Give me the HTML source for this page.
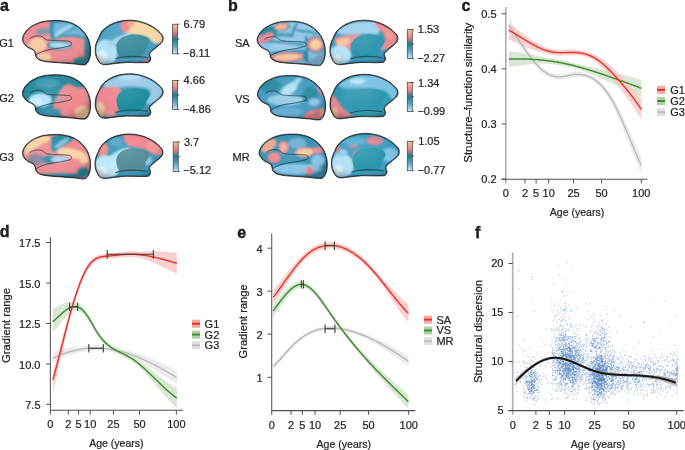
<!DOCTYPE html><html><head><meta charset="utf-8"><style>html,body{margin:0;padding:0;background:#fff;overflow:hidden}svg{display:block;will-change:transform}text{font-family:"Liberation Sans",sans-serif}</style></head><body>
<svg width="685" height="450" viewBox="0 0 685 450">
<defs><filter id="blM" x="-20%" y="-20%" width="140%" height="140%"><feGaussianBlur stdDeviation="1.3"/></filter><filter id="blS" x="-20%" y="-20%" width="140%" height="140%"><feGaussianBlur stdDeviation="0.9"/></filter><filter id="blT" x="-20%" y="-20%" width="140%" height="140%"><feGaussianBlur stdDeviation="0.7"/></filter><radialGradient id="shade" cx="0.45" cy="0.4" r="0.62"><stop offset="0" stop-color="#fff" stop-opacity="0.10"/><stop offset="0.6" stop-color="#fff" stop-opacity="0"/><stop offset="0.85" stop-color="#000" stop-opacity="0.05"/><stop offset="1" stop-color="#000" stop-opacity="0.22"/></radialGradient></defs>
<rect width="685" height="450" fill="#fff"/>
<text x="0" y="10.7" font-size="16" text-anchor="start" font-weight="bold" stroke="#000" stroke-width="0.35" fill="#231f20">a</text>
<text x="14.0" y="47" font-size="11" text-anchor="end" stroke="#231f20" stroke-width="0.22" fill="#231f20">G1</text>
<text x="14.0" y="102.4" font-size="11" text-anchor="end" stroke="#231f20" stroke-width="0.22" fill="#231f20">G2</text>
<text x="14.0" y="160.8" font-size="11" text-anchor="end" stroke="#231f20" stroke-width="0.22" fill="#231f20">G3</text>
<g transform="translate(22.3,20) scale(1.0,1.0)">
<clipPath id="cp1"><path d="M0.1,18.6 C0.5,15.5 2.5,12.5 4.4,10.2 C6.5,8 9,6.2 12.1,4.7 C15.5,3 18.5,2 22.1,1.3 C26,0.6 30,0.4 34.4,0.4 C39,0.4 43.5,1.2 47.7,2.4 C51.5,3.6 55,5.7 57.7,8 C60.5,10.4 62.8,13 64.4,15.8 C66.8,20 68.2,25 68.3,30.2 C68.4,33.5 68,36.5 67.1,39.1 C66.2,41.8 65,43.5 63.3,44.7 C60,45.3 56.5,44.5 53.3,44.1 C45.5,43.2 38,42.8 31,42.4 C26,42 21,41.5 17.7,40.2 C15,39 13.7,37.5 13.3,35.8 C13,34 13,32.5 12.1,31.3 C10.5,29.5 8.5,28.8 6.6,28 C4.5,27 3,25.5 2.1,24.1 C0.8,22.5 0,20.5 0.1,18.6 Z"/></clipPath>
<g clip-path="url(#cp1)">
<path d="M0.1,18.6 C0.5,15.5 2.5,12.5 4.4,10.2 C6.5,8 9,6.2 12.1,4.7 C15.5,3 18.5,2 22.1,1.3 C26,0.6 30,0.4 34.4,0.4 C39,0.4 43.5,1.2 47.7,2.4 C51.5,3.6 55,5.7 57.7,8 C60.5,10.4 62.8,13 64.4,15.8 C66.8,20 68.2,25 68.3,30.2 C68.4,33.5 68,36.5 67.1,39.1 C66.2,41.8 65,43.5 63.3,44.7 C60,45.3 56.5,44.5 53.3,44.1 C45.5,43.2 38,42.8 31,42.4 C26,42 21,41.5 17.7,40.2 C15,39 13.7,37.5 13.3,35.8 C13,34 13,32.5 12.1,31.3 C10.5,29.5 8.5,28.8 6.6,28 C4.5,27 3,25.5 2.1,24.1 C0.8,22.5 0,20.5 0.1,18.6 Z" fill="#ee8c92"/>
<g filter="url(#blM)">
<ellipse cx="15" cy="25" rx="9" ry="7" transform="rotate(0 15 25)" fill="#f6cba6" opacity="1"/>
<ellipse cx="21" cy="37" rx="8" ry="4.5" transform="rotate(0 21 37)" fill="#f6cba6" opacity="1"/>
<ellipse cx="21" cy="11.5" rx="8" ry="3.2" transform="rotate(-5 21 11.5)" fill="#7598aa" opacity="1"/>
<path d="M28,1 C36,-1 50,0 60,6 C65,10 67,15 66,20 C60,18 52,16 45,16.5 C38,17 33,19 30,21 C27,16 27,8 28,1 Z" fill="#2b8fa6" opacity="1"/>
<path d="M31.5,3 C38,1.5 50,2.5 58,7.5 C62,11 63.5,14 63,17 C58,15.5 52,14 45,14.5 C39,15 35,16.5 33,18 C31,14 31,8 31.5,3 Z" fill="#6fb6dc" opacity="1"/>
<ellipse cx="41.5" cy="10.5" rx="11" ry="2.6" transform="rotate(-33 41.5 10.5)" fill="#a6d8f2" opacity="1"/>
<path d="M34,18.5 C39,14 45,10.5 53,7.5" fill="none" stroke="#2a8ca4" stroke-width="1.4" stroke-linecap="round" opacity="0.9"/>
<ellipse cx="51" cy="27" rx="10" ry="7.5" transform="rotate(0 51 27)" fill="#e98e95" opacity="1"/>
<ellipse cx="37" cy="25.4" rx="12.5" ry="4.4" transform="rotate(2 37 25.4)" fill="#2a8ca4" opacity="1"/>
<ellipse cx="37.5" cy="25.3" rx="10.5" ry="3.1" transform="rotate(2 37.5 25.3)" fill="#a6dbf6" opacity="1"/>
<ellipse cx="66.5" cy="28" rx="4.5" ry="16" transform="rotate(0 66.5 28)" fill="#2a8ca0" opacity="1"/>
<ellipse cx="60" cy="42" rx="9" ry="4.5" transform="rotate(0 60 42)" fill="#2f8ea0" opacity="1"/>
<ellipse cx="38" cy="44.5" rx="20" ry="1.8" transform="rotate(0 38 44.5)" fill="#2f8a9a" opacity="0.7"/>
</g>

<path d="M7.4,18.7 C10,16.5 14,15.5 18,16 C21,16.5 22.5,19.5 25,20 C32,21 40,20.5 47.3,21.3 C49.5,22 49.8,24.8 48.2,25.6 C42,27.5 34,28.5 28.7,29.3 C23,30.5 19,31.5 12.7,35.3" fill="none" stroke="#0e2a35" stroke-width="0.9" opacity="0.75" filter="url(#blT)"/>
<path d="M0.1,18.6 C0.5,15.5 2.5,12.5 4.4,10.2 C6.5,8 9,6.2 12.1,4.7 C15.5,3 18.5,2 22.1,1.3 C26,0.6 30,0.4 34.4,0.4 C39,0.4 43.5,1.2 47.7,2.4 C51.5,3.6 55,5.7 57.7,8 C60.5,10.4 62.8,13 64.4,15.8 C66.8,20 68.2,25 68.3,30.2 C68.4,33.5 68,36.5 67.1,39.1 C66.2,41.8 65,43.5 63.3,44.7 C60,45.3 56.5,44.5 53.3,44.1 C45.5,43.2 38,42.8 31,42.4 C26,42 21,41.5 17.7,40.2 C15,39 13.7,37.5 13.3,35.8 C13,34 13,32.5 12.1,31.3 C10.5,29.5 8.5,28.8 6.6,28 C4.5,27 3,25.5 2.1,24.1 C0.8,22.5 0,20.5 0.1,18.6 Z" fill="url(#shade)"/>
<path d="M0.1,18.6 C0.5,15.5 2.5,12.5 4.4,10.2 C6.5,8 9,6.2 12.1,4.7 C15.5,3 18.5,2 22.1,1.3 C26,0.6 30,0.4 34.4,0.4 C39,0.4 43.5,1.2 47.7,2.4 C51.5,3.6 55,5.7 57.7,8 C60.5,10.4 62.8,13 64.4,15.8 C66.8,20 68.2,25 68.3,30.2 C68.4,33.5 68,36.5 67.1,39.1 C66.2,41.8 65,43.5 63.3,44.7 C60,45.3 56.5,44.5 53.3,44.1 C45.5,43.2 38,42.8 31,42.4 C26,42 21,41.5 17.7,40.2 C15,39 13.7,37.5 13.3,35.8 C13,34 13,32.5 12.1,31.3 C10.5,29.5 8.5,28.8 6.6,28 C4.5,27 3,25.5 2.1,24.1 C0.8,22.5 0,20.5 0.1,18.6 Z" fill="none" stroke="#0d2731" stroke-width="2.0" opacity="0.5" filter="url(#blT)"/>
</g>
<path d="M0.1,18.6 C0.5,15.5 2.5,12.5 4.4,10.2 C6.5,8 9,6.2 12.1,4.7 C15.5,3 18.5,2 22.1,1.3 C26,0.6 30,0.4 34.4,0.4 C39,0.4 43.5,1.2 47.7,2.4 C51.5,3.6 55,5.7 57.7,8 C60.5,10.4 62.8,13 64.4,15.8 C66.8,20 68.2,25 68.3,30.2 C68.4,33.5 68,36.5 67.1,39.1 C66.2,41.8 65,43.5 63.3,44.7 C60,45.3 56.5,44.5 53.3,44.1 C45.5,43.2 38,42.8 31,42.4 C26,42 21,41.5 17.7,40.2 C15,39 13.7,37.5 13.3,35.8 C13,34 13,32.5 12.1,31.3 C10.5,29.5 8.5,28.8 6.6,28 C4.5,27 3,25.5 2.1,24.1 C0.8,22.5 0,20.5 0.1,18.6 Z" fill="none" stroke="#1e1a18" stroke-width="1.0" opacity="0.82"/>
</g>
<g transform="translate(95.5,20.5) scale(1.0,1.0)">
<clipPath id="cp2"><path d="M-0.3,30.8 C-0.5,25 1,21 3,17.5 C4.5,13.5 6,11 8.6,8.6 C12,5.5 15.5,3.5 19.7,2 C24,0.5 29,-0.3 34.2,-0.3 C40,-0.3 46,1 50.8,3 C55.5,5 59,7 62,9.7 C64.3,11.7 65.6,13 66.4,14.2 C67.5,16 67.9,17.5 67.7,18.6 C67.5,21 66,22.8 64.2,24.2 C62,26 59.5,28 57.5,29.7 C55,31.7 54,33 54.2,34.2 C54.5,36 55.5,37 55.3,38.6 C55,40.5 54,41.5 53,42 C45,42.5 38,42 30.8,42 C23,42.5 16,43.5 10.8,44.2 C7,44.5 4,43 3,40.8 C1,37.5 -0.3,34 -0.3,30.8 Z"/></clipPath>
<g clip-path="url(#cp2)">
<path d="M-0.3,30.8 C-0.5,25 1,21 3,17.5 C4.5,13.5 6,11 8.6,8.6 C12,5.5 15.5,3.5 19.7,2 C24,0.5 29,-0.3 34.2,-0.3 C40,-0.3 46,1 50.8,3 C55.5,5 59,7 62,9.7 C64.3,11.7 65.6,13 66.4,14.2 C67.5,16 67.9,17.5 67.7,18.6 C67.5,21 66,22.8 64.2,24.2 C62,26 59.5,28 57.5,29.7 C55,31.7 54,33 54.2,34.2 C54.5,36 55.5,37 55.3,38.6 C55,40.5 54,41.5 53,42 C45,42.5 38,42 30.8,42 C23,42.5 16,43.5 10.8,44.2 C7,44.5 4,43 3,40.8 C1,37.5 -0.3,34 -0.3,30.8 Z" fill="#4a9cc0"/>
<g filter="url(#blM)">
<path d="M27,0 C40,-2 55,1 63,7 C67,11 69,16 67.5,22 C64,23.5 60,23.5 57.5,22 C55,18.5 52,16.5 48,15.5 C42,14.5 36,14 31,13 C28.5,12 27.5,6 27,0 Z" fill="#f8d8a6" opacity="1"/>
<ellipse cx="30" cy="5" rx="5" ry="7" transform="rotate(0 30 5)" fill="#ef8a90" opacity="1"/>
<ellipse cx="35" cy="3" rx="4" ry="3" transform="rotate(0 35 3)" fill="#f3a496" opacity="1"/>
<ellipse cx="18" cy="8" rx="6.5" ry="4.5" transform="rotate(0 18 8)" fill="#5aa8cc" opacity="1"/>
<ellipse cx="10" cy="32" rx="12" ry="13" transform="rotate(0 10 32)" fill="#b4e3f8" opacity="1"/>
<ellipse cx="6" cy="36" rx="6" ry="6" transform="rotate(0 6 36)" fill="#e2f6fd" opacity="1"/>
<ellipse cx="14" cy="12" rx="9" ry="6" transform="rotate(0 14 12)" fill="#4ea2c6" opacity="1"/>
<ellipse cx="23" cy="19.5" rx="13" ry="3" transform="rotate(-28 23 19.5)" fill="#9fd4f0" opacity="1"/>
<ellipse cx="50" cy="40.5" rx="3.5" ry="2" transform="rotate(0 50 40.5)" fill="#e8808a" opacity="1"/>
</g>
<path d="M21,25 C22,19 28,15 35,14.3 C42,13.6 49,14.5 53,18 C55,20.5 53.5,24 50,27.5 C51,30.5 49,34 45,36.5 C40,38.5 32,39 26,37.5 C22.5,36 21,31 21,25 Z" fill="#3b8c9c" opacity="1" filter="url(#blT)"/>

<path d="M20,38.5 C28,35 40,35.5 52,37" fill="none" stroke="#0e2a35" stroke-width="1.2" opacity="0.6" filter="url(#blT)"/>
<path d="M-0.3,30.8 C-0.5,25 1,21 3,17.5 C4.5,13.5 6,11 8.6,8.6 C12,5.5 15.5,3.5 19.7,2 C24,0.5 29,-0.3 34.2,-0.3 C40,-0.3 46,1 50.8,3 C55.5,5 59,7 62,9.7 C64.3,11.7 65.6,13 66.4,14.2 C67.5,16 67.9,17.5 67.7,18.6 C67.5,21 66,22.8 64.2,24.2 C62,26 59.5,28 57.5,29.7 C55,31.7 54,33 54.2,34.2 C54.5,36 55.5,37 55.3,38.6 C55,40.5 54,41.5 53,42 C45,42.5 38,42 30.8,42 C23,42.5 16,43.5 10.8,44.2 C7,44.5 4,43 3,40.8 C1,37.5 -0.3,34 -0.3,30.8 Z" fill="url(#shade)"/>
<path d="M-0.3,30.8 C-0.5,25 1,21 3,17.5 C4.5,13.5 6,11 8.6,8.6 C12,5.5 15.5,3.5 19.7,2 C24,0.5 29,-0.3 34.2,-0.3 C40,-0.3 46,1 50.8,3 C55.5,5 59,7 62,9.7 C64.3,11.7 65.6,13 66.4,14.2 C67.5,16 67.9,17.5 67.7,18.6 C67.5,21 66,22.8 64.2,24.2 C62,26 59.5,28 57.5,29.7 C55,31.7 54,33 54.2,34.2 C54.5,36 55.5,37 55.3,38.6 C55,40.5 54,41.5 53,42 C45,42.5 38,42 30.8,42 C23,42.5 16,43.5 10.8,44.2 C7,44.5 4,43 3,40.8 C1,37.5 -0.3,34 -0.3,30.8 Z" fill="none" stroke="#0d2731" stroke-width="2.0" opacity="0.5" filter="url(#blT)"/>
</g>
<path d="M-0.3,30.8 C-0.5,25 1,21 3,17.5 C4.5,13.5 6,11 8.6,8.6 C12,5.5 15.5,3.5 19.7,2 C24,0.5 29,-0.3 34.2,-0.3 C40,-0.3 46,1 50.8,3 C55.5,5 59,7 62,9.7 C64.3,11.7 65.6,13 66.4,14.2 C67.5,16 67.9,17.5 67.7,18.6 C67.5,21 66,22.8 64.2,24.2 C62,26 59.5,28 57.5,29.7 C55,31.7 54,33 54.2,34.2 C54.5,36 55.5,37 55.3,38.6 C55,40.5 54,41.5 53,42 C45,42.5 38,42 30.8,42 C23,42.5 16,43.5 10.8,44.2 C7,44.5 4,43 3,40.8 C1,37.5 -0.3,34 -0.3,30.8 Z" fill="none" stroke="#1e1a18" stroke-width="1.0" opacity="0.82"/>
</g>
<g transform="translate(22.3,74.3) scale(1.0,1.0)">
<clipPath id="cp3"><path d="M0.1,18.6 C0.5,15.5 2.5,12.5 4.4,10.2 C6.5,8 9,6.2 12.1,4.7 C15.5,3 18.5,2 22.1,1.3 C26,0.6 30,0.4 34.4,0.4 C39,0.4 43.5,1.2 47.7,2.4 C51.5,3.6 55,5.7 57.7,8 C60.5,10.4 62.8,13 64.4,15.8 C66.8,20 68.2,25 68.3,30.2 C68.4,33.5 68,36.5 67.1,39.1 C66.2,41.8 65,43.5 63.3,44.7 C60,45.3 56.5,44.5 53.3,44.1 C45.5,43.2 38,42.8 31,42.4 C26,42 21,41.5 17.7,40.2 C15,39 13.7,37.5 13.3,35.8 C13,34 13,32.5 12.1,31.3 C10.5,29.5 8.5,28.8 6.6,28 C4.5,27 3,25.5 2.1,24.1 C0.8,22.5 0,20.5 0.1,18.6 Z"/></clipPath>
<g clip-path="url(#cp3)">
<path d="M0.1,18.6 C0.5,15.5 2.5,12.5 4.4,10.2 C6.5,8 9,6.2 12.1,4.7 C15.5,3 18.5,2 22.1,1.3 C26,0.6 30,0.4 34.4,0.4 C39,0.4 43.5,1.2 47.7,2.4 C51.5,3.6 55,5.7 57.7,8 C60.5,10.4 62.8,13 64.4,15.8 C66.8,20 68.2,25 68.3,30.2 C68.4,33.5 68,36.5 67.1,39.1 C66.2,41.8 65,43.5 63.3,44.7 C60,45.3 56.5,44.5 53.3,44.1 C45.5,43.2 38,42.8 31,42.4 C26,42 21,41.5 17.7,40.2 C15,39 13.7,37.5 13.3,35.8 C13,34 13,32.5 12.1,31.3 C10.5,29.5 8.5,28.8 6.6,28 C4.5,27 3,25.5 2.1,24.1 C0.8,22.5 0,20.5 0.1,18.6 Z" fill="#2a8a9e"/>
<g filter="url(#blM)">
<ellipse cx="25" cy="9" rx="12" ry="5" transform="rotate(0 25 9)" fill="#3d9cb8" opacity="1"/>
<ellipse cx="18" cy="26" rx="11.5" ry="7" transform="rotate(0 18 26)" fill="#b5e4f9" opacity="1"/>
<ellipse cx="14" cy="27" rx="6" ry="4" transform="rotate(0 14 27)" fill="#d0f0fc" opacity="1"/>
<path d="M42,11 C50,9 58,10 64,15 C68,22 69,32 67,40 C64,45 55,46 46,44 C40,42 35,38 31,33 C30,29 33,24 36,20 C38,16 40,13 42,11 Z" fill="#ee8a90" opacity="1"/>
<ellipse cx="38" cy="25" rx="4" ry="3" transform="rotate(0 38 25)" fill="#c99aa8" opacity="1"/>
<ellipse cx="60" cy="38" rx="7.5" ry="6.5" transform="rotate(0 60 38)" fill="#f4c89e" opacity="1"/>
<ellipse cx="27" cy="38" rx="12" ry="4" transform="rotate(-5 27 38)" fill="#3a92ac" opacity="1"/>
<ellipse cx="56" cy="8" rx="11" ry="5.5" transform="rotate(10 56 8)" fill="#2a8a9e" opacity="1"/>
</g>

<path d="M7.4,18.7 C10,16.5 14,15.5 18,16 C21,16.5 22.5,19.5 25,20 C32,21 40,20.5 47.3,21.3 C49.5,22 49.8,24.8 48.2,25.6 C42,27.5 34,28.5 28.7,29.3 C23,30.5 19,31.5 12.7,35.3" fill="none" stroke="#0e2a35" stroke-width="0.9" opacity="0.75" filter="url(#blT)"/>
<path d="M0.1,18.6 C0.5,15.5 2.5,12.5 4.4,10.2 C6.5,8 9,6.2 12.1,4.7 C15.5,3 18.5,2 22.1,1.3 C26,0.6 30,0.4 34.4,0.4 C39,0.4 43.5,1.2 47.7,2.4 C51.5,3.6 55,5.7 57.7,8 C60.5,10.4 62.8,13 64.4,15.8 C66.8,20 68.2,25 68.3,30.2 C68.4,33.5 68,36.5 67.1,39.1 C66.2,41.8 65,43.5 63.3,44.7 C60,45.3 56.5,44.5 53.3,44.1 C45.5,43.2 38,42.8 31,42.4 C26,42 21,41.5 17.7,40.2 C15,39 13.7,37.5 13.3,35.8 C13,34 13,32.5 12.1,31.3 C10.5,29.5 8.5,28.8 6.6,28 C4.5,27 3,25.5 2.1,24.1 C0.8,22.5 0,20.5 0.1,18.6 Z" fill="url(#shade)"/>
<path d="M0.1,18.6 C0.5,15.5 2.5,12.5 4.4,10.2 C6.5,8 9,6.2 12.1,4.7 C15.5,3 18.5,2 22.1,1.3 C26,0.6 30,0.4 34.4,0.4 C39,0.4 43.5,1.2 47.7,2.4 C51.5,3.6 55,5.7 57.7,8 C60.5,10.4 62.8,13 64.4,15.8 C66.8,20 68.2,25 68.3,30.2 C68.4,33.5 68,36.5 67.1,39.1 C66.2,41.8 65,43.5 63.3,44.7 C60,45.3 56.5,44.5 53.3,44.1 C45.5,43.2 38,42.8 31,42.4 C26,42 21,41.5 17.7,40.2 C15,39 13.7,37.5 13.3,35.8 C13,34 13,32.5 12.1,31.3 C10.5,29.5 8.5,28.8 6.6,28 C4.5,27 3,25.5 2.1,24.1 C0.8,22.5 0,20.5 0.1,18.6 Z" fill="none" stroke="#0d2731" stroke-width="2.0" opacity="0.5" filter="url(#blT)"/>
</g>
<path d="M0.1,18.6 C0.5,15.5 2.5,12.5 4.4,10.2 C6.5,8 9,6.2 12.1,4.7 C15.5,3 18.5,2 22.1,1.3 C26,0.6 30,0.4 34.4,0.4 C39,0.4 43.5,1.2 47.7,2.4 C51.5,3.6 55,5.7 57.7,8 C60.5,10.4 62.8,13 64.4,15.8 C66.8,20 68.2,25 68.3,30.2 C68.4,33.5 68,36.5 67.1,39.1 C66.2,41.8 65,43.5 63.3,44.7 C60,45.3 56.5,44.5 53.3,44.1 C45.5,43.2 38,42.8 31,42.4 C26,42 21,41.5 17.7,40.2 C15,39 13.7,37.5 13.3,35.8 C13,34 13,32.5 12.1,31.3 C10.5,29.5 8.5,28.8 6.6,28 C4.5,27 3,25.5 2.1,24.1 C0.8,22.5 0,20.5 0.1,18.6 Z" fill="none" stroke="#1e1a18" stroke-width="1.0" opacity="0.82"/>
</g>
<g transform="translate(95.5,74.1) scale(1.0,1.0)">
<clipPath id="cp4"><path d="M-0.3,30.8 C-0.5,25 1,21 3,17.5 C4.5,13.5 6,11 8.6,8.6 C12,5.5 15.5,3.5 19.7,2 C24,0.5 29,-0.3 34.2,-0.3 C40,-0.3 46,1 50.8,3 C55.5,5 59,7 62,9.7 C64.3,11.7 65.6,13 66.4,14.2 C67.5,16 67.9,17.5 67.7,18.6 C67.5,21 66,22.8 64.2,24.2 C62,26 59.5,28 57.5,29.7 C55,31.7 54,33 54.2,34.2 C54.5,36 55.5,37 55.3,38.6 C55,40.5 54,41.5 53,42 C45,42.5 38,42 30.8,42 C23,42.5 16,43.5 10.8,44.2 C7,44.5 4,43 3,40.8 C1,37.5 -0.3,34 -0.3,30.8 Z"/></clipPath>
<g clip-path="url(#cp4)">
<path d="M-0.3,30.8 C-0.5,25 1,21 3,17.5 C4.5,13.5 6,11 8.6,8.6 C12,5.5 15.5,3.5 19.7,2 C24,0.5 29,-0.3 34.2,-0.3 C40,-0.3 46,1 50.8,3 C55.5,5 59,7 62,9.7 C64.3,11.7 65.6,13 66.4,14.2 C67.5,16 67.9,17.5 67.7,18.6 C67.5,21 66,22.8 64.2,24.2 C62,26 59.5,28 57.5,29.7 C55,31.7 54,33 54.2,34.2 C54.5,36 55.5,37 55.3,38.6 C55,40.5 54,41.5 53,42 C45,42.5 38,42 30.8,42 C23,42.5 16,43.5 10.8,44.2 C7,44.5 4,43 3,40.8 C1,37.5 -0.3,34 -0.3,30.8 Z" fill="#3b95b5"/>
<g filter="url(#blM)">
<path d="M8,9 C18,2 30,-1 42,0 C54,1 63,6 67,13 C69,18 67,24 60,28 L52,31 C50,29 52,25 55,21 C56,18 54,15 50,14 C40,12 28,12 20,14 C15,15 11,14 8,12 Z" fill="#9ccbea" opacity="1"/>
<ellipse cx="34" cy="3" rx="12" ry="3" transform="rotate(0 34 3)" fill="#b8dff5" opacity="1"/>
<path d="M2,16 C8,12 18,12 25,14 C26,20 25,28 24,34 C22,39 18,42 12,43 C6,43 2,40 1,34 C0,28 0,20 2,16 Z" fill="#ee8690" opacity="1"/>
<ellipse cx="4" cy="36" rx="5" ry="8" transform="rotate(0 4 36)" fill="#f0c8a0" opacity="1"/>
<ellipse cx="14" cy="40.5" rx="6" ry="3" transform="rotate(0 14 40.5)" fill="#e8a0a0" opacity="1"/>
</g>
<path d="M21,25 C22,19 28,15 35,14.3 C42,13.6 49,14.5 53,18 C55,20.5 53.5,24 50,27.5 C51,30.5 49,34 45,36.5 C40,38.5 32,39 26,37.5 C22.5,36 21,31 21,25 Z" fill="#1e8c9c" opacity="1" filter="url(#blT)"/>

<path d="M20,38.5 C28,35 40,35.5 52,37" fill="none" stroke="#0e2a35" stroke-width="1.2" opacity="0.6" filter="url(#blT)"/>
<path d="M-0.3,30.8 C-0.5,25 1,21 3,17.5 C4.5,13.5 6,11 8.6,8.6 C12,5.5 15.5,3.5 19.7,2 C24,0.5 29,-0.3 34.2,-0.3 C40,-0.3 46,1 50.8,3 C55.5,5 59,7 62,9.7 C64.3,11.7 65.6,13 66.4,14.2 C67.5,16 67.9,17.5 67.7,18.6 C67.5,21 66,22.8 64.2,24.2 C62,26 59.5,28 57.5,29.7 C55,31.7 54,33 54.2,34.2 C54.5,36 55.5,37 55.3,38.6 C55,40.5 54,41.5 53,42 C45,42.5 38,42 30.8,42 C23,42.5 16,43.5 10.8,44.2 C7,44.5 4,43 3,40.8 C1,37.5 -0.3,34 -0.3,30.8 Z" fill="url(#shade)"/>
<path d="M-0.3,30.8 C-0.5,25 1,21 3,17.5 C4.5,13.5 6,11 8.6,8.6 C12,5.5 15.5,3.5 19.7,2 C24,0.5 29,-0.3 34.2,-0.3 C40,-0.3 46,1 50.8,3 C55.5,5 59,7 62,9.7 C64.3,11.7 65.6,13 66.4,14.2 C67.5,16 67.9,17.5 67.7,18.6 C67.5,21 66,22.8 64.2,24.2 C62,26 59.5,28 57.5,29.7 C55,31.7 54,33 54.2,34.2 C54.5,36 55.5,37 55.3,38.6 C55,40.5 54,41.5 53,42 C45,42.5 38,42 30.8,42 C23,42.5 16,43.5 10.8,44.2 C7,44.5 4,43 3,40.8 C1,37.5 -0.3,34 -0.3,30.8 Z" fill="none" stroke="#0d2731" stroke-width="2.0" opacity="0.5" filter="url(#blT)"/>
</g>
<path d="M-0.3,30.8 C-0.5,25 1,21 3,17.5 C4.5,13.5 6,11 8.6,8.6 C12,5.5 15.5,3.5 19.7,2 C24,0.5 29,-0.3 34.2,-0.3 C40,-0.3 46,1 50.8,3 C55.5,5 59,7 62,9.7 C64.3,11.7 65.6,13 66.4,14.2 C67.5,16 67.9,17.5 67.7,18.6 C67.5,21 66,22.8 64.2,24.2 C62,26 59.5,28 57.5,29.7 C55,31.7 54,33 54.2,34.2 C54.5,36 55.5,37 55.3,38.6 C55,40.5 54,41.5 53,42 C45,42.5 38,42 30.8,42 C23,42.5 16,43.5 10.8,44.2 C7,44.5 4,43 3,40.8 C1,37.5 -0.3,34 -0.3,30.8 Z" fill="none" stroke="#1e1a18" stroke-width="1.0" opacity="0.82"/>
</g>
<g transform="translate(22.3,134) scale(1.0,1.0)">
<clipPath id="cp5"><path d="M0.1,18.6 C0.5,15.5 2.5,12.5 4.4,10.2 C6.5,8 9,6.2 12.1,4.7 C15.5,3 18.5,2 22.1,1.3 C26,0.6 30,0.4 34.4,0.4 C39,0.4 43.5,1.2 47.7,2.4 C51.5,3.6 55,5.7 57.7,8 C60.5,10.4 62.8,13 64.4,15.8 C66.8,20 68.2,25 68.3,30.2 C68.4,33.5 68,36.5 67.1,39.1 C66.2,41.8 65,43.5 63.3,44.7 C60,45.3 56.5,44.5 53.3,44.1 C45.5,43.2 38,42.8 31,42.4 C26,42 21,41.5 17.7,40.2 C15,39 13.7,37.5 13.3,35.8 C13,34 13,32.5 12.1,31.3 C10.5,29.5 8.5,28.8 6.6,28 C4.5,27 3,25.5 2.1,24.1 C0.8,22.5 0,20.5 0.1,18.6 Z"/></clipPath>
<g clip-path="url(#cp5)">
<path d="M0.1,18.6 C0.5,15.5 2.5,12.5 4.4,10.2 C6.5,8 9,6.2 12.1,4.7 C15.5,3 18.5,2 22.1,1.3 C26,0.6 30,0.4 34.4,0.4 C39,0.4 43.5,1.2 47.7,2.4 C51.5,3.6 55,5.7 57.7,8 C60.5,10.4 62.8,13 64.4,15.8 C66.8,20 68.2,25 68.3,30.2 C68.4,33.5 68,36.5 67.1,39.1 C66.2,41.8 65,43.5 63.3,44.7 C60,45.3 56.5,44.5 53.3,44.1 C45.5,43.2 38,42.8 31,42.4 C26,42 21,41.5 17.7,40.2 C15,39 13.7,37.5 13.3,35.8 C13,34 13,32.5 12.1,31.3 C10.5,29.5 8.5,28.8 6.6,28 C4.5,27 3,25.5 2.1,24.1 C0.8,22.5 0,20.5 0.1,18.6 Z" fill="#ee8c92"/>
<g filter="url(#blM)">
<path d="M2,14 C5,7 12,3 22,1.5 C26,1 28,3 28,6 C24,8 18,11 12,15 C8,18 5,20 3,21 Z" fill="#f7d4a6" opacity="1"/>
<ellipse cx="50" cy="19.5" rx="16" ry="4.5" transform="rotate(12 50 19.5)" fill="#f7d6a8" opacity="1"/>
<ellipse cx="62" cy="26" rx="4.5" ry="3.5" transform="rotate(0 62 26)" fill="#f7d6a8" opacity="1"/>
<path d="M29,3 C33,1 40,0 48,1 C52,2 52,5 49,7 C44,10 38,14 34,17 C31,19 29,18 29,14 Z" fill="#2a8fa5" opacity="1"/>
<ellipse cx="39.5" cy="9" rx="8.5" ry="2.2" transform="rotate(-33 39.5 9)" fill="#8cc8e8" opacity="1"/>
<ellipse cx="14" cy="25.5" rx="9" ry="5.5" transform="rotate(0 14 25.5)" fill="#8a8aa5" opacity="1"/>
<ellipse cx="27" cy="25.5" rx="7" ry="4" transform="rotate(0 27 25.5)" fill="#2a8fa5" opacity="1"/>
<ellipse cx="37.5" cy="25.5" rx="9" ry="3" transform="rotate(0 37.5 25.5)" fill="#a8dcf8" opacity="1"/>
<ellipse cx="38" cy="42" rx="26" ry="2.5" transform="rotate(0 38 42)" fill="#2a8ca0" opacity="1"/>
<ellipse cx="61" cy="38" rx="6" ry="4.5" transform="rotate(0 61 38)" fill="#2a8ca0" opacity="1"/>
</g>

<path d="M7.4,18.7 C10,16.5 14,15.5 18,16 C21,16.5 22.5,19.5 25,20 C32,21 40,20.5 47.3,21.3 C49.5,22 49.8,24.8 48.2,25.6 C42,27.5 34,28.5 28.7,29.3 C23,30.5 19,31.5 12.7,35.3" fill="none" stroke="#0e2a35" stroke-width="0.9" opacity="0.75" filter="url(#blT)"/>
<path d="M0.1,18.6 C0.5,15.5 2.5,12.5 4.4,10.2 C6.5,8 9,6.2 12.1,4.7 C15.5,3 18.5,2 22.1,1.3 C26,0.6 30,0.4 34.4,0.4 C39,0.4 43.5,1.2 47.7,2.4 C51.5,3.6 55,5.7 57.7,8 C60.5,10.4 62.8,13 64.4,15.8 C66.8,20 68.2,25 68.3,30.2 C68.4,33.5 68,36.5 67.1,39.1 C66.2,41.8 65,43.5 63.3,44.7 C60,45.3 56.5,44.5 53.3,44.1 C45.5,43.2 38,42.8 31,42.4 C26,42 21,41.5 17.7,40.2 C15,39 13.7,37.5 13.3,35.8 C13,34 13,32.5 12.1,31.3 C10.5,29.5 8.5,28.8 6.6,28 C4.5,27 3,25.5 2.1,24.1 C0.8,22.5 0,20.5 0.1,18.6 Z" fill="url(#shade)"/>
<path d="M0.1,18.6 C0.5,15.5 2.5,12.5 4.4,10.2 C6.5,8 9,6.2 12.1,4.7 C15.5,3 18.5,2 22.1,1.3 C26,0.6 30,0.4 34.4,0.4 C39,0.4 43.5,1.2 47.7,2.4 C51.5,3.6 55,5.7 57.7,8 C60.5,10.4 62.8,13 64.4,15.8 C66.8,20 68.2,25 68.3,30.2 C68.4,33.5 68,36.5 67.1,39.1 C66.2,41.8 65,43.5 63.3,44.7 C60,45.3 56.5,44.5 53.3,44.1 C45.5,43.2 38,42.8 31,42.4 C26,42 21,41.5 17.7,40.2 C15,39 13.7,37.5 13.3,35.8 C13,34 13,32.5 12.1,31.3 C10.5,29.5 8.5,28.8 6.6,28 C4.5,27 3,25.5 2.1,24.1 C0.8,22.5 0,20.5 0.1,18.6 Z" fill="none" stroke="#0d2731" stroke-width="2.0" opacity="0.5" filter="url(#blT)"/>
</g>
<path d="M0.1,18.6 C0.5,15.5 2.5,12.5 4.4,10.2 C6.5,8 9,6.2 12.1,4.7 C15.5,3 18.5,2 22.1,1.3 C26,0.6 30,0.4 34.4,0.4 C39,0.4 43.5,1.2 47.7,2.4 C51.5,3.6 55,5.7 57.7,8 C60.5,10.4 62.8,13 64.4,15.8 C66.8,20 68.2,25 68.3,30.2 C68.4,33.5 68,36.5 67.1,39.1 C66.2,41.8 65,43.5 63.3,44.7 C60,45.3 56.5,44.5 53.3,44.1 C45.5,43.2 38,42.8 31,42.4 C26,42 21,41.5 17.7,40.2 C15,39 13.7,37.5 13.3,35.8 C13,34 13,32.5 12.1,31.3 C10.5,29.5 8.5,28.8 6.6,28 C4.5,27 3,25.5 2.1,24.1 C0.8,22.5 0,20.5 0.1,18.6 Z" fill="none" stroke="#1e1a18" stroke-width="1.0" opacity="0.82"/>
</g>
<g transform="translate(95.3,134.3) scale(1.0,1.0)">
<clipPath id="cp6"><path d="M-0.3,30.8 C-0.5,25 1,21 3,17.5 C4.5,13.5 6,11 8.6,8.6 C12,5.5 15.5,3.5 19.7,2 C24,0.5 29,-0.3 34.2,-0.3 C40,-0.3 46,1 50.8,3 C55.5,5 59,7 62,9.7 C64.3,11.7 65.6,13 66.4,14.2 C67.5,16 67.9,17.5 67.7,18.6 C67.5,21 66,22.8 64.2,24.2 C62,26 59.5,28 57.5,29.7 C55,31.7 54,33 54.2,34.2 C54.5,36 55.5,37 55.3,38.6 C55,40.5 54,41.5 53,42 C45,42.5 38,42 30.8,42 C23,42.5 16,43.5 10.8,44.2 C7,44.5 4,43 3,40.8 C1,37.5 -0.3,34 -0.3,30.8 Z"/></clipPath>
<g clip-path="url(#cp6)">
<path d="M-0.3,30.8 C-0.5,25 1,21 3,17.5 C4.5,13.5 6,11 8.6,8.6 C12,5.5 15.5,3.5 19.7,2 C24,0.5 29,-0.3 34.2,-0.3 C40,-0.3 46,1 50.8,3 C55.5,5 59,7 62,9.7 C64.3,11.7 65.6,13 66.4,14.2 C67.5,16 67.9,17.5 67.7,18.6 C67.5,21 66,22.8 64.2,24.2 C62,26 59.5,28 57.5,29.7 C55,31.7 54,33 54.2,34.2 C54.5,36 55.5,37 55.3,38.6 C55,40.5 54,41.5 53,42 C45,42.5 38,42 30.8,42 C23,42.5 16,43.5 10.8,44.2 C7,44.5 4,43 3,40.8 C1,37.5 -0.3,34 -0.3,30.8 Z" fill="#3f97b8"/>
<g filter="url(#blM)">
<path d="M27,0 C40,-2 55,1 63,7 C67,11 69,16 67.5,21 C64,21 61,20 58.8,21 C56,19 54,17 50,15.5 C44,13.5 38,12.5 33,12 C30,9 28,5 27,0 Z" fill="#f08890" opacity="1"/>
<ellipse cx="58" cy="12" rx="7" ry="6" transform="rotate(0 58 12)" fill="#f4a098" opacity="0.7"/>
<ellipse cx="7" cy="15" rx="6" ry="7" transform="rotate(0 7 15)" fill="#f09090" opacity="1"/>
<ellipse cx="5" cy="12" rx="3" ry="3" transform="rotate(0 5 12)" fill="#f2a88f" opacity="1"/>
<ellipse cx="21" cy="7.5" rx="6.5" ry="4.5" transform="rotate(0 21 7.5)" fill="#5aaad0" opacity="1"/>
<ellipse cx="11" cy="33" rx="13" ry="12" transform="rotate(0 11 33)" fill="#c2e9fa" opacity="1"/>
<ellipse cx="6" cy="37" rx="6" ry="5" transform="rotate(0 6 37)" fill="#e2f6fd" opacity="1"/>
<ellipse cx="22" cy="21" rx="14" ry="3.5" transform="rotate(-30 22 21)" fill="#b8e6fa" opacity="1"/>
<ellipse cx="52" cy="26.5" rx="5" ry="4.5" transform="rotate(0 52 26.5)" fill="#8cc4e4" opacity="1"/>
</g>
<path d="M21,25 C22,19 28,15 35,14.3 C42,13.6 49,14.5 53,18 C55,20.5 53.5,24 50,27.5 C51,30.5 49,34 45,36.5 C40,38.5 32,39 26,37.5 C22.5,36 21,31 21,25 Z" fill="#528c9a" opacity="1" filter="url(#blT)"/>

<path d="M20,38.5 C28,35 40,35.5 52,37" fill="none" stroke="#0e2a35" stroke-width="1.2" opacity="0.6" filter="url(#blT)"/>
<path d="M-0.3,30.8 C-0.5,25 1,21 3,17.5 C4.5,13.5 6,11 8.6,8.6 C12,5.5 15.5,3.5 19.7,2 C24,0.5 29,-0.3 34.2,-0.3 C40,-0.3 46,1 50.8,3 C55.5,5 59,7 62,9.7 C64.3,11.7 65.6,13 66.4,14.2 C67.5,16 67.9,17.5 67.7,18.6 C67.5,21 66,22.8 64.2,24.2 C62,26 59.5,28 57.5,29.7 C55,31.7 54,33 54.2,34.2 C54.5,36 55.5,37 55.3,38.6 C55,40.5 54,41.5 53,42 C45,42.5 38,42 30.8,42 C23,42.5 16,43.5 10.8,44.2 C7,44.5 4,43 3,40.8 C1,37.5 -0.3,34 -0.3,30.8 Z" fill="url(#shade)"/>
<path d="M-0.3,30.8 C-0.5,25 1,21 3,17.5 C4.5,13.5 6,11 8.6,8.6 C12,5.5 15.5,3.5 19.7,2 C24,0.5 29,-0.3 34.2,-0.3 C40,-0.3 46,1 50.8,3 C55.5,5 59,7 62,9.7 C64.3,11.7 65.6,13 66.4,14.2 C67.5,16 67.9,17.5 67.7,18.6 C67.5,21 66,22.8 64.2,24.2 C62,26 59.5,28 57.5,29.7 C55,31.7 54,33 54.2,34.2 C54.5,36 55.5,37 55.3,38.6 C55,40.5 54,41.5 53,42 C45,42.5 38,42 30.8,42 C23,42.5 16,43.5 10.8,44.2 C7,44.5 4,43 3,40.8 C1,37.5 -0.3,34 -0.3,30.8 Z" fill="none" stroke="#0d2731" stroke-width="2.0" opacity="0.5" filter="url(#blT)"/>
</g>
<path d="M-0.3,30.8 C-0.5,25 1,21 3,17.5 C4.5,13.5 6,11 8.6,8.6 C12,5.5 15.5,3.5 19.7,2 C24,0.5 29,-0.3 34.2,-0.3 C40,-0.3 46,1 50.8,3 C55.5,5 59,7 62,9.7 C64.3,11.7 65.6,13 66.4,14.2 C67.5,16 67.9,17.5 67.7,18.6 C67.5,21 66,22.8 64.2,24.2 C62,26 59.5,28 57.5,29.7 C55,31.7 54,33 54.2,34.2 C54.5,36 55.5,37 55.3,38.6 C55,40.5 54,41.5 53,42 C45,42.5 38,42 30.8,42 C23,42.5 16,43.5 10.8,44.2 C7,44.5 4,43 3,40.8 C1,37.5 -0.3,34 -0.3,30.8 Z" fill="none" stroke="#1e1a18" stroke-width="1.0" opacity="0.82"/>
</g>
<linearGradient id="cb7" x1="0" y1="0" x2="0" y2="1"><stop offset="0" stop-color="#f7c48c"/><stop offset="0.28" stop-color="#e97c84"/><stop offset="0.5" stop-color="#16808f"/><stop offset="0.75" stop-color="#5fa6d2"/><stop offset="1" stop-color="#c4e9fa"/></linearGradient>
<rect x="172.6" y="24.2" width="5" height="29.599999999999998" fill="url(#cb7)" stroke="#4a4a4a" stroke-width="0.8"/>
<line x1="177.6" y1="24.2" x2="179.2" y2="24.2" stroke="#333" stroke-width="0.9"/>
<line x1="177.6" y1="39.0" x2="179.2" y2="39.0" stroke="#333" stroke-width="0.9"/>
<line x1="177.6" y1="53.8" x2="179.2" y2="53.8" stroke="#333" stroke-width="0.9"/>
<text x="183.6" y="28.1" font-size="11" text-anchor="start" stroke="#231f20" stroke-width="0.22" fill="#231f20">6.79</text>
<text x="183.0" y="57.2" font-size="11" text-anchor="start" stroke="#231f20" stroke-width="0.22" fill="#231f20">−8.11</text>
<linearGradient id="cb8" x1="0" y1="0" x2="0" y2="1"><stop offset="0" stop-color="#f7c48c"/><stop offset="0.28" stop-color="#e97c84"/><stop offset="0.5" stop-color="#16808f"/><stop offset="0.75" stop-color="#5fa6d2"/><stop offset="1" stop-color="#c4e9fa"/></linearGradient>
<rect x="172.6" y="80.4" width="5" height="29.0" fill="url(#cb8)" stroke="#4a4a4a" stroke-width="0.8"/>
<line x1="177.6" y1="80.4" x2="179.2" y2="80.4" stroke="#333" stroke-width="0.9"/>
<line x1="177.6" y1="94.9" x2="179.2" y2="94.9" stroke="#333" stroke-width="0.9"/>
<line x1="177.6" y1="109.4" x2="179.2" y2="109.4" stroke="#333" stroke-width="0.9"/>
<text x="183.6" y="84.3" font-size="11" text-anchor="start" stroke="#231f20" stroke-width="0.22" fill="#231f20">4.66</text>
<text x="183.0" y="113.0" font-size="11" text-anchor="start" stroke="#231f20" stroke-width="0.22" fill="#231f20">−4.86</text>
<linearGradient id="cb9" x1="0" y1="0" x2="0" y2="1"><stop offset="0" stop-color="#f7c48c"/><stop offset="0.28" stop-color="#e97c84"/><stop offset="0.5" stop-color="#16808f"/><stop offset="0.75" stop-color="#5fa6d2"/><stop offset="1" stop-color="#c4e9fa"/></linearGradient>
<rect x="173.2" y="141.9" width="5" height="29.5" fill="url(#cb9)" stroke="#4a4a4a" stroke-width="0.8"/>
<line x1="178.2" y1="141.9" x2="179.79999999999998" y2="141.9" stroke="#333" stroke-width="0.9"/>
<line x1="178.2" y1="156.65" x2="179.79999999999998" y2="156.65" stroke="#333" stroke-width="0.9"/>
<line x1="178.2" y1="171.4" x2="179.79999999999998" y2="171.4" stroke="#333" stroke-width="0.9"/>
<text x="183.9" y="146.0" font-size="11" text-anchor="start" stroke="#231f20" stroke-width="0.22" fill="#231f20">3.7</text>
<text x="183.3" y="174.1" font-size="11" text-anchor="start" stroke="#231f20" stroke-width="0.22" fill="#231f20">−5.12</text>
<text x="228.0" y="10.7" font-size="16" text-anchor="start" font-weight="bold" stroke="#000" stroke-width="0.35" fill="#231f20">b</text>
<text x="249.6" y="46.9" font-size="11" text-anchor="end" stroke="#231f20" stroke-width="0.22" fill="#231f20">SA</text>
<text x="249.6" y="103.2" font-size="11" text-anchor="end" stroke="#231f20" stroke-width="0.22" fill="#231f20">VS</text>
<text x="249.6" y="160.8" font-size="11" text-anchor="end" stroke="#231f20" stroke-width="0.22" fill="#231f20">MR</text>
<g transform="translate(257,20.8) scale(1.0,1.0)">
<clipPath id="cp10"><path d="M0.1,18.6 C0.5,15.5 2.5,12.5 4.4,10.2 C6.5,8 9,6.2 12.1,4.7 C15.5,3 18.5,2 22.1,1.3 C26,0.6 30,0.4 34.4,0.4 C39,0.4 43.5,1.2 47.7,2.4 C51.5,3.6 55,5.7 57.7,8 C60.5,10.4 62.8,13 64.4,15.8 C66.8,20 68.2,25 68.3,30.2 C68.4,33.5 68,36.5 67.1,39.1 C66.2,41.8 65,43.5 63.3,44.7 C60,45.3 56.5,44.5 53.3,44.1 C45.5,43.2 38,42.8 31,42.4 C26,42 21,41.5 17.7,40.2 C15,39 13.7,37.5 13.3,35.8 C13,34 13,32.5 12.1,31.3 C10.5,29.5 8.5,28.8 6.6,28 C4.5,27 3,25.5 2.1,24.1 C0.8,22.5 0,20.5 0.1,18.6 Z"/></clipPath>
<g clip-path="url(#cp10)">
<path d="M0.1,18.6 C0.5,15.5 2.5,12.5 4.4,10.2 C6.5,8 9,6.2 12.1,4.7 C15.5,3 18.5,2 22.1,1.3 C26,0.6 30,0.4 34.4,0.4 C39,0.4 43.5,1.2 47.7,2.4 C51.5,3.6 55,5.7 57.7,8 C60.5,10.4 62.8,13 64.4,15.8 C66.8,20 68.2,25 68.3,30.2 C68.4,33.5 68,36.5 67.1,39.1 C66.2,41.8 65,43.5 63.3,44.7 C60,45.3 56.5,44.5 53.3,44.1 C45.5,43.2 38,42.8 31,42.4 C26,42 21,41.5 17.7,40.2 C15,39 13.7,37.5 13.3,35.8 C13,34 13,32.5 12.1,31.3 C10.5,29.5 8.5,28.8 6.6,28 C4.5,27 3,25.5 2.1,24.1 C0.8,22.5 0,20.5 0.1,18.6 Z" fill="#8ec6ea"/>
<g filter="url(#blS)">
<ellipse cx="28" cy="24.5" rx="14" ry="4" transform="rotate(0 28 24.5)" fill="#9ccbeb" opacity="1"/>
<ellipse cx="50" cy="8" rx="11" ry="4.5" transform="rotate(15 50 8)" fill="#9ccbeb" opacity="1"/>
<ellipse cx="12" cy="12" rx="9" ry="6" transform="rotate(-20 12 12)" fill="#2a8ca2" opacity="1"/>
<path d="M14,14.5 C20,14 28,13 35,15" fill="none" stroke="#2a8b9f" stroke-width="3" stroke-linecap="round" opacity="0.9"/>
<path d="M3.6,11.5 C8,9 14,7.5 20,7 M34.7,14.9 C36,10 38,6 40,3.8 M40,9.3 C47,10 54,11 60,12.6 M8,20.4 C20,21 34,22.5 45.8,23.8 M14.7,32.6 C25,31 36,30.5 46.9,30.4 M49,16 C50,24 50.5,32 50.2,40.4" fill="none" stroke="#22849c" stroke-width="2.2" stroke-linecap="round" opacity="0.9"/>
<ellipse cx="24.4" cy="6" rx="9" ry="4.2" transform="rotate(-5 24.4 6)" fill="#2a8ca2" opacity="1"/>
<ellipse cx="24.4" cy="6" rx="7.5" ry="3.2" transform="rotate(-5 24.4 6)" fill="#ee9a94" opacity="1"/>
<ellipse cx="24.4" cy="6" rx="5" ry="2" transform="rotate(-5 24.4 6)" fill="#f5bf9c" opacity="1"/>
<ellipse cx="10" cy="16.5" rx="8" ry="5" transform="rotate(-25 10 16.5)" fill="#2a8ca2" opacity="1"/>
<ellipse cx="10" cy="16.5" rx="7" ry="4" transform="rotate(-25 10 16.5)" fill="#ec8a92" opacity="1"/>
<ellipse cx="2" cy="20" rx="2.5" ry="3.5" transform="rotate(0 2 20)" fill="#ec8a92" opacity="1"/>
<ellipse cx="30.5" cy="36.5" rx="18" ry="6" transform="rotate(-3 30.5 36.5)" fill="#2a8ca2" opacity="1"/>
<ellipse cx="30.5" cy="36.5" rx="16.5" ry="4.8" transform="rotate(-3 30.5 36.5)" fill="#ee8a92" opacity="1"/>
<ellipse cx="30.5" cy="36.3" rx="13.5" ry="3.2" transform="rotate(-3 30.5 36.3)" fill="#f6c8a0" opacity="1"/>
<ellipse cx="58.5" cy="23.7" rx="9.5" ry="8.5" transform="rotate(0 58.5 23.7)" fill="#2a8ca2" opacity="1"/>
<ellipse cx="58.5" cy="23.7" rx="8" ry="7.2" transform="rotate(0 58.5 23.7)" fill="#ee8a92" opacity="1"/>
<ellipse cx="59" cy="23.7" rx="5.8" ry="5.2" transform="rotate(0 59 23.7)" fill="#f6d2a0" opacity="1"/>
<ellipse cx="48.5" cy="35" rx="2.5" ry="5" transform="rotate(0 48.5 35)" fill="#2a8ca2" opacity="1"/>
</g>

<path d="M7.4,18.7 C10,16.5 14,15.5 18,16 C21,16.5 22.5,19.5 25,20 C32,21 40,20.5 47.3,21.3 C49.5,22 49.8,24.8 48.2,25.6 C42,27.5 34,28.5 28.7,29.3 C23,30.5 19,31.5 12.7,35.3" fill="none" stroke="#0e2a35" stroke-width="0.9" opacity="0.75" filter="url(#blT)"/>
<path d="M0.1,18.6 C0.5,15.5 2.5,12.5 4.4,10.2 C6.5,8 9,6.2 12.1,4.7 C15.5,3 18.5,2 22.1,1.3 C26,0.6 30,0.4 34.4,0.4 C39,0.4 43.5,1.2 47.7,2.4 C51.5,3.6 55,5.7 57.7,8 C60.5,10.4 62.8,13 64.4,15.8 C66.8,20 68.2,25 68.3,30.2 C68.4,33.5 68,36.5 67.1,39.1 C66.2,41.8 65,43.5 63.3,44.7 C60,45.3 56.5,44.5 53.3,44.1 C45.5,43.2 38,42.8 31,42.4 C26,42 21,41.5 17.7,40.2 C15,39 13.7,37.5 13.3,35.8 C13,34 13,32.5 12.1,31.3 C10.5,29.5 8.5,28.8 6.6,28 C4.5,27 3,25.5 2.1,24.1 C0.8,22.5 0,20.5 0.1,18.6 Z" fill="url(#shade)"/>
<path d="M0.1,18.6 C0.5,15.5 2.5,12.5 4.4,10.2 C6.5,8 9,6.2 12.1,4.7 C15.5,3 18.5,2 22.1,1.3 C26,0.6 30,0.4 34.4,0.4 C39,0.4 43.5,1.2 47.7,2.4 C51.5,3.6 55,5.7 57.7,8 C60.5,10.4 62.8,13 64.4,15.8 C66.8,20 68.2,25 68.3,30.2 C68.4,33.5 68,36.5 67.1,39.1 C66.2,41.8 65,43.5 63.3,44.7 C60,45.3 56.5,44.5 53.3,44.1 C45.5,43.2 38,42.8 31,42.4 C26,42 21,41.5 17.7,40.2 C15,39 13.7,37.5 13.3,35.8 C13,34 13,32.5 12.1,31.3 C10.5,29.5 8.5,28.8 6.6,28 C4.5,27 3,25.5 2.1,24.1 C0.8,22.5 0,20.5 0.1,18.6 Z" fill="none" stroke="#0d2731" stroke-width="2.0" opacity="0.5" filter="url(#blT)"/>
</g>
<path d="M0.1,18.6 C0.5,15.5 2.5,12.5 4.4,10.2 C6.5,8 9,6.2 12.1,4.7 C15.5,3 18.5,2 22.1,1.3 C26,0.6 30,0.4 34.4,0.4 C39,0.4 43.5,1.2 47.7,2.4 C51.5,3.6 55,5.7 57.7,8 C60.5,10.4 62.8,13 64.4,15.8 C66.8,20 68.2,25 68.3,30.2 C68.4,33.5 68,36.5 67.1,39.1 C66.2,41.8 65,43.5 63.3,44.7 C60,45.3 56.5,44.5 53.3,44.1 C45.5,43.2 38,42.8 31,42.4 C26,42 21,41.5 17.7,40.2 C15,39 13.7,37.5 13.3,35.8 C13,34 13,32.5 12.1,31.3 C10.5,29.5 8.5,28.8 6.6,28 C4.5,27 3,25.5 2.1,24.1 C0.8,22.5 0,20.5 0.1,18.6 Z" fill="none" stroke="#1e1a18" stroke-width="1.0" opacity="0.82"/>
</g>
<g transform="translate(330.2,20.5) scale(1.0,1.0)">
<clipPath id="cp11"><path d="M-0.3,30.8 C-0.5,25 1,21 3,17.5 C4.5,13.5 6,11 8.6,8.6 C12,5.5 15.5,3.5 19.7,2 C24,0.5 29,-0.3 34.2,-0.3 C40,-0.3 46,1 50.8,3 C55.5,5 59,7 62,9.7 C64.3,11.7 65.6,13 66.4,14.2 C67.5,16 67.9,17.5 67.7,18.6 C67.5,21 66,22.8 64.2,24.2 C62,26 59.5,28 57.5,29.7 C55,31.7 54,33 54.2,34.2 C54.5,36 55.5,37 55.3,38.6 C55,40.5 54,41.5 53,42 C45,42.5 38,42 30.8,42 C23,42.5 16,43.5 10.8,44.2 C7,44.5 4,43 3,40.8 C1,37.5 -0.3,34 -0.3,30.8 Z"/></clipPath>
<g clip-path="url(#cp11)">
<path d="M-0.3,30.8 C-0.5,25 1,21 3,17.5 C4.5,13.5 6,11 8.6,8.6 C12,5.5 15.5,3.5 19.7,2 C24,0.5 29,-0.3 34.2,-0.3 C40,-0.3 46,1 50.8,3 C55.5,5 59,7 62,9.7 C64.3,11.7 65.6,13 66.4,14.2 C67.5,16 67.9,17.5 67.7,18.6 C67.5,21 66,22.8 64.2,24.2 C62,26 59.5,28 57.5,29.7 C55,31.7 54,33 54.2,34.2 C54.5,36 55.5,37 55.3,38.6 C55,40.5 54,41.5 53,42 C45,42.5 38,42 30.8,42 C23,42.5 16,43.5 10.8,44.2 C7,44.5 4,43 3,40.8 C1,37.5 -0.3,34 -0.3,30.8 Z" fill="#3a98b8"/>
<g filter="url(#blM)">
<path d="M6,10 C14,3 28,0 40,0.5 C46,1 49,3 50,6 C50,10 49,13 47,14 C38,13 28,13 18,14 C12,14.5 8,13.5 6,12 Z" fill="#a0d2f0" opacity="1"/>
<path d="M44,0 C56,1 64,7 67.5,14 C69,20 66,24 60,27 C56,29 52,30 48.9,29.7 C50,27 53,25 54.5,22 C56,18 54,14 51,11 C48,8 45,5 44,0 Z" fill="#ee8e94" opacity="1"/>
<ellipse cx="60" cy="13" rx="4" ry="6" transform="rotate(0 60 13)" fill="#f09a98" opacity="1"/>
<path d="M4.5,17.5 C10,15.5 18,14.5 31,13.5 C30,16 26,18.5 22.5,21.5 C20.5,24 20,28 20,33.5 C15,32 10,29.5 7,26.5 C4.5,23.5 4,20 4.5,17.5 Z" fill="#ee8e92" opacity="1"/>
<ellipse cx="13" cy="21.5" rx="7" ry="4" transform="rotate(-10 13 21.5)" fill="#f6c5a0" opacity="1"/>
<ellipse cx="9" cy="35" rx="12" ry="10" transform="rotate(0 9 35)" fill="#b8e4f9" opacity="1"/>
<ellipse cx="6" cy="38" rx="5" ry="4" transform="rotate(0 6 38)" fill="#e2f6fd" opacity="1"/>
</g>
<path d="M21,25 C22,19 28,15 35,14.3 C42,13.6 49,14.5 53,18 C55,20.5 53.5,24 50,27.5 C51,30.5 49,34 45,36.5 C40,38.5 32,39 26,37.5 C22.5,36 21,31 21,25 Z" fill="#2f96ad" opacity="1" filter="url(#blT)"/>

<path d="M20,38.5 C28,35 40,35.5 52,37" fill="none" stroke="#0e2a35" stroke-width="1.2" opacity="0.6" filter="url(#blT)"/>
<path d="M-0.3,30.8 C-0.5,25 1,21 3,17.5 C4.5,13.5 6,11 8.6,8.6 C12,5.5 15.5,3.5 19.7,2 C24,0.5 29,-0.3 34.2,-0.3 C40,-0.3 46,1 50.8,3 C55.5,5 59,7 62,9.7 C64.3,11.7 65.6,13 66.4,14.2 C67.5,16 67.9,17.5 67.7,18.6 C67.5,21 66,22.8 64.2,24.2 C62,26 59.5,28 57.5,29.7 C55,31.7 54,33 54.2,34.2 C54.5,36 55.5,37 55.3,38.6 C55,40.5 54,41.5 53,42 C45,42.5 38,42 30.8,42 C23,42.5 16,43.5 10.8,44.2 C7,44.5 4,43 3,40.8 C1,37.5 -0.3,34 -0.3,30.8 Z" fill="url(#shade)"/>
<path d="M-0.3,30.8 C-0.5,25 1,21 3,17.5 C4.5,13.5 6,11 8.6,8.6 C12,5.5 15.5,3.5 19.7,2 C24,0.5 29,-0.3 34.2,-0.3 C40,-0.3 46,1 50.8,3 C55.5,5 59,7 62,9.7 C64.3,11.7 65.6,13 66.4,14.2 C67.5,16 67.9,17.5 67.7,18.6 C67.5,21 66,22.8 64.2,24.2 C62,26 59.5,28 57.5,29.7 C55,31.7 54,33 54.2,34.2 C54.5,36 55.5,37 55.3,38.6 C55,40.5 54,41.5 53,42 C45,42.5 38,42 30.8,42 C23,42.5 16,43.5 10.8,44.2 C7,44.5 4,43 3,40.8 C1,37.5 -0.3,34 -0.3,30.8 Z" fill="none" stroke="#0d2731" stroke-width="2.0" opacity="0.5" filter="url(#blT)"/>
</g>
<path d="M-0.3,30.8 C-0.5,25 1,21 3,17.5 C4.5,13.5 6,11 8.6,8.6 C12,5.5 15.5,3.5 19.7,2 C24,0.5 29,-0.3 34.2,-0.3 C40,-0.3 46,1 50.8,3 C55.5,5 59,7 62,9.7 C64.3,11.7 65.6,13 66.4,14.2 C67.5,16 67.9,17.5 67.7,18.6 C67.5,21 66,22.8 64.2,24.2 C62,26 59.5,28 57.5,29.7 C55,31.7 54,33 54.2,34.2 C54.5,36 55.5,37 55.3,38.6 C55,40.5 54,41.5 53,42 C45,42.5 38,42 30.8,42 C23,42.5 16,43.5 10.8,44.2 C7,44.5 4,43 3,40.8 C1,37.5 -0.3,34 -0.3,30.8 Z" fill="none" stroke="#1e1a18" stroke-width="1.0" opacity="0.82"/>
</g>
<g transform="translate(257.3,75) scale(1.0,1.0)">
<clipPath id="cp12"><path d="M0.1,18.6 C0.5,15.5 2.5,12.5 4.4,10.2 C6.5,8 9,6.2 12.1,4.7 C15.5,3 18.5,2 22.1,1.3 C26,0.6 30,0.4 34.4,0.4 C39,0.4 43.5,1.2 47.7,2.4 C51.5,3.6 55,5.7 57.7,8 C60.5,10.4 62.8,13 64.4,15.8 C66.8,20 68.2,25 68.3,30.2 C68.4,33.5 68,36.5 67.1,39.1 C66.2,41.8 65,43.5 63.3,44.7 C60,45.3 56.5,44.5 53.3,44.1 C45.5,43.2 38,42.8 31,42.4 C26,42 21,41.5 17.7,40.2 C15,39 13.7,37.5 13.3,35.8 C13,34 13,32.5 12.1,31.3 C10.5,29.5 8.5,28.8 6.6,28 C4.5,27 3,25.5 2.1,24.1 C0.8,22.5 0,20.5 0.1,18.6 Z"/></clipPath>
<g clip-path="url(#cp12)">
<path d="M0.1,18.6 C0.5,15.5 2.5,12.5 4.4,10.2 C6.5,8 9,6.2 12.1,4.7 C15.5,3 18.5,2 22.1,1.3 C26,0.6 30,0.4 34.4,0.4 C39,0.4 43.5,1.2 47.7,2.4 C51.5,3.6 55,5.7 57.7,8 C60.5,10.4 62.8,13 64.4,15.8 C66.8,20 68.2,25 68.3,30.2 C68.4,33.5 68,36.5 67.1,39.1 C66.2,41.8 65,43.5 63.3,44.7 C60,45.3 56.5,44.5 53.3,44.1 C45.5,43.2 38,42.8 31,42.4 C26,42 21,41.5 17.7,40.2 C15,39 13.7,37.5 13.3,35.8 C13,34 13,32.5 12.1,31.3 C10.5,29.5 8.5,28.8 6.6,28 C4.5,27 3,25.5 2.1,24.1 C0.8,22.5 0,20.5 0.1,18.6 Z" fill="#4a9cc0"/>
<g filter="url(#blM)">
<ellipse cx="14" cy="11" rx="11" ry="6" transform="rotate(0 14 11)" fill="#2a8ca2" opacity="1"/>
<ellipse cx="32" cy="14" rx="10" ry="5" transform="rotate(-35 32 14)" fill="#b0e2f8" opacity="1"/>
<ellipse cx="40" cy="6" rx="5" ry="2.5" transform="rotate(-30 40 6)" fill="#a0d8f4" opacity="1"/>
<ellipse cx="28" cy="25" rx="18" ry="5.5" transform="rotate(0 28 25)" fill="#98cdea" opacity="1"/>
<ellipse cx="53" cy="20" rx="8" ry="8" transform="rotate(0 53 20)" fill="#2a8ca2" opacity="1"/>
<ellipse cx="57" cy="27" rx="6" ry="4" transform="rotate(0 57 27)" fill="#8cc6e6" opacity="1"/>
<ellipse cx="30" cy="37" rx="16" ry="4.5" transform="rotate(0 30 37)" fill="#6aaed4" opacity="1"/>
<ellipse cx="64" cy="13" rx="3.5" ry="8" transform="rotate(-20 64 13)" fill="#ee8a92" opacity="1"/>
<ellipse cx="57" cy="40" rx="11" ry="5.5" transform="rotate(-15 57 40)" fill="#ee8a92" opacity="1"/>
<ellipse cx="65" cy="37" rx="2.5" ry="4.5" transform="rotate(0 65 37)" fill="#f0c098" opacity="1"/>
</g>

<path d="M7.4,18.7 C10,16.5 14,15.5 18,16 C21,16.5 22.5,19.5 25,20 C32,21 40,20.5 47.3,21.3 C49.5,22 49.8,24.8 48.2,25.6 C42,27.5 34,28.5 28.7,29.3 C23,30.5 19,31.5 12.7,35.3" fill="none" stroke="#0e2a35" stroke-width="0.9" opacity="0.75" filter="url(#blT)"/>
<path d="M0.1,18.6 C0.5,15.5 2.5,12.5 4.4,10.2 C6.5,8 9,6.2 12.1,4.7 C15.5,3 18.5,2 22.1,1.3 C26,0.6 30,0.4 34.4,0.4 C39,0.4 43.5,1.2 47.7,2.4 C51.5,3.6 55,5.7 57.7,8 C60.5,10.4 62.8,13 64.4,15.8 C66.8,20 68.2,25 68.3,30.2 C68.4,33.5 68,36.5 67.1,39.1 C66.2,41.8 65,43.5 63.3,44.7 C60,45.3 56.5,44.5 53.3,44.1 C45.5,43.2 38,42.8 31,42.4 C26,42 21,41.5 17.7,40.2 C15,39 13.7,37.5 13.3,35.8 C13,34 13,32.5 12.1,31.3 C10.5,29.5 8.5,28.8 6.6,28 C4.5,27 3,25.5 2.1,24.1 C0.8,22.5 0,20.5 0.1,18.6 Z" fill="url(#shade)"/>
<path d="M0.1,18.6 C0.5,15.5 2.5,12.5 4.4,10.2 C6.5,8 9,6.2 12.1,4.7 C15.5,3 18.5,2 22.1,1.3 C26,0.6 30,0.4 34.4,0.4 C39,0.4 43.5,1.2 47.7,2.4 C51.5,3.6 55,5.7 57.7,8 C60.5,10.4 62.8,13 64.4,15.8 C66.8,20 68.2,25 68.3,30.2 C68.4,33.5 68,36.5 67.1,39.1 C66.2,41.8 65,43.5 63.3,44.7 C60,45.3 56.5,44.5 53.3,44.1 C45.5,43.2 38,42.8 31,42.4 C26,42 21,41.5 17.7,40.2 C15,39 13.7,37.5 13.3,35.8 C13,34 13,32.5 12.1,31.3 C10.5,29.5 8.5,28.8 6.6,28 C4.5,27 3,25.5 2.1,24.1 C0.8,22.5 0,20.5 0.1,18.6 Z" fill="none" stroke="#0d2731" stroke-width="2.0" opacity="0.5" filter="url(#blT)"/>
</g>
<path d="M0.1,18.6 C0.5,15.5 2.5,12.5 4.4,10.2 C6.5,8 9,6.2 12.1,4.7 C15.5,3 18.5,2 22.1,1.3 C26,0.6 30,0.4 34.4,0.4 C39,0.4 43.5,1.2 47.7,2.4 C51.5,3.6 55,5.7 57.7,8 C60.5,10.4 62.8,13 64.4,15.8 C66.8,20 68.2,25 68.3,30.2 C68.4,33.5 68,36.5 67.1,39.1 C66.2,41.8 65,43.5 63.3,44.7 C60,45.3 56.5,44.5 53.3,44.1 C45.5,43.2 38,42.8 31,42.4 C26,42 21,41.5 17.7,40.2 C15,39 13.7,37.5 13.3,35.8 C13,34 13,32.5 12.1,31.3 C10.5,29.5 8.5,28.8 6.6,28 C4.5,27 3,25.5 2.1,24.1 C0.8,22.5 0,20.5 0.1,18.6 Z" fill="none" stroke="#1e1a18" stroke-width="1.0" opacity="0.82"/>
</g>
<g transform="translate(330.3,74.6) scale(1.0,1.0)">
<clipPath id="cp13"><path d="M-0.3,30.8 C-0.5,25 1,21 3,17.5 C4.5,13.5 6,11 8.6,8.6 C12,5.5 15.5,3.5 19.7,2 C24,0.5 29,-0.3 34.2,-0.3 C40,-0.3 46,1 50.8,3 C55.5,5 59,7 62,9.7 C64.3,11.7 65.6,13 66.4,14.2 C67.5,16 67.9,17.5 67.7,18.6 C67.5,21 66,22.8 64.2,24.2 C62,26 59.5,28 57.5,29.7 C55,31.7 54,33 54.2,34.2 C54.5,36 55.5,37 55.3,38.6 C55,40.5 54,41.5 53,42 C45,42.5 38,42 30.8,42 C23,42.5 16,43.5 10.8,44.2 C7,44.5 4,43 3,40.8 C1,37.5 -0.3,34 -0.3,30.8 Z"/></clipPath>
<g clip-path="url(#cp13)">
<path d="M-0.3,30.8 C-0.5,25 1,21 3,17.5 C4.5,13.5 6,11 8.6,8.6 C12,5.5 15.5,3.5 19.7,2 C24,0.5 29,-0.3 34.2,-0.3 C40,-0.3 46,1 50.8,3 C55.5,5 59,7 62,9.7 C64.3,11.7 65.6,13 66.4,14.2 C67.5,16 67.9,17.5 67.7,18.6 C67.5,21 66,22.8 64.2,24.2 C62,26 59.5,28 57.5,29.7 C55,31.7 54,33 54.2,34.2 C54.5,36 55.5,37 55.3,38.6 C55,40.5 54,41.5 53,42 C45,42.5 38,42 30.8,42 C23,42.5 16,43.5 10.8,44.2 C7,44.5 4,43 3,40.8 C1,37.5 -0.3,34 -0.3,30.8 Z" fill="#3499b2"/>
<g filter="url(#blM)">
<path d="M8,10 C18,3 30,0 42,0.5 C54,1 63,6 67,13 C69,18 67,23 62,26 C60,22 58,18 54,16 C44,13 30,13 18,14 C13,14 10,12 8,10 Z" fill="#7cc4e6" opacity="1"/>
<ellipse cx="27" cy="6.5" rx="8" ry="3" transform="rotate(0 27 6.5)" fill="#b8e6f8" opacity="1"/>
<path d="M-0.5,20 C3,20.5 6,24 8.5,28 C11.5,33 16,37.5 23,41.5 C17,44 9,44.5 5,43.5 C1.5,41.5 -0.5,36 -0.5,30 Z" fill="#ec8790" opacity="1"/>
<ellipse cx="4" cy="38" rx="4" ry="5" transform="rotate(0 4 38)" fill="#f4c49c" opacity="1"/>
<ellipse cx="8" cy="18" rx="6" ry="4" transform="rotate(0 8 18)" fill="#2d97ad" opacity="1"/>
</g>
<path d="M21,25 C22,19 28,15 35,14.3 C42,13.6 49,14.5 53,18 C55,20.5 53.5,24 50,27.5 C51,30.5 49,34 45,36.5 C40,38.5 32,39 26,37.5 C22.5,36 21,31 21,25 Z" fill="#2d97ad" opacity="1" filter="url(#blT)"/>

<path d="M20,38.5 C28,35 40,35.5 52,37" fill="none" stroke="#0e2a35" stroke-width="1.2" opacity="0.6" filter="url(#blT)"/>
<path d="M-0.3,30.8 C-0.5,25 1,21 3,17.5 C4.5,13.5 6,11 8.6,8.6 C12,5.5 15.5,3.5 19.7,2 C24,0.5 29,-0.3 34.2,-0.3 C40,-0.3 46,1 50.8,3 C55.5,5 59,7 62,9.7 C64.3,11.7 65.6,13 66.4,14.2 C67.5,16 67.9,17.5 67.7,18.6 C67.5,21 66,22.8 64.2,24.2 C62,26 59.5,28 57.5,29.7 C55,31.7 54,33 54.2,34.2 C54.5,36 55.5,37 55.3,38.6 C55,40.5 54,41.5 53,42 C45,42.5 38,42 30.8,42 C23,42.5 16,43.5 10.8,44.2 C7,44.5 4,43 3,40.8 C1,37.5 -0.3,34 -0.3,30.8 Z" fill="url(#shade)"/>
<path d="M-0.3,30.8 C-0.5,25 1,21 3,17.5 C4.5,13.5 6,11 8.6,8.6 C12,5.5 15.5,3.5 19.7,2 C24,0.5 29,-0.3 34.2,-0.3 C40,-0.3 46,1 50.8,3 C55.5,5 59,7 62,9.7 C64.3,11.7 65.6,13 66.4,14.2 C67.5,16 67.9,17.5 67.7,18.6 C67.5,21 66,22.8 64.2,24.2 C62,26 59.5,28 57.5,29.7 C55,31.7 54,33 54.2,34.2 C54.5,36 55.5,37 55.3,38.6 C55,40.5 54,41.5 53,42 C45,42.5 38,42 30.8,42 C23,42.5 16,43.5 10.8,44.2 C7,44.5 4,43 3,40.8 C1,37.5 -0.3,34 -0.3,30.8 Z" fill="none" stroke="#0d2731" stroke-width="2.0" opacity="0.5" filter="url(#blT)"/>
</g>
<path d="M-0.3,30.8 C-0.5,25 1,21 3,17.5 C4.5,13.5 6,11 8.6,8.6 C12,5.5 15.5,3.5 19.7,2 C24,0.5 29,-0.3 34.2,-0.3 C40,-0.3 46,1 50.8,3 C55.5,5 59,7 62,9.7 C64.3,11.7 65.6,13 66.4,14.2 C67.5,16 67.9,17.5 67.7,18.6 C67.5,21 66,22.8 64.2,24.2 C62,26 59.5,28 57.5,29.7 C55,31.7 54,33 54.2,34.2 C54.5,36 55.5,37 55.3,38.6 C55,40.5 54,41.5 53,42 C45,42.5 38,42 30.8,42 C23,42.5 16,43.5 10.8,44.2 C7,44.5 4,43 3,40.8 C1,37.5 -0.3,34 -0.3,30.8 Z" fill="none" stroke="#1e1a18" stroke-width="1.0" opacity="0.82"/>
</g>
<g transform="translate(259,133.7) scale(1.0,1.0)">
<clipPath id="cp14"><path d="M0.1,18.6 C0.5,15.5 2.5,12.5 4.4,10.2 C6.5,8 9,6.2 12.1,4.7 C15.5,3 18.5,2 22.1,1.3 C26,0.6 30,0.4 34.4,0.4 C39,0.4 43.5,1.2 47.7,2.4 C51.5,3.6 55,5.7 57.7,8 C60.5,10.4 62.8,13 64.4,15.8 C66.8,20 68.2,25 68.3,30.2 C68.4,33.5 68,36.5 67.1,39.1 C66.2,41.8 65,43.5 63.3,44.7 C60,45.3 56.5,44.5 53.3,44.1 C45.5,43.2 38,42.8 31,42.4 C26,42 21,41.5 17.7,40.2 C15,39 13.7,37.5 13.3,35.8 C13,34 13,32.5 12.1,31.3 C10.5,29.5 8.5,28.8 6.6,28 C4.5,27 3,25.5 2.1,24.1 C0.8,22.5 0,20.5 0.1,18.6 Z"/></clipPath>
<g clip-path="url(#cp14)">
<path d="M0.1,18.6 C0.5,15.5 2.5,12.5 4.4,10.2 C6.5,8 9,6.2 12.1,4.7 C15.5,3 18.5,2 22.1,1.3 C26,0.6 30,0.4 34.4,0.4 C39,0.4 43.5,1.2 47.7,2.4 C51.5,3.6 55,5.7 57.7,8 C60.5,10.4 62.8,13 64.4,15.8 C66.8,20 68.2,25 68.3,30.2 C68.4,33.5 68,36.5 67.1,39.1 C66.2,41.8 65,43.5 63.3,44.7 C60,45.3 56.5,44.5 53.3,44.1 C45.5,43.2 38,42.8 31,42.4 C26,42 21,41.5 17.7,40.2 C15,39 13.7,37.5 13.3,35.8 C13,34 13,32.5 12.1,31.3 C10.5,29.5 8.5,28.8 6.6,28 C4.5,27 3,25.5 2.1,24.1 C0.8,22.5 0,20.5 0.1,18.6 Z" fill="#3b93b3"/>
<g filter="url(#blS)">
<ellipse cx="38" cy="35.5" rx="25" ry="5.5" transform="rotate(0 38 35.5)" fill="#8cc6ea" opacity="1"/>
<ellipse cx="38.5" cy="9.5" rx="9" ry="5.5" transform="rotate(0 38.5 9.5)" fill="#6eb2d8" opacity="1"/>
<ellipse cx="59" cy="27" rx="7" ry="6" transform="rotate(0 59 27)" fill="#8cc6ea" opacity="1"/>
<ellipse cx="10" cy="12" rx="9" ry="5" transform="rotate(-40 10 12)" fill="#f3a898" opacity="1"/>
<ellipse cx="24.5" cy="13.5" rx="5" ry="6.5" transform="rotate(0 24.5 13.5)" fill="#ef8e90" opacity="1"/>
<ellipse cx="24.5" cy="13" rx="2.5" ry="3.5" transform="rotate(0 24.5 13)" fill="#f3b8a0" opacity="1"/>
<ellipse cx="15" cy="24" rx="6.5" ry="5.5" transform="rotate(0 15 24)" fill="#ee8a92" opacity="1"/>
<ellipse cx="46" cy="18.5" rx="10.5" ry="5" transform="rotate(-5 46 18.5)" fill="#ee8c92" opacity="1"/>
<ellipse cx="46" cy="18.5" rx="8.5" ry="3.5" transform="rotate(-5 46 18.5)" fill="#f6cc9e" opacity="1"/>
<ellipse cx="59" cy="16.5" rx="5.5" ry="3.5" transform="rotate(0 59 16.5)" fill="#ee8c92" opacity="1"/>
<ellipse cx="50.5" cy="37" rx="3.5" ry="4.5" transform="rotate(0 50.5 37)" fill="#ee8a92" opacity="1"/>
</g>

<path d="M7.4,18.7 C10,16.5 14,15.5 18,16 C21,16.5 22.5,19.5 25,20 C32,21 40,20.5 47.3,21.3 C49.5,22 49.8,24.8 48.2,25.6 C42,27.5 34,28.5 28.7,29.3 C23,30.5 19,31.5 12.7,35.3" fill="none" stroke="#0e2a35" stroke-width="0.9" opacity="0.75" filter="url(#blT)"/>
<path d="M0.1,18.6 C0.5,15.5 2.5,12.5 4.4,10.2 C6.5,8 9,6.2 12.1,4.7 C15.5,3 18.5,2 22.1,1.3 C26,0.6 30,0.4 34.4,0.4 C39,0.4 43.5,1.2 47.7,2.4 C51.5,3.6 55,5.7 57.7,8 C60.5,10.4 62.8,13 64.4,15.8 C66.8,20 68.2,25 68.3,30.2 C68.4,33.5 68,36.5 67.1,39.1 C66.2,41.8 65,43.5 63.3,44.7 C60,45.3 56.5,44.5 53.3,44.1 C45.5,43.2 38,42.8 31,42.4 C26,42 21,41.5 17.7,40.2 C15,39 13.7,37.5 13.3,35.8 C13,34 13,32.5 12.1,31.3 C10.5,29.5 8.5,28.8 6.6,28 C4.5,27 3,25.5 2.1,24.1 C0.8,22.5 0,20.5 0.1,18.6 Z" fill="url(#shade)"/>
<path d="M0.1,18.6 C0.5,15.5 2.5,12.5 4.4,10.2 C6.5,8 9,6.2 12.1,4.7 C15.5,3 18.5,2 22.1,1.3 C26,0.6 30,0.4 34.4,0.4 C39,0.4 43.5,1.2 47.7,2.4 C51.5,3.6 55,5.7 57.7,8 C60.5,10.4 62.8,13 64.4,15.8 C66.8,20 68.2,25 68.3,30.2 C68.4,33.5 68,36.5 67.1,39.1 C66.2,41.8 65,43.5 63.3,44.7 C60,45.3 56.5,44.5 53.3,44.1 C45.5,43.2 38,42.8 31,42.4 C26,42 21,41.5 17.7,40.2 C15,39 13.7,37.5 13.3,35.8 C13,34 13,32.5 12.1,31.3 C10.5,29.5 8.5,28.8 6.6,28 C4.5,27 3,25.5 2.1,24.1 C0.8,22.5 0,20.5 0.1,18.6 Z" fill="none" stroke="#0d2731" stroke-width="2.0" opacity="0.5" filter="url(#blT)"/>
</g>
<path d="M0.1,18.6 C0.5,15.5 2.5,12.5 4.4,10.2 C6.5,8 9,6.2 12.1,4.7 C15.5,3 18.5,2 22.1,1.3 C26,0.6 30,0.4 34.4,0.4 C39,0.4 43.5,1.2 47.7,2.4 C51.5,3.6 55,5.7 57.7,8 C60.5,10.4 62.8,13 64.4,15.8 C66.8,20 68.2,25 68.3,30.2 C68.4,33.5 68,36.5 67.1,39.1 C66.2,41.8 65,43.5 63.3,44.7 C60,45.3 56.5,44.5 53.3,44.1 C45.5,43.2 38,42.8 31,42.4 C26,42 21,41.5 17.7,40.2 C15,39 13.7,37.5 13.3,35.8 C13,34 13,32.5 12.1,31.3 C10.5,29.5 8.5,28.8 6.6,28 C4.5,27 3,25.5 2.1,24.1 C0.8,22.5 0,20.5 0.1,18.6 Z" fill="none" stroke="#1e1a18" stroke-width="1.0" opacity="0.82"/>
</g>
<g transform="translate(331.7,133.7) scale(1.0,1.0)">
<clipPath id="cp15"><path d="M-0.3,30.8 C-0.5,25 1,21 3,17.5 C4.5,13.5 6,11 8.6,8.6 C12,5.5 15.5,3.5 19.7,2 C24,0.5 29,-0.3 34.2,-0.3 C40,-0.3 46,1 50.8,3 C55.5,5 59,7 62,9.7 C64.3,11.7 65.6,13 66.4,14.2 C67.5,16 67.9,17.5 67.7,18.6 C67.5,21 66,22.8 64.2,24.2 C62,26 59.5,28 57.5,29.7 C55,31.7 54,33 54.2,34.2 C54.5,36 55.5,37 55.3,38.6 C55,40.5 54,41.5 53,42 C45,42.5 38,42 30.8,42 C23,42.5 16,43.5 10.8,44.2 C7,44.5 4,43 3,40.8 C1,37.5 -0.3,34 -0.3,30.8 Z"/></clipPath>
<g clip-path="url(#cp15)">
<path d="M-0.3,30.8 C-0.5,25 1,21 3,17.5 C4.5,13.5 6,11 8.6,8.6 C12,5.5 15.5,3.5 19.7,2 C24,0.5 29,-0.3 34.2,-0.3 C40,-0.3 46,1 50.8,3 C55.5,5 59,7 62,9.7 C64.3,11.7 65.6,13 66.4,14.2 C67.5,16 67.9,17.5 67.7,18.6 C67.5,21 66,22.8 64.2,24.2 C62,26 59.5,28 57.5,29.7 C55,31.7 54,33 54.2,34.2 C54.5,36 55.5,37 55.3,38.6 C55,40.5 54,41.5 53,42 C45,42.5 38,42 30.8,42 C23,42.5 16,43.5 10.8,44.2 C7,44.5 4,43 3,40.8 C1,37.5 -0.3,34 -0.3,30.8 Z" fill="#3f9cc0"/>
<g filter="url(#blM)">
<ellipse cx="10" cy="32" rx="12" ry="12" transform="rotate(0 10 32)" fill="#b4e2f7" opacity="1"/>
<ellipse cx="6" cy="36" rx="5" ry="5" transform="rotate(0 6 36)" fill="#e2f6fd" opacity="1"/>
<ellipse cx="9" cy="19" rx="7" ry="4" transform="rotate(0 9 19)" fill="#8cd0f0" opacity="1"/>
<ellipse cx="22" cy="7.5" rx="12" ry="4" transform="rotate(0 22 7.5)" fill="#5fb2d4" opacity="1"/>
<ellipse cx="43" cy="7" rx="8.5" ry="4.5" transform="rotate(0 43 7)" fill="#d88a98" opacity="1"/>
<ellipse cx="42" cy="5" rx="4" ry="2" transform="rotate(0 42 5)" fill="#e88090" opacity="1"/>
<ellipse cx="21" cy="12.8" rx="5" ry="1.3" transform="rotate(-5 21 12.8)" fill="#c98898" opacity="1"/>
<ellipse cx="25" cy="19.5" rx="4.5" ry="2.5" transform="rotate(-30 25 19.5)" fill="#c98898" opacity="1"/>
<ellipse cx="5.5" cy="15" rx="3" ry="5" transform="rotate(0 5.5 15)" fill="#b88a9a" opacity="1"/>
<ellipse cx="58" cy="21" rx="9" ry="7" transform="rotate(0 58 21)" fill="#80c4e2" opacity="1"/>
</g>
<path d="M21,25 C22,19 28,15 35,14.3 C42,13.6 49,14.5 53,18 C55,20.5 53.5,24 50,27.5 C51,30.5 49,34 45,36.5 C40,38.5 32,39 26,37.5 C22.5,36 21,31 21,25 Z" fill="#2a97ad" opacity="1" filter="url(#blT)"/>

<path d="M20,38.5 C28,35 40,35.5 52,37" fill="none" stroke="#0e2a35" stroke-width="1.2" opacity="0.6" filter="url(#blT)"/>
<path d="M-0.3,30.8 C-0.5,25 1,21 3,17.5 C4.5,13.5 6,11 8.6,8.6 C12,5.5 15.5,3.5 19.7,2 C24,0.5 29,-0.3 34.2,-0.3 C40,-0.3 46,1 50.8,3 C55.5,5 59,7 62,9.7 C64.3,11.7 65.6,13 66.4,14.2 C67.5,16 67.9,17.5 67.7,18.6 C67.5,21 66,22.8 64.2,24.2 C62,26 59.5,28 57.5,29.7 C55,31.7 54,33 54.2,34.2 C54.5,36 55.5,37 55.3,38.6 C55,40.5 54,41.5 53,42 C45,42.5 38,42 30.8,42 C23,42.5 16,43.5 10.8,44.2 C7,44.5 4,43 3,40.8 C1,37.5 -0.3,34 -0.3,30.8 Z" fill="url(#shade)"/>
<path d="M-0.3,30.8 C-0.5,25 1,21 3,17.5 C4.5,13.5 6,11 8.6,8.6 C12,5.5 15.5,3.5 19.7,2 C24,0.5 29,-0.3 34.2,-0.3 C40,-0.3 46,1 50.8,3 C55.5,5 59,7 62,9.7 C64.3,11.7 65.6,13 66.4,14.2 C67.5,16 67.9,17.5 67.7,18.6 C67.5,21 66,22.8 64.2,24.2 C62,26 59.5,28 57.5,29.7 C55,31.7 54,33 54.2,34.2 C54.5,36 55.5,37 55.3,38.6 C55,40.5 54,41.5 53,42 C45,42.5 38,42 30.8,42 C23,42.5 16,43.5 10.8,44.2 C7,44.5 4,43 3,40.8 C1,37.5 -0.3,34 -0.3,30.8 Z" fill="none" stroke="#0d2731" stroke-width="2.0" opacity="0.5" filter="url(#blT)"/>
</g>
<path d="M-0.3,30.8 C-0.5,25 1,21 3,17.5 C4.5,13.5 6,11 8.6,8.6 C12,5.5 15.5,3.5 19.7,2 C24,0.5 29,-0.3 34.2,-0.3 C40,-0.3 46,1 50.8,3 C55.5,5 59,7 62,9.7 C64.3,11.7 65.6,13 66.4,14.2 C67.5,16 67.9,17.5 67.7,18.6 C67.5,21 66,22.8 64.2,24.2 C62,26 59.5,28 57.5,29.7 C55,31.7 54,33 54.2,34.2 C54.5,36 55.5,37 55.3,38.6 C55,40.5 54,41.5 53,42 C45,42.5 38,42 30.8,42 C23,42.5 16,43.5 10.8,44.2 C7,44.5 4,43 3,40.8 C1,37.5 -0.3,34 -0.3,30.8 Z" fill="none" stroke="#1e1a18" stroke-width="1.0" opacity="0.82"/>
</g>
<linearGradient id="cb16" x1="0" y1="0" x2="0" y2="1"><stop offset="0" stop-color="#f7c48c"/><stop offset="0.28" stop-color="#e97c84"/><stop offset="0.5" stop-color="#16808f"/><stop offset="0.75" stop-color="#5fa6d2"/><stop offset="1" stop-color="#c4e9fa"/></linearGradient>
<rect x="407.3" y="29.6" width="5" height="28.799999999999997" fill="url(#cb16)" stroke="#4a4a4a" stroke-width="0.8"/>
<line x1="412.3" y1="29.6" x2="413.90000000000003" y2="29.6" stroke="#333" stroke-width="0.9"/>
<line x1="412.3" y1="44.0" x2="413.90000000000003" y2="44.0" stroke="#333" stroke-width="0.9"/>
<line x1="412.3" y1="58.4" x2="413.90000000000003" y2="58.4" stroke="#333" stroke-width="0.9"/>
<text x="417.8" y="32.8" font-size="11" text-anchor="start" stroke="#231f20" stroke-width="0.22" fill="#231f20">1.53</text>
<text x="417.2" y="61.9" font-size="11" text-anchor="start" stroke="#231f20" stroke-width="0.22" fill="#231f20">−2.27</text>
<linearGradient id="cb17" x1="0" y1="0" x2="0" y2="1"><stop offset="0" stop-color="#f7c48c"/><stop offset="0.28" stop-color="#e97c84"/><stop offset="0.5" stop-color="#16808f"/><stop offset="0.75" stop-color="#5fa6d2"/><stop offset="1" stop-color="#c4e9fa"/></linearGradient>
<rect x="407.3" y="82.5" width="5" height="28.900000000000006" fill="url(#cb17)" stroke="#4a4a4a" stroke-width="0.8"/>
<line x1="412.3" y1="82.5" x2="413.90000000000003" y2="82.5" stroke="#333" stroke-width="0.9"/>
<line x1="412.3" y1="96.95" x2="413.90000000000003" y2="96.95" stroke="#333" stroke-width="0.9"/>
<line x1="412.3" y1="111.4" x2="413.90000000000003" y2="111.4" stroke="#333" stroke-width="0.9"/>
<text x="418.0" y="86.6" font-size="11" text-anchor="start" stroke="#231f20" stroke-width="0.22" fill="#231f20">1.34</text>
<text x="417.4" y="114.7" font-size="11" text-anchor="start" stroke="#231f20" stroke-width="0.22" fill="#231f20">−0.99</text>
<linearGradient id="cb18" x1="0" y1="0" x2="0" y2="1"><stop offset="0" stop-color="#f7c48c"/><stop offset="0.28" stop-color="#e97c84"/><stop offset="0.5" stop-color="#16808f"/><stop offset="0.75" stop-color="#5fa6d2"/><stop offset="1" stop-color="#c4e9fa"/></linearGradient>
<rect x="407.3" y="141.4" width="5" height="29.299999999999983" fill="url(#cb18)" stroke="#4a4a4a" stroke-width="0.8"/>
<line x1="412.3" y1="141.4" x2="413.90000000000003" y2="141.4" stroke="#333" stroke-width="0.9"/>
<line x1="412.3" y1="156.05" x2="413.90000000000003" y2="156.05" stroke="#333" stroke-width="0.9"/>
<line x1="412.3" y1="170.7" x2="413.90000000000003" y2="170.7" stroke="#333" stroke-width="0.9"/>
<text x="418.2" y="145.0" font-size="11" text-anchor="start" stroke="#231f20" stroke-width="0.22" fill="#231f20">1.05</text>
<text x="417.59999999999997" y="174.2" font-size="11" text-anchor="start" stroke="#231f20" stroke-width="0.22" fill="#231f20">−0.77</text>
<path d="M508.90,17.27 L510.01,19.17 L511.13,21.09 L512.24,23.03 L513.35,24.97 L514.47,26.93 L515.58,28.89 L516.69,30.85 L517.81,32.81 L518.92,34.77 L520.03,36.73 L521.15,38.67 L522.26,40.61 L523.37,42.52 L524.49,44.42 L525.60,46.30 L526.72,48.16 L527.83,49.98 L528.94,51.78 L530.06,53.53 L531.17,55.00 L532.28,56.43 L533.40,57.83 L534.51,59.17 L535.62,60.47 L536.74,61.72 L537.85,62.91 L538.96,64.04 L540.08,65.12 L541.19,66.13 L542.30,67.09 L543.42,67.98 L544.53,68.81 L545.64,69.59 L546.76,70.30 L547.87,70.95 L548.98,71.53 L550.10,72.06 L551.21,72.53 L552.32,72.94 L553.44,73.28 L554.55,73.57 L555.66,73.79 L556.78,73.96 L557.89,74.06 L559.01,74.10 L560.12,74.09 L561.23,74.01 L562.35,73.90 L563.46,73.74 L564.57,73.55 L565.69,73.35 L566.80,73.12 L567.91,72.90 L569.03,72.68 L570.14,72.47 L571.25,72.27 L572.37,72.11 L573.48,71.98 L574.59,71.87 L575.71,71.80 L576.82,71.77 L577.93,71.77 L579.05,71.81 L580.16,71.89 L581.27,72.01 L582.39,72.17 L583.50,72.38 L584.61,72.63 L585.73,72.93 L586.84,73.28 L587.95,73.68 L589.07,74.13 L590.18,74.64 L591.29,75.20 L592.41,75.82 L593.52,76.49 L594.64,77.23 L595.75,78.03 L596.86,78.89 L597.98,79.82 L599.09,80.82 L600.20,81.85 L601.32,82.80 L602.43,83.82 L603.54,84.91 L604.66,86.08 L605.77,87.32 L606.88,88.65 L608.00,90.05 L609.11,91.53 L610.22,93.10 L611.34,94.75 L612.45,96.48 L613.56,98.31 L614.68,100.21 L615.79,102.20 L616.90,104.26 L618.02,106.39 L619.13,108.58 L620.24,110.82 L621.36,113.12 L622.47,115.46 L623.58,117.83 L624.70,120.25 L625.81,122.68 L626.93,125.15 L628.04,127.62 L629.15,130.11 L630.27,132.60 L631.38,135.09 L632.49,137.58 L633.61,140.05 L634.72,142.50 L635.83,144.93 L636.95,147.33 L638.06,149.69 L639.17,152.01 L640.29,154.29 L641.40,156.51 L641.40,174.51 L640.29,171.94 L639.17,169.31 L638.06,166.64 L636.95,163.93 L635.83,161.18 L634.72,158.40 L633.61,155.60 L632.49,152.78 L631.38,149.94 L630.27,147.10 L629.15,144.26 L628.04,141.43 L626.93,138.60 L625.81,135.79 L624.70,133.00 L623.58,130.24 L622.47,127.51 L621.36,124.82 L620.24,122.18 L619.13,119.58 L618.02,117.05 L616.90,114.57 L615.79,112.16 L614.68,109.82 L613.56,107.57 L612.45,105.39 L611.34,103.31 L610.22,101.31 L609.11,99.39 L608.00,97.56 L606.88,95.81 L605.77,94.14 L604.66,92.54 L603.54,91.02 L602.43,89.58 L601.32,88.21 L600.20,86.91 L599.09,85.83 L597.98,84.85 L596.86,83.94 L595.75,83.09 L594.64,82.31 L593.52,81.59 L592.41,80.93 L591.29,80.32 L590.18,79.78 L589.07,79.29 L587.95,78.85 L586.84,78.47 L585.73,78.13 L584.61,77.85 L583.50,77.61 L582.39,77.42 L581.27,77.27 L580.16,77.17 L579.05,77.11 L577.93,77.08 L576.82,77.10 L575.71,77.15 L574.59,77.24 L573.48,77.35 L572.37,77.50 L571.25,77.68 L570.14,77.89 L569.03,78.12 L567.91,78.36 L566.80,78.60 L565.69,78.84 L564.57,79.06 L563.46,79.26 L562.35,79.43 L561.23,79.57 L560.12,79.66 L559.01,79.69 L557.89,79.66 L556.78,79.57 L555.66,79.43 L554.55,79.22 L553.44,78.95 L552.32,78.62 L551.21,78.23 L550.10,77.78 L548.98,77.26 L547.87,76.69 L546.76,76.06 L545.64,75.36 L544.53,74.61 L543.42,73.79 L542.30,72.91 L541.19,71.97 L540.08,70.98 L538.96,69.92 L537.85,68.80 L536.74,67.62 L535.62,66.39 L534.51,65.11 L533.40,63.78 L532.28,62.40 L531.17,60.99 L530.06,59.53 L528.94,58.18 L527.83,56.81 L526.72,55.40 L525.60,53.97 L524.49,52.51 L523.37,51.04 L522.26,49.54 L521.15,48.03 L520.03,46.51 L518.92,44.98 L517.81,43.44 L516.69,41.90 L515.58,40.35 L514.47,38.82 L513.35,37.28 L512.24,35.76 L511.13,34.25 L510.01,32.75 L508.90,31.27 Z" fill="#ececec" opacity="1.0"/>
<path d="M508.90,51.05 L510.01,51.17 L511.13,51.30 L512.24,51.43 L513.35,51.57 L514.47,51.71 L515.58,51.85 L516.69,52.00 L517.81,52.16 L518.92,52.32 L520.03,52.48 L521.15,52.65 L522.26,52.82 L523.37,53.00 L524.49,53.18 L525.60,53.36 L526.72,53.56 L527.83,53.75 L528.94,53.95 L530.06,54.16 L531.17,54.37 L532.28,54.59 L533.40,54.81 L534.51,55.03 L535.62,55.27 L536.74,55.50 L537.85,55.74 L538.96,55.99 L540.08,56.24 L541.19,56.50 L542.30,56.76 L543.42,57.03 L544.53,57.31 L545.64,57.51 L546.76,57.65 L547.87,57.81 L548.98,57.96 L550.10,58.13 L551.21,58.30 L552.32,58.47 L553.44,58.65 L554.55,58.84 L555.66,59.03 L556.78,59.23 L557.89,59.43 L559.01,59.64 L560.12,59.86 L561.23,60.08 L562.35,60.31 L563.46,60.54 L564.57,60.78 L565.69,61.03 L566.80,61.28 L567.91,61.54 L569.03,61.81 L570.14,62.08 L571.25,62.36 L572.37,62.64 L573.48,62.93 L574.59,63.23 L575.71,63.53 L576.82,63.84 L577.93,64.15 L579.05,64.47 L580.16,64.78 L581.27,64.98 L582.39,65.19 L583.50,65.41 L584.61,65.63 L585.73,65.85 L586.84,66.08 L587.95,66.31 L589.07,66.54 L590.18,66.78 L591.29,67.02 L592.41,67.27 L593.52,67.52 L594.64,67.77 L595.75,68.02 L596.86,68.28 L597.98,68.54 L599.09,68.80 L600.20,69.06 L601.32,69.33 L602.43,69.59 L603.54,69.86 L604.66,70.13 L605.77,70.40 L606.88,70.67 L608.00,70.95 L609.11,71.22 L610.22,71.50 L611.34,71.77 L612.45,72.05 L613.56,72.33 L614.68,72.61 L615.79,72.89 L616.90,73.17 L618.02,73.46 L619.13,73.74 L620.24,74.03 L621.36,74.32 L622.47,74.61 L623.58,74.90 L624.70,75.20 L625.81,75.49 L626.93,75.79 L628.04,76.09 L629.15,76.39 L630.27,76.69 L631.38,77.00 L632.49,77.30 L633.61,77.61 L634.72,77.92 L635.83,78.24 L636.95,78.55 L638.06,78.87 L639.17,79.19 L640.29,79.51 L641.40,79.84 L641.40,96.84 L640.29,96.29 L639.17,95.75 L638.06,95.22 L636.95,94.68 L635.83,94.15 L634.72,93.62 L633.61,93.09 L632.49,92.56 L631.38,92.04 L630.27,91.52 L629.15,91.00 L628.04,90.48 L626.93,89.96 L625.81,89.45 L624.70,88.93 L623.58,88.42 L622.47,87.91 L621.36,87.40 L620.24,86.90 L619.13,86.39 L618.02,85.89 L616.90,85.39 L615.79,84.89 L614.68,84.39 L613.56,83.89 L612.45,83.39 L611.34,82.90 L610.22,82.40 L609.11,81.91 L608.00,81.42 L606.88,80.93 L605.77,80.44 L604.66,79.95 L603.54,79.46 L602.43,78.98 L601.32,78.49 L600.20,78.01 L599.09,77.53 L597.98,77.05 L596.86,76.58 L595.75,76.10 L594.64,75.63 L593.52,75.16 L592.41,74.69 L591.29,74.23 L590.18,73.77 L589.07,73.32 L587.95,72.86 L586.84,72.41 L585.73,71.97 L584.61,71.53 L583.50,71.09 L582.39,70.66 L581.27,70.23 L580.16,69.81 L579.05,69.50 L577.93,69.21 L576.82,68.93 L575.71,68.65 L574.59,68.38 L573.48,68.12 L572.37,67.86 L571.25,67.61 L570.14,67.36 L569.03,67.12 L567.91,66.89 L566.80,66.66 L565.69,66.44 L564.57,66.22 L563.46,66.01 L562.35,65.81 L561.23,65.62 L560.12,65.43 L559.01,65.24 L557.89,65.06 L556.78,64.89 L555.66,64.72 L554.55,64.56 L553.44,64.41 L552.32,64.26 L551.21,64.12 L550.10,63.98 L548.98,63.85 L547.87,63.72 L546.76,63.60 L545.64,63.49 L544.53,63.44 L543.42,63.47 L542.30,63.51 L541.19,63.56 L540.08,63.61 L538.96,63.66 L537.85,63.73 L536.74,63.79 L535.62,63.86 L534.51,63.94 L533.40,64.02 L532.28,64.11 L531.17,64.20 L530.06,64.30 L528.94,64.40 L527.83,64.51 L526.72,64.62 L525.60,64.74 L524.49,64.86 L523.37,64.99 L522.26,65.12 L521.15,65.25 L520.03,65.39 L518.92,65.54 L517.81,65.69 L516.69,65.84 L515.58,66.00 L514.47,66.17 L513.35,66.33 L512.24,66.51 L511.13,66.68 L510.01,66.86 L508.90,67.05 Z" fill="#d5e6d0" opacity="0.9"/>
<path d="M508.90,23.73 L510.01,24.46 L511.13,25.20 L512.24,25.95 L513.35,26.71 L514.47,27.48 L515.58,28.26 L516.69,29.04 L517.81,29.83 L518.92,30.62 L520.03,31.41 L521.15,32.21 L522.26,33.00 L523.37,33.80 L524.49,34.59 L525.60,35.37 L526.72,36.15 L527.83,36.93 L528.94,37.69 L530.06,38.45 L531.17,39.20 L532.28,39.93 L533.40,40.65 L534.51,41.36 L535.62,42.05 L536.74,42.73 L537.85,43.39 L538.96,44.03 L540.08,44.64 L541.19,45.24 L542.30,45.81 L543.42,46.36 L544.53,46.88 L545.64,47.32 L546.76,47.70 L547.87,48.04 L548.98,48.35 L550.10,48.63 L551.21,48.88 L552.32,49.09 L553.44,49.27 L554.55,49.42 L555.66,49.54 L556.78,49.64 L557.89,49.72 L559.01,49.77 L560.12,49.81 L561.23,49.84 L562.35,49.85 L563.46,49.85 L564.57,49.84 L565.69,49.83 L566.80,49.82 L567.91,49.80 L569.03,49.79 L570.14,49.79 L571.25,49.79 L572.37,49.80 L573.48,49.82 L574.59,49.86 L575.71,49.92 L576.82,49.99 L577.93,50.09 L579.05,50.21 L580.16,50.36 L581.27,50.54 L582.39,50.75 L583.50,51.00 L584.61,51.28 L585.73,51.60 L586.84,51.96 L587.95,52.35 L589.07,52.79 L590.18,53.23 L591.29,53.56 L592.41,53.94 L593.52,54.35 L594.64,54.81 L595.75,55.31 L596.86,55.85 L597.98,56.43 L599.09,57.05 L600.20,57.72 L601.32,58.43 L602.43,59.19 L603.54,59.98 L604.66,60.80 L605.77,61.67 L606.88,62.56 L608.00,63.48 L609.11,64.43 L610.22,65.40 L611.34,66.40 L612.45,67.41 L613.56,68.44 L614.68,69.49 L615.79,70.55 L616.90,71.63 L618.02,72.72 L619.13,73.82 L620.24,74.93 L621.36,76.06 L622.47,77.21 L623.58,78.37 L624.70,79.54 L625.81,80.73 L626.93,81.93 L628.04,83.15 L629.15,84.39 L630.27,85.65 L631.38,86.92 L632.49,88.22 L633.61,89.54 L634.72,90.88 L635.83,92.25 L636.95,93.65 L638.06,95.08 L639.17,96.55 L640.29,98.05 L641.40,99.58 L641.40,119.58 L640.29,117.72 L639.17,115.90 L638.06,114.11 L636.95,112.35 L635.83,110.63 L634.72,108.93 L633.61,107.26 L632.49,105.62 L631.38,104.00 L630.27,102.40 L629.15,100.82 L628.04,99.26 L626.93,97.71 L625.81,96.18 L624.70,94.67 L623.58,93.17 L622.47,91.68 L621.36,90.22 L620.24,88.76 L619.13,87.32 L618.02,85.89 L616.90,84.48 L615.79,83.08 L614.68,81.69 L613.56,80.32 L612.45,78.96 L611.34,77.62 L610.22,76.30 L609.11,75.01 L608.00,73.73 L606.88,72.49 L605.77,71.27 L604.66,70.08 L603.54,68.93 L602.43,67.81 L601.32,66.74 L600.20,65.70 L599.09,64.71 L597.98,63.76 L596.86,62.85 L595.75,61.98 L594.64,61.16 L593.52,60.38 L592.41,59.64 L591.29,58.94 L590.18,58.28 L589.07,57.81 L587.95,57.40 L586.84,57.03 L585.73,56.70 L584.61,56.40 L583.50,56.15 L582.39,55.92 L581.27,55.74 L580.16,55.58 L579.05,55.46 L577.93,55.36 L576.82,55.28 L575.71,55.23 L574.59,55.20 L573.48,55.19 L572.37,55.19 L571.25,55.20 L570.14,55.23 L569.03,55.26 L567.91,55.30 L566.80,55.33 L565.69,55.37 L564.57,55.41 L563.46,55.44 L562.35,55.46 L561.23,55.48 L560.12,55.48 L559.01,55.46 L557.89,55.43 L556.78,55.38 L555.66,55.31 L554.55,55.21 L553.44,55.08 L552.32,54.93 L551.21,54.74 L550.10,54.52 L548.98,54.26 L547.87,53.97 L546.76,53.66 L545.64,53.31 L544.53,53.01 L543.42,52.80 L542.30,52.56 L541.19,52.29 L540.08,52.01 L538.96,51.70 L537.85,51.37 L536.74,51.02 L535.62,50.65 L534.51,50.27 L533.40,49.87 L532.28,49.45 L531.17,49.03 L530.06,48.59 L528.94,48.14 L527.83,47.68 L526.72,47.22 L525.60,46.75 L524.49,46.27 L523.37,45.79 L522.26,45.30 L521.15,44.82 L520.03,44.33 L518.92,43.84 L517.81,43.36 L516.69,42.88 L515.58,42.41 L514.47,41.94 L513.35,41.48 L512.24,41.02 L511.13,40.58 L510.01,40.15 L508.90,39.73 Z" fill="#f9c9c6" opacity="0.85"/>
<path d="M508.90,25.27 L510.01,26.91 L511.13,28.56 L512.24,30.23 L513.35,31.92 L514.47,33.61 L515.58,35.30 L516.69,37.00 L517.81,38.70 L518.92,40.40 L520.03,42.09 L521.15,43.77 L522.26,45.44 L523.37,47.09 L524.49,48.73 L525.60,50.34 L526.72,51.93 L527.83,53.50 L528.94,55.03 L530.06,56.53 L531.17,57.99 L532.28,59.42 L533.40,60.80 L534.51,62.14 L535.62,63.43 L536.74,64.67 L537.85,65.85 L538.96,66.98 L540.08,68.05 L541.19,69.05 L542.30,70.00 L543.42,70.89 L544.53,71.71 L545.64,72.47 L546.76,73.18 L547.87,73.82 L548.98,74.40 L550.10,74.92 L551.21,75.38 L552.32,75.78 L553.44,76.12 L554.55,76.39 L555.66,76.61 L556.78,76.77 L557.89,76.86 L559.01,76.90 L560.12,76.87 L561.23,76.79 L562.35,76.66 L563.46,76.50 L564.57,76.31 L565.69,76.09 L566.80,75.86 L567.91,75.63 L569.03,75.40 L570.14,75.18 L571.25,74.98 L572.37,74.81 L573.48,74.66 L574.59,74.55 L575.71,74.48 L576.82,74.43 L577.93,74.43 L579.05,74.46 L580.16,74.53 L581.27,74.64 L582.39,74.80 L583.50,74.99 L584.61,75.24 L585.73,75.53 L586.84,75.87 L587.95,76.26 L589.07,76.71 L590.18,77.21 L591.29,77.76 L592.41,78.37 L593.52,79.04 L594.64,79.77 L595.75,80.56 L596.86,81.42 L597.98,82.34 L599.09,83.32 L600.20,84.38 L601.32,85.50 L602.43,86.70 L603.54,87.97 L604.66,89.31 L605.77,90.73 L606.88,92.23 L608.00,93.81 L609.11,95.46 L610.22,97.20 L611.34,99.03 L612.45,100.94 L613.56,102.94 L614.68,105.02 L615.79,107.18 L616.90,109.41 L618.02,111.72 L619.13,114.08 L620.24,116.50 L621.36,118.97 L622.47,121.48 L623.58,124.04 L624.70,126.62 L625.81,129.24 L626.93,131.87 L628.04,134.52 L629.15,137.19 L630.27,139.85 L631.38,142.52 L632.49,145.18 L633.61,147.82 L634.72,150.45 L635.83,153.05 L636.95,155.63 L638.06,158.17 L639.17,160.66 L640.29,163.11 L641.40,165.51" fill="none" stroke="#b9b9b9" stroke-width="1.4" stroke-linejoin="round" stroke-linecap="butt"/>
<path d="M508.90,59.05 L510.01,59.02 L511.13,58.99 L512.24,58.97 L513.35,58.95 L514.47,58.94 L515.58,58.93 L516.69,58.92 L517.81,58.92 L518.92,58.93 L520.03,58.94 L521.15,58.95 L522.26,58.97 L523.37,58.99 L524.49,59.02 L525.60,59.05 L526.72,59.09 L527.83,59.13 L528.94,59.18 L530.06,59.23 L531.17,59.29 L532.28,59.35 L533.40,59.42 L534.51,59.49 L535.62,59.56 L536.74,59.65 L537.85,59.73 L538.96,59.83 L540.08,59.93 L541.19,60.03 L542.30,60.14 L543.42,60.25 L544.53,60.37 L545.64,60.50 L546.76,60.63 L547.87,60.76 L548.98,60.91 L550.10,61.05 L551.21,61.21 L552.32,61.37 L553.44,61.53 L554.55,61.70 L555.66,61.88 L556.78,62.06 L557.89,62.25 L559.01,62.44 L560.12,62.64 L561.23,62.85 L562.35,63.06 L563.46,63.28 L564.57,63.50 L565.69,63.73 L566.80,63.97 L567.91,64.21 L569.03,64.46 L570.14,64.72 L571.25,64.98 L572.37,65.25 L573.48,65.52 L574.59,65.80 L575.71,66.09 L576.82,66.38 L577.93,66.68 L579.05,66.99 L580.16,67.29 L581.27,67.61 L582.39,67.93 L583.50,68.25 L584.61,68.58 L585.73,68.91 L586.84,69.25 L587.95,69.59 L589.07,69.93 L590.18,70.28 L591.29,70.63 L592.41,70.98 L593.52,71.34 L594.64,71.70 L595.75,72.06 L596.86,72.43 L597.98,72.80 L599.09,73.17 L600.20,73.54 L601.32,73.91 L602.43,74.29 L603.54,74.66 L604.66,75.04 L605.77,75.42 L606.88,75.80 L608.00,76.18 L609.11,76.57 L610.22,76.95 L611.34,77.33 L612.45,77.72 L613.56,78.11 L614.68,78.50 L615.79,78.89 L616.90,79.28 L618.02,79.67 L619.13,80.07 L620.24,80.46 L621.36,80.86 L622.47,81.26 L623.58,81.66 L624.70,82.06 L625.81,82.47 L626.93,82.88 L628.04,83.28 L629.15,83.69 L630.27,84.10 L631.38,84.52 L632.49,84.93 L633.61,85.35 L634.72,85.77 L635.83,86.19 L636.95,86.62 L638.06,87.04 L639.17,87.47 L640.29,87.90 L641.40,88.34" fill="none" stroke="#3d8b32" stroke-width="1.45" stroke-linejoin="round" stroke-linecap="butt"/>
<path d="M508.90,30.23 L510.01,30.85 L511.13,31.48 L512.24,32.13 L513.35,32.78 L514.47,33.44 L515.58,34.11 L516.69,34.78 L517.81,35.46 L518.92,36.15 L520.03,36.83 L521.15,37.52 L522.26,38.21 L523.37,38.89 L524.49,39.57 L525.60,40.25 L526.72,40.93 L527.83,41.59 L528.94,42.25 L530.06,42.90 L531.17,43.54 L532.28,44.17 L533.40,44.78 L534.51,45.38 L535.62,45.96 L536.74,46.53 L537.85,47.08 L538.96,47.61 L540.08,48.12 L541.19,48.61 L542.30,49.07 L543.42,49.51 L544.53,49.93 L545.64,50.32 L546.76,50.68 L547.87,51.01 L548.98,51.31 L550.10,51.57 L551.21,51.81 L552.32,52.01 L553.44,52.18 L554.55,52.31 L555.66,52.43 L556.78,52.51 L557.89,52.58 L559.01,52.62 L560.12,52.65 L561.23,52.66 L562.35,52.66 L563.46,52.64 L564.57,52.63 L565.69,52.60 L566.80,52.58 L567.91,52.55 L569.03,52.53 L570.14,52.51 L571.25,52.50 L572.37,52.49 L573.48,52.51 L574.59,52.53 L575.71,52.58 L576.82,52.64 L577.93,52.72 L579.05,52.83 L580.16,52.97 L581.27,53.14 L582.39,53.34 L583.50,53.57 L584.61,53.84 L585.73,54.15 L586.84,54.50 L587.95,54.88 L589.07,55.30 L590.18,55.75 L591.29,56.25 L592.41,56.79 L593.52,57.37 L594.64,57.98 L595.75,58.64 L596.86,59.35 L597.98,60.09 L599.09,60.88 L600.20,61.71 L601.32,62.59 L602.43,63.50 L603.54,64.45 L604.66,65.44 L605.77,66.47 L606.88,67.52 L608.00,68.61 L609.11,69.72 L610.22,70.85 L611.34,72.01 L612.45,73.19 L613.56,74.38 L614.68,75.59 L615.79,76.82 L616.90,78.05 L618.02,79.31 L619.13,80.57 L620.24,81.85 L621.36,83.14 L622.47,84.45 L623.58,85.77 L624.70,87.10 L625.81,88.46 L626.93,89.82 L628.04,91.20 L629.15,92.60 L630.27,94.02 L631.38,95.46 L632.49,96.92 L633.61,98.40 L634.72,99.91 L635.83,101.44 L636.95,103.00 L638.06,104.60 L639.17,106.22 L640.29,107.88 L641.40,109.58" fill="none" stroke="#e8312a" stroke-width="1.45" stroke-linejoin="round" stroke-linecap="butt"/>
<line x1="505.8" y1="7" x2="505.8" y2="183.5" stroke="#b0b0b0" stroke-width="1.7"/>
<line x1="501.6" y1="13.8" x2="505.8" y2="13.8" stroke="#505050" stroke-width="1"/>
<text x="496.6" y="17.7" font-size="11" text-anchor="end" stroke="#231f20" stroke-width="0.22" fill="#231f20">0.5</text>
<line x1="501.6" y1="68.9" x2="505.8" y2="68.9" stroke="#505050" stroke-width="1"/>
<text x="496.6" y="72.8" font-size="11" text-anchor="end" stroke="#231f20" stroke-width="0.22" fill="#231f20">0.4</text>
<line x1="501.6" y1="124" x2="505.8" y2="124" stroke="#505050" stroke-width="1"/>
<text x="496.6" y="127.9" font-size="11" text-anchor="end" stroke="#231f20" stroke-width="0.22" fill="#231f20">0.3</text>
<line x1="501.6" y1="179.1" x2="505.8" y2="179.1" stroke="#505050" stroke-width="1"/>
<text x="496.6" y="183.0" font-size="11" text-anchor="end" stroke="#231f20" stroke-width="0.22" fill="#231f20">0.2</text>
<line x1="501.5" y1="179.3" x2="647.5" y2="179.3" stroke="#505050" stroke-width="1.1"/>
<text x="505.8" y="197.3" font-size="11" text-anchor="middle" stroke="#231f20" stroke-width="0.22" fill="#231f20">0</text>
<line x1="524.9625937701554" y1="179.3" x2="524.9625937701554" y2="183.5" stroke="#505050" stroke-width="1"/>
<text x="524.96" y="197.3" font-size="11" text-anchor="middle" stroke="#231f20" stroke-width="0.22" fill="#231f20">2</text>
<line x1="536.0987210951222" y1="179.3" x2="536.0987210951222" y2="183.5" stroke="#505050" stroke-width="1"/>
<text x="536.1" y="197.3" font-size="11" text-anchor="middle" stroke="#231f20" stroke-width="0.22" fill="#231f20">5</text>
<line x1="548.6488622952816" y1="179.3" x2="548.6488622952816" y2="183.5" stroke="#505050" stroke-width="1"/>
<text x="548.65" y="197.3" font-size="11" text-anchor="middle" stroke="#231f20" stroke-width="0.22" fill="#231f20">10</text>
<line x1="573.55" y1="179.3" x2="573.55" y2="183.5" stroke="#505050" stroke-width="1"/>
<text x="573.55" y="197.3" font-size="11" text-anchor="middle" stroke="#231f20" stroke-width="0.22" fill="#231f20">25</text>
<line x1="601.6129688507772" y1="179.3" x2="601.6129688507772" y2="183.5" stroke="#505050" stroke-width="1"/>
<text x="601.61" y="197.3" font-size="11" text-anchor="middle" stroke="#231f20" stroke-width="0.22" fill="#231f20">50</text>
<line x1="641.3" y1="179.3" x2="641.3" y2="183.5" stroke="#505050" stroke-width="1"/>
<text x="641.3" y="197.3" font-size="11" text-anchor="middle" stroke="#231f20" stroke-width="0.22" fill="#231f20">100</text>
<text x="577" y="216.3" font-size="11" text-anchor="middle" stroke="#231f20" stroke-width="0.22" fill="#231f20" textLength="54.5" lengthAdjust="spacingAndGlyphs">Age (years)</text>
<text x="471.9" y="92.7" font-size="11" text-anchor="middle" stroke="#231f20" stroke-width="0.22" fill="#231f20" transform="rotate(-90 471.9 92.7)" textLength="140" lengthAdjust="spacingAndGlyphs">Structure–function similarity</text>
<rect x="657" y="85.9" width="8" height="8" fill="#f5a8a4"/>
<line x1="657" y1="89.9" x2="665" y2="89.9" stroke="#e8312a" stroke-width="1.9"/>
<text x="670.2" y="93.8" font-size="11" text-anchor="start" stroke="#231f20" stroke-width="0.22" fill="#231f20">G1</text>
<rect x="657" y="97" width="8" height="8" fill="#acd3a3"/>
<line x1="657" y1="101" x2="665" y2="101" stroke="#3d8b32" stroke-width="1.9"/>
<text x="670.2" y="104.9" font-size="11" text-anchor="start" stroke="#231f20" stroke-width="0.22" fill="#231f20">G2</text>
<rect x="657" y="108.2" width="8" height="8" fill="#e0e0e0"/>
<line x1="657" y1="112.2" x2="665" y2="112.2" stroke="#bdbdbd" stroke-width="1.9"/>
<text x="670.2" y="116.1" font-size="11" text-anchor="start" stroke="#231f20" stroke-width="0.22" fill="#231f20">G3</text>
<text x="461.5" y="10.7" font-size="16" text-anchor="start" font-weight="bold" stroke="#000" stroke-width="0.35" fill="#231f20">c</text>
<path d="M52.70,352.33 L53.74,351.94 L54.79,351.57 L55.83,351.21 L56.87,350.86 L57.92,350.53 L58.96,350.20 L60.01,349.89 L61.05,349.60 L62.09,349.31 L63.14,349.04 L64.18,348.78 L65.22,348.53 L66.27,348.30 L67.31,348.07 L68.36,347.86 L69.40,347.67 L70.44,347.48 L71.49,347.31 L72.53,347.15 L73.57,347.00 L74.62,346.87 L75.66,346.74 L76.71,346.63 L77.75,346.54 L78.79,346.45 L79.84,346.38 L80.88,346.23 L81.92,346.08 L82.97,345.94 L84.01,345.81 L85.05,345.70 L86.10,345.60 L87.14,345.51 L88.19,345.43 L89.23,345.36 L90.27,345.31 L91.32,345.27 L92.36,345.24 L93.40,345.22 L94.45,345.21 L95.49,345.22 L96.54,345.24 L97.58,345.27 L98.62,345.31 L99.67,345.37 L100.71,345.43 L101.75,345.51 L102.80,345.60 L103.84,345.70 L104.88,345.81 L105.93,345.94 L106.97,346.08 L108.02,346.22 L109.06,346.38 L110.10,346.56 L111.15,346.74 L112.19,346.93 L113.23,347.14 L114.28,347.36 L115.32,347.58 L116.37,347.82 L117.41,348.07 L118.45,348.33 L119.50,348.60 L120.54,348.83 L121.58,349.04 L122.63,349.25 L123.67,349.47 L124.72,349.71 L125.76,349.95 L126.80,350.20 L127.85,350.46 L128.89,350.73 L129.93,351.01 L130.98,351.30 L132.02,351.60 L133.06,351.91 L134.11,352.22 L135.15,352.55 L136.20,352.88 L137.24,353.22 L138.28,353.57 L139.33,353.93 L140.37,354.29 L141.41,354.67 L142.46,355.05 L143.50,355.44 L144.55,355.83 L145.59,356.23 L146.63,356.64 L147.68,357.06 L148.72,357.49 L149.76,357.92 L150.81,358.35 L151.85,358.80 L152.89,359.25 L153.94,359.71 L154.98,360.17 L156.03,360.64 L157.07,361.12 L158.11,361.60 L159.16,362.08 L160.20,362.58 L161.24,363.08 L162.29,363.58 L163.33,364.09 L164.38,364.60 L165.42,365.12 L166.46,365.64 L167.51,366.17 L168.55,366.71 L169.59,367.24 L170.64,367.79 L171.68,368.33 L172.73,368.88 L173.77,369.44 L174.81,370.00 L175.86,370.56 L176.90,371.12 L176.90,384.12 L175.86,383.41 L174.81,382.70 L173.77,382.00 L172.73,381.30 L171.68,380.60 L170.64,379.91 L169.59,379.22 L168.55,378.53 L167.51,377.85 L166.46,377.18 L165.42,376.51 L164.38,375.84 L163.33,375.18 L162.29,374.52 L161.24,373.87 L160.20,373.23 L159.16,372.59 L158.11,371.96 L157.07,371.33 L156.03,370.71 L154.98,370.09 L153.94,369.48 L152.89,368.88 L151.85,368.28 L150.81,367.69 L149.76,367.10 L148.72,366.52 L147.68,365.95 L146.63,365.39 L145.59,364.83 L144.55,364.28 L143.50,363.74 L142.46,363.21 L141.41,362.68 L140.37,362.16 L139.33,361.65 L138.28,361.14 L137.24,360.65 L136.20,360.16 L135.15,359.68 L134.11,359.21 L133.06,358.75 L132.02,358.29 L130.98,357.85 L129.93,357.41 L128.89,356.98 L127.85,356.57 L126.80,356.16 L125.76,355.76 L124.72,355.37 L123.67,354.99 L122.63,354.62 L121.58,354.26 L120.54,353.91 L119.50,353.61 L118.45,353.37 L117.41,353.13 L116.37,352.91 L115.32,352.70 L114.28,352.50 L113.23,352.31 L112.19,352.13 L111.15,351.96 L110.10,351.80 L109.06,351.66 L108.02,351.52 L106.97,351.40 L105.93,351.29 L104.88,351.19 L103.84,351.10 L102.80,351.03 L101.75,350.97 L100.71,350.91 L99.67,350.87 L98.62,350.85 L97.58,350.83 L96.54,350.83 L95.49,350.83 L94.45,350.85 L93.40,350.89 L92.36,350.93 L91.32,350.98 L90.27,351.05 L89.23,351.13 L88.19,351.22 L87.14,351.33 L86.10,351.44 L85.05,351.57 L84.01,351.71 L82.97,351.87 L81.92,352.03 L80.88,352.21 L79.84,352.40 L78.79,352.63 L77.75,352.87 L76.71,353.12 L75.66,353.38 L74.62,353.66 L73.57,353.94 L72.53,354.24 L71.49,354.56 L70.44,354.88 L69.40,355.22 L68.36,355.57 L67.31,355.93 L66.27,356.31 L65.22,356.70 L64.18,357.10 L63.14,357.51 L62.09,357.93 L61.05,358.37 L60.01,358.82 L58.96,359.29 L57.92,359.76 L56.87,360.25 L55.83,360.75 L54.79,361.26 L53.74,361.79 L52.70,362.33 Z" fill="#ececec" opacity="1.0"/>
<path d="M52.70,308.75 L53.74,308.28 L54.79,307.78 L55.83,307.26 L56.87,306.72 L57.92,306.18 L58.96,305.64 L60.01,305.10 L61.05,304.58 L62.09,304.07 L63.14,303.60 L64.18,303.17 L65.22,302.77 L66.27,302.43 L67.31,302.14 L68.36,301.92 L69.40,301.78 L70.44,301.71 L71.49,301.73 L72.53,301.84 L73.57,302.06 L74.62,302.38 L75.66,302.60 L76.71,302.80 L77.75,303.14 L78.79,303.62 L79.84,304.24 L80.88,305.00 L81.92,305.91 L82.97,306.95 L84.01,308.12 L85.05,309.42 L86.10,310.83 L87.14,312.35 L88.19,313.98 L89.23,315.70 L90.27,317.51 L91.32,319.37 L92.36,321.25 L93.40,323.15 L94.45,325.04 L95.49,326.88 L96.54,328.67 L97.58,330.38 L98.62,331.99 L99.67,333.51 L100.71,334.90 L101.75,336.18 L102.80,337.39 L103.84,338.52 L104.88,339.58 L105.93,340.58 L106.97,341.51 L108.02,342.39 L109.06,343.22 L110.10,343.99 L111.15,344.72 L112.19,345.41 L113.23,346.06 L114.28,346.68 L115.32,347.26 L116.37,347.82 L117.41,348.36 L118.45,348.89 L119.50,349.40 L120.54,349.89 L121.58,350.39 L122.63,350.88 L123.67,351.37 L124.72,351.87 L125.76,352.38 L126.80,352.90 L127.85,353.44 L128.89,354.01 L129.93,354.59 L130.98,355.21 L132.02,355.86 L133.06,356.55 L134.11,357.26 L135.15,358.00 L136.20,358.76 L137.24,359.56 L138.28,360.37 L139.33,361.21 L140.37,362.01 L141.41,362.70 L142.46,363.41 L143.50,364.14 L144.55,364.89 L145.59,365.65 L146.63,366.42 L147.68,367.21 L148.72,368.00 L149.76,368.80 L150.81,369.61 L151.85,370.43 L152.89,371.25 L153.94,372.07 L154.98,372.89 L156.03,373.72 L157.07,374.54 L158.11,375.36 L159.16,376.18 L160.20,376.99 L161.24,377.80 L162.29,378.59 L163.33,379.38 L164.38,380.15 L165.42,380.92 L166.46,381.67 L167.51,382.40 L168.55,383.12 L169.59,383.82 L170.64,384.50 L171.68,385.15 L172.73,385.79 L173.77,386.40 L174.81,386.99 L175.86,387.55 L176.90,388.09 L176.90,408.09 L175.86,407.16 L174.81,406.20 L173.77,405.22 L172.73,404.21 L171.68,403.17 L170.64,402.12 L169.59,401.04 L168.55,399.95 L167.51,398.84 L166.46,397.71 L165.42,396.56 L164.38,395.40 L163.33,394.23 L162.29,393.05 L161.24,391.86 L160.20,390.66 L159.16,389.45 L158.11,388.24 L157.07,387.02 L156.03,385.80 L154.98,384.58 L153.94,383.36 L152.89,382.14 L151.85,380.92 L150.81,379.71 L149.76,378.51 L148.72,377.31 L147.68,376.12 L146.63,374.94 L145.59,373.77 L144.55,372.61 L143.50,371.47 L142.46,370.35 L141.41,369.24 L140.37,368.15 L139.33,367.19 L138.28,366.33 L137.24,365.49 L136.20,364.67 L135.15,363.88 L134.11,363.11 L133.06,362.37 L132.02,361.67 L130.98,360.99 L129.93,360.34 L128.89,359.73 L127.85,359.14 L126.80,358.57 L125.76,358.02 L124.72,357.49 L123.67,356.96 L122.63,356.44 L121.58,355.93 L120.54,355.41 L119.50,354.88 L118.45,354.35 L117.41,353.80 L116.37,353.23 L115.32,352.65 L114.28,352.03 L113.23,351.39 L112.19,350.71 L111.15,350.00 L110.10,349.24 L109.06,348.44 L108.02,347.59 L106.97,346.69 L105.93,345.73 L104.88,344.70 L103.84,343.62 L102.80,342.46 L101.75,341.23 L100.71,339.92 L99.67,338.55 L98.62,337.16 L97.58,335.67 L96.54,334.09 L95.49,332.43 L94.45,330.70 L93.40,328.94 L92.36,327.17 L91.32,325.41 L90.27,323.67 L89.23,322.00 L88.19,320.40 L87.14,318.89 L86.10,317.50 L85.05,316.21 L84.01,315.04 L82.97,314.00 L81.92,313.08 L80.88,312.30 L79.84,311.66 L78.79,311.16 L77.75,310.81 L76.71,310.60 L75.66,310.52 L74.62,310.66 L73.57,311.08 L72.53,311.62 L71.49,312.25 L70.44,312.98 L69.40,313.80 L68.36,314.69 L67.31,315.66 L66.27,316.69 L65.22,317.79 L64.18,318.93 L63.14,320.11 L62.09,321.34 L61.05,322.59 L60.01,323.86 L58.96,325.14 L57.92,326.44 L56.87,327.73 L55.83,329.01 L54.79,330.28 L53.74,331.53 L52.70,332.75 Z" fill="#d5e6d0" opacity="0.9"/>
<path d="M52.90,371.69 L53.94,368.22 L54.98,364.67 L56.03,361.04 L57.07,357.35 L58.11,353.61 L59.15,349.83 L60.19,346.02 L61.24,342.19 L62.28,338.35 L63.32,334.51 L64.36,330.69 L65.40,326.89 L66.45,323.12 L67.49,319.39 L68.53,315.72 L69.57,312.12 L70.61,308.48 L71.66,304.84 L72.70,301.30 L73.74,297.87 L74.78,294.55 L75.82,291.35 L76.87,288.27 L77.91,285.31 L78.95,282.48 L79.99,279.77 L81.03,277.20 L82.08,274.76 L83.12,272.46 L84.16,270.30 L85.20,268.28 L86.24,266.41 L87.29,264.69 L88.33,263.12 L89.37,261.71 L90.41,260.45 L91.45,259.34 L92.50,258.37 L93.54,257.53 L94.58,256.80 L95.62,256.18 L96.66,255.67 L97.71,255.24 L98.75,254.89 L99.79,254.62 L100.83,254.36 L101.87,254.14 L102.92,253.97 L103.96,253.83 L105.00,253.71 L106.04,253.61 L107.08,253.52 L108.13,253.43 L109.17,253.33 L110.21,253.22 L111.25,253.11 L112.29,253.00 L113.34,252.88 L114.38,252.75 L115.42,252.63 L116.46,252.50 L117.51,252.38 L118.55,252.26 L119.59,252.14 L120.63,252.03 L121.67,251.92 L122.72,251.81 L123.76,251.72 L124.80,251.63 L125.84,251.55 L126.88,251.48 L127.93,251.42 L128.97,251.38 L130.01,251.35 L131.05,251.33 L132.09,251.33 L133.14,251.34 L134.18,251.37 L135.22,251.41 L136.26,251.46 L137.30,251.52 L138.35,251.60 L139.39,251.69 L140.43,251.71 L141.47,251.62 L142.51,251.54 L143.56,251.48 L144.60,251.42 L145.64,251.38 L146.68,251.34 L147.72,251.31 L148.77,251.30 L149.81,251.29 L150.85,251.28 L151.89,251.29 L152.93,251.30 L153.98,251.32 L155.02,251.35 L156.06,251.39 L157.10,251.43 L158.14,251.47 L159.19,251.52 L160.23,251.58 L161.27,251.64 L162.31,251.70 L163.35,251.77 L164.40,251.84 L165.44,251.92 L166.48,252.00 L167.52,252.08 L168.56,252.16 L169.61,252.25 L170.65,252.33 L171.69,252.42 L172.73,252.51 L173.77,252.60 L174.82,252.69 L175.86,252.78 L176.90,252.86 L176.90,273.86 L175.86,273.35 L174.82,272.84 L173.77,272.33 L172.73,271.81 L171.69,271.30 L170.65,270.79 L169.61,270.28 L168.56,269.77 L167.52,269.27 L166.48,268.76 L165.44,268.26 L164.40,267.76 L163.35,267.26 L162.31,266.77 L161.27,266.28 L160.23,265.80 L159.19,265.32 L158.14,264.85 L157.10,264.38 L156.06,263.91 L155.02,263.46 L153.98,263.01 L152.93,262.56 L151.89,262.12 L150.85,261.69 L149.81,261.27 L148.77,260.86 L147.72,260.45 L146.68,260.06 L145.64,259.67 L144.60,259.29 L143.56,258.92 L142.51,258.56 L141.47,258.22 L140.43,257.88 L139.39,257.67 L138.35,257.56 L137.30,257.45 L136.26,257.36 L135.22,257.29 L134.18,257.22 L133.14,257.17 L132.09,257.13 L131.05,257.11 L130.01,257.10 L128.97,257.10 L127.93,257.12 L126.88,257.15 L125.84,257.19 L124.80,257.25 L123.76,257.31 L122.72,257.38 L121.67,257.46 L120.63,257.54 L119.59,257.63 L118.55,257.72 L117.51,257.82 L116.46,257.92 L115.42,258.01 L114.38,258.11 L113.34,258.21 L112.29,258.30 L111.25,258.39 L110.21,258.48 L109.17,258.56 L108.13,258.63 L107.08,258.70 L106.04,258.76 L105.00,258.84 L103.96,258.92 L102.92,259.04 L101.87,259.19 L100.83,259.38 L99.79,259.64 L98.75,260.02 L97.71,260.47 L96.66,261.00 L95.62,261.62 L94.58,262.34 L93.54,263.17 L92.50,264.12 L91.45,265.20 L90.41,266.41 L89.37,267.77 L88.33,269.29 L87.29,270.96 L86.24,272.79 L85.20,274.76 L84.16,276.88 L83.12,279.15 L82.08,281.55 L81.03,284.10 L79.99,286.77 L78.95,289.58 L77.91,292.52 L76.87,295.58 L75.82,298.77 L74.78,302.08 L73.74,305.50 L72.70,309.03 L71.66,312.68 L70.61,316.41 L69.57,320.44 L68.53,324.84 L67.49,329.30 L66.45,333.82 L65.40,338.38 L64.36,342.98 L63.32,347.59 L62.28,352.22 L61.24,356.85 L60.19,361.48 L59.15,366.08 L58.11,370.65 L57.07,375.18 L56.03,379.66 L54.98,384.08 L53.94,388.43 L52.90,392.69 Z" fill="#f9c9c6" opacity="0.85"/>
<path d="M52.70,358.33 L53.74,357.83 L54.79,357.34 L55.83,356.87 L56.87,356.40 L57.92,355.95 L58.96,355.51 L60.01,355.09 L61.05,354.68 L62.09,354.28 L63.14,353.89 L64.18,353.52 L65.22,353.15 L66.27,352.81 L67.31,352.47 L68.36,352.14 L69.40,351.83 L70.44,351.53 L71.49,351.25 L72.53,350.97 L73.57,350.71 L74.62,350.46 L75.66,350.22 L76.71,350.00 L77.75,349.78 L78.79,349.58 L79.84,349.39 L80.88,349.22 L81.92,349.05 L82.97,348.90 L84.01,348.76 L85.05,348.64 L86.10,348.52 L87.14,348.42 L88.19,348.33 L89.23,348.25 L90.27,348.18 L91.32,348.13 L92.36,348.08 L93.40,348.05 L94.45,348.03 L95.49,348.03 L96.54,348.03 L97.58,348.05 L98.62,348.08 L99.67,348.12 L100.71,348.17 L101.75,348.24 L102.80,348.31 L103.84,348.40 L104.88,348.50 L105.93,348.62 L106.97,348.74 L108.02,348.87 L109.06,349.02 L110.10,349.18 L111.15,349.35 L112.19,349.53 L113.23,349.72 L114.28,349.93 L115.32,350.14 L116.37,350.37 L117.41,350.60 L118.45,350.85 L119.50,351.10 L120.54,351.37 L121.58,351.65 L122.63,351.93 L123.67,352.23 L124.72,352.54 L125.76,352.85 L126.80,353.18 L127.85,353.51 L128.89,353.86 L129.93,354.21 L130.98,354.58 L132.02,354.95 L133.06,355.33 L134.11,355.72 L135.15,356.11 L136.20,356.52 L137.24,356.93 L138.28,357.36 L139.33,357.79 L140.37,358.23 L141.41,358.67 L142.46,359.13 L143.50,359.59 L144.55,360.06 L145.59,360.53 L146.63,361.02 L147.68,361.51 L148.72,362.01 L149.76,362.51 L150.81,363.02 L151.85,363.54 L152.89,364.06 L153.94,364.59 L154.98,365.13 L156.03,365.67 L157.07,366.22 L158.11,366.78 L159.16,367.34 L160.20,367.90 L161.24,368.47 L162.29,369.05 L163.33,369.63 L164.38,370.22 L165.42,370.81 L166.46,371.41 L167.51,372.01 L168.55,372.62 L169.59,373.23 L170.64,373.85 L171.68,374.47 L172.73,375.09 L173.77,375.72 L174.81,376.35 L175.86,376.98 L176.90,377.62" fill="none" stroke="#b9b9b9" stroke-width="1.4" stroke-linejoin="round" stroke-linecap="butt"/>
<path d="M52.70,321.75 L53.74,320.86 L54.79,319.94 L55.83,319.00 L56.87,318.04 L57.92,317.07 L58.96,316.11 L60.01,315.15 L61.05,314.21 L62.09,313.28 L63.14,312.39 L64.18,311.53 L65.22,310.72 L66.27,309.95 L67.31,309.25 L68.36,308.61 L69.40,308.04 L70.44,307.55 L71.49,307.15 L72.53,306.84 L73.57,306.63 L74.62,306.54 L75.66,306.56 L76.71,306.70 L77.75,306.98 L78.79,307.39 L79.84,307.95 L80.88,308.65 L81.92,309.50 L82.97,310.47 L84.01,311.58 L85.05,312.81 L86.10,314.16 L87.14,315.62 L88.19,317.19 L89.23,318.85 L90.27,320.59 L91.32,322.39 L92.36,324.21 L93.40,326.05 L94.45,327.87 L95.49,329.65 L96.54,331.38 L97.58,333.02 L98.62,334.57 L99.67,336.03 L100.71,337.41 L101.75,338.71 L102.80,339.92 L103.84,341.07 L104.88,342.14 L105.93,343.15 L106.97,344.10 L108.02,344.99 L109.06,345.83 L110.10,346.62 L111.15,347.36 L112.19,348.06 L113.23,348.72 L114.28,349.35 L115.32,349.95 L116.37,350.53 L117.41,351.08 L118.45,351.62 L119.50,352.14 L120.54,352.65 L121.58,353.16 L122.63,353.66 L123.67,354.17 L124.72,354.68 L125.76,355.20 L126.80,355.74 L127.85,356.29 L128.89,356.87 L129.93,357.47 L130.98,358.10 L132.02,358.76 L133.06,359.46 L134.11,360.18 L135.15,360.94 L136.20,361.72 L137.24,362.52 L138.28,363.35 L139.33,364.20 L140.37,365.08 L141.41,365.97 L142.46,366.88 L143.50,367.81 L144.55,368.75 L145.59,369.71 L146.63,370.68 L147.68,371.66 L148.72,372.65 L149.76,373.65 L150.81,374.66 L151.85,375.68 L152.89,376.69 L153.94,377.71 L154.98,378.74 L156.03,379.76 L157.07,380.78 L158.11,381.80 L159.16,382.81 L160.20,383.82 L161.24,384.83 L162.29,385.82 L163.33,386.80 L164.38,387.78 L165.42,388.74 L166.46,389.69 L167.51,390.62 L168.55,391.53 L169.59,392.43 L170.64,393.31 L171.68,394.16 L172.73,395.00 L173.77,395.81 L174.81,396.60 L175.86,397.35 L176.90,398.09" fill="none" stroke="#3d8b32" stroke-width="1.45" stroke-linejoin="round" stroke-linecap="butt"/>
<path d="M52.90,379.69 L53.94,375.98 L54.98,372.18 L56.03,368.31 L57.07,364.38 L58.11,360.39 L59.15,356.37 L60.19,352.31 L61.24,348.24 L62.28,344.16 L63.32,340.08 L64.36,336.01 L65.40,331.96 L66.45,327.95 L67.49,323.98 L68.53,320.07 L69.57,316.22 L70.61,312.45 L71.66,308.76 L72.70,305.17 L73.74,301.69 L74.78,298.32 L75.82,295.06 L76.87,291.93 L77.91,288.92 L78.95,286.03 L79.99,283.27 L81.03,280.65 L82.08,278.16 L83.12,275.80 L84.16,273.59 L85.20,271.52 L86.24,269.60 L87.29,267.83 L88.33,266.21 L89.37,264.74 L90.41,263.43 L91.45,262.27 L92.50,261.25 L93.54,260.35 L94.58,259.57 L95.62,258.90 L96.66,258.33 L97.71,257.85 L98.75,257.46 L99.79,257.13 L100.83,256.87 L101.87,256.66 L102.92,256.50 L103.96,256.37 L105.00,256.27 L106.04,256.19 L107.08,256.11 L108.13,256.03 L109.17,255.95 L110.21,255.85 L111.25,255.75 L112.29,255.65 L113.34,255.54 L114.38,255.43 L115.42,255.32 L116.46,255.21 L117.51,255.10 L118.55,254.99 L119.59,254.89 L120.63,254.78 L121.67,254.69 L122.72,254.60 L123.76,254.51 L124.80,254.44 L125.84,254.37 L126.88,254.32 L127.93,254.27 L128.97,254.24 L130.01,254.22 L131.05,254.22 L132.09,254.23 L133.14,254.26 L134.18,254.29 L135.22,254.35 L136.26,254.41 L137.30,254.49 L138.35,254.58 L139.39,254.68 L140.43,254.79 L141.47,254.92 L142.51,255.05 L143.56,255.20 L144.60,255.36 L145.64,255.52 L146.68,255.70 L147.72,255.88 L148.77,256.08 L149.81,256.28 L150.85,256.49 L151.89,256.71 L152.93,256.93 L153.98,257.16 L155.02,257.40 L156.06,257.65 L157.10,257.90 L158.14,258.16 L159.19,258.42 L160.23,258.69 L161.27,258.96 L162.31,259.24 L163.35,259.52 L164.40,259.80 L165.44,260.09 L166.48,260.38 L167.52,260.67 L168.56,260.97 L169.61,261.26 L170.65,261.56 L171.69,261.86 L172.73,262.16 L173.77,262.46 L174.82,262.76 L175.86,263.06 L176.90,263.36" fill="none" stroke="#e8312a" stroke-width="1.45" stroke-linejoin="round" stroke-linecap="butt"/>
<line x1="107.2" y1="254.2" x2="153.4" y2="254.2" stroke="#3a3a3a" stroke-width="1.1"/>
<line x1="107.2" y1="250.0" x2="107.2" y2="258.4" stroke="#3a3a3a" stroke-width="1.1"/>
<line x1="153.4" y1="250.0" x2="153.4" y2="258.4" stroke="#3a3a3a" stroke-width="1.1"/>
<line x1="69.6" y1="306.9" x2="77.6" y2="306.9" stroke="#3a3a3a" stroke-width="1.1"/>
<line x1="69.6" y1="302.7" x2="69.6" y2="311.09999999999997" stroke="#3a3a3a" stroke-width="1.1"/>
<line x1="77.6" y1="302.7" x2="77.6" y2="311.09999999999997" stroke="#3a3a3a" stroke-width="1.1"/>
<line x1="88.8" y1="348.3" x2="103.3" y2="348.3" stroke="#3a3a3a" stroke-width="1.1"/>
<line x1="88.8" y1="344.1" x2="88.8" y2="352.5" stroke="#3a3a3a" stroke-width="1.1"/>
<line x1="103.3" y1="344.1" x2="103.3" y2="352.5" stroke="#3a3a3a" stroke-width="1.1"/>
<line x1="50.4" y1="237" x2="50.4" y2="414.5" stroke="#5e5e5e" stroke-width="1.1"/>
<line x1="46.199999999999996" y1="242.5" x2="50.4" y2="242.5" stroke="#505050" stroke-width="1"/>
<text x="40.5" y="247.3" font-size="11" text-anchor="end" stroke="#231f20" stroke-width="0.22" fill="#231f20">17.5</text>
<line x1="46.199999999999996" y1="283" x2="50.4" y2="283" stroke="#505050" stroke-width="1"/>
<text x="40.5" y="287.8" font-size="11" text-anchor="end" stroke="#231f20" stroke-width="0.22" fill="#231f20">15.0</text>
<line x1="46.199999999999996" y1="323.5" x2="50.4" y2="323.5" stroke="#505050" stroke-width="1"/>
<text x="40.5" y="328.3" font-size="11" text-anchor="end" stroke="#231f20" stroke-width="0.22" fill="#231f20">12.5</text>
<line x1="46.199999999999996" y1="364" x2="50.4" y2="364" stroke="#505050" stroke-width="1"/>
<text x="40.5" y="368.8" font-size="11" text-anchor="end" stroke="#231f20" stroke-width="0.22" fill="#231f20">10.0</text>
<line x1="46.199999999999996" y1="404.3" x2="50.4" y2="404.3" stroke="#505050" stroke-width="1"/>
<text x="40.5" y="409.1" font-size="11" text-anchor="end" stroke="#231f20" stroke-width="0.22" fill="#231f20">7.5</text>
<line x1="50.4" y1="410.3" x2="183.2" y2="410.3" stroke="#505050" stroke-width="1.1"/>
<text x="50.4" y="428.3" font-size="11" text-anchor="middle" stroke="#231f20" stroke-width="0.22" fill="#231f20">0</text>
<line x1="68.219090885901" y1="410.3" x2="68.219090885901" y2="414.5" stroke="#505050" stroke-width="1"/>
<text x="68.22" y="428.3" font-size="11" text-anchor="middle" stroke="#231f20" stroke-width="0.22" fill="#231f20">2</text>
<line x1="78.57445651649735" y1="410.3" x2="78.57445651649735" y2="414.5" stroke="#505050" stroke-width="1"/>
<text x="78.57" y="428.3" font-size="11" text-anchor="middle" stroke="#231f20" stroke-width="0.22" fill="#231f20">5</text>
<line x1="90.24469851812158" y1="410.3" x2="90.24469851812158" y2="414.5" stroke="#505050" stroke-width="1"/>
<text x="90.24" y="428.3" font-size="11" text-anchor="middle" stroke="#231f20" stroke-width="0.22" fill="#231f20">10</text>
<line x1="113.4" y1="410.3" x2="113.4" y2="414.5" stroke="#505050" stroke-width="1"/>
<text x="113.4" y="428.3" font-size="11" text-anchor="middle" stroke="#231f20" stroke-width="0.22" fill="#231f20">25</text>
<line x1="139.49545442950497" y1="410.3" x2="139.49545442950497" y2="414.5" stroke="#505050" stroke-width="1"/>
<text x="139.5" y="428.3" font-size="11" text-anchor="middle" stroke="#231f20" stroke-width="0.22" fill="#231f20">50</text>
<line x1="176.4" y1="410.3" x2="176.4" y2="414.5" stroke="#505050" stroke-width="1"/>
<text x="176.4" y="428.3" font-size="11" text-anchor="middle" stroke="#231f20" stroke-width="0.22" fill="#231f20">100</text>
<text x="116.4" y="447.3" font-size="11" text-anchor="middle" stroke="#231f20" stroke-width="0.22" fill="#231f20" textLength="54.5" lengthAdjust="spacingAndGlyphs">Age (years)</text>
<text x="9.8" y="325.6" font-size="11" text-anchor="middle" stroke="#231f20" stroke-width="0.22" fill="#231f20" transform="rotate(-90 9.8 325.6)" textLength="75" lengthAdjust="spacingAndGlyphs">Gradient range</text>
<rect x="192" y="319.7" width="8" height="8" fill="#f5a8a4"/>
<line x1="192" y1="323.7" x2="200" y2="323.7" stroke="#e8312a" stroke-width="1.9"/>
<text x="204.6" y="327.6" font-size="11" text-anchor="start" stroke="#231f20" stroke-width="0.22" fill="#231f20">G1</text>
<rect x="192" y="330.6" width="8" height="8" fill="#acd3a3"/>
<line x1="192" y1="334.6" x2="200" y2="334.6" stroke="#3d8b32" stroke-width="1.9"/>
<text x="204.6" y="338.5" font-size="11" text-anchor="start" stroke="#231f20" stroke-width="0.22" fill="#231f20">G2</text>
<rect x="192" y="341.3" width="8" height="8" fill="#e0e0e0"/>
<line x1="192" y1="345.3" x2="200" y2="345.3" stroke="#bdbdbd" stroke-width="1.9"/>
<text x="204.6" y="349.2" font-size="11" text-anchor="start" stroke="#231f20" stroke-width="0.22" fill="#231f20">G3</text>
<text x="-0.3" y="237.2" font-size="16" text-anchor="start" font-weight="bold" stroke="#000" stroke-width="0.35" fill="#231f20">d</text>
<path d="M273.20,363.16 L274.34,362.21 L275.47,361.20 L276.61,360.13 L277.74,359.02 L278.88,357.86 L280.02,356.68 L281.15,355.46 L282.29,354.22 L283.43,352.98 L284.56,351.72 L285.70,350.46 L286.83,349.21 L287.97,347.98 L289.11,346.77 L290.24,345.58 L291.38,344.43 L292.51,343.32 L293.65,342.25 L294.79,341.22 L295.92,340.23 L297.06,339.28 L298.19,338.36 L299.33,337.49 L300.47,336.64 L301.60,335.80 L302.74,335.00 L303.88,334.24 L305.01,333.51 L306.15,332.82 L307.28,332.17 L308.42,331.55 L309.56,330.97 L310.69,330.42 L311.83,329.91 L312.96,329.44 L314.10,328.99 L315.24,328.58 L316.37,328.21 L317.51,327.86 L318.65,327.55 L319.78,327.27 L320.92,327.02 L322.05,326.80 L323.19,326.61 L324.33,326.44 L325.46,326.30 L326.60,326.19 L327.73,326.11 L328.87,326.05 L330.01,326.02 L331.14,326.01 L332.28,326.02 L333.42,326.06 L334.55,326.12 L335.69,326.20 L336.82,326.30 L337.96,326.43 L339.10,326.57 L340.23,326.73 L341.37,326.91 L342.50,327.11 L343.64,327.32 L344.78,327.55 L345.91,327.80 L347.05,328.06 L348.18,328.34 L349.32,328.63 L350.46,328.94 L351.59,329.26 L352.73,329.59 L353.87,329.94 L355.00,330.31 L356.14,330.68 L357.27,331.07 L358.41,331.48 L359.55,331.90 L360.68,332.28 L361.82,332.66 L362.95,333.04 L364.09,333.44 L365.23,333.85 L366.36,334.27 L367.50,334.70 L368.64,335.15 L369.77,335.60 L370.91,336.07 L372.04,336.55 L373.18,337.03 L374.32,337.53 L375.45,338.04 L376.59,338.56 L377.72,339.08 L378.86,339.62 L380.00,340.17 L381.13,340.72 L382.27,341.29 L383.41,341.86 L384.54,342.44 L385.68,343.03 L386.81,343.62 L387.95,344.23 L389.09,344.84 L390.22,345.46 L391.36,346.09 L392.49,346.72 L393.63,347.36 L394.77,348.01 L395.90,348.66 L397.04,349.32 L398.17,349.98 L399.31,350.65 L400.45,351.33 L401.58,352.01 L402.72,352.69 L403.86,353.38 L404.99,354.08 L406.13,354.78 L407.26,355.48 L408.40,356.18 L408.40,366.18 L407.26,365.34 L406.13,364.49 L404.99,363.65 L403.86,362.82 L402.72,361.99 L401.58,361.16 L400.45,360.34 L399.31,359.53 L398.17,358.71 L397.04,357.91 L395.90,357.11 L394.77,356.32 L393.63,355.53 L392.49,354.75 L391.36,353.97 L390.22,353.21 L389.09,352.45 L387.95,351.69 L386.81,350.95 L385.68,350.21 L384.54,349.48 L383.41,348.76 L382.27,348.05 L381.13,347.34 L380.00,346.65 L378.86,345.96 L377.72,345.28 L376.59,344.61 L375.45,343.95 L374.32,343.31 L373.18,342.67 L372.04,342.04 L370.91,341.42 L369.77,340.81 L368.64,340.22 L367.50,339.63 L366.36,339.06 L365.23,338.50 L364.09,337.95 L362.95,337.41 L361.82,336.88 L360.68,336.37 L359.55,335.90 L358.41,335.48 L357.27,335.07 L356.14,334.68 L355.00,334.31 L353.87,333.94 L352.73,333.59 L351.59,333.26 L350.46,332.94 L349.32,332.63 L348.18,332.34 L347.05,332.06 L345.91,331.80 L344.78,331.55 L343.64,331.32 L342.50,331.11 L341.37,330.91 L340.23,330.73 L339.10,330.57 L337.96,330.43 L336.82,330.30 L335.69,330.20 L334.55,330.12 L333.42,330.06 L332.28,330.02 L331.14,330.01 L330.01,330.02 L328.87,330.05 L327.73,330.11 L326.60,330.19 L325.46,330.30 L324.33,330.44 L323.19,330.61 L322.05,330.80 L320.92,331.02 L319.78,331.27 L318.65,331.55 L317.51,331.86 L316.37,332.21 L315.24,332.58 L314.10,332.99 L312.96,333.44 L311.83,333.91 L310.69,334.42 L309.56,334.97 L308.42,335.55 L307.28,336.17 L306.15,336.82 L305.01,337.51 L303.88,338.24 L302.74,339.00 L301.60,339.80 L300.47,340.64 L299.33,341.54 L298.19,342.50 L297.06,343.49 L295.92,344.53 L294.79,345.61 L293.65,346.72 L292.51,347.88 L291.38,349.07 L290.24,350.31 L289.11,351.58 L287.97,352.88 L286.83,354.20 L285.70,355.53 L284.56,356.87 L283.43,358.21 L282.29,359.55 L281.15,360.87 L280.02,362.17 L278.88,363.44 L277.74,364.68 L276.61,365.88 L275.47,367.03 L274.34,368.12 L273.20,369.16 Z" fill="#ececec" opacity="1.0"/>
<path d="M273.20,304.96 L274.34,303.54 L275.47,302.10 L276.61,300.68 L277.74,299.25 L278.88,297.85 L280.02,296.46 L281.15,295.10 L282.29,293.77 L283.43,292.47 L284.56,291.22 L285.70,290.02 L286.83,288.88 L287.97,287.79 L289.11,286.77 L290.24,285.82 L291.38,284.95 L292.51,284.16 L293.65,283.46 L294.79,282.85 L295.92,282.35 L297.06,281.95 L298.19,281.67 L299.33,281.50 L300.47,281.41 L301.60,281.38 L302.74,281.48 L303.88,281.71 L305.01,282.08 L306.15,282.56 L307.28,283.16 L308.42,283.87 L309.56,284.69 L310.69,285.60 L311.83,286.60 L312.96,287.69 L314.10,288.86 L315.24,290.11 L316.37,291.42 L317.51,292.79 L318.65,294.23 L319.78,295.71 L320.92,297.23 L322.05,298.80 L323.19,300.39 L324.33,302.01 L325.46,303.66 L326.60,305.32 L327.73,306.98 L328.87,308.65 L330.01,310.32 L331.14,311.98 L332.28,313.62 L333.42,315.25 L334.55,316.86 L335.69,318.46 L336.82,320.04 L337.96,321.61 L339.10,323.16 L340.23,324.70 L341.37,326.23 L342.50,327.74 L343.64,329.24 L344.78,330.72 L345.91,332.19 L347.05,333.65 L348.18,335.10 L349.32,336.53 L350.46,337.95 L351.59,339.36 L352.73,340.76 L353.87,342.15 L355.00,343.52 L356.14,344.88 L357.27,346.24 L358.41,347.58 L359.55,348.91 L360.68,350.16 L361.82,351.36 L362.95,352.55 L364.09,353.73 L365.23,354.90 L366.36,356.06 L367.50,357.21 L368.64,358.35 L369.77,359.48 L370.91,360.61 L372.04,361.73 L373.18,362.84 L374.32,363.94 L375.45,365.04 L376.59,366.12 L377.72,367.21 L378.86,368.28 L380.00,369.35 L381.13,370.41 L382.27,371.47 L383.41,372.52 L384.54,373.57 L385.68,374.61 L386.81,375.65 L387.95,376.68 L389.09,377.71 L390.22,378.73 L391.36,379.75 L392.49,380.77 L393.63,381.78 L394.77,382.79 L395.90,383.79 L397.04,384.79 L398.17,385.79 L399.31,386.79 L400.45,387.79 L401.58,388.78 L402.72,389.77 L403.86,390.76 L404.99,391.75 L406.13,392.74 L407.26,393.73 L408.40,394.71 L408.40,408.71 L407.26,407.51 L406.13,406.32 L404.99,405.12 L403.86,403.92 L402.72,402.72 L401.58,401.51 L400.45,400.31 L399.31,399.10 L398.17,397.89 L397.04,396.68 L395.90,395.47 L394.77,394.25 L393.63,393.03 L392.49,391.81 L391.36,390.58 L390.22,389.35 L389.09,388.12 L387.95,386.88 L386.81,385.63 L385.68,384.39 L384.54,383.13 L383.41,381.88 L382.27,380.61 L381.13,379.34 L380.00,378.07 L378.86,376.79 L377.72,375.50 L376.59,374.21 L375.45,372.91 L374.32,371.60 L373.18,370.29 L372.04,368.97 L370.91,367.64 L369.77,366.30 L368.64,364.95 L367.50,363.60 L366.36,362.24 L365.23,360.87 L364.09,359.49 L362.95,358.10 L361.82,356.70 L360.68,355.29 L359.55,353.92 L358.41,352.61 L357.27,351.28 L356.14,349.95 L355.00,348.60 L353.87,347.25 L352.73,345.88 L351.59,344.50 L350.46,343.11 L349.32,341.71 L348.18,340.29 L347.05,338.87 L345.91,337.43 L344.78,335.97 L343.64,334.51 L342.50,333.03 L341.37,331.54 L340.23,330.03 L339.10,328.51 L337.96,326.98 L336.82,325.43 L335.69,323.86 L334.55,322.29 L333.42,320.69 L332.28,319.08 L331.14,317.46 L330.01,315.82 L328.87,314.17 L327.73,312.52 L326.60,310.87 L325.46,309.23 L324.33,307.61 L323.19,306.01 L322.05,304.43 L320.92,302.88 L319.78,301.38 L318.65,299.91 L317.51,298.50 L316.37,297.15 L315.24,295.85 L314.10,294.63 L312.96,293.48 L311.83,292.41 L310.69,291.42 L309.56,290.53 L308.42,289.73 L307.28,289.04 L306.15,288.46 L305.01,287.99 L303.88,287.65 L302.74,287.43 L301.60,287.35 L300.47,287.40 L299.33,287.65 L298.19,288.07 L297.06,288.61 L295.92,289.26 L294.79,290.02 L293.65,290.88 L292.51,291.83 L291.38,292.88 L290.24,294.00 L289.11,295.21 L287.97,296.48 L286.83,297.82 L285.70,299.22 L284.56,300.68 L283.43,302.19 L282.29,303.73 L281.15,305.32 L280.02,306.93 L278.88,308.58 L277.74,310.24 L276.61,311.91 L275.47,313.60 L274.34,315.28 L273.20,316.96 Z" fill="#d5e6d0" opacity="0.9"/>
<path d="M273.20,290.31 L274.34,288.98 L275.47,287.63 L276.61,286.25 L277.74,284.86 L278.88,283.44 L280.02,282.02 L281.15,280.58 L282.29,279.14 L283.43,277.69 L284.56,276.24 L285.70,274.80 L286.83,273.36 L287.97,271.93 L289.11,270.51 L290.24,269.10 L291.38,267.71 L292.51,266.34 L293.65,264.99 L294.79,263.67 L295.92,262.38 L297.06,261.12 L298.19,259.90 L299.33,258.72 L300.47,257.52 L301.60,256.28 L302.74,255.10 L303.88,253.96 L305.01,252.88 L306.15,251.86 L307.28,250.89 L308.42,249.98 L309.56,249.12 L310.69,248.32 L311.83,247.57 L312.96,246.88 L314.10,246.24 L315.24,245.65 L316.37,245.11 L317.51,244.62 L318.65,244.18 L319.78,243.79 L320.92,243.44 L322.05,243.14 L323.19,242.88 L324.33,242.67 L325.46,242.50 L326.60,242.38 L327.73,242.29 L328.87,242.25 L330.01,242.24 L331.14,242.28 L332.28,242.35 L333.42,242.46 L334.55,242.61 L335.69,242.79 L336.82,243.02 L337.96,243.28 L339.10,243.57 L340.23,243.90 L341.37,244.26 L342.50,244.65 L343.64,245.07 L344.78,245.53 L345.91,246.03 L347.05,246.56 L348.18,247.13 L349.32,247.73 L350.46,248.37 L351.59,249.04 L352.73,249.74 L353.87,250.48 L355.00,251.25 L356.14,252.05 L357.27,252.89 L358.41,253.76 L359.55,254.66 L360.68,255.59 L361.82,256.56 L362.95,257.55 L364.09,258.58 L365.23,259.64 L366.36,260.73 L367.50,261.85 L368.64,263.00 L369.77,264.18 L370.91,265.39 L372.04,266.63 L373.18,267.90 L374.32,269.20 L375.45,270.52 L376.59,271.86 L377.72,273.23 L378.86,274.61 L380.00,276.01 L381.13,277.19 L382.27,278.38 L383.41,279.58 L384.54,280.78 L385.68,282.00 L386.81,283.21 L387.95,284.43 L389.09,285.65 L390.22,286.86 L391.36,288.08 L392.49,289.28 L393.63,290.48 L394.77,291.66 L395.90,292.84 L397.04,294.00 L398.17,295.14 L399.31,296.26 L400.45,297.36 L401.58,298.44 L402.72,299.49 L403.86,300.52 L404.99,301.51 L406.13,302.48 L407.26,303.41 L408.40,304.30 L408.40,322.30 L407.26,320.93 L406.13,319.52 L404.99,318.07 L403.86,316.60 L402.72,315.09 L401.58,313.56 L400.45,312.00 L399.31,310.42 L398.17,308.82 L397.04,307.20 L395.90,305.56 L394.77,303.90 L393.63,302.24 L392.49,300.56 L391.36,298.88 L390.22,297.18 L389.09,295.49 L387.95,293.79 L386.81,292.09 L385.68,290.39 L384.54,288.70 L383.41,287.01 L382.27,285.34 L381.13,283.67 L380.00,282.01 L378.86,280.61 L377.72,279.23 L376.59,277.86 L375.45,276.52 L374.32,275.20 L373.18,273.90 L372.04,272.63 L370.91,271.39 L369.77,270.18 L368.64,269.00 L367.50,267.85 L366.36,266.73 L365.23,265.64 L364.09,264.58 L362.95,263.55 L361.82,262.56 L360.68,261.59 L359.55,260.66 L358.41,259.76 L357.27,258.89 L356.14,258.05 L355.00,257.25 L353.87,256.48 L352.73,255.74 L351.59,255.04 L350.46,254.37 L349.32,253.73 L348.18,253.13 L347.05,252.56 L345.91,252.03 L344.78,251.53 L343.64,251.07 L342.50,250.65 L341.37,250.26 L340.23,249.90 L339.10,249.59 L337.96,249.33 L336.82,249.09 L335.69,248.90 L334.55,248.74 L333.42,248.62 L332.28,248.54 L331.14,248.50 L330.01,248.49 L328.87,248.53 L327.73,248.60 L326.60,248.71 L325.46,248.87 L324.33,249.06 L323.19,249.30 L322.05,249.59 L320.92,249.92 L319.78,250.29 L318.65,250.71 L317.51,251.18 L316.37,251.70 L315.24,252.27 L314.10,252.89 L312.96,253.56 L311.83,254.28 L310.69,255.05 L309.56,255.88 L308.42,256.77 L307.28,257.71 L306.15,258.70 L305.01,259.76 L303.88,260.87 L302.74,262.03 L301.60,263.24 L300.47,264.50 L299.33,265.89 L298.19,267.37 L297.06,268.89 L295.92,270.45 L294.79,272.03 L293.65,273.65 L292.51,275.29 L291.38,276.96 L290.24,278.65 L289.11,280.35 L287.97,282.07 L286.83,283.80 L285.70,285.53 L284.56,287.28 L283.43,289.02 L282.29,290.76 L281.15,292.50 L280.02,294.24 L278.88,295.96 L277.74,297.67 L276.61,299.36 L275.47,301.04 L274.34,302.69 L273.20,304.31 Z" fill="#f9c9c6" opacity="0.85"/>
<path d="M273.20,366.16 L274.34,365.16 L275.47,364.11 L276.61,363.00 L277.74,361.85 L278.88,360.65 L280.02,359.42 L281.15,358.16 L282.29,356.89 L283.43,355.59 L284.56,354.30 L285.70,353.00 L286.83,351.71 L287.97,350.43 L289.11,349.17 L290.24,347.94 L291.38,346.75 L292.51,345.60 L293.65,344.48 L294.79,343.41 L295.92,342.38 L297.06,341.38 L298.19,340.43 L299.33,339.52 L300.47,338.64 L301.60,337.80 L302.74,337.00 L303.88,336.24 L305.01,335.51 L306.15,334.82 L307.28,334.17 L308.42,333.55 L309.56,332.97 L310.69,332.42 L311.83,331.91 L312.96,331.44 L314.10,330.99 L315.24,330.58 L316.37,330.21 L317.51,329.86 L318.65,329.55 L319.78,329.27 L320.92,329.02 L322.05,328.80 L323.19,328.61 L324.33,328.44 L325.46,328.30 L326.60,328.19 L327.73,328.11 L328.87,328.05 L330.01,328.02 L331.14,328.01 L332.28,328.02 L333.42,328.06 L334.55,328.12 L335.69,328.20 L336.82,328.30 L337.96,328.43 L339.10,328.57 L340.23,328.73 L341.37,328.91 L342.50,329.11 L343.64,329.32 L344.78,329.55 L345.91,329.80 L347.05,330.06 L348.18,330.34 L349.32,330.63 L350.46,330.94 L351.59,331.26 L352.73,331.59 L353.87,331.94 L355.00,332.31 L356.14,332.68 L357.27,333.07 L358.41,333.48 L359.55,333.90 L360.68,334.33 L361.82,334.77 L362.95,335.23 L364.09,335.69 L365.23,336.17 L366.36,336.66 L367.50,337.17 L368.64,337.68 L369.77,338.21 L370.91,338.75 L372.04,339.29 L373.18,339.85 L374.32,340.42 L375.45,341.00 L376.59,341.59 L377.72,342.18 L378.86,342.79 L380.00,343.41 L381.13,344.03 L382.27,344.67 L383.41,345.31 L384.54,345.96 L385.68,346.62 L386.81,347.29 L387.95,347.96 L389.09,348.64 L390.22,349.33 L391.36,350.03 L392.49,350.73 L393.63,351.45 L394.77,352.16 L395.90,352.88 L397.04,353.61 L398.17,354.35 L399.31,355.09 L400.45,355.83 L401.58,356.58 L402.72,357.34 L403.86,358.10 L404.99,358.87 L406.13,359.63 L407.26,360.41 L408.40,361.18" fill="none" stroke="#b9b9b9" stroke-width="1.4" stroke-linejoin="round" stroke-linecap="butt"/>
<path d="M273.20,310.96 L274.34,309.41 L275.47,307.85 L276.61,306.29 L277.74,304.75 L278.88,303.21 L280.02,301.70 L281.15,300.21 L282.29,298.75 L283.43,297.33 L284.56,295.95 L285.70,294.62 L286.83,293.35 L287.97,292.14 L289.11,290.99 L290.24,289.91 L291.38,288.91 L292.51,288.00 L293.65,287.17 L294.79,286.44 L295.92,285.81 L297.06,285.28 L298.19,284.87 L299.33,284.57 L300.47,284.40 L301.60,284.36 L302.74,284.46 L303.88,284.68 L305.01,285.04 L306.15,285.51 L307.28,286.10 L308.42,286.80 L309.56,287.61 L310.69,288.51 L311.83,289.51 L312.96,290.59 L314.10,291.75 L315.24,292.98 L316.37,294.28 L317.51,295.65 L318.65,297.07 L319.78,298.54 L320.92,300.06 L322.05,301.61 L323.19,303.20 L324.33,304.81 L325.46,306.45 L326.60,308.09 L327.73,309.75 L328.87,311.41 L330.01,313.07 L331.14,314.72 L332.28,316.35 L333.42,317.97 L334.55,319.57 L335.69,321.16 L336.82,322.73 L337.96,324.29 L339.10,325.84 L340.23,327.37 L341.37,328.88 L342.50,330.38 L343.64,331.87 L344.78,333.35 L345.91,334.81 L347.05,336.26 L348.18,337.70 L349.32,339.12 L350.46,340.53 L351.59,341.93 L352.73,343.32 L353.87,344.70 L355.00,346.06 L356.14,347.42 L357.27,348.76 L358.41,350.09 L359.55,351.42 L360.68,352.73 L361.82,354.03 L362.95,355.32 L364.09,356.61 L365.23,357.88 L366.36,359.15 L367.50,360.40 L368.64,361.65 L369.77,362.89 L370.91,364.12 L372.04,365.35 L373.18,366.56 L374.32,367.77 L375.45,368.97 L376.59,370.17 L377.72,371.35 L378.86,372.54 L380.00,373.71 L381.13,374.88 L382.27,376.04 L383.41,377.20 L384.54,378.35 L385.68,379.50 L386.81,380.64 L387.95,381.78 L389.09,382.91 L390.22,384.04 L391.36,385.17 L392.49,386.29 L393.63,387.40 L394.77,388.52 L395.90,389.63 L397.04,390.74 L398.17,391.84 L399.31,392.95 L400.45,394.05 L401.58,395.15 L402.72,396.24 L403.86,397.34 L404.99,398.43 L406.13,399.53 L407.26,400.62 L408.40,401.71" fill="none" stroke="#3d8b32" stroke-width="1.45" stroke-linejoin="round" stroke-linecap="butt"/>
<path d="M273.20,297.31 L274.34,295.84 L275.47,294.33 L276.61,292.81 L277.74,291.26 L278.88,289.70 L280.02,288.13 L281.15,286.54 L282.29,284.95 L283.43,283.36 L284.56,281.76 L285.70,280.17 L286.83,278.58 L287.97,277.00 L289.11,275.43 L290.24,273.87 L291.38,272.33 L292.51,270.82 L293.65,269.32 L294.79,267.85 L295.92,266.41 L297.06,265.01 L298.19,263.64 L299.33,262.30 L300.47,261.01 L301.60,259.76 L302.74,258.56 L303.88,257.41 L305.01,256.32 L306.15,255.28 L307.28,254.30 L308.42,253.37 L309.56,252.50 L310.69,251.69 L311.83,250.93 L312.96,250.22 L314.10,249.56 L315.24,248.96 L316.37,248.41 L317.51,247.90 L318.65,247.45 L319.78,247.04 L320.92,246.68 L322.05,246.36 L323.19,246.09 L324.33,245.87 L325.46,245.69 L326.60,245.55 L327.73,245.45 L328.87,245.39 L330.01,245.37 L331.14,245.39 L332.28,245.45 L333.42,245.54 L334.55,245.68 L335.69,245.85 L336.82,246.06 L337.96,246.30 L339.10,246.58 L340.23,246.90 L341.37,247.26 L342.50,247.65 L343.64,248.07 L344.78,248.53 L345.91,249.03 L347.05,249.56 L348.18,250.13 L349.32,250.73 L350.46,251.37 L351.59,252.04 L352.73,252.74 L353.87,253.48 L355.00,254.25 L356.14,255.05 L357.27,255.89 L358.41,256.76 L359.55,257.66 L360.68,258.59 L361.82,259.56 L362.95,260.55 L364.09,261.58 L365.23,262.64 L366.36,263.73 L367.50,264.85 L368.64,266.00 L369.77,267.18 L370.91,268.39 L372.04,269.63 L373.18,270.90 L374.32,272.20 L375.45,273.52 L376.59,274.86 L377.72,276.23 L378.86,277.61 L380.00,279.01 L381.13,280.43 L382.27,281.86 L383.41,283.30 L384.54,284.74 L385.68,286.19 L386.81,287.65 L387.95,289.11 L389.09,290.57 L390.22,292.02 L391.36,293.48 L392.49,294.92 L393.63,296.36 L394.77,297.78 L395.90,299.20 L397.04,300.60 L398.17,301.98 L399.31,303.34 L400.45,304.68 L401.58,306.00 L402.72,307.29 L403.86,308.56 L404.99,309.79 L406.13,311.00 L407.26,312.17 L408.40,313.30" fill="none" stroke="#e8312a" stroke-width="1.45" stroke-linejoin="round" stroke-linecap="butt"/>
<line x1="325.1" y1="245.7" x2="334.4" y2="245.7" stroke="#3a3a3a" stroke-width="1.1"/>
<line x1="325.1" y1="241.5" x2="325.1" y2="249.89999999999998" stroke="#3a3a3a" stroke-width="1.1"/>
<line x1="334.4" y1="241.5" x2="334.4" y2="249.89999999999998" stroke="#3a3a3a" stroke-width="1.1"/>
<line x1="301.3" y1="284.4" x2="303.4" y2="284.4" stroke="#3a3a3a" stroke-width="1.1"/>
<line x1="301.3" y1="280.2" x2="301.3" y2="288.59999999999997" stroke="#3a3a3a" stroke-width="1.1"/>
<line x1="303.4" y1="280.2" x2="303.4" y2="288.59999999999997" stroke="#3a3a3a" stroke-width="1.1"/>
<line x1="325.1" y1="328.8" x2="334.9" y2="328.8" stroke="#3a3a3a" stroke-width="1.1"/>
<line x1="325.1" y1="324.6" x2="325.1" y2="333.0" stroke="#3a3a3a" stroke-width="1.1"/>
<line x1="334.9" y1="324.6" x2="334.9" y2="333.0" stroke="#3a3a3a" stroke-width="1.1"/>
<line x1="271.7" y1="233.5" x2="271.7" y2="414.8" stroke="#5e5e5e" stroke-width="1.1"/>
<line x1="267.5" y1="248.2" x2="271.7" y2="248.2" stroke="#505050" stroke-width="1"/>
<text x="262.5" y="252.9" font-size="11" text-anchor="end" stroke="#231f20" stroke-width="0.22" fill="#231f20">4</text>
<line x1="267.5" y1="291.2" x2="271.7" y2="291.2" stroke="#505050" stroke-width="1"/>
<text x="262.5" y="295.9" font-size="11" text-anchor="end" stroke="#231f20" stroke-width="0.22" fill="#231f20">3</text>
<line x1="267.5" y1="334.2" x2="271.7" y2="334.2" stroke="#505050" stroke-width="1"/>
<text x="262.5" y="338.9" font-size="11" text-anchor="end" stroke="#231f20" stroke-width="0.22" fill="#231f20">2</text>
<line x1="267.5" y1="377.3" x2="271.7" y2="377.3" stroke="#505050" stroke-width="1"/>
<text x="262.5" y="382.0" font-size="11" text-anchor="end" stroke="#231f20" stroke-width="0.22" fill="#231f20">1</text>
<line x1="271.7" y1="410.6" x2="415.3" y2="410.6" stroke="#505050" stroke-width="1.1"/>
<text x="271.7" y="428.6" font-size="11" text-anchor="middle" stroke="#231f20" stroke-width="0.22" fill="#231f20">0</text>
<line x1="291.0747258045114" y1="410.6" x2="291.0747258045114" y2="414.8" stroke="#505050" stroke-width="1"/>
<text x="291.07" y="428.6" font-size="11" text-anchor="middle" stroke="#231f20" stroke-width="0.22" fill="#231f20">2</text>
<line x1="302.3341312917471" y1="410.6" x2="302.3341312917471" y2="414.8" stroke="#505050" stroke-width="1"/>
<text x="302.33" y="428.6" font-size="11" text-anchor="middle" stroke="#231f20" stroke-width="0.22" fill="#231f20">5</text>
<line x1="315.0232039443068" y1="410.6" x2="315.0232039443068" y2="414.8" stroke="#505050" stroke-width="1"/>
<text x="315.02" y="428.6" font-size="11" text-anchor="middle" stroke="#231f20" stroke-width="0.22" fill="#231f20">10</text>
<line x1="340.2" y1="410.6" x2="340.2" y2="414.8" stroke="#505050" stroke-width="1"/>
<text x="340.2" y="428.6" font-size="11" text-anchor="middle" stroke="#231f20" stroke-width="0.22" fill="#231f20">25</text>
<line x1="368.573629022557" y1="410.6" x2="368.573629022557" y2="414.8" stroke="#505050" stroke-width="1"/>
<text x="368.57" y="428.6" font-size="11" text-anchor="middle" stroke="#231f20" stroke-width="0.22" fill="#231f20">50</text>
<line x1="408.7" y1="410.6" x2="408.7" y2="414.8" stroke="#505050" stroke-width="1"/>
<text x="408.7" y="428.6" font-size="11" text-anchor="middle" stroke="#231f20" stroke-width="0.22" fill="#231f20">100</text>
<text x="343.8" y="447.6" font-size="11" text-anchor="middle" stroke="#231f20" stroke-width="0.22" fill="#231f20" textLength="54.5" lengthAdjust="spacingAndGlyphs">Age (years)</text>
<text x="246.6" y="321.4" font-size="11" text-anchor="middle" stroke="#231f20" stroke-width="0.22" fill="#231f20" transform="rotate(-90 246.6 321.4)" textLength="74" lengthAdjust="spacingAndGlyphs">Gradient range</text>
<rect x="424" y="315.6" width="8" height="8" fill="#f5a8a4"/>
<line x1="424" y1="319.6" x2="432" y2="319.6" stroke="#e8312a" stroke-width="1.9"/>
<text x="436.4" y="323.5" font-size="11" text-anchor="start" stroke="#231f20" stroke-width="0.22" fill="#231f20">SA</text>
<rect x="424" y="326.5" width="8" height="8" fill="#acd3a3"/>
<line x1="424" y1="330.5" x2="432" y2="330.5" stroke="#3d8b32" stroke-width="1.9"/>
<text x="436.4" y="334.4" font-size="11" text-anchor="start" stroke="#231f20" stroke-width="0.22" fill="#231f20">VS</text>
<rect x="424" y="337.2" width="8" height="8" fill="#e0e0e0"/>
<line x1="424" y1="341.2" x2="432" y2="341.2" stroke="#bdbdbd" stroke-width="1.9"/>
<text x="436.4" y="345.1" font-size="11" text-anchor="start" stroke="#231f20" stroke-width="0.22" fill="#231f20">MR</text>
<text x="237.3" y="238" font-size="16" text-anchor="start" font-weight="bold" stroke="#000" stroke-width="0.35" fill="#231f20">e</text>
<g fill="#5383bf" fill-opacity="0.37"><path d="M526.3 381.5h1.2v1.2h-1.2z"/><path d="M516.8 386.9h1.2v1.2h-1.2z"/><path d="M534.4 364.3h1.2v1.2h-1.2z"/><path d="M533.3 372.1h1.2v1.2h-1.2z"/><path d="M515.4 362.4h1.2v1.2h-1.2z"/><path d="M517.4 370.5h1.2v1.2h-1.2z"/><path d="M530.1 371.8h1.2v1.2h-1.2z"/><path d="M522.5 360.7h1.2v1.2h-1.2z"/><path d="M537.8 387.9h1.2v1.2h-1.2z"/><path d="M529.1 361.2h1.2v1.2h-1.2z"/><path d="M551.1 398.3h1.2v1.2h-1.2z"/><path d="M525.0 377.1h1.2v1.2h-1.2z"/><path d="M519.5 378.1h1.2v1.2h-1.2z"/><path d="M545.0 377.3h1.2v1.2h-1.2z"/><path d="M520.9 348.1h1.2v1.2h-1.2z"/><path d="M528.2 356.8h1.2v1.2h-1.2z"/><path d="M534.8 373.2h1.2v1.2h-1.2z"/><path d="M521.8 370.2h1.2v1.2h-1.2z"/><path d="M539.9 355.5h1.2v1.2h-1.2z"/><path d="M536.3 374.1h1.2v1.2h-1.2z"/><path d="M531.2 359.2h1.2v1.2h-1.2z"/><path d="M540.6 395.1h1.2v1.2h-1.2z"/><path d="M523.3 350.6h1.2v1.2h-1.2z"/><path d="M547.3 359.2h1.2v1.2h-1.2z"/><path d="M541.7 357.4h1.2v1.2h-1.2z"/><path d="M518.5 344.6h1.2v1.2h-1.2z"/><path d="M519.8 381.2h1.2v1.2h-1.2z"/><path d="M532.6 391.0h1.2v1.2h-1.2z"/><path d="M543.1 373.8h1.2v1.2h-1.2z"/><path d="M535.8 377.8h1.2v1.2h-1.2z"/><path d="M540.4 358.2h1.2v1.2h-1.2z"/><path d="M536.6 352.5h1.2v1.2h-1.2z"/><path d="M545.9 359.5h1.2v1.2h-1.2z"/><path d="M549.9 344.7h1.2v1.2h-1.2z"/><path d="M516.3 371.8h1.2v1.2h-1.2z"/><path d="M540.7 337.6h1.2v1.2h-1.2z"/><path d="M545.2 327.7h1.2v1.2h-1.2z"/><path d="M524.8 350.1h1.2v1.2h-1.2z"/><path d="M514.9 383.6h1.2v1.2h-1.2z"/><path d="M531.5 371.9h1.2v1.2h-1.2z"/><path d="M516.2 374.9h1.2v1.2h-1.2z"/><path d="M543.2 376.3h1.2v1.2h-1.2z"/><path d="M528.9 376.8h1.2v1.2h-1.2z"/><path d="M547.1 383.3h1.2v1.2h-1.2z"/><path d="M534.9 376.5h1.2v1.2h-1.2z"/><path d="M547.6 381.5h1.2v1.2h-1.2z"/><path d="M524.6 339.0h1.2v1.2h-1.2z"/><path d="M529.8 347.0h1.2v1.2h-1.2z"/><path d="M550.4 393.8h1.2v1.2h-1.2z"/><path d="M519.7 373.2h1.2v1.2h-1.2z"/><path d="M522.9 378.4h1.2v1.2h-1.2z"/><path d="M532.4 357.4h1.2v1.2h-1.2z"/><path d="M514.2 361.4h1.2v1.2h-1.2z"/><path d="M529.9 353.9h1.2v1.2h-1.2z"/><path d="M550.2 383.1h1.2v1.2h-1.2z"/><path d="M540.2 345.9h1.2v1.2h-1.2z"/><path d="M539.7 365.8h1.2v1.2h-1.2z"/><path d="M516.1 390.5h1.2v1.2h-1.2z"/><path d="M547.2 351.6h1.2v1.2h-1.2z"/><path d="M544.3 355.4h1.2v1.2h-1.2z"/><path d="M517.9 378.1h1.2v1.2h-1.2z"/><path d="M538.1 373.5h1.2v1.2h-1.2z"/><path d="M521.9 370.3h1.2v1.2h-1.2z"/><path d="M520.2 365.2h1.2v1.2h-1.2z"/><path d="M514.0 372.4h1.2v1.2h-1.2z"/><path d="M519.7 380.2h1.2v1.2h-1.2z"/><path d="M515.0 377.1h1.2v1.2h-1.2z"/><path d="M547.2 361.2h1.2v1.2h-1.2z"/><path d="M523.6 362.0h1.2v1.2h-1.2z"/><path d="M527.2 362.6h1.2v1.2h-1.2z"/><path d="M546.3 374.2h1.2v1.2h-1.2z"/><path d="M551.7 350.0h1.2v1.2h-1.2z"/><path d="M517.3 371.9h1.2v1.2h-1.2z"/><path d="M517.9 361.1h1.2v1.2h-1.2z"/><path d="M545.5 378.5h1.2v1.2h-1.2z"/><path d="M520.1 373.7h1.2v1.2h-1.2z"/><path d="M534.1 380.1h1.2v1.2h-1.2z"/><path d="M515.0 383.9h1.2v1.2h-1.2z"/><path d="M534.1 399.6h1.2v1.2h-1.2z"/><path d="M540.5 363.7h1.2v1.2h-1.2z"/><path d="M523.9 361.5h1.2v1.2h-1.2z"/><path d="M543.3 375.2h1.2v1.2h-1.2z"/><path d="M534.2 370.6h1.2v1.2h-1.2z"/><path d="M522.5 353.9h1.2v1.2h-1.2z"/><path d="M544.8 399.2h1.2v1.2h-1.2z"/><path d="M544.6 365.0h1.2v1.2h-1.2z"/><path d="M545.1 367.3h1.2v1.2h-1.2z"/><path d="M533.7 356.5h1.2v1.2h-1.2z"/><path d="M527.5 371.7h1.2v1.2h-1.2z"/><path d="M524.6 368.7h1.2v1.2h-1.2z"/><path d="M518.7 288.3h1.2v1.2h-1.2z"/><path d="M531.2 279.0h1.2v1.2h-1.2z"/><path d="M530.9 299.5h1.2v1.2h-1.2z"/><path d="M531.2 275.9h1.2v1.2h-1.2z"/><path d="M518.0 270.6h1.2v1.2h-1.2z"/><path d="M517.5 269.8h1.2v1.2h-1.2z"/><path d="M525.2 366.9h1.2v1.2h-1.2z"/><path d="M533.3 372.4h1.2v1.2h-1.2z"/><path d="M527.1 367.3h1.2v1.2h-1.2z"/><path d="M535.8 389.5h1.2v1.2h-1.2z"/><path d="M536.6 372.6h1.2v1.2h-1.2z"/><path d="M531.0 370.6h1.2v1.2h-1.2z"/><path d="M533.9 397.9h1.2v1.2h-1.2z"/><path d="M527.6 397.6h1.2v1.2h-1.2z"/><path d="M534.8 380.2h1.2v1.2h-1.2z"/><path d="M523.5 396.1h1.2v1.2h-1.2z"/><path d="M530.6 376.0h1.2v1.2h-1.2z"/><path d="M532.5 386.1h1.2v1.2h-1.2z"/><path d="M536.7 371.8h1.2v1.2h-1.2z"/><path d="M535.3 396.9h1.2v1.2h-1.2z"/><path d="M536.5 380.2h1.2v1.2h-1.2z"/><path d="M528.2 392.2h1.2v1.2h-1.2z"/><path d="M531.4 383.2h1.2v1.2h-1.2z"/><path d="M536.4 379.4h1.2v1.2h-1.2z"/><path d="M522.3 378.1h1.2v1.2h-1.2z"/><path d="M524.0 390.2h1.2v1.2h-1.2z"/><path d="M532.2 375.9h1.2v1.2h-1.2z"/><path d="M531.0 390.3h1.2v1.2h-1.2z"/><path d="M531.3 395.3h1.2v1.2h-1.2z"/><path d="M530.8 392.4h1.2v1.2h-1.2z"/><path d="M536.7 398.1h1.2v1.2h-1.2z"/><path d="M528.4 390.8h1.2v1.2h-1.2z"/><path d="M523.9 371.2h1.2v1.2h-1.2z"/><path d="M523.5 392.7h1.2v1.2h-1.2z"/><path d="M526.3 381.9h1.2v1.2h-1.2z"/><path d="M530.3 381.7h1.2v1.2h-1.2z"/><path d="M528.8 384.3h1.2v1.2h-1.2z"/><path d="M537.8 382.4h1.2v1.2h-1.2z"/><path d="M533.0 392.0h1.2v1.2h-1.2z"/><path d="M530.2 369.4h1.2v1.2h-1.2z"/><path d="M528.9 392.7h1.2v1.2h-1.2z"/><path d="M524.7 376.0h1.2v1.2h-1.2z"/><path d="M534.8 389.9h1.2v1.2h-1.2z"/><path d="M531.0 390.1h1.2v1.2h-1.2z"/><path d="M531.6 370.2h1.2v1.2h-1.2z"/><path d="M525.1 375.6h1.2v1.2h-1.2z"/><path d="M534.5 376.3h1.2v1.2h-1.2z"/><path d="M527.6 374.3h1.2v1.2h-1.2z"/><path d="M525.2 380.8h1.2v1.2h-1.2z"/><path d="M526.5 385.6h1.2v1.2h-1.2z"/><path d="M522.0 385.3h1.2v1.2h-1.2z"/><path d="M528.6 362.6h1.2v1.2h-1.2z"/><path d="M533.8 379.2h1.2v1.2h-1.2z"/><path d="M522.5 373.2h1.2v1.2h-1.2z"/><path d="M532.1 377.4h1.2v1.2h-1.2z"/><path d="M534.0 389.5h1.2v1.2h-1.2z"/><path d="M533.5 385.3h1.2v1.2h-1.2z"/><path d="M536.1 388.6h1.2v1.2h-1.2z"/><path d="M532.7 361.2h1.2v1.2h-1.2z"/><path d="M534.4 395.1h1.2v1.2h-1.2z"/><path d="M529.9 377.3h1.2v1.2h-1.2z"/><path d="M538.4 364.4h1.2v1.2h-1.2z"/><path d="M532.8 372.7h1.2v1.2h-1.2z"/><path d="M533.6 400.9h1.2v1.2h-1.2z"/><path d="M530.5 387.6h1.2v1.2h-1.2z"/><path d="M534.4 372.9h1.2v1.2h-1.2z"/><path d="M530.7 384.9h1.2v1.2h-1.2z"/><path d="M534.1 381.7h1.2v1.2h-1.2z"/><path d="M530.3 371.8h1.2v1.2h-1.2z"/><path d="M529.6 390.9h1.2v1.2h-1.2z"/><path d="M531.4 373.5h1.2v1.2h-1.2z"/><path d="M527.8 393.4h1.2v1.2h-1.2z"/><path d="M533.4 356.1h1.2v1.2h-1.2z"/><path d="M533.4 386.8h1.2v1.2h-1.2z"/><path d="M537.4 386.3h1.2v1.2h-1.2z"/><path d="M530.7 387.2h1.2v1.2h-1.2z"/><path d="M523.6 392.3h1.2v1.2h-1.2z"/><path d="M532.2 375.0h1.2v1.2h-1.2z"/><path d="M536.0 400.1h1.2v1.2h-1.2z"/><path d="M525.7 375.3h1.2v1.2h-1.2z"/><path d="M532.1 383.8h1.2v1.2h-1.2z"/><path d="M529.5 372.3h1.2v1.2h-1.2z"/><path d="M539.1 392.4h1.2v1.2h-1.2z"/><path d="M526.5 368.5h1.2v1.2h-1.2z"/><path d="M537.5 391.9h1.2v1.2h-1.2z"/><path d="M537.9 390.1h1.2v1.2h-1.2z"/><path d="M527.7 384.6h1.2v1.2h-1.2z"/><path d="M522.8 374.5h1.2v1.2h-1.2z"/><path d="M530.8 387.2h1.2v1.2h-1.2z"/><path d="M528.2 380.8h1.2v1.2h-1.2z"/><path d="M532.7 385.8h1.2v1.2h-1.2z"/><path d="M533.4 384.1h1.2v1.2h-1.2z"/><path d="M529.8 389.9h1.2v1.2h-1.2z"/><path d="M531.2 373.7h1.2v1.2h-1.2z"/><path d="M528.6 382.0h1.2v1.2h-1.2z"/><path d="M530.6 383.6h1.2v1.2h-1.2z"/><path d="M531.0 383.8h1.2v1.2h-1.2z"/><path d="M530.5 369.4h1.2v1.2h-1.2z"/><path d="M532.6 392.5h1.2v1.2h-1.2z"/><path d="M532.7 380.1h1.2v1.2h-1.2z"/><path d="M532.7 372.3h1.2v1.2h-1.2z"/><path d="M523.8 382.6h1.2v1.2h-1.2z"/><path d="M527.5 389.4h1.2v1.2h-1.2z"/><path d="M526.9 355.7h1.2v1.2h-1.2z"/><path d="M527.0 397.8h1.2v1.2h-1.2z"/><path d="M529.5 368.3h1.2v1.2h-1.2z"/><path d="M528.1 387.2h1.2v1.2h-1.2z"/><path d="M532.9 383.8h1.2v1.2h-1.2z"/><path d="M536.6 389.1h1.2v1.2h-1.2z"/><path d="M530.9 388.0h1.2v1.2h-1.2z"/><path d="M537.3 391.7h1.2v1.2h-1.2z"/><path d="M534.9 371.2h1.2v1.2h-1.2z"/><path d="M530.4 389.3h1.2v1.2h-1.2z"/><path d="M529.9 392.7h1.2v1.2h-1.2z"/><path d="M533.3 391.1h1.2v1.2h-1.2z"/><path d="M530.2 394.4h1.2v1.2h-1.2z"/><path d="M530.2 382.9h1.2v1.2h-1.2z"/><path d="M540.9 378.6h1.2v1.2h-1.2z"/><path d="M534.3 391.8h1.2v1.2h-1.2z"/><path d="M531.0 370.3h1.2v1.2h-1.2z"/><path d="M531.7 385.6h1.2v1.2h-1.2z"/><path d="M535.3 389.8h1.2v1.2h-1.2z"/><path d="M531.1 390.5h1.2v1.2h-1.2z"/><path d="M533.1 384.1h1.2v1.2h-1.2z"/><path d="M531.2 379.6h1.2v1.2h-1.2z"/><path d="M533.6 371.5h1.2v1.2h-1.2z"/><path d="M528.6 382.0h1.2v1.2h-1.2z"/><path d="M525.4 377.6h1.2v1.2h-1.2z"/><path d="M523.4 375.2h1.2v1.2h-1.2z"/><path d="M533.2 387.7h1.2v1.2h-1.2z"/><path d="M530.8 379.7h1.2v1.2h-1.2z"/><path d="M525.6 400.3h1.2v1.2h-1.2z"/><path d="M533.0 392.9h1.2v1.2h-1.2z"/><path d="M527.6 380.1h1.2v1.2h-1.2z"/><path d="M524.1 389.8h1.2v1.2h-1.2z"/><path d="M534.6 363.0h1.2v1.2h-1.2z"/><path d="M530.8 388.3h1.2v1.2h-1.2z"/><path d="M524.3 363.7h1.2v1.2h-1.2z"/><path d="M527.0 375.7h1.2v1.2h-1.2z"/><path d="M525.7 382.3h1.2v1.2h-1.2z"/><path d="M531.9 388.3h1.2v1.2h-1.2z"/><path d="M533.7 397.0h1.2v1.2h-1.2z"/><path d="M535.4 368.9h1.2v1.2h-1.2z"/><path d="M529.1 371.4h1.2v1.2h-1.2z"/><path d="M526.9 381.2h1.2v1.2h-1.2z"/><path d="M531.0 386.9h1.2v1.2h-1.2z"/><path d="M525.0 369.6h1.2v1.2h-1.2z"/><path d="M530.9 380.0h1.2v1.2h-1.2z"/><path d="M529.8 381.4h1.2v1.2h-1.2z"/><path d="M528.1 389.0h1.2v1.2h-1.2z"/><path d="M532.3 381.1h1.2v1.2h-1.2z"/><path d="M528.4 380.3h1.2v1.2h-1.2z"/><path d="M527.3 382.4h1.2v1.2h-1.2z"/><path d="M525.3 384.0h1.2v1.2h-1.2z"/><path d="M531.6 368.2h1.2v1.2h-1.2z"/><path d="M530.0 378.9h1.2v1.2h-1.2z"/><path d="M532.7 388.1h1.2v1.2h-1.2z"/><path d="M530.9 373.5h1.2v1.2h-1.2z"/><path d="M530.5 381.3h1.2v1.2h-1.2z"/><path d="M533.8 384.9h1.2v1.2h-1.2z"/><path d="M528.3 368.5h1.2v1.2h-1.2z"/><path d="M529.6 374.6h1.2v1.2h-1.2z"/><path d="M526.8 380.8h1.2v1.2h-1.2z"/><path d="M529.1 383.1h1.2v1.2h-1.2z"/><path d="M533.0 377.9h1.2v1.2h-1.2z"/><path d="M539.8 378.8h1.2v1.2h-1.2z"/><path d="M535.2 383.2h1.2v1.2h-1.2z"/><path d="M535.2 358.2h1.2v1.2h-1.2z"/><path d="M528.1 384.5h1.2v1.2h-1.2z"/><path d="M533.3 385.2h1.2v1.2h-1.2z"/><path d="M535.9 389.7h1.2v1.2h-1.2z"/><path d="M534.6 387.1h1.2v1.2h-1.2z"/><path d="M530.4 387.1h1.2v1.2h-1.2z"/><path d="M526.9 393.8h1.2v1.2h-1.2z"/><path d="M527.1 384.5h1.2v1.2h-1.2z"/><path d="M539.1 379.8h1.2v1.2h-1.2z"/><path d="M531.1 393.6h1.2v1.2h-1.2z"/><path d="M531.1 373.9h1.2v1.2h-1.2z"/><path d="M532.0 387.8h1.2v1.2h-1.2z"/><path d="M533.7 374.3h1.2v1.2h-1.2z"/><path d="M537.7 398.7h1.2v1.2h-1.2z"/><path d="M531.1 384.7h1.2v1.2h-1.2z"/><path d="M529.4 396.1h1.2v1.2h-1.2z"/><path d="M528.3 388.7h1.2v1.2h-1.2z"/><path d="M529.2 375.1h1.2v1.2h-1.2z"/><path d="M533.7 395.3h1.2v1.2h-1.2z"/><path d="M531.0 375.2h1.2v1.2h-1.2z"/><path d="M534.1 381.5h1.2v1.2h-1.2z"/><path d="M532.2 397.2h1.2v1.2h-1.2z"/><path d="M535.3 376.8h1.2v1.2h-1.2z"/><path d="M539.7 382.0h1.2v1.2h-1.2z"/><path d="M534.0 375.5h1.2v1.2h-1.2z"/><path d="M530.8 364.5h1.2v1.2h-1.2z"/><path d="M537.8 395.7h1.2v1.2h-1.2z"/><path d="M526.4 366.9h1.2v1.2h-1.2z"/><path d="M524.8 393.8h1.2v1.2h-1.2z"/><path d="M529.3 381.4h1.2v1.2h-1.2z"/><path d="M529.8 380.8h1.2v1.2h-1.2z"/><path d="M526.9 382.2h1.2v1.2h-1.2z"/><path d="M525.5 381.3h1.2v1.2h-1.2z"/><path d="M532.2 386.7h1.2v1.2h-1.2z"/><path d="M530.1 373.0h1.2v1.2h-1.2z"/><path d="M531.6 377.2h1.2v1.2h-1.2z"/><path d="M537.0 389.7h1.2v1.2h-1.2z"/><path d="M530.6 377.3h1.2v1.2h-1.2z"/><path d="M528.3 372.6h1.2v1.2h-1.2z"/><path d="M529.7 384.9h1.2v1.2h-1.2z"/><path d="M533.0 387.7h1.2v1.2h-1.2z"/><path d="M539.0 375.0h1.2v1.2h-1.2z"/><path d="M531.0 363.3h1.2v1.2h-1.2z"/><path d="M529.0 383.7h1.2v1.2h-1.2z"/><path d="M531.6 386.1h1.2v1.2h-1.2z"/><path d="M530.1 385.7h1.2v1.2h-1.2z"/><path d="M531.2 389.7h1.2v1.2h-1.2z"/><path d="M523.8 373.1h1.2v1.2h-1.2z"/><path d="M531.0 371.7h1.2v1.2h-1.2z"/><path d="M527.0 388.3h1.2v1.2h-1.2z"/><path d="M528.5 388.3h1.2v1.2h-1.2z"/><path d="M533.8 385.1h1.2v1.2h-1.2z"/><path d="M532.9 381.0h1.2v1.2h-1.2z"/><path d="M525.6 381.7h1.2v1.2h-1.2z"/><path d="M532.7 376.7h1.2v1.2h-1.2z"/><path d="M530.6 389.5h1.2v1.2h-1.2z"/><path d="M527.7 388.4h1.2v1.2h-1.2z"/><path d="M538.1 376.5h1.2v1.2h-1.2z"/><path d="M531.6 380.5h1.2v1.2h-1.2z"/><path d="M536.9 385.2h1.2v1.2h-1.2z"/><path d="M534.4 375.1h1.2v1.2h-1.2z"/><path d="M530.9 381.9h1.2v1.2h-1.2z"/><path d="M524.3 396.4h1.2v1.2h-1.2z"/><path d="M534.4 364.5h1.2v1.2h-1.2z"/><path d="M533.8 380.7h1.2v1.2h-1.2z"/><path d="M532.7 385.7h1.2v1.2h-1.2z"/><path d="M525.3 379.9h1.2v1.2h-1.2z"/><path d="M536.7 376.3h1.2v1.2h-1.2z"/><path d="M527.1 368.4h1.2v1.2h-1.2z"/><path d="M526.4 385.4h1.2v1.2h-1.2z"/><path d="M537.4 386.3h1.2v1.2h-1.2z"/><path d="M531.9 404.3h1.2v1.2h-1.2z"/><path d="M529.0 375.3h1.2v1.2h-1.2z"/><path d="M533.0 387.5h1.2v1.2h-1.2z"/><path d="M527.1 370.3h1.2v1.2h-1.2z"/><path d="M532.1 384.5h1.2v1.2h-1.2z"/><path d="M526.0 380.0h1.2v1.2h-1.2z"/><path d="M528.9 386.6h1.2v1.2h-1.2z"/><path d="M530.6 381.1h1.2v1.2h-1.2z"/><path d="M529.7 392.5h1.2v1.2h-1.2z"/><path d="M536.3 378.3h1.2v1.2h-1.2z"/><path d="M534.2 374.4h1.2v1.2h-1.2z"/><path d="M531.3 389.5h1.2v1.2h-1.2z"/><path d="M536.8 378.2h1.2v1.2h-1.2z"/><path d="M530.7 384.0h1.2v1.2h-1.2z"/><path d="M525.3 382.2h1.2v1.2h-1.2z"/><path d="M528.4 385.7h1.2v1.2h-1.2z"/><path d="M526.7 362.2h1.2v1.2h-1.2z"/><path d="M531.1 384.6h1.2v1.2h-1.2z"/><path d="M528.9 390.9h1.2v1.2h-1.2z"/><path d="M530.0 375.9h1.2v1.2h-1.2z"/><path d="M532.8 366.3h1.2v1.2h-1.2z"/><path d="M528.4 381.8h1.2v1.2h-1.2z"/><path d="M534.2 380.4h1.2v1.2h-1.2z"/><path d="M532.2 375.4h1.2v1.2h-1.2z"/><path d="M532.1 398.6h1.2v1.2h-1.2z"/><path d="M528.4 375.6h1.2v1.2h-1.2z"/><path d="M531.1 383.7h1.2v1.2h-1.2z"/><path d="M534.9 369.6h1.2v1.2h-1.2z"/><path d="M523.0 388.1h1.2v1.2h-1.2z"/><path d="M534.0 388.2h1.2v1.2h-1.2z"/><path d="M541.0 384.0h1.2v1.2h-1.2z"/><path d="M532.0 391.3h1.2v1.2h-1.2z"/><path d="M532.4 398.6h1.2v1.2h-1.2z"/><path d="M526.3 378.2h1.2v1.2h-1.2z"/><path d="M534.1 378.3h1.2v1.2h-1.2z"/><path d="M534.5 403.5h1.2v1.2h-1.2z"/><path d="M531.0 379.5h1.2v1.2h-1.2z"/><path d="M529.1 373.6h1.2v1.2h-1.2z"/><path d="M528.6 388.4h1.2v1.2h-1.2z"/><path d="M531.1 382.7h1.2v1.2h-1.2z"/><path d="M530.3 391.1h1.2v1.2h-1.2z"/><path d="M532.9 380.6h1.2v1.2h-1.2z"/><path d="M533.5 380.5h1.2v1.2h-1.2z"/><path d="M526.6 396.6h1.2v1.2h-1.2z"/><path d="M532.8 372.4h1.2v1.2h-1.2z"/><path d="M535.1 385.4h1.2v1.2h-1.2z"/><path d="M525.1 398.1h1.2v1.2h-1.2z"/><path d="M532.3 390.9h1.2v1.2h-1.2z"/><path d="M531.8 380.5h1.2v1.2h-1.2z"/><path d="M525.1 391.7h1.2v1.2h-1.2z"/><path d="M531.1 379.1h1.2v1.2h-1.2z"/><path d="M532.3 382.8h1.2v1.2h-1.2z"/><path d="M533.6 378.3h1.2v1.2h-1.2z"/><path d="M530.9 360.6h1.2v1.2h-1.2z"/><path d="M529.4 388.8h1.2v1.2h-1.2z"/><path d="M536.1 378.4h1.2v1.2h-1.2z"/><path d="M530.5 397.8h1.2v1.2h-1.2z"/><path d="M529.8 389.3h1.2v1.2h-1.2z"/><path d="M537.4 382.4h1.2v1.2h-1.2z"/><path d="M535.7 374.9h1.2v1.2h-1.2z"/><path d="M531.8 381.2h1.2v1.2h-1.2z"/><path d="M531.4 393.3h1.2v1.2h-1.2z"/><path d="M540.1 375.3h1.2v1.2h-1.2z"/><path d="M528.8 387.0h1.2v1.2h-1.2z"/><path d="M527.0 387.0h1.2v1.2h-1.2z"/><path d="M533.2 379.2h1.2v1.2h-1.2z"/><path d="M533.0 366.5h1.2v1.2h-1.2z"/><path d="M533.9 366.6h1.2v1.2h-1.2z"/><path d="M562.1 355.2h1.2v1.2h-1.2z"/><path d="M564.6 375.0h1.2v1.2h-1.2z"/><path d="M568.7 357.4h1.2v1.2h-1.2z"/><path d="M572.6 385.1h1.2v1.2h-1.2z"/><path d="M568.1 368.1h1.2v1.2h-1.2z"/><path d="M578.5 366.7h1.2v1.2h-1.2z"/><path d="M557.1 397.9h1.2v1.2h-1.2z"/><path d="M586.8 335.2h1.2v1.2h-1.2z"/><path d="M567.7 368.8h1.2v1.2h-1.2z"/><path d="M576.2 372.4h1.2v1.2h-1.2z"/><path d="M565.7 348.2h1.2v1.2h-1.2z"/><path d="M568.9 377.5h1.2v1.2h-1.2z"/><path d="M558.7 348.6h1.2v1.2h-1.2z"/><path d="M567.8 335.9h1.2v1.2h-1.2z"/><path d="M565.8 356.9h1.2v1.2h-1.2z"/><path d="M571.8 353.2h1.2v1.2h-1.2z"/><path d="M560.5 357.5h1.2v1.2h-1.2z"/><path d="M567.6 353.7h1.2v1.2h-1.2z"/><path d="M568.1 373.5h1.2v1.2h-1.2z"/><path d="M578.1 386.9h1.2v1.2h-1.2z"/><path d="M561.3 357.1h1.2v1.2h-1.2z"/><path d="M584.1 352.9h1.2v1.2h-1.2z"/><path d="M567.7 370.3h1.2v1.2h-1.2z"/><path d="M556.5 369.5h1.2v1.2h-1.2z"/><path d="M567.8 337.4h1.2v1.2h-1.2z"/><path d="M570.5 379.7h1.2v1.2h-1.2z"/><path d="M552.1 374.3h1.2v1.2h-1.2z"/><path d="M569.8 369.6h1.2v1.2h-1.2z"/><path d="M571.8 381.3h1.2v1.2h-1.2z"/><path d="M566.1 375.2h1.2v1.2h-1.2z"/><path d="M564.5 373.2h1.2v1.2h-1.2z"/><path d="M561.1 361.5h1.2v1.2h-1.2z"/><path d="M582.7 369.2h1.2v1.2h-1.2z"/><path d="M566.7 347.0h1.2v1.2h-1.2z"/><path d="M561.3 365.7h1.2v1.2h-1.2z"/><path d="M576.0 369.0h1.2v1.2h-1.2z"/><path d="M572.5 362.4h1.2v1.2h-1.2z"/><path d="M579.5 357.5h1.2v1.2h-1.2z"/><path d="M563.3 375.4h1.2v1.2h-1.2z"/><path d="M568.5 359.1h1.2v1.2h-1.2z"/><path d="M563.1 359.4h1.2v1.2h-1.2z"/><path d="M573.3 368.0h1.2v1.2h-1.2z"/><path d="M557.7 369.0h1.2v1.2h-1.2z"/><path d="M569.5 349.0h1.2v1.2h-1.2z"/><path d="M574.6 359.1h1.2v1.2h-1.2z"/><path d="M565.1 374.1h1.2v1.2h-1.2z"/><path d="M579.2 353.4h1.2v1.2h-1.2z"/><path d="M571.7 350.7h1.2v1.2h-1.2z"/><path d="M587.7 356.1h1.2v1.2h-1.2z"/><path d="M578.2 353.9h1.2v1.2h-1.2z"/><path d="M574.9 394.1h1.2v1.2h-1.2z"/><path d="M564.3 370.0h1.2v1.2h-1.2z"/><path d="M567.2 353.6h1.2v1.2h-1.2z"/><path d="M586.3 364.1h1.2v1.2h-1.2z"/><path d="M554.0 375.0h1.2v1.2h-1.2z"/><path d="M553.4 379.1h1.2v1.2h-1.2z"/><path d="M563.1 365.0h1.2v1.2h-1.2z"/><path d="M578.7 364.7h1.2v1.2h-1.2z"/><path d="M556.2 339.3h1.2v1.2h-1.2z"/><path d="M578.1 373.4h1.2v1.2h-1.2z"/><path d="M561.1 375.0h1.2v1.2h-1.2z"/><path d="M572.2 372.1h1.2v1.2h-1.2z"/><path d="M565.4 375.6h1.2v1.2h-1.2z"/><path d="M574.2 375.3h1.2v1.2h-1.2z"/><path d="M569.4 369.9h1.2v1.2h-1.2z"/><path d="M589.7 349.6h1.2v1.2h-1.2z"/><path d="M565.2 363.5h1.2v1.2h-1.2z"/><path d="M575.5 356.8h1.2v1.2h-1.2z"/><path d="M577.8 352.0h1.2v1.2h-1.2z"/><path d="M570.3 355.6h1.2v1.2h-1.2z"/><path d="M569.3 353.3h1.2v1.2h-1.2z"/><path d="M554.4 378.3h1.2v1.2h-1.2z"/><path d="M570.6 355.2h1.2v1.2h-1.2z"/><path d="M569.7 376.9h1.2v1.2h-1.2z"/><path d="M559.7 361.5h1.2v1.2h-1.2z"/><path d="M572.6 370.4h1.2v1.2h-1.2z"/><path d="M565.1 333.5h1.2v1.2h-1.2z"/><path d="M578.6 367.6h1.2v1.2h-1.2z"/><path d="M568.1 359.1h1.2v1.2h-1.2z"/><path d="M570.2 357.0h1.2v1.2h-1.2z"/><path d="M559.3 352.6h1.2v1.2h-1.2z"/><path d="M562.9 354.4h1.2v1.2h-1.2z"/><path d="M558.2 371.9h1.2v1.2h-1.2z"/><path d="M556.9 372.2h1.2v1.2h-1.2z"/><path d="M559.4 367.9h1.2v1.2h-1.2z"/><path d="M579.7 365.8h1.2v1.2h-1.2z"/><path d="M561.8 363.7h1.2v1.2h-1.2z"/><path d="M569.3 338.7h1.2v1.2h-1.2z"/><path d="M562.8 365.3h1.2v1.2h-1.2z"/><path d="M564.0 364.1h1.2v1.2h-1.2z"/><path d="M574.2 373.7h1.2v1.2h-1.2z"/><path d="M575.7 371.2h1.2v1.2h-1.2z"/><path d="M565.6 362.7h1.2v1.2h-1.2z"/><path d="M565.7 358.6h1.2v1.2h-1.2z"/><path d="M566.5 338.9h1.2v1.2h-1.2z"/><path d="M565.2 362.7h1.2v1.2h-1.2z"/><path d="M559.7 362.7h1.2v1.2h-1.2z"/><path d="M572.4 360.7h1.2v1.2h-1.2z"/><path d="M585.7 326.5h1.2v1.2h-1.2z"/><path d="M566.2 337.4h1.2v1.2h-1.2z"/><path d="M576.3 328.0h1.2v1.2h-1.2z"/><path d="M569.1 370.3h1.2v1.2h-1.2z"/><path d="M565.4 370.7h1.2v1.2h-1.2z"/><path d="M575.2 368.2h1.2v1.2h-1.2z"/><path d="M568.2 354.8h1.2v1.2h-1.2z"/><path d="M573.4 356.2h1.2v1.2h-1.2z"/><path d="M569.9 355.9h1.2v1.2h-1.2z"/><path d="M567.7 365.8h1.2v1.2h-1.2z"/><path d="M574.4 350.7h1.2v1.2h-1.2z"/><path d="M567.7 371.6h1.2v1.2h-1.2z"/><path d="M569.2 380.4h1.2v1.2h-1.2z"/><path d="M584.9 350.3h1.2v1.2h-1.2z"/><path d="M551.7 375.0h1.2v1.2h-1.2z"/><path d="M581.0 375.9h1.2v1.2h-1.2z"/><path d="M574.9 354.3h1.2v1.2h-1.2z"/><path d="M561.9 375.4h1.2v1.2h-1.2z"/><path d="M560.3 337.6h1.2v1.2h-1.2z"/><path d="M559.5 397.9h1.2v1.2h-1.2z"/><path d="M584.3 353.4h1.2v1.2h-1.2z"/><path d="M561.8 366.2h1.2v1.2h-1.2z"/><path d="M561.6 381.3h1.2v1.2h-1.2z"/><path d="M567.3 347.8h1.2v1.2h-1.2z"/><path d="M579.1 354.8h1.2v1.2h-1.2z"/><path d="M569.9 362.8h1.2v1.2h-1.2z"/><path d="M565.3 367.5h1.2v1.2h-1.2z"/><path d="M562.1 337.2h1.2v1.2h-1.2z"/><path d="M557.2 352.4h1.2v1.2h-1.2z"/><path d="M567.8 363.8h1.2v1.2h-1.2z"/><path d="M572.7 364.7h1.2v1.2h-1.2z"/><path d="M561.3 353.1h1.2v1.2h-1.2z"/><path d="M566.6 369.8h1.2v1.2h-1.2z"/><path d="M572.5 361.3h1.2v1.2h-1.2z"/><path d="M566.5 376.1h1.2v1.2h-1.2z"/><path d="M568.1 373.3h1.2v1.2h-1.2z"/><path d="M573.0 366.0h1.2v1.2h-1.2z"/><path d="M579.1 355.0h1.2v1.2h-1.2z"/><path d="M564.9 351.7h1.2v1.2h-1.2z"/><path d="M561.2 384.8h1.2v1.2h-1.2z"/><path d="M583.0 363.3h1.2v1.2h-1.2z"/><path d="M572.8 379.5h1.2v1.2h-1.2z"/><path d="M574.9 379.9h1.2v1.2h-1.2z"/><path d="M557.3 354.0h1.2v1.2h-1.2z"/><path d="M571.8 383.1h1.2v1.2h-1.2z"/><path d="M568.9 351.0h1.2v1.2h-1.2z"/><path d="M565.0 353.8h1.2v1.2h-1.2z"/><path d="M560.7 384.0h1.2v1.2h-1.2z"/><path d="M562.7 363.3h1.2v1.2h-1.2z"/><path d="M586.4 379.6h1.2v1.2h-1.2z"/><path d="M570.9 354.4h1.2v1.2h-1.2z"/><path d="M571.5 385.7h1.2v1.2h-1.2z"/><path d="M573.3 380.7h1.2v1.2h-1.2z"/><path d="M568.8 370.2h1.2v1.2h-1.2z"/><path d="M566.3 369.0h1.2v1.2h-1.2z"/><path d="M579.1 343.0h1.2v1.2h-1.2z"/><path d="M567.5 366.4h1.2v1.2h-1.2z"/><path d="M563.1 358.7h1.2v1.2h-1.2z"/><path d="M574.7 391.0h1.2v1.2h-1.2z"/><path d="M573.4 367.6h1.2v1.2h-1.2z"/><path d="M554.8 390.0h1.2v1.2h-1.2z"/><path d="M568.7 362.5h1.2v1.2h-1.2z"/><path d="M558.5 362.2h1.2v1.2h-1.2z"/><path d="M558.7 364.0h1.2v1.2h-1.2z"/><path d="M572.0 363.4h1.2v1.2h-1.2z"/><path d="M570.4 351.1h1.2v1.2h-1.2z"/><path d="M580.2 353.9h1.2v1.2h-1.2z"/><path d="M552.5 360.4h1.2v1.2h-1.2z"/><path d="M561.5 348.9h1.2v1.2h-1.2z"/><path d="M565.0 367.1h1.2v1.2h-1.2z"/><path d="M558.0 361.1h1.2v1.2h-1.2z"/><path d="M580.1 372.6h1.2v1.2h-1.2z"/><path d="M566.7 364.8h1.2v1.2h-1.2z"/><path d="M567.0 362.3h1.2v1.2h-1.2z"/><path d="M574.2 361.7h1.2v1.2h-1.2z"/><path d="M567.8 350.5h1.2v1.2h-1.2z"/><path d="M573.5 354.5h1.2v1.2h-1.2z"/><path d="M569.3 393.5h1.2v1.2h-1.2z"/><path d="M559.1 347.3h1.2v1.2h-1.2z"/><path d="M556.0 329.5h1.2v1.2h-1.2z"/><path d="M552.0 368.1h1.2v1.2h-1.2z"/><path d="M562.6 336.8h1.2v1.2h-1.2z"/><path d="M555.4 371.6h1.2v1.2h-1.2z"/><path d="M561.4 357.9h1.2v1.2h-1.2z"/><path d="M570.8 382.0h1.2v1.2h-1.2z"/><path d="M584.5 377.5h1.2v1.2h-1.2z"/><path d="M569.2 365.6h1.2v1.2h-1.2z"/><path d="M583.3 383.0h1.2v1.2h-1.2z"/><path d="M565.4 369.4h1.2v1.2h-1.2z"/><path d="M570.4 363.7h1.2v1.2h-1.2z"/><path d="M563.7 344.4h1.2v1.2h-1.2z"/><path d="M563.5 341.4h1.2v1.2h-1.2z"/><path d="M578.4 370.5h1.2v1.2h-1.2z"/><path d="M557.7 382.5h1.2v1.2h-1.2z"/><path d="M575.6 336.3h1.2v1.2h-1.2z"/><path d="M583.7 374.3h1.2v1.2h-1.2z"/><path d="M585.5 345.8h1.2v1.2h-1.2z"/><path d="M572.5 368.9h1.2v1.2h-1.2z"/><path d="M569.7 365.4h1.2v1.2h-1.2z"/><path d="M577.0 342.1h1.2v1.2h-1.2z"/><path d="M557.4 343.5h1.2v1.2h-1.2z"/><path d="M563.3 354.5h1.2v1.2h-1.2z"/><path d="M571.1 366.7h1.2v1.2h-1.2z"/><path d="M568.3 353.5h1.2v1.2h-1.2z"/><path d="M564.2 376.3h1.2v1.2h-1.2z"/><path d="M574.5 364.4h1.2v1.2h-1.2z"/><path d="M565.3 384.7h1.2v1.2h-1.2z"/><path d="M562.9 372.1h1.2v1.2h-1.2z"/><path d="M577.8 359.3h1.2v1.2h-1.2z"/><path d="M575.0 347.4h1.2v1.2h-1.2z"/><path d="M576.6 365.8h1.2v1.2h-1.2z"/><path d="M554.5 372.4h1.2v1.2h-1.2z"/><path d="M560.4 380.9h1.2v1.2h-1.2z"/><path d="M562.2 360.7h1.2v1.2h-1.2z"/><path d="M570.4 358.3h1.2v1.2h-1.2z"/><path d="M570.2 355.3h1.2v1.2h-1.2z"/><path d="M573.7 363.1h1.2v1.2h-1.2z"/><path d="M569.8 324.5h1.2v1.2h-1.2z"/><path d="M577.9 363.4h1.2v1.2h-1.2z"/><path d="M552.8 364.3h1.2v1.2h-1.2z"/><path d="M572.0 378.0h1.2v1.2h-1.2z"/><path d="M558.8 384.7h1.2v1.2h-1.2z"/><path d="M566.6 396.5h1.2v1.2h-1.2z"/><path d="M566.8 372.5h1.2v1.2h-1.2z"/><path d="M564.9 347.4h1.2v1.2h-1.2z"/><path d="M577.3 375.7h1.2v1.2h-1.2z"/><path d="M581.1 375.0h1.2v1.2h-1.2z"/><path d="M563.1 339.7h1.2v1.2h-1.2z"/><path d="M562.5 353.5h1.2v1.2h-1.2z"/><path d="M561.1 371.2h1.2v1.2h-1.2z"/><path d="M570.8 359.2h1.2v1.2h-1.2z"/><path d="M569.5 361.0h1.2v1.2h-1.2z"/><path d="M569.8 373.5h1.2v1.2h-1.2z"/><path d="M576.2 353.4h1.2v1.2h-1.2z"/><path d="M555.2 383.0h1.2v1.2h-1.2z"/><path d="M569.0 378.5h1.2v1.2h-1.2z"/><path d="M554.0 358.4h1.2v1.2h-1.2z"/><path d="M568.2 342.8h1.2v1.2h-1.2z"/><path d="M563.6 373.1h1.2v1.2h-1.2z"/><path d="M577.2 385.3h1.2v1.2h-1.2z"/><path d="M560.7 343.4h1.2v1.2h-1.2z"/><path d="M572.4 376.2h1.2v1.2h-1.2z"/><path d="M569.6 344.8h1.2v1.2h-1.2z"/><path d="M574.6 374.1h1.2v1.2h-1.2z"/><path d="M572.7 356.2h1.2v1.2h-1.2z"/><path d="M570.6 374.1h1.2v1.2h-1.2z"/><path d="M563.3 337.2h1.2v1.2h-1.2z"/><path d="M570.8 369.7h1.2v1.2h-1.2z"/><path d="M568.1 375.4h1.2v1.2h-1.2z"/><path d="M563.0 361.8h1.2v1.2h-1.2z"/><path d="M565.4 371.0h1.2v1.2h-1.2z"/><path d="M581.6 359.5h1.2v1.2h-1.2z"/><path d="M585.5 384.4h1.2v1.2h-1.2z"/><path d="M574.7 371.2h1.2v1.2h-1.2z"/><path d="M583.1 360.5h1.2v1.2h-1.2z"/><path d="M567.0 348.1h1.2v1.2h-1.2z"/><path d="M572.0 381.8h1.2v1.2h-1.2z"/><path d="M572.5 368.9h1.2v1.2h-1.2z"/><path d="M566.3 365.4h1.2v1.2h-1.2z"/><path d="M555.9 377.7h1.2v1.2h-1.2z"/><path d="M564.5 347.5h1.2v1.2h-1.2z"/><path d="M561.6 351.5h1.2v1.2h-1.2z"/><path d="M575.3 377.8h1.2v1.2h-1.2z"/><path d="M556.5 376.0h1.2v1.2h-1.2z"/><path d="M575.5 354.9h1.2v1.2h-1.2z"/><path d="M555.4 352.6h1.2v1.2h-1.2z"/><path d="M562.6 367.8h1.2v1.2h-1.2z"/><path d="M565.0 334.6h1.2v1.2h-1.2z"/><path d="M570.0 341.5h1.2v1.2h-1.2z"/><path d="M575.7 346.1h1.2v1.2h-1.2z"/><path d="M562.1 351.0h1.2v1.2h-1.2z"/><path d="M563.4 381.2h1.2v1.2h-1.2z"/><path d="M575.2 371.4h1.2v1.2h-1.2z"/><path d="M570.7 341.3h1.2v1.2h-1.2z"/><path d="M563.6 355.3h1.2v1.2h-1.2z"/><path d="M559.7 370.1h1.2v1.2h-1.2z"/><path d="M561.7 353.1h1.2v1.2h-1.2z"/><path d="M559.1 334.2h1.2v1.2h-1.2z"/><path d="M573.1 381.6h1.2v1.2h-1.2z"/><path d="M569.5 349.3h1.2v1.2h-1.2z"/><path d="M569.5 380.0h1.2v1.2h-1.2z"/><path d="M570.5 376.0h1.2v1.2h-1.2z"/><path d="M580.6 378.8h1.2v1.2h-1.2z"/><path d="M564.2 377.7h1.2v1.2h-1.2z"/><path d="M574.6 341.5h1.2v1.2h-1.2z"/><path d="M564.6 343.1h1.2v1.2h-1.2z"/><path d="M567.1 371.1h1.2v1.2h-1.2z"/><path d="M558.9 334.2h1.2v1.2h-1.2z"/><path d="M579.0 368.3h1.2v1.2h-1.2z"/><path d="M580.5 344.5h1.2v1.2h-1.2z"/><path d="M577.0 392.0h1.2v1.2h-1.2z"/><path d="M585.1 360.1h1.2v1.2h-1.2z"/><path d="M570.3 360.8h1.2v1.2h-1.2z"/><path d="M576.5 377.5h1.2v1.2h-1.2z"/><path d="M568.7 344.0h1.2v1.2h-1.2z"/><path d="M574.3 356.4h1.2v1.2h-1.2z"/><path d="M573.3 366.7h1.2v1.2h-1.2z"/><path d="M581.8 378.9h1.2v1.2h-1.2z"/><path d="M564.2 367.9h1.2v1.2h-1.2z"/><path d="M583.0 355.5h1.2v1.2h-1.2z"/><path d="M571.7 379.7h1.2v1.2h-1.2z"/><path d="M578.7 370.3h1.2v1.2h-1.2z"/><path d="M556.8 345.3h1.2v1.2h-1.2z"/><path d="M570.1 368.4h1.2v1.2h-1.2z"/><path d="M589.7 350.9h1.2v1.2h-1.2z"/><path d="M577.7 373.8h1.2v1.2h-1.2z"/><path d="M553.8 351.5h1.2v1.2h-1.2z"/><path d="M569.4 356.1h1.2v1.2h-1.2z"/><path d="M566.7 369.6h1.2v1.2h-1.2z"/><path d="M561.1 369.5h1.2v1.2h-1.2z"/><path d="M562.6 355.4h1.2v1.2h-1.2z"/><path d="M572.6 355.0h1.2v1.2h-1.2z"/><path d="M570.4 385.4h1.2v1.2h-1.2z"/><path d="M568.2 361.0h1.2v1.2h-1.2z"/><path d="M574.2 357.9h1.2v1.2h-1.2z"/><path d="M577.2 345.0h1.2v1.2h-1.2z"/><path d="M573.3 355.8h1.2v1.2h-1.2z"/><path d="M561.2 387.8h1.2v1.2h-1.2z"/><path d="M560.8 387.6h1.2v1.2h-1.2z"/><path d="M573.6 383.3h1.2v1.2h-1.2z"/><path d="M559.7 379.8h1.2v1.2h-1.2z"/><path d="M580.4 361.4h1.2v1.2h-1.2z"/><path d="M566.9 397.4h1.2v1.2h-1.2z"/><path d="M569.5 357.1h1.2v1.2h-1.2z"/><path d="M562.6 369.2h1.2v1.2h-1.2z"/><path d="M570.8 365.5h1.2v1.2h-1.2z"/><path d="M582.6 358.4h1.2v1.2h-1.2z"/><path d="M572.0 383.4h1.2v1.2h-1.2z"/><path d="M559.5 377.5h1.2v1.2h-1.2z"/><path d="M583.6 344.0h1.2v1.2h-1.2z"/><path d="M558.7 348.5h1.2v1.2h-1.2z"/><path d="M552.3 369.3h1.2v1.2h-1.2z"/><path d="M552.2 370.0h1.2v1.2h-1.2z"/><path d="M580.4 340.4h1.2v1.2h-1.2z"/><path d="M565.3 336.1h1.2v1.2h-1.2z"/><path d="M574.6 352.7h1.2v1.2h-1.2z"/><path d="M565.7 363.8h1.2v1.2h-1.2z"/><path d="M572.6 358.1h1.2v1.2h-1.2z"/><path d="M568.1 355.3h1.2v1.2h-1.2z"/><path d="M569.0 346.6h1.2v1.2h-1.2z"/><path d="M568.5 335.9h1.2v1.2h-1.2z"/><path d="M563.8 389.8h1.2v1.2h-1.2z"/><path d="M568.7 345.4h1.2v1.2h-1.2z"/><path d="M570.2 349.4h1.2v1.2h-1.2z"/><path d="M554.0 352.7h1.2v1.2h-1.2z"/><path d="M574.3 368.4h1.2v1.2h-1.2z"/><path d="M567.2 350.0h1.2v1.2h-1.2z"/><path d="M558.8 381.9h1.2v1.2h-1.2z"/><path d="M570.1 349.7h1.2v1.2h-1.2z"/><path d="M556.4 397.7h1.2v1.2h-1.2z"/><path d="M558.2 361.9h1.2v1.2h-1.2z"/><path d="M569.8 360.8h1.2v1.2h-1.2z"/><path d="M565.6 343.8h1.2v1.2h-1.2z"/><path d="M559.1 386.6h1.2v1.2h-1.2z"/><path d="M561.6 374.8h1.2v1.2h-1.2z"/><path d="M553.6 359.2h1.2v1.2h-1.2z"/><path d="M570.2 377.5h1.2v1.2h-1.2z"/><path d="M558.5 371.3h1.2v1.2h-1.2z"/><path d="M571.3 352.7h1.2v1.2h-1.2z"/><path d="M572.1 350.4h1.2v1.2h-1.2z"/><path d="M561.2 362.7h1.2v1.2h-1.2z"/><path d="M567.1 349.0h1.2v1.2h-1.2z"/><path d="M555.6 357.0h1.2v1.2h-1.2z"/><path d="M574.5 357.3h1.2v1.2h-1.2z"/><path d="M578.8 346.8h1.2v1.2h-1.2z"/><path d="M556.8 384.7h1.2v1.2h-1.2z"/><path d="M571.4 376.2h1.2v1.2h-1.2z"/><path d="M561.0 374.3h1.2v1.2h-1.2z"/><path d="M570.2 372.1h1.2v1.2h-1.2z"/><path d="M568.2 379.9h1.2v1.2h-1.2z"/><path d="M562.5 349.5h1.2v1.2h-1.2z"/><path d="M555.4 379.2h1.2v1.2h-1.2z"/><path d="M561.7 348.4h1.2v1.2h-1.2z"/><path d="M560.0 356.8h1.2v1.2h-1.2z"/><path d="M557.2 358.9h1.2v1.2h-1.2z"/><path d="M562.7 355.3h1.2v1.2h-1.2z"/><path d="M559.8 363.5h1.2v1.2h-1.2z"/><path d="M564.1 364.6h1.2v1.2h-1.2z"/><path d="M570.1 367.8h1.2v1.2h-1.2z"/><path d="M563.4 351.9h1.2v1.2h-1.2z"/><path d="M574.6 340.9h1.2v1.2h-1.2z"/><path d="M561.9 358.9h1.2v1.2h-1.2z"/><path d="M565.1 376.9h1.2v1.2h-1.2z"/><path d="M564.2 376.5h1.2v1.2h-1.2z"/><path d="M555.5 337.6h1.2v1.2h-1.2z"/><path d="M578.4 369.1h1.2v1.2h-1.2z"/><path d="M572.1 364.7h1.2v1.2h-1.2z"/><path d="M572.1 346.0h1.2v1.2h-1.2z"/><path d="M576.1 355.5h1.2v1.2h-1.2z"/><path d="M576.4 364.2h1.2v1.2h-1.2z"/><path d="M551.2 345.0h1.2v1.2h-1.2z"/><path d="M577.6 361.1h1.2v1.2h-1.2z"/><path d="M564.6 366.4h1.2v1.2h-1.2z"/><path d="M564.4 355.4h1.2v1.2h-1.2z"/><path d="M568.9 365.0h1.2v1.2h-1.2z"/><path d="M580.9 363.6h1.2v1.2h-1.2z"/><path d="M584.0 388.2h1.2v1.2h-1.2z"/><path d="M582.6 377.9h1.2v1.2h-1.2z"/><path d="M569.1 364.9h1.2v1.2h-1.2z"/><path d="M566.8 352.8h1.2v1.2h-1.2z"/><path d="M567.4 354.0h1.2v1.2h-1.2z"/><path d="M581.9 370.5h1.2v1.2h-1.2z"/><path d="M564.2 336.2h1.2v1.2h-1.2z"/><path d="M567.5 357.2h1.2v1.2h-1.2z"/><path d="M558.8 347.1h1.2v1.2h-1.2z"/><path d="M572.8 362.1h1.2v1.2h-1.2z"/><path d="M589.9 362.6h1.2v1.2h-1.2z"/><path d="M566.7 383.2h1.2v1.2h-1.2z"/><path d="M569.1 365.3h1.2v1.2h-1.2z"/><path d="M564.8 354.5h1.2v1.2h-1.2z"/><path d="M580.7 377.0h1.2v1.2h-1.2z"/><path d="M582.6 358.1h1.2v1.2h-1.2z"/><path d="M568.3 350.7h1.2v1.2h-1.2z"/><path d="M576.2 343.5h1.2v1.2h-1.2z"/><path d="M572.8 378.3h1.2v1.2h-1.2z"/><path d="M580.0 349.8h1.2v1.2h-1.2z"/><path d="M577.3 353.0h1.2v1.2h-1.2z"/><path d="M561.6 344.5h1.2v1.2h-1.2z"/><path d="M577.8 386.1h1.2v1.2h-1.2z"/><path d="M562.9 352.4h1.2v1.2h-1.2z"/><path d="M565.1 398.1h1.2v1.2h-1.2z"/><path d="M576.5 355.4h1.2v1.2h-1.2z"/><path d="M552.7 353.6h1.2v1.2h-1.2z"/><path d="M578.1 389.1h1.2v1.2h-1.2z"/><path d="M565.7 353.3h1.2v1.2h-1.2z"/><path d="M563.7 336.6h1.2v1.2h-1.2z"/><path d="M575.7 347.8h1.2v1.2h-1.2z"/><path d="M577.0 339.1h1.2v1.2h-1.2z"/><path d="M557.2 367.0h1.2v1.2h-1.2z"/><path d="M561.5 373.9h1.2v1.2h-1.2z"/><path d="M568.1 346.6h1.2v1.2h-1.2z"/><path d="M573.3 374.8h1.2v1.2h-1.2z"/><path d="M551.7 388.6h1.2v1.2h-1.2z"/><path d="M572.2 373.6h1.2v1.2h-1.2z"/><path d="M552.2 352.9h1.2v1.2h-1.2z"/><path d="M565.0 378.1h1.2v1.2h-1.2z"/><path d="M555.6 350.6h1.2v1.2h-1.2z"/><path d="M566.0 367.8h1.2v1.2h-1.2z"/><path d="M553.7 354.7h1.2v1.2h-1.2z"/><path d="M572.3 385.2h1.2v1.2h-1.2z"/><path d="M573.6 358.7h1.2v1.2h-1.2z"/><path d="M558.0 349.9h1.2v1.2h-1.2z"/><path d="M562.4 365.1h1.2v1.2h-1.2z"/><path d="M567.6 386.3h1.2v1.2h-1.2z"/><path d="M570.4 348.0h1.2v1.2h-1.2z"/><path d="M581.1 376.3h1.2v1.2h-1.2z"/><path d="M568.9 352.9h1.2v1.2h-1.2z"/><path d="M552.1 348.7h1.2v1.2h-1.2z"/><path d="M575.7 351.8h1.2v1.2h-1.2z"/><path d="M556.8 365.7h1.2v1.2h-1.2z"/><path d="M570.1 371.5h1.2v1.2h-1.2z"/><path d="M573.6 382.7h1.2v1.2h-1.2z"/><path d="M560.9 376.7h1.2v1.2h-1.2z"/><path d="M559.6 372.7h1.2v1.2h-1.2z"/><path d="M569.5 366.4h1.2v1.2h-1.2z"/><path d="M576.2 362.8h1.2v1.2h-1.2z"/><path d="M577.5 375.3h1.2v1.2h-1.2z"/><path d="M569.2 355.1h1.2v1.2h-1.2z"/><path d="M561.6 355.6h1.2v1.2h-1.2z"/><path d="M566.3 362.7h1.2v1.2h-1.2z"/><path d="M593.3 371.9h1.2v1.2h-1.2z"/><path d="M574.5 351.0h1.2v1.2h-1.2z"/><path d="M562.0 358.5h1.2v1.2h-1.2z"/><path d="M569.6 348.5h1.2v1.2h-1.2z"/><path d="M581.7 355.1h1.2v1.2h-1.2z"/><path d="M577.2 330.3h1.2v1.2h-1.2z"/><path d="M567.9 366.9h1.2v1.2h-1.2z"/><path d="M569.6 371.4h1.2v1.2h-1.2z"/><path d="M570.4 365.3h1.2v1.2h-1.2z"/><path d="M551.9 353.0h1.2v1.2h-1.2z"/><path d="M573.3 367.3h1.2v1.2h-1.2z"/><path d="M566.3 351.5h1.2v1.2h-1.2z"/><path d="M563.1 388.8h1.2v1.2h-1.2z"/><path d="M582.7 362.2h1.2v1.2h-1.2z"/><path d="M578.9 340.8h1.2v1.2h-1.2z"/><path d="M551.6 356.2h1.2v1.2h-1.2z"/><path d="M560.6 355.2h1.2v1.2h-1.2z"/><path d="M569.6 353.7h1.2v1.2h-1.2z"/><path d="M568.4 366.9h1.2v1.2h-1.2z"/><path d="M567.7 376.0h1.2v1.2h-1.2z"/><path d="M583.1 345.6h1.2v1.2h-1.2z"/><path d="M569.4 359.3h1.2v1.2h-1.2z"/><path d="M571.0 341.6h1.2v1.2h-1.2z"/><path d="M553.1 330.6h1.2v1.2h-1.2z"/><path d="M572.5 365.7h1.2v1.2h-1.2z"/><path d="M568.6 329.9h1.2v1.2h-1.2z"/><path d="M564.8 352.4h1.2v1.2h-1.2z"/><path d="M556.0 350.2h1.2v1.2h-1.2z"/><path d="M573.9 370.6h1.2v1.2h-1.2z"/><path d="M567.8 370.2h1.2v1.2h-1.2z"/><path d="M562.9 364.0h1.2v1.2h-1.2z"/><path d="M568.3 370.8h1.2v1.2h-1.2z"/><path d="M567.4 361.0h1.2v1.2h-1.2z"/><path d="M566.9 354.0h1.2v1.2h-1.2z"/><path d="M587.0 370.2h1.2v1.2h-1.2z"/><path d="M571.6 395.1h1.2v1.2h-1.2z"/><path d="M579.9 341.2h1.2v1.2h-1.2z"/><path d="M573.9 374.7h1.2v1.2h-1.2z"/><path d="M584.0 381.4h1.2v1.2h-1.2z"/><path d="M574.6 346.5h1.2v1.2h-1.2z"/><path d="M560.6 366.8h1.2v1.2h-1.2z"/><path d="M572.3 348.7h1.2v1.2h-1.2z"/><path d="M564.7 357.4h1.2v1.2h-1.2z"/><path d="M568.5 367.7h1.2v1.2h-1.2z"/><path d="M565.6 345.7h1.2v1.2h-1.2z"/><path d="M578.6 385.3h1.2v1.2h-1.2z"/><path d="M567.1 377.3h1.2v1.2h-1.2z"/><path d="M571.8 372.2h1.2v1.2h-1.2z"/><path d="M572.1 352.3h1.2v1.2h-1.2z"/><path d="M572.9 377.1h1.2v1.2h-1.2z"/><path d="M560.4 390.5h1.2v1.2h-1.2z"/><path d="M585.8 388.5h1.2v1.2h-1.2z"/><path d="M584.9 373.4h1.2v1.2h-1.2z"/><path d="M565.1 354.6h1.2v1.2h-1.2z"/><path d="M561.1 364.6h1.2v1.2h-1.2z"/><path d="M567.7 372.4h1.2v1.2h-1.2z"/><path d="M587.7 394.9h1.2v1.2h-1.2z"/><path d="M567.8 372.5h1.2v1.2h-1.2z"/><path d="M572.0 366.8h1.2v1.2h-1.2z"/><path d="M566.2 361.3h1.2v1.2h-1.2z"/><path d="M561.0 365.5h1.2v1.2h-1.2z"/><path d="M567.8 367.5h1.2v1.2h-1.2z"/><path d="M560.7 363.6h1.2v1.2h-1.2z"/><path d="M568.4 371.5h1.2v1.2h-1.2z"/><path d="M559.0 368.9h1.2v1.2h-1.2z"/><path d="M576.4 371.4h1.2v1.2h-1.2z"/><path d="M564.9 356.1h1.2v1.2h-1.2z"/><path d="M566.0 373.2h1.2v1.2h-1.2z"/><path d="M581.2 360.8h1.2v1.2h-1.2z"/><path d="M562.5 368.3h1.2v1.2h-1.2z"/><path d="M569.7 350.3h1.2v1.2h-1.2z"/><path d="M561.7 361.6h1.2v1.2h-1.2z"/><path d="M573.7 346.3h1.2v1.2h-1.2z"/><path d="M559.3 370.0h1.2v1.2h-1.2z"/><path d="M557.6 364.5h1.2v1.2h-1.2z"/><path d="M571.0 361.4h1.2v1.2h-1.2z"/><path d="M559.3 362.2h1.2v1.2h-1.2z"/><path d="M565.2 367.7h1.2v1.2h-1.2z"/><path d="M560.9 378.3h1.2v1.2h-1.2z"/><path d="M553.8 360.5h1.2v1.2h-1.2z"/><path d="M568.1 376.5h1.2v1.2h-1.2z"/><path d="M562.8 370.6h1.2v1.2h-1.2z"/><path d="M563.2 373.3h1.2v1.2h-1.2z"/><path d="M582.8 357.4h1.2v1.2h-1.2z"/><path d="M571.8 350.0h1.2v1.2h-1.2z"/><path d="M576.3 380.0h1.2v1.2h-1.2z"/><path d="M568.3 347.1h1.2v1.2h-1.2z"/><path d="M571.4 379.1h1.2v1.2h-1.2z"/><path d="M577.3 374.4h1.2v1.2h-1.2z"/><path d="M552.4 353.5h1.2v1.2h-1.2z"/><path d="M580.1 345.8h1.2v1.2h-1.2z"/><path d="M577.6 389.4h1.2v1.2h-1.2z"/><path d="M574.5 378.7h1.2v1.2h-1.2z"/><path d="M565.2 345.8h1.2v1.2h-1.2z"/><path d="M567.1 360.2h1.2v1.2h-1.2z"/><path d="M567.6 372.8h1.2v1.2h-1.2z"/><path d="M566.8 365.7h1.2v1.2h-1.2z"/><path d="M571.6 362.9h1.2v1.2h-1.2z"/><path d="M583.7 369.2h1.2v1.2h-1.2z"/><path d="M568.7 360.1h1.2v1.2h-1.2z"/><path d="M562.7 381.8h1.2v1.2h-1.2z"/><path d="M569.3 347.9h1.2v1.2h-1.2z"/><path d="M563.2 361.1h1.2v1.2h-1.2z"/><path d="M564.2 378.2h1.2v1.2h-1.2z"/><path d="M558.1 369.9h1.2v1.2h-1.2z"/><path d="M569.2 346.5h1.2v1.2h-1.2z"/><path d="M568.4 361.7h1.2v1.2h-1.2z"/><path d="M572.3 356.7h1.2v1.2h-1.2z"/><path d="M570.6 339.7h1.2v1.2h-1.2z"/><path d="M558.8 374.0h1.2v1.2h-1.2z"/><path d="M576.9 362.8h1.2v1.2h-1.2z"/><path d="M562.9 378.2h1.2v1.2h-1.2z"/><path d="M561.2 372.4h1.2v1.2h-1.2z"/><path d="M573.5 348.5h1.2v1.2h-1.2z"/><path d="M552.0 383.3h1.2v1.2h-1.2z"/><path d="M569.3 350.5h1.2v1.2h-1.2z"/><path d="M568.5 375.6h1.2v1.2h-1.2z"/><path d="M577.4 373.4h1.2v1.2h-1.2z"/><path d="M574.6 338.1h1.2v1.2h-1.2z"/><path d="M577.7 368.6h1.2v1.2h-1.2z"/><path d="M587.1 354.5h1.2v1.2h-1.2z"/><path d="M568.0 377.7h1.2v1.2h-1.2z"/><path d="M562.6 353.1h1.2v1.2h-1.2z"/><path d="M564.8 362.0h1.2v1.2h-1.2z"/><path d="M558.8 369.8h1.2v1.2h-1.2z"/><path d="M572.6 364.0h1.2v1.2h-1.2z"/><path d="M582.5 358.4h1.2v1.2h-1.2z"/><path d="M579.1 355.3h1.2v1.2h-1.2z"/><path d="M574.4 335.9h1.2v1.2h-1.2z"/><path d="M569.7 360.5h1.2v1.2h-1.2z"/><path d="M563.8 354.5h1.2v1.2h-1.2z"/><path d="M565.0 352.9h1.2v1.2h-1.2z"/><path d="M562.9 355.3h1.2v1.2h-1.2z"/><path d="M563.5 348.2h1.2v1.2h-1.2z"/><path d="M566.8 374.0h1.2v1.2h-1.2z"/><path d="M565.9 356.1h1.2v1.2h-1.2z"/><path d="M579.5 376.7h1.2v1.2h-1.2z"/><path d="M575.8 379.2h1.2v1.2h-1.2z"/><path d="M565.2 361.2h1.2v1.2h-1.2z"/><path d="M577.5 355.2h1.2v1.2h-1.2z"/><path d="M567.0 368.3h1.2v1.2h-1.2z"/><path d="M571.2 359.1h1.2v1.2h-1.2z"/><path d="M576.4 360.5h1.2v1.2h-1.2z"/><path d="M574.2 378.0h1.2v1.2h-1.2z"/><path d="M573.6 373.3h1.2v1.2h-1.2z"/><path d="M558.1 344.6h1.2v1.2h-1.2z"/><path d="M562.7 369.7h1.2v1.2h-1.2z"/><path d="M580.8 345.9h1.2v1.2h-1.2z"/><path d="M570.6 351.0h1.2v1.2h-1.2z"/><path d="M561.8 359.1h1.2v1.2h-1.2z"/><path d="M573.9 366.0h1.2v1.2h-1.2z"/><path d="M578.0 349.2h1.2v1.2h-1.2z"/><path d="M575.6 376.0h1.2v1.2h-1.2z"/><path d="M568.6 369.7h1.2v1.2h-1.2z"/><path d="M563.2 347.7h1.2v1.2h-1.2z"/><path d="M564.6 354.0h1.2v1.2h-1.2z"/><path d="M592.6 356.2h1.2v1.2h-1.2z"/><path d="M582.0 365.8h1.2v1.2h-1.2z"/><path d="M570.7 373.4h1.2v1.2h-1.2z"/><path d="M561.4 375.8h1.2v1.2h-1.2z"/><path d="M571.2 341.8h1.2v1.2h-1.2z"/><path d="M573.1 370.7h1.2v1.2h-1.2z"/><path d="M571.8 385.2h1.2v1.2h-1.2z"/><path d="M564.5 370.2h1.2v1.2h-1.2z"/><path d="M574.4 350.4h1.2v1.2h-1.2z"/><path d="M578.2 342.7h1.2v1.2h-1.2z"/><path d="M556.9 370.3h1.2v1.2h-1.2z"/><path d="M558.7 361.4h1.2v1.2h-1.2z"/><path d="M554.0 364.0h1.2v1.2h-1.2z"/><path d="M558.4 367.8h1.2v1.2h-1.2z"/><path d="M555.0 369.3h1.2v1.2h-1.2z"/><path d="M565.7 363.9h1.2v1.2h-1.2z"/><path d="M567.4 364.8h1.2v1.2h-1.2z"/><path d="M556.8 327.1h1.2v1.2h-1.2z"/><path d="M568.3 349.9h1.2v1.2h-1.2z"/><path d="M564.1 369.0h1.2v1.2h-1.2z"/><path d="M551.1 352.3h1.2v1.2h-1.2z"/><path d="M562.8 348.2h1.2v1.2h-1.2z"/><path d="M570.8 361.0h1.2v1.2h-1.2z"/><path d="M561.0 349.2h1.2v1.2h-1.2z"/><path d="M574.9 353.8h1.2v1.2h-1.2z"/><path d="M573.0 369.3h1.2v1.2h-1.2z"/><path d="M551.9 347.8h1.2v1.2h-1.2z"/><path d="M568.0 367.8h1.2v1.2h-1.2z"/><path d="M574.6 374.2h1.2v1.2h-1.2z"/><path d="M576.8 357.8h1.2v1.2h-1.2z"/><path d="M566.2 373.9h1.2v1.2h-1.2z"/><path d="M564.4 377.8h1.2v1.2h-1.2z"/><path d="M554.5 372.1h1.2v1.2h-1.2z"/><path d="M566.5 335.5h1.2v1.2h-1.2z"/><path d="M576.3 367.4h1.2v1.2h-1.2z"/><path d="M568.2 347.9h1.2v1.2h-1.2z"/><path d="M564.0 384.2h1.2v1.2h-1.2z"/><path d="M561.0 351.0h1.2v1.2h-1.2z"/><path d="M557.8 361.2h1.2v1.2h-1.2z"/><path d="M564.7 350.2h1.2v1.2h-1.2z"/><path d="M560.8 377.7h1.2v1.2h-1.2z"/><path d="M555.7 390.4h1.2v1.2h-1.2z"/><path d="M563.4 347.7h1.2v1.2h-1.2z"/><path d="M574.7 370.9h1.2v1.2h-1.2z"/><path d="M559.1 373.5h1.2v1.2h-1.2z"/><path d="M552.4 350.1h1.2v1.2h-1.2z"/><path d="M577.6 359.4h1.2v1.2h-1.2z"/><path d="M556.9 370.2h1.2v1.2h-1.2z"/><path d="M575.8 362.7h1.2v1.2h-1.2z"/><path d="M552.6 358.2h1.2v1.2h-1.2z"/><path d="M571.6 373.8h1.2v1.2h-1.2z"/><path d="M583.8 359.5h1.2v1.2h-1.2z"/><path d="M563.9 362.5h1.2v1.2h-1.2z"/><path d="M578.3 349.8h1.2v1.2h-1.2z"/><path d="M579.1 324.5h1.2v1.2h-1.2z"/><path d="M574.8 353.5h1.2v1.2h-1.2z"/><path d="M571.9 372.6h1.2v1.2h-1.2z"/><path d="M557.9 361.8h1.2v1.2h-1.2z"/><path d="M570.0 371.2h1.2v1.2h-1.2z"/><path d="M560.1 349.1h1.2v1.2h-1.2z"/><path d="M551.6 398.6h1.2v1.2h-1.2z"/><path d="M566.4 359.9h1.2v1.2h-1.2z"/><path d="M555.3 376.0h1.2v1.2h-1.2z"/><path d="M563.5 383.1h1.2v1.2h-1.2z"/><path d="M575.2 363.3h1.2v1.2h-1.2z"/><path d="M574.2 347.4h1.2v1.2h-1.2z"/><path d="M565.2 354.9h1.2v1.2h-1.2z"/><path d="M557.2 363.2h1.2v1.2h-1.2z"/><path d="M566.8 383.1h1.2v1.2h-1.2z"/><path d="M562.3 350.1h1.2v1.2h-1.2z"/><path d="M564.1 368.9h1.2v1.2h-1.2z"/><path d="M571.4 363.4h1.2v1.2h-1.2z"/><path d="M564.0 369.9h1.2v1.2h-1.2z"/><path d="M571.1 337.2h1.2v1.2h-1.2z"/><path d="M565.8 343.8h1.2v1.2h-1.2z"/><path d="M558.0 365.1h1.2v1.2h-1.2z"/><path d="M568.5 364.6h1.2v1.2h-1.2z"/><path d="M560.6 360.2h1.2v1.2h-1.2z"/><path d="M560.2 368.3h1.2v1.2h-1.2z"/><path d="M573.9 387.6h1.2v1.2h-1.2z"/><path d="M578.8 351.7h1.2v1.2h-1.2z"/><path d="M564.1 349.9h1.2v1.2h-1.2z"/><path d="M570.6 390.7h1.2v1.2h-1.2z"/><path d="M574.0 332.2h1.2v1.2h-1.2z"/><path d="M557.3 344.9h1.2v1.2h-1.2z"/><path d="M572.4 363.0h1.2v1.2h-1.2z"/><path d="M570.5 387.9h1.2v1.2h-1.2z"/><path d="M561.0 351.1h1.2v1.2h-1.2z"/><path d="M584.7 367.8h1.2v1.2h-1.2z"/><path d="M561.4 334.6h1.2v1.2h-1.2z"/><path d="M555.0 328.8h1.2v1.2h-1.2z"/><path d="M568.6 363.6h1.2v1.2h-1.2z"/><path d="M576.4 361.1h1.2v1.2h-1.2z"/><path d="M562.1 352.6h1.2v1.2h-1.2z"/><path d="M584.2 338.3h1.2v1.2h-1.2z"/><path d="M569.5 363.4h1.2v1.2h-1.2z"/><path d="M573.2 357.3h1.2v1.2h-1.2z"/><path d="M572.2 374.4h1.2v1.2h-1.2z"/><path d="M566.7 356.6h1.2v1.2h-1.2z"/><path d="M566.4 349.5h1.2v1.2h-1.2z"/><path d="M566.2 358.8h1.2v1.2h-1.2z"/><path d="M569.8 381.7h1.2v1.2h-1.2z"/><path d="M579.1 356.8h1.2v1.2h-1.2z"/><path d="M573.1 367.1h1.2v1.2h-1.2z"/><path d="M574.5 363.3h1.2v1.2h-1.2z"/><path d="M570.3 356.4h1.2v1.2h-1.2z"/><path d="M561.3 375.2h1.2v1.2h-1.2z"/><path d="M579.0 372.3h1.2v1.2h-1.2z"/><path d="M571.7 366.7h1.2v1.2h-1.2z"/><path d="M564.2 338.0h1.2v1.2h-1.2z"/><path d="M573.6 365.8h1.2v1.2h-1.2z"/><path d="M563.3 349.5h1.2v1.2h-1.2z"/><path d="M578.9 337.7h1.2v1.2h-1.2z"/><path d="M583.0 372.0h1.2v1.2h-1.2z"/><path d="M588.2 353.0h1.2v1.2h-1.2z"/><path d="M567.8 355.9h1.2v1.2h-1.2z"/><path d="M569.3 360.1h1.2v1.2h-1.2z"/><path d="M561.6 378.0h1.2v1.2h-1.2z"/><path d="M561.3 355.9h1.2v1.2h-1.2z"/><path d="M572.7 355.5h1.2v1.2h-1.2z"/><path d="M564.3 368.0h1.2v1.2h-1.2z"/><path d="M564.9 345.5h1.2v1.2h-1.2z"/><path d="M567.1 359.9h1.2v1.2h-1.2z"/><path d="M582.5 347.6h1.2v1.2h-1.2z"/><path d="M576.2 352.0h1.2v1.2h-1.2z"/><path d="M565.0 358.4h1.2v1.2h-1.2z"/><path d="M570.3 375.1h1.2v1.2h-1.2z"/><path d="M582.9 354.1h1.2v1.2h-1.2z"/><path d="M579.3 376.9h1.2v1.2h-1.2z"/><path d="M574.9 352.4h1.2v1.2h-1.2z"/><path d="M575.7 361.5h1.2v1.2h-1.2z"/><path d="M571.0 359.2h1.2v1.2h-1.2z"/><path d="M573.6 378.6h1.2v1.2h-1.2z"/><path d="M577.6 360.1h1.2v1.2h-1.2z"/><path d="M576.5 383.3h1.2v1.2h-1.2z"/><path d="M560.0 383.6h1.2v1.2h-1.2z"/><path d="M556.6 370.6h1.2v1.2h-1.2z"/><path d="M573.0 383.8h1.2v1.2h-1.2z"/><path d="M570.4 356.3h1.2v1.2h-1.2z"/><path d="M561.2 345.5h1.2v1.2h-1.2z"/><path d="M574.5 359.7h1.2v1.2h-1.2z"/><path d="M561.9 370.4h1.2v1.2h-1.2z"/><path d="M561.5 356.9h1.2v1.2h-1.2z"/><path d="M564.1 386.2h1.2v1.2h-1.2z"/><path d="M580.4 360.8h1.2v1.2h-1.2z"/><path d="M554.6 366.9h1.2v1.2h-1.2z"/><path d="M568.6 367.9h1.2v1.2h-1.2z"/><path d="M572.8 358.5h1.2v1.2h-1.2z"/><path d="M575.9 374.7h1.2v1.2h-1.2z"/><path d="M569.8 357.3h1.2v1.2h-1.2z"/><path d="M563.9 372.7h1.2v1.2h-1.2z"/><path d="M558.7 360.8h1.2v1.2h-1.2z"/><path d="M561.6 343.5h1.2v1.2h-1.2z"/><path d="M573.1 362.6h1.2v1.2h-1.2z"/><path d="M568.3 375.2h1.2v1.2h-1.2z"/><path d="M555.3 362.1h1.2v1.2h-1.2z"/><path d="M570.5 374.7h1.2v1.2h-1.2z"/><path d="M558.8 373.0h1.2v1.2h-1.2z"/><path d="M569.9 382.0h1.2v1.2h-1.2z"/><path d="M577.7 370.7h1.2v1.2h-1.2z"/><path d="M586.3 363.0h1.2v1.2h-1.2z"/><path d="M564.4 358.2h1.2v1.2h-1.2z"/><path d="M560.0 362.6h1.2v1.2h-1.2z"/><path d="M552.0 361.8h1.2v1.2h-1.2z"/><path d="M571.6 376.9h1.2v1.2h-1.2z"/><path d="M565.0 382.4h1.2v1.2h-1.2z"/><path d="M562.5 361.1h1.2v1.2h-1.2z"/><path d="M552.0 352.3h1.2v1.2h-1.2z"/><path d="M561.3 383.4h1.2v1.2h-1.2z"/><path d="M572.4 347.9h1.2v1.2h-1.2z"/><path d="M572.4 369.6h1.2v1.2h-1.2z"/><path d="M566.1 363.3h1.2v1.2h-1.2z"/><path d="M565.5 355.6h1.2v1.2h-1.2z"/><path d="M553.3 361.8h1.2v1.2h-1.2z"/><path d="M578.7 382.6h1.2v1.2h-1.2z"/><path d="M565.7 352.8h1.2v1.2h-1.2z"/><path d="M566.2 375.3h1.2v1.2h-1.2z"/><path d="M570.9 355.0h1.2v1.2h-1.2z"/><path d="M571.0 360.2h1.2v1.2h-1.2z"/><path d="M572.3 357.4h1.2v1.2h-1.2z"/><path d="M555.8 363.8h1.2v1.2h-1.2z"/><path d="M574.3 347.9h1.2v1.2h-1.2z"/><path d="M567.1 375.0h1.2v1.2h-1.2z"/><path d="M564.9 354.1h1.2v1.2h-1.2z"/><path d="M584.8 374.3h1.2v1.2h-1.2z"/><path d="M576.5 350.1h1.2v1.2h-1.2z"/><path d="M581.5 340.4h1.2v1.2h-1.2z"/><path d="M563.7 373.1h1.2v1.2h-1.2z"/><path d="M579.0 350.3h1.2v1.2h-1.2z"/><path d="M562.5 365.7h1.2v1.2h-1.2z"/><path d="M552.0 371.7h1.2v1.2h-1.2z"/><path d="M572.6 356.9h1.2v1.2h-1.2z"/><path d="M572.4 373.6h1.2v1.2h-1.2z"/><path d="M570.6 370.1h1.2v1.2h-1.2z"/><path d="M580.5 356.5h1.2v1.2h-1.2z"/><path d="M569.3 355.9h1.2v1.2h-1.2z"/><path d="M576.5 357.5h1.2v1.2h-1.2z"/><path d="M571.9 364.9h1.2v1.2h-1.2z"/><path d="M568.5 386.3h1.2v1.2h-1.2z"/><path d="M567.3 382.2h1.2v1.2h-1.2z"/><path d="M574.8 380.9h1.2v1.2h-1.2z"/><path d="M566.6 375.6h1.2v1.2h-1.2z"/><path d="M574.2 354.7h1.2v1.2h-1.2z"/><path d="M570.2 361.3h1.2v1.2h-1.2z"/><path d="M567.7 380.6h1.2v1.2h-1.2z"/><path d="M562.1 340.2h1.2v1.2h-1.2z"/><path d="M553.7 356.9h1.2v1.2h-1.2z"/><path d="M562.7 363.2h1.2v1.2h-1.2z"/><path d="M572.6 386.8h1.2v1.2h-1.2z"/><path d="M570.5 369.3h1.2v1.2h-1.2z"/><path d="M562.0 370.8h1.2v1.2h-1.2z"/><path d="M579.1 381.1h1.2v1.2h-1.2z"/><path d="M552.0 375.0h1.2v1.2h-1.2z"/><path d="M581.0 374.2h1.2v1.2h-1.2z"/><path d="M555.8 358.9h1.2v1.2h-1.2z"/><path d="M572.8 368.6h1.2v1.2h-1.2z"/><path d="M561.4 351.0h1.2v1.2h-1.2z"/><path d="M575.9 345.0h1.2v1.2h-1.2z"/><path d="M579.7 363.3h1.2v1.2h-1.2z"/><path d="M570.5 345.0h1.2v1.2h-1.2z"/><path d="M563.1 372.3h1.2v1.2h-1.2z"/><path d="M556.0 390.9h1.2v1.2h-1.2z"/><path d="M556.5 346.5h1.2v1.2h-1.2z"/><path d="M568.4 369.5h1.2v1.2h-1.2z"/><path d="M574.0 358.0h1.2v1.2h-1.2z"/><path d="M566.3 359.8h1.2v1.2h-1.2z"/><path d="M563.3 328.3h1.2v1.2h-1.2z"/><path d="M575.9 366.4h1.2v1.2h-1.2z"/><path d="M569.3 354.5h1.2v1.2h-1.2z"/><path d="M570.1 362.8h1.2v1.2h-1.2z"/><path d="M567.4 377.9h1.2v1.2h-1.2z"/><path d="M553.9 366.4h1.2v1.2h-1.2z"/><path d="M559.3 358.7h1.2v1.2h-1.2z"/><path d="M580.2 348.4h1.2v1.2h-1.2z"/><path d="M567.2 355.0h1.2v1.2h-1.2z"/><path d="M575.8 349.8h1.2v1.2h-1.2z"/><path d="M554.3 369.9h1.2v1.2h-1.2z"/><path d="M565.1 358.7h1.2v1.2h-1.2z"/><path d="M576.8 351.1h1.2v1.2h-1.2z"/><path d="M565.0 365.0h1.2v1.2h-1.2z"/><path d="M571.4 356.1h1.2v1.2h-1.2z"/><path d="M576.4 393.1h1.2v1.2h-1.2z"/><path d="M564.7 388.1h1.2v1.2h-1.2z"/><path d="M579.5 358.4h1.2v1.2h-1.2z"/><path d="M569.1 358.4h1.2v1.2h-1.2z"/><path d="M562.8 345.8h1.2v1.2h-1.2z"/><path d="M564.8 380.4h1.2v1.2h-1.2z"/><path d="M577.3 358.3h1.2v1.2h-1.2z"/><path d="M563.7 353.6h1.2v1.2h-1.2z"/><path d="M558.2 387.2h1.2v1.2h-1.2z"/><path d="M573.4 364.6h1.2v1.2h-1.2z"/><path d="M564.0 349.3h1.2v1.2h-1.2z"/><path d="M578.7 373.5h1.2v1.2h-1.2z"/><path d="M560.2 376.3h1.2v1.2h-1.2z"/><path d="M559.0 371.6h1.2v1.2h-1.2z"/><path d="M560.2 357.4h1.2v1.2h-1.2z"/><path d="M572.0 368.8h1.2v1.2h-1.2z"/><path d="M576.3 351.8h1.2v1.2h-1.2z"/><path d="M580.9 381.1h1.2v1.2h-1.2z"/><path d="M567.9 369.3h1.2v1.2h-1.2z"/><path d="M561.7 361.0h1.2v1.2h-1.2z"/><path d="M557.2 364.2h1.2v1.2h-1.2z"/><path d="M569.6 381.1h1.2v1.2h-1.2z"/><path d="M575.7 374.0h1.2v1.2h-1.2z"/><path d="M565.0 360.0h1.2v1.2h-1.2z"/><path d="M565.2 366.0h1.2v1.2h-1.2z"/><path d="M552.2 373.4h1.2v1.2h-1.2z"/><path d="M555.2 356.1h1.2v1.2h-1.2z"/><path d="M568.2 356.1h1.2v1.2h-1.2z"/><path d="M581.6 361.7h1.2v1.2h-1.2z"/><path d="M580.8 378.8h1.2v1.2h-1.2z"/><path d="M563.9 368.4h1.2v1.2h-1.2z"/><path d="M578.6 358.5h1.2v1.2h-1.2z"/><path d="M568.7 355.5h1.2v1.2h-1.2z"/><path d="M568.5 358.2h1.2v1.2h-1.2z"/><path d="M568.7 376.5h1.2v1.2h-1.2z"/><path d="M579.4 364.8h1.2v1.2h-1.2z"/><path d="M569.6 374.5h1.2v1.2h-1.2z"/><path d="M565.6 348.8h1.2v1.2h-1.2z"/><path d="M577.1 350.4h1.2v1.2h-1.2z"/><path d="M575.6 350.0h1.2v1.2h-1.2z"/><path d="M582.9 349.0h1.2v1.2h-1.2z"/><path d="M574.9 383.2h1.2v1.2h-1.2z"/><path d="M560.2 383.0h1.2v1.2h-1.2z"/><path d="M561.3 339.3h1.2v1.2h-1.2z"/><path d="M573.9 372.4h1.2v1.2h-1.2z"/><path d="M566.3 329.1h1.2v1.2h-1.2z"/><path d="M567.6 358.9h1.2v1.2h-1.2z"/><path d="M564.9 359.1h1.2v1.2h-1.2z"/><path d="M553.4 355.4h1.2v1.2h-1.2z"/><path d="M582.7 383.8h1.2v1.2h-1.2z"/><path d="M565.0 353.4h1.2v1.2h-1.2z"/><path d="M571.2 377.3h1.2v1.2h-1.2z"/><path d="M573.9 347.3h1.2v1.2h-1.2z"/><path d="M569.3 364.9h1.2v1.2h-1.2z"/><path d="M579.7 379.1h1.2v1.2h-1.2z"/><path d="M572.3 379.3h1.2v1.2h-1.2z"/><path d="M564.8 383.7h1.2v1.2h-1.2z"/><path d="M564.5 368.3h1.2v1.2h-1.2z"/><path d="M575.5 350.7h1.2v1.2h-1.2z"/><path d="M562.3 339.4h1.2v1.2h-1.2z"/><path d="M569.3 362.3h1.2v1.2h-1.2z"/><path d="M565.3 369.7h1.2v1.2h-1.2z"/><path d="M567.8 364.2h1.2v1.2h-1.2z"/><path d="M565.8 373.7h1.2v1.2h-1.2z"/><path d="M582.3 357.0h1.2v1.2h-1.2z"/><path d="M560.3 354.9h1.2v1.2h-1.2z"/><path d="M568.8 370.9h1.2v1.2h-1.2z"/><path d="M561.0 376.4h1.2v1.2h-1.2z"/><path d="M559.6 374.1h1.2v1.2h-1.2z"/><path d="M571.5 369.2h1.2v1.2h-1.2z"/><path d="M585.6 359.5h1.2v1.2h-1.2z"/><path d="M566.6 369.4h1.2v1.2h-1.2z"/><path d="M575.0 345.0h1.2v1.2h-1.2z"/><path d="M570.2 353.0h1.2v1.2h-1.2z"/><path d="M573.1 381.4h1.2v1.2h-1.2z"/><path d="M568.4 361.6h1.2v1.2h-1.2z"/><path d="M569.5 323.3h1.2v1.2h-1.2z"/><path d="M574.3 370.5h1.2v1.2h-1.2z"/><path d="M569.3 357.7h1.2v1.2h-1.2z"/><path d="M562.0 360.6h1.2v1.2h-1.2z"/><path d="M577.9 361.6h1.2v1.2h-1.2z"/><path d="M579.0 328.4h1.2v1.2h-1.2z"/><path d="M564.2 366.7h1.2v1.2h-1.2z"/><path d="M567.9 340.7h1.2v1.2h-1.2z"/><path d="M562.6 379.8h1.2v1.2h-1.2z"/><path d="M557.5 349.7h1.2v1.2h-1.2z"/><path d="M559.0 355.6h1.2v1.2h-1.2z"/><path d="M573.2 371.0h1.2v1.2h-1.2z"/><path d="M551.4 382.6h1.2v1.2h-1.2z"/><path d="M563.2 355.1h1.2v1.2h-1.2z"/><path d="M581.6 361.9h1.2v1.2h-1.2z"/><path d="M557.9 354.4h1.2v1.2h-1.2z"/><path d="M562.1 349.4h1.2v1.2h-1.2z"/><path d="M565.3 374.8h1.2v1.2h-1.2z"/><path d="M570.9 344.4h1.2v1.2h-1.2z"/><path d="M590.7 349.7h1.2v1.2h-1.2z"/><path d="M568.9 363.4h1.2v1.2h-1.2z"/><path d="M574.2 358.6h1.2v1.2h-1.2z"/><path d="M571.7 391.3h1.2v1.2h-1.2z"/><path d="M568.8 348.5h1.2v1.2h-1.2z"/><path d="M570.7 352.2h1.2v1.2h-1.2z"/><path d="M565.0 365.5h1.2v1.2h-1.2z"/><path d="M570.7 359.2h1.2v1.2h-1.2z"/><path d="M574.9 360.4h1.2v1.2h-1.2z"/><path d="M557.4 374.8h1.2v1.2h-1.2z"/><path d="M565.0 379.3h1.2v1.2h-1.2z"/><path d="M562.7 370.7h1.2v1.2h-1.2z"/><path d="M570.6 326.8h1.2v1.2h-1.2z"/><path d="M555.8 348.0h1.2v1.2h-1.2z"/><path d="M579.5 337.6h1.2v1.2h-1.2z"/><path d="M575.5 377.7h1.2v1.2h-1.2z"/><path d="M572.0 372.1h1.2v1.2h-1.2z"/><path d="M564.0 362.9h1.2v1.2h-1.2z"/><path d="M569.8 368.7h1.2v1.2h-1.2z"/><path d="M573.8 360.2h1.2v1.2h-1.2z"/><path d="M562.3 355.4h1.2v1.2h-1.2z"/><path d="M571.4 340.7h1.2v1.2h-1.2z"/><path d="M557.8 357.5h1.2v1.2h-1.2z"/><path d="M563.5 359.4h1.2v1.2h-1.2z"/><path d="M565.2 359.6h1.2v1.2h-1.2z"/><path d="M574.3 336.4h1.2v1.2h-1.2z"/><path d="M565.5 369.4h1.2v1.2h-1.2z"/><path d="M572.0 379.1h1.2v1.2h-1.2z"/><path d="M576.6 348.9h1.2v1.2h-1.2z"/><path d="M573.2 358.5h1.2v1.2h-1.2z"/><path d="M561.4 383.6h1.2v1.2h-1.2z"/><path d="M562.9 351.5h1.2v1.2h-1.2z"/><path d="M564.7 351.5h1.2v1.2h-1.2z"/><path d="M576.2 368.1h1.2v1.2h-1.2z"/><path d="M579.4 368.5h1.2v1.2h-1.2z"/><path d="M563.0 377.1h1.2v1.2h-1.2z"/><path d="M562.6 356.8h1.2v1.2h-1.2z"/><path d="M566.6 363.5h1.2v1.2h-1.2z"/><path d="M577.8 354.8h1.2v1.2h-1.2z"/><path d="M570.9 362.6h1.2v1.2h-1.2z"/><path d="M557.7 348.3h1.2v1.2h-1.2z"/><path d="M566.2 368.4h1.2v1.2h-1.2z"/><path d="M570.6 369.5h1.2v1.2h-1.2z"/><path d="M568.4 357.0h1.2v1.2h-1.2z"/><path d="M571.5 349.5h1.2v1.2h-1.2z"/><path d="M557.0 358.5h1.2v1.2h-1.2z"/><path d="M556.3 356.1h1.2v1.2h-1.2z"/><path d="M561.9 355.5h1.2v1.2h-1.2z"/><path d="M567.6 352.2h1.2v1.2h-1.2z"/><path d="M564.5 339.9h1.2v1.2h-1.2z"/><path d="M569.2 351.1h1.2v1.2h-1.2z"/><path d="M571.3 324.8h1.2v1.2h-1.2z"/><path d="M561.4 366.3h1.2v1.2h-1.2z"/><path d="M565.0 364.3h1.2v1.2h-1.2z"/><path d="M568.8 342.8h1.2v1.2h-1.2z"/><path d="M569.9 365.0h1.2v1.2h-1.2z"/><path d="M560.0 373.1h1.2v1.2h-1.2z"/><path d="M567.6 363.3h1.2v1.2h-1.2z"/><path d="M564.3 370.4h1.2v1.2h-1.2z"/><path d="M568.8 378.4h1.2v1.2h-1.2z"/><path d="M571.7 354.7h1.2v1.2h-1.2z"/><path d="M566.2 375.4h1.2v1.2h-1.2z"/><path d="M565.0 368.2h1.2v1.2h-1.2z"/><path d="M572.3 360.6h1.2v1.2h-1.2z"/><path d="M569.1 365.9h1.2v1.2h-1.2z"/><path d="M569.1 352.7h1.2v1.2h-1.2z"/><path d="M577.9 361.2h1.2v1.2h-1.2z"/><path d="M562.9 353.3h1.2v1.2h-1.2z"/><path d="M570.9 348.2h1.2v1.2h-1.2z"/><path d="M559.8 390.1h1.2v1.2h-1.2z"/><path d="M578.8 377.3h1.2v1.2h-1.2z"/><path d="M579.2 371.1h1.2v1.2h-1.2z"/><path d="M554.1 379.2h1.2v1.2h-1.2z"/><path d="M578.2 369.6h1.2v1.2h-1.2z"/><path d="M551.9 379.8h1.2v1.2h-1.2z"/><path d="M579.2 356.3h1.2v1.2h-1.2z"/><path d="M569.0 373.5h1.2v1.2h-1.2z"/><path d="M567.3 377.9h1.2v1.2h-1.2z"/><path d="M568.7 372.4h1.2v1.2h-1.2z"/><path d="M568.7 342.9h1.2v1.2h-1.2z"/><path d="M559.8 366.8h1.2v1.2h-1.2z"/><path d="M578.8 378.4h1.2v1.2h-1.2z"/><path d="M582.1 370.5h1.2v1.2h-1.2z"/><path d="M563.1 363.3h1.2v1.2h-1.2z"/><path d="M552.2 360.4h1.2v1.2h-1.2z"/><path d="M575.5 333.6h1.2v1.2h-1.2z"/><path d="M569.6 374.2h1.2v1.2h-1.2z"/><path d="M578.9 350.4h1.2v1.2h-1.2z"/><path d="M562.6 337.5h1.2v1.2h-1.2z"/><path d="M559.6 370.3h1.2v1.2h-1.2z"/><path d="M585.1 347.4h1.2v1.2h-1.2z"/><path d="M579.4 368.8h1.2v1.2h-1.2z"/><path d="M563.9 392.8h1.2v1.2h-1.2z"/><path d="M567.4 366.0h1.2v1.2h-1.2z"/><path d="M585.6 387.4h1.2v1.2h-1.2z"/><path d="M586.7 364.8h1.2v1.2h-1.2z"/><path d="M576.1 381.6h1.2v1.2h-1.2z"/><path d="M572.2 367.9h1.2v1.2h-1.2z"/><path d="M566.5 357.4h1.2v1.2h-1.2z"/><path d="M557.8 389.5h1.2v1.2h-1.2z"/><path d="M564.3 334.7h1.2v1.2h-1.2z"/><path d="M570.2 362.5h1.2v1.2h-1.2z"/><path d="M569.5 387.7h1.2v1.2h-1.2z"/><path d="M567.1 359.4h1.2v1.2h-1.2z"/><path d="M561.8 362.7h1.2v1.2h-1.2z"/><path d="M564.4 365.8h1.2v1.2h-1.2z"/><path d="M593.8 368.4h1.2v1.2h-1.2z"/><path d="M560.9 389.3h1.2v1.2h-1.2z"/><path d="M575.1 374.1h1.2v1.2h-1.2z"/><path d="M573.9 374.2h1.2v1.2h-1.2z"/><path d="M573.6 382.2h1.2v1.2h-1.2z"/><path d="M576.3 381.4h1.2v1.2h-1.2z"/><path d="M563.8 363.0h1.2v1.2h-1.2z"/><path d="M562.0 376.0h1.2v1.2h-1.2z"/><path d="M574.9 356.7h1.2v1.2h-1.2z"/><path d="M572.8 398.8h1.2v1.2h-1.2z"/><path d="M578.2 347.8h1.2v1.2h-1.2z"/><path d="M567.2 371.7h1.2v1.2h-1.2z"/><path d="M567.7 368.3h1.2v1.2h-1.2z"/><path d="M577.8 367.5h1.2v1.2h-1.2z"/><path d="M558.9 372.7h1.2v1.2h-1.2z"/><path d="M567.2 364.6h1.2v1.2h-1.2z"/><path d="M563.3 344.1h1.2v1.2h-1.2z"/><path d="M557.7 358.2h1.2v1.2h-1.2z"/><path d="M559.1 326.0h1.2v1.2h-1.2z"/><path d="M577.5 347.2h1.2v1.2h-1.2z"/><path d="M562.0 370.2h1.2v1.2h-1.2z"/><path d="M579.1 352.5h1.2v1.2h-1.2z"/><path d="M573.5 356.4h1.2v1.2h-1.2z"/><path d="M570.5 364.4h1.2v1.2h-1.2z"/><path d="M568.0 338.1h1.2v1.2h-1.2z"/><path d="M555.8 362.4h1.2v1.2h-1.2z"/><path d="M579.7 355.6h1.2v1.2h-1.2z"/><path d="M572.4 365.2h1.2v1.2h-1.2z"/><path d="M572.0 376.5h1.2v1.2h-1.2z"/><path d="M555.6 366.7h1.2v1.2h-1.2z"/><path d="M566.5 358.7h1.2v1.2h-1.2z"/><path d="M560.9 352.3h1.2v1.2h-1.2z"/><path d="M559.5 348.0h1.2v1.2h-1.2z"/><path d="M588.8 386.2h1.2v1.2h-1.2z"/><path d="M568.1 373.1h1.2v1.2h-1.2z"/><path d="M559.9 325.1h1.2v1.2h-1.2z"/><path d="M552.9 364.9h1.2v1.2h-1.2z"/><path d="M579.9 362.4h1.2v1.2h-1.2z"/><path d="M559.7 359.7h1.2v1.2h-1.2z"/><path d="M559.7 344.0h1.2v1.2h-1.2z"/><path d="M566.1 357.5h1.2v1.2h-1.2z"/><path d="M561.3 350.9h1.2v1.2h-1.2z"/><path d="M560.3 366.2h1.2v1.2h-1.2z"/><path d="M579.5 360.1h1.2v1.2h-1.2z"/><path d="M586.5 340.9h1.2v1.2h-1.2z"/><path d="M570.3 347.2h1.2v1.2h-1.2z"/><path d="M566.7 364.4h1.2v1.2h-1.2z"/><path d="M572.6 378.4h1.2v1.2h-1.2z"/><path d="M563.4 346.1h1.2v1.2h-1.2z"/><path d="M566.4 367.0h1.2v1.2h-1.2z"/><path d="M562.2 375.2h1.2v1.2h-1.2z"/><path d="M581.9 343.6h1.2v1.2h-1.2z"/><path d="M571.0 376.9h1.2v1.2h-1.2z"/><path d="M552.1 365.8h1.2v1.2h-1.2z"/><path d="M566.1 343.6h1.2v1.2h-1.2z"/><path d="M578.9 366.0h1.2v1.2h-1.2z"/><path d="M564.0 369.1h1.2v1.2h-1.2z"/><path d="M573.3 373.5h1.2v1.2h-1.2z"/><path d="M572.8 368.6h1.2v1.2h-1.2z"/><path d="M558.3 357.3h1.2v1.2h-1.2z"/><path d="M569.1 325.2h1.2v1.2h-1.2z"/><path d="M585.7 357.8h1.2v1.2h-1.2z"/><path d="M559.3 338.2h1.2v1.2h-1.2z"/><path d="M570.1 363.4h1.2v1.2h-1.2z"/><path d="M563.2 357.3h1.2v1.2h-1.2z"/><path d="M560.6 352.8h1.2v1.2h-1.2z"/><path d="M567.2 354.2h1.2v1.2h-1.2z"/><path d="M573.6 361.1h1.2v1.2h-1.2z"/><path d="M569.1 368.5h1.2v1.2h-1.2z"/><path d="M578.5 371.2h1.2v1.2h-1.2z"/><path d="M569.9 360.8h1.2v1.2h-1.2z"/><path d="M561.3 358.3h1.2v1.2h-1.2z"/><path d="M573.7 366.1h1.2v1.2h-1.2z"/><path d="M564.8 344.8h1.2v1.2h-1.2z"/><path d="M555.3 367.4h1.2v1.2h-1.2z"/><path d="M576.5 368.1h1.2v1.2h-1.2z"/><path d="M556.6 360.1h1.2v1.2h-1.2z"/><path d="M569.8 350.5h1.2v1.2h-1.2z"/><path d="M570.9 360.3h1.2v1.2h-1.2z"/><path d="M561.1 346.1h1.2v1.2h-1.2z"/><path d="M574.7 367.9h1.2v1.2h-1.2z"/><path d="M560.6 349.2h1.2v1.2h-1.2z"/><path d="M575.4 371.1h1.2v1.2h-1.2z"/><path d="M565.5 384.7h1.2v1.2h-1.2z"/><path d="M565.6 348.6h1.2v1.2h-1.2z"/><path d="M577.0 360.4h1.2v1.2h-1.2z"/><path d="M570.9 363.5h1.2v1.2h-1.2z"/><path d="M559.7 346.8h1.2v1.2h-1.2z"/><path d="M566.4 382.2h1.2v1.2h-1.2z"/><path d="M559.7 381.5h1.2v1.2h-1.2z"/><path d="M569.8 347.8h1.2v1.2h-1.2z"/><path d="M570.2 370.7h1.2v1.2h-1.2z"/><path d="M560.6 334.0h1.2v1.2h-1.2z"/><path d="M571.0 347.9h1.2v1.2h-1.2z"/><path d="M571.6 336.9h1.2v1.2h-1.2z"/><path d="M566.8 352.0h1.2v1.2h-1.2z"/><path d="M555.8 359.7h1.2v1.2h-1.2z"/><path d="M569.4 355.4h1.2v1.2h-1.2z"/><path d="M558.2 365.9h1.2v1.2h-1.2z"/><path d="M553.5 370.3h1.2v1.2h-1.2z"/><path d="M572.1 385.8h1.2v1.2h-1.2z"/><path d="M575.3 367.8h1.2v1.2h-1.2z"/><path d="M570.2 363.4h1.2v1.2h-1.2z"/><path d="M557.0 382.9h1.2v1.2h-1.2z"/><path d="M572.4 359.1h1.2v1.2h-1.2z"/><path d="M558.5 383.2h1.2v1.2h-1.2z"/><path d="M572.4 346.9h1.2v1.2h-1.2z"/><path d="M573.6 388.8h1.2v1.2h-1.2z"/><path d="M567.8 368.4h1.2v1.2h-1.2z"/><path d="M564.6 354.4h1.2v1.2h-1.2z"/><path d="M576.9 364.6h1.2v1.2h-1.2z"/><path d="M567.0 373.8h1.2v1.2h-1.2z"/><path d="M565.5 372.9h1.2v1.2h-1.2z"/><path d="M574.8 349.2h1.2v1.2h-1.2z"/><path d="M559.1 362.0h1.2v1.2h-1.2z"/><path d="M574.9 366.8h1.2v1.2h-1.2z"/><path d="M578.2 344.3h1.2v1.2h-1.2z"/><path d="M572.1 354.5h1.2v1.2h-1.2z"/><path d="M568.8 367.4h1.2v1.2h-1.2z"/><path d="M560.0 359.9h1.2v1.2h-1.2z"/><path d="M558.4 366.6h1.2v1.2h-1.2z"/><path d="M561.0 356.3h1.2v1.2h-1.2z"/><path d="M569.8 354.1h1.2v1.2h-1.2z"/><path d="M577.5 354.3h1.2v1.2h-1.2z"/><path d="M575.0 366.8h1.2v1.2h-1.2z"/><path d="M559.5 360.0h1.2v1.2h-1.2z"/><path d="M561.1 358.1h1.2v1.2h-1.2z"/><path d="M565.8 387.7h1.2v1.2h-1.2z"/><path d="M564.5 384.3h1.2v1.2h-1.2z"/><path d="M571.7 345.3h1.2v1.2h-1.2z"/><path d="M573.6 336.0h1.2v1.2h-1.2z"/><path d="M573.9 377.0h1.2v1.2h-1.2z"/><path d="M571.2 360.2h1.2v1.2h-1.2z"/><path d="M565.9 366.5h1.2v1.2h-1.2z"/><path d="M565.5 355.7h1.2v1.2h-1.2z"/><path d="M565.0 378.9h1.2v1.2h-1.2z"/><path d="M562.9 368.1h1.2v1.2h-1.2z"/><path d="M558.5 353.3h1.2v1.2h-1.2z"/><path d="M556.7 360.3h1.2v1.2h-1.2z"/><path d="M573.6 367.1h1.2v1.2h-1.2z"/><path d="M563.9 371.3h1.2v1.2h-1.2z"/><path d="M565.1 368.0h1.2v1.2h-1.2z"/><path d="M570.3 370.3h1.2v1.2h-1.2z"/><path d="M557.3 373.5h1.2v1.2h-1.2z"/><path d="M567.1 393.4h1.2v1.2h-1.2z"/><path d="M566.1 355.5h1.2v1.2h-1.2z"/><path d="M580.3 370.5h1.2v1.2h-1.2z"/><path d="M583.6 369.9h1.2v1.2h-1.2z"/><path d="M566.3 372.8h1.2v1.2h-1.2z"/><path d="M561.5 357.0h1.2v1.2h-1.2z"/><path d="M563.4 360.0h1.2v1.2h-1.2z"/><path d="M574.4 356.5h1.2v1.2h-1.2z"/><path d="M570.6 356.3h1.2v1.2h-1.2z"/><path d="M575.3 325.7h1.2v1.2h-1.2z"/><path d="M566.3 365.3h1.2v1.2h-1.2z"/><path d="M559.1 376.7h1.2v1.2h-1.2z"/><path d="M569.8 380.3h1.2v1.2h-1.2z"/><path d="M575.9 371.7h1.2v1.2h-1.2z"/><path d="M566.8 348.3h1.2v1.2h-1.2z"/><path d="M566.2 356.8h1.2v1.2h-1.2z"/><path d="M570.1 356.7h1.2v1.2h-1.2z"/><path d="M593.1 341.4h1.2v1.2h-1.2z"/><path d="M577.6 356.6h1.2v1.2h-1.2z"/><path d="M566.0 375.5h1.2v1.2h-1.2z"/><path d="M568.0 346.6h1.2v1.2h-1.2z"/><path d="M571.4 360.4h1.2v1.2h-1.2z"/><path d="M551.1 365.7h1.2v1.2h-1.2z"/><path d="M559.3 352.9h1.2v1.2h-1.2z"/><path d="M572.0 367.1h1.2v1.2h-1.2z"/><path d="M565.6 392.3h1.2v1.2h-1.2z"/><path d="M571.4 354.7h1.2v1.2h-1.2z"/><path d="M569.9 361.4h1.2v1.2h-1.2z"/><path d="M555.1 344.2h1.2v1.2h-1.2z"/><path d="M585.0 360.5h1.2v1.2h-1.2z"/><path d="M565.7 355.4h1.2v1.2h-1.2z"/><path d="M576.1 363.4h1.2v1.2h-1.2z"/><path d="M582.0 373.7h1.2v1.2h-1.2z"/><path d="M581.5 361.4h1.2v1.2h-1.2z"/><path d="M571.1 357.2h1.2v1.2h-1.2z"/><path d="M566.6 339.6h1.2v1.2h-1.2z"/><path d="M563.2 350.2h1.2v1.2h-1.2z"/><path d="M562.7 379.4h1.2v1.2h-1.2z"/><path d="M570.1 379.5h1.2v1.2h-1.2z"/><path d="M575.0 375.4h1.2v1.2h-1.2z"/><path d="M576.2 354.8h1.2v1.2h-1.2z"/><path d="M574.6 358.7h1.2v1.2h-1.2z"/><path d="M563.7 379.1h1.2v1.2h-1.2z"/><path d="M585.7 349.8h1.2v1.2h-1.2z"/><path d="M582.2 374.2h1.2v1.2h-1.2z"/><path d="M561.1 366.7h1.2v1.2h-1.2z"/><path d="M571.0 368.1h1.2v1.2h-1.2z"/><path d="M565.1 345.7h1.2v1.2h-1.2z"/><path d="M568.3 374.6h1.2v1.2h-1.2z"/><path d="M574.4 371.9h1.2v1.2h-1.2z"/><path d="M577.0 349.6h1.2v1.2h-1.2z"/><path d="M567.7 367.6h1.2v1.2h-1.2z"/><path d="M576.2 365.1h1.2v1.2h-1.2z"/><path d="M572.2 364.8h1.2v1.2h-1.2z"/><path d="M585.2 333.5h1.2v1.2h-1.2z"/><path d="M567.8 396.4h1.2v1.2h-1.2z"/><path d="M569.9 338.3h1.2v1.2h-1.2z"/><path d="M569.1 343.7h1.2v1.2h-1.2z"/><path d="M562.4 366.0h1.2v1.2h-1.2z"/><path d="M582.0 369.2h1.2v1.2h-1.2z"/><path d="M573.5 376.7h1.2v1.2h-1.2z"/><path d="M569.6 351.4h1.2v1.2h-1.2z"/><path d="M567.2 367.5h1.2v1.2h-1.2z"/><path d="M565.7 354.0h1.2v1.2h-1.2z"/><path d="M565.1 342.8h1.2v1.2h-1.2z"/><path d="M559.6 361.8h1.2v1.2h-1.2z"/><path d="M565.0 363.5h1.2v1.2h-1.2z"/><path d="M579.5 367.0h1.2v1.2h-1.2z"/><path d="M567.7 347.2h1.2v1.2h-1.2z"/><path d="M559.2 368.1h1.2v1.2h-1.2z"/><path d="M560.9 368.8h1.2v1.2h-1.2z"/><path d="M559.2 364.8h1.2v1.2h-1.2z"/><path d="M567.4 376.4h1.2v1.2h-1.2z"/><path d="M564.8 358.0h1.2v1.2h-1.2z"/><path d="M570.0 363.7h1.2v1.2h-1.2z"/><path d="M581.8 359.5h1.2v1.2h-1.2z"/><path d="M563.6 358.7h1.2v1.2h-1.2z"/><path d="M571.9 366.2h1.2v1.2h-1.2z"/><path d="M573.7 344.4h1.2v1.2h-1.2z"/><path d="M588.3 387.8h1.2v1.2h-1.2z"/><path d="M567.7 346.7h1.2v1.2h-1.2z"/><path d="M569.3 368.6h1.2v1.2h-1.2z"/><path d="M568.1 343.1h1.2v1.2h-1.2z"/><path d="M571.7 381.6h1.2v1.2h-1.2z"/><path d="M576.5 342.7h1.2v1.2h-1.2z"/><path d="M579.3 375.2h1.2v1.2h-1.2z"/><path d="M565.0 369.8h1.2v1.2h-1.2z"/><path d="M580.4 358.5h1.2v1.2h-1.2z"/><path d="M567.9 355.5h1.2v1.2h-1.2z"/><path d="M577.5 334.0h1.2v1.2h-1.2z"/><path d="M579.6 350.0h1.2v1.2h-1.2z"/><path d="M575.6 341.1h1.2v1.2h-1.2z"/><path d="M560.3 354.9h1.2v1.2h-1.2z"/><path d="M574.8 341.2h1.2v1.2h-1.2z"/><path d="M572.9 354.4h1.2v1.2h-1.2z"/><path d="M578.2 358.8h1.2v1.2h-1.2z"/><path d="M572.0 360.7h1.2v1.2h-1.2z"/><path d="M582.7 358.1h1.2v1.2h-1.2z"/><path d="M567.8 389.7h1.2v1.2h-1.2z"/><path d="M568.6 372.2h1.2v1.2h-1.2z"/><path d="M562.0 365.7h1.2v1.2h-1.2z"/><path d="M568.9 354.3h1.2v1.2h-1.2z"/><path d="M555.7 343.9h1.2v1.2h-1.2z"/><path d="M577.3 368.7h1.2v1.2h-1.2z"/><path d="M555.6 387.4h1.2v1.2h-1.2z"/><path d="M562.3 358.0h1.2v1.2h-1.2z"/><path d="M570.0 347.7h1.2v1.2h-1.2z"/><path d="M554.8 353.0h1.2v1.2h-1.2z"/><path d="M577.7 375.8h1.2v1.2h-1.2z"/><path d="M555.1 379.2h1.2v1.2h-1.2z"/><path d="M568.3 369.7h1.2v1.2h-1.2z"/><path d="M568.4 368.6h1.2v1.2h-1.2z"/><path d="M559.8 350.8h1.2v1.2h-1.2z"/><path d="M562.2 358.0h1.2v1.2h-1.2z"/><path d="M573.1 346.6h1.2v1.2h-1.2z"/><path d="M581.0 354.5h1.2v1.2h-1.2z"/><path d="M563.2 372.5h1.2v1.2h-1.2z"/><path d="M571.5 358.4h1.2v1.2h-1.2z"/><path d="M559.2 349.5h1.2v1.2h-1.2z"/><path d="M554.9 378.4h1.2v1.2h-1.2z"/><path d="M576.9 388.2h1.2v1.2h-1.2z"/><path d="M572.1 367.5h1.2v1.2h-1.2z"/><path d="M574.2 375.8h1.2v1.2h-1.2z"/><path d="M565.9 367.7h1.2v1.2h-1.2z"/><path d="M585.6 340.2h1.2v1.2h-1.2z"/><path d="M556.5 350.0h1.2v1.2h-1.2z"/><path d="M574.2 379.0h1.2v1.2h-1.2z"/><path d="M565.2 372.1h1.2v1.2h-1.2z"/><path d="M567.6 367.0h1.2v1.2h-1.2z"/><path d="M563.6 362.6h1.2v1.2h-1.2z"/><path d="M568.0 378.2h1.2v1.2h-1.2z"/><path d="M586.3 338.5h1.2v1.2h-1.2z"/><path d="M572.4 362.9h1.2v1.2h-1.2z"/><path d="M575.9 377.3h1.2v1.2h-1.2z"/><path d="M574.4 373.9h1.2v1.2h-1.2z"/><path d="M560.2 340.0h1.2v1.2h-1.2z"/><path d="M581.7 379.3h1.2v1.2h-1.2z"/><path d="M560.2 380.4h1.2v1.2h-1.2z"/><path d="M573.5 329.9h1.2v1.2h-1.2z"/><path d="M575.4 349.7h1.2v1.2h-1.2z"/><path d="M577.5 353.8h1.2v1.2h-1.2z"/><path d="M561.9 342.2h1.2v1.2h-1.2z"/><path d="M566.2 376.7h1.2v1.2h-1.2z"/><path d="M562.5 337.9h1.2v1.2h-1.2z"/><path d="M585.6 387.9h1.2v1.2h-1.2z"/><path d="M573.7 355.8h1.2v1.2h-1.2z"/><path d="M558.1 340.9h1.2v1.2h-1.2z"/><path d="M572.6 380.5h1.2v1.2h-1.2z"/><path d="M559.3 363.0h1.2v1.2h-1.2z"/><path d="M565.7 359.5h1.2v1.2h-1.2z"/><path d="M572.1 391.2h1.2v1.2h-1.2z"/><path d="M562.8 374.5h1.2v1.2h-1.2z"/><path d="M576.9 359.2h1.2v1.2h-1.2z"/><path d="M566.8 344.9h1.2v1.2h-1.2z"/><path d="M576.8 355.8h1.2v1.2h-1.2z"/><path d="M562.6 363.9h1.2v1.2h-1.2z"/><path d="M561.0 348.9h1.2v1.2h-1.2z"/><path d="M565.6 383.1h1.2v1.2h-1.2z"/><path d="M566.3 370.1h1.2v1.2h-1.2z"/><path d="M556.0 336.7h1.2v1.2h-1.2z"/><path d="M582.9 357.6h1.2v1.2h-1.2z"/><path d="M555.4 361.6h1.2v1.2h-1.2z"/><path d="M573.0 339.7h1.2v1.2h-1.2z"/><path d="M560.8 366.5h1.2v1.2h-1.2z"/><path d="M560.4 373.8h1.2v1.2h-1.2z"/><path d="M575.9 369.0h1.2v1.2h-1.2z"/><path d="M564.5 362.4h1.2v1.2h-1.2z"/><path d="M562.8 361.2h1.2v1.2h-1.2z"/><path d="M570.6 358.9h1.2v1.2h-1.2z"/><path d="M576.0 398.1h1.2v1.2h-1.2z"/><path d="M563.5 367.6h1.2v1.2h-1.2z"/><path d="M574.8 371.7h1.2v1.2h-1.2z"/><path d="M566.0 356.5h1.2v1.2h-1.2z"/><path d="M576.2 371.4h1.2v1.2h-1.2z"/><path d="M572.2 352.1h1.2v1.2h-1.2z"/><path d="M573.2 373.7h1.2v1.2h-1.2z"/><path d="M566.5 371.7h1.2v1.2h-1.2z"/><path d="M585.8 337.6h1.2v1.2h-1.2z"/><path d="M573.0 347.2h1.2v1.2h-1.2z"/><path d="M556.8 359.8h1.2v1.2h-1.2z"/><path d="M572.5 363.7h1.2v1.2h-1.2z"/><path d="M558.4 343.5h1.2v1.2h-1.2z"/><path d="M563.4 363.2h1.2v1.2h-1.2z"/><path d="M561.2 342.7h1.2v1.2h-1.2z"/><path d="M582.4 351.6h1.2v1.2h-1.2z"/><path d="M566.7 355.6h1.2v1.2h-1.2z"/><path d="M563.2 363.5h1.2v1.2h-1.2z"/><path d="M565.6 371.4h1.2v1.2h-1.2z"/><path d="M558.3 342.9h1.2v1.2h-1.2z"/><path d="M584.0 362.0h1.2v1.2h-1.2z"/><path d="M574.3 379.0h1.2v1.2h-1.2z"/><path d="M572.6 363.5h1.2v1.2h-1.2z"/><path d="M555.2 341.3h1.2v1.2h-1.2z"/><path d="M576.0 372.2h1.2v1.2h-1.2z"/><path d="M572.7 340.5h1.2v1.2h-1.2z"/><path d="M559.3 347.0h1.2v1.2h-1.2z"/><path d="M569.3 349.1h1.2v1.2h-1.2z"/><path d="M581.0 354.6h1.2v1.2h-1.2z"/><path d="M563.4 374.7h1.2v1.2h-1.2z"/><path d="M570.7 350.8h1.2v1.2h-1.2z"/><path d="M574.8 389.1h1.2v1.2h-1.2z"/><path d="M557.9 359.6h1.2v1.2h-1.2z"/><path d="M559.1 336.6h1.2v1.2h-1.2z"/><path d="M573.2 372.5h1.2v1.2h-1.2z"/><path d="M576.0 368.8h1.2v1.2h-1.2z"/><path d="M551.4 362.6h1.2v1.2h-1.2z"/><path d="M562.5 347.0h1.2v1.2h-1.2z"/><path d="M558.9 373.4h1.2v1.2h-1.2z"/><path d="M565.6 389.7h1.2v1.2h-1.2z"/><path d="M571.9 337.0h1.2v1.2h-1.2z"/><path d="M575.4 380.0h1.2v1.2h-1.2z"/><path d="M568.3 346.5h1.2v1.2h-1.2z"/><path d="M582.6 345.1h1.2v1.2h-1.2z"/><path d="M567.3 337.1h1.2v1.2h-1.2z"/><path d="M557.6 339.9h1.2v1.2h-1.2z"/><path d="M577.0 379.0h1.2v1.2h-1.2z"/><path d="M564.6 344.5h1.2v1.2h-1.2z"/><path d="M567.5 368.2h1.2v1.2h-1.2z"/><path d="M555.4 347.2h1.2v1.2h-1.2z"/><path d="M567.2 372.6h1.2v1.2h-1.2z"/><path d="M568.6 369.1h1.2v1.2h-1.2z"/><path d="M557.7 329.0h1.2v1.2h-1.2z"/><path d="M570.6 350.5h1.2v1.2h-1.2z"/><path d="M567.0 357.9h1.2v1.2h-1.2z"/><path d="M572.0 352.5h1.2v1.2h-1.2z"/><path d="M580.0 363.4h1.2v1.2h-1.2z"/><path d="M572.4 371.6h1.2v1.2h-1.2z"/><path d="M576.6 368.5h1.2v1.2h-1.2z"/><path d="M553.5 354.4h1.2v1.2h-1.2z"/><path d="M583.4 369.5h1.2v1.2h-1.2z"/><path d="M572.7 369.4h1.2v1.2h-1.2z"/><path d="M562.7 353.7h1.2v1.2h-1.2z"/><path d="M562.6 378.8h1.2v1.2h-1.2z"/><path d="M571.0 387.4h1.2v1.2h-1.2z"/><path d="M572.1 388.9h1.2v1.2h-1.2z"/><path d="M571.8 346.8h1.2v1.2h-1.2z"/><path d="M582.5 367.6h1.2v1.2h-1.2z"/><path d="M577.9 365.9h1.2v1.2h-1.2z"/><path d="M565.3 365.3h1.2v1.2h-1.2z"/><path d="M558.7 346.6h1.2v1.2h-1.2z"/><path d="M560.6 355.8h1.2v1.2h-1.2z"/><path d="M556.7 361.6h1.2v1.2h-1.2z"/><path d="M570.5 390.8h1.2v1.2h-1.2z"/><path d="M583.3 362.3h1.2v1.2h-1.2z"/><path d="M575.4 360.0h1.2v1.2h-1.2z"/><path d="M571.3 362.5h1.2v1.2h-1.2z"/><path d="M563.5 364.0h1.2v1.2h-1.2z"/><path d="M555.7 369.0h1.2v1.2h-1.2z"/><path d="M565.6 348.1h1.2v1.2h-1.2z"/><path d="M565.0 370.6h1.2v1.2h-1.2z"/><path d="M557.3 331.7h1.2v1.2h-1.2z"/><path d="M564.1 308.3h1.2v1.2h-1.2z"/><path d="M555.1 339.6h1.2v1.2h-1.2z"/><path d="M563.8 309.5h1.2v1.2h-1.2z"/><path d="M562.4 325.7h1.2v1.2h-1.2z"/><path d="M553.1 329.4h1.2v1.2h-1.2z"/><path d="M570.0 335.8h1.2v1.2h-1.2z"/><path d="M572.7 326.2h1.2v1.2h-1.2z"/><path d="M559.5 307.4h1.2v1.2h-1.2z"/><path d="M564.4 336.3h1.2v1.2h-1.2z"/><path d="M571.9 338.4h1.2v1.2h-1.2z"/><path d="M559.6 311.4h1.2v1.2h-1.2z"/><path d="M560.6 321.5h1.2v1.2h-1.2z"/><path d="M565.0 315.4h1.2v1.2h-1.2z"/><path d="M565.7 341.0h1.2v1.2h-1.2z"/><path d="M564.3 338.3h1.2v1.2h-1.2z"/><path d="M553.8 304.8h1.2v1.2h-1.2z"/><path d="M563.0 319.2h1.2v1.2h-1.2z"/><path d="M563.1 335.7h1.2v1.2h-1.2z"/><path d="M566.4 310.6h1.2v1.2h-1.2z"/><path d="M564.0 308.7h1.2v1.2h-1.2z"/><path d="M555.8 301.6h1.2v1.2h-1.2z"/><path d="M562.5 334.7h1.2v1.2h-1.2z"/><path d="M562.9 317.9h1.2v1.2h-1.2z"/><path d="M558.5 337.8h1.2v1.2h-1.2z"/><path d="M565.1 294.3h1.2v1.2h-1.2z"/><path d="M562.6 328.9h1.2v1.2h-1.2z"/><path d="M566.8 339.1h1.2v1.2h-1.2z"/><path d="M560.4 320.5h1.2v1.2h-1.2z"/><path d="M565.0 302.9h1.2v1.2h-1.2z"/><path d="M561.6 339.4h1.2v1.2h-1.2z"/><path d="M562.6 313.6h1.2v1.2h-1.2z"/><path d="M560.5 339.9h1.2v1.2h-1.2z"/><path d="M565.7 308.2h1.2v1.2h-1.2z"/><path d="M559.4 340.5h1.2v1.2h-1.2z"/><path d="M566.2 324.5h1.2v1.2h-1.2z"/><path d="M565.4 333.6h1.2v1.2h-1.2z"/><path d="M552.9 309.7h1.2v1.2h-1.2z"/><path d="M553.2 338.9h1.2v1.2h-1.2z"/><path d="M562.1 326.2h1.2v1.2h-1.2z"/><path d="M565.5 329.9h1.2v1.2h-1.2z"/><path d="M566.8 324.1h1.2v1.2h-1.2z"/><path d="M563.6 331.5h1.2v1.2h-1.2z"/><path d="M554.0 334.1h1.2v1.2h-1.2z"/><path d="M555.4 315.9h1.2v1.2h-1.2z"/><path d="M559.1 339.0h1.2v1.2h-1.2z"/><path d="M560.7 334.8h1.2v1.2h-1.2z"/><path d="M555.5 337.9h1.2v1.2h-1.2z"/><path d="M556.9 311.2h1.2v1.2h-1.2z"/><path d="M561.5 310.2h1.2v1.2h-1.2z"/><path d="M558.8 318.8h1.2v1.2h-1.2z"/><path d="M568.6 304.5h1.2v1.2h-1.2z"/><path d="M559.4 337.4h1.2v1.2h-1.2z"/><path d="M562.2 277.4h1.2v1.2h-1.2z"/><path d="M561.7 320.2h1.2v1.2h-1.2z"/><path d="M563.4 302.2h1.2v1.2h-1.2z"/><path d="M555.0 315.0h1.2v1.2h-1.2z"/><path d="M563.4 339.7h1.2v1.2h-1.2z"/><path d="M570.8 336.1h1.2v1.2h-1.2z"/><path d="M562.7 340.4h1.2v1.2h-1.2z"/><path d="M561.8 291.3h1.2v1.2h-1.2z"/><path d="M562.6 309.8h1.2v1.2h-1.2z"/><path d="M568.1 328.7h1.2v1.2h-1.2z"/><path d="M564.8 333.7h1.2v1.2h-1.2z"/><path d="M561.6 338.5h1.2v1.2h-1.2z"/><path d="M561.1 331.7h1.2v1.2h-1.2z"/><path d="M569.5 336.2h1.2v1.2h-1.2z"/><path d="M564.9 305.2h1.2v1.2h-1.2z"/><path d="M564.4 319.5h1.2v1.2h-1.2z"/><path d="M568.6 318.1h1.2v1.2h-1.2z"/><path d="M570.4 310.7h1.2v1.2h-1.2z"/><path d="M571.7 341.4h1.2v1.2h-1.2z"/><path d="M551.4 328.0h1.2v1.2h-1.2z"/><path d="M553.4 341.5h1.2v1.2h-1.2z"/><path d="M552.8 319.9h1.2v1.2h-1.2z"/><path d="M562.6 338.6h1.2v1.2h-1.2z"/><path d="M556.6 336.9h1.2v1.2h-1.2z"/><path d="M560.5 340.4h1.2v1.2h-1.2z"/><path d="M561.0 337.1h1.2v1.2h-1.2z"/><path d="M565.8 306.7h1.2v1.2h-1.2z"/><path d="M558.3 339.1h1.2v1.2h-1.2z"/><path d="M558.8 329.9h1.2v1.2h-1.2z"/><path d="M558.6 337.4h1.2v1.2h-1.2z"/><path d="M567.8 337.9h1.2v1.2h-1.2z"/><path d="M559.5 334.2h1.2v1.2h-1.2z"/><path d="M559.7 299.5h1.2v1.2h-1.2z"/><path d="M562.5 333.7h1.2v1.2h-1.2z"/><path d="M557.9 328.2h1.2v1.2h-1.2z"/><path d="M561.2 329.6h1.2v1.2h-1.2z"/><path d="M551.5 341.7h1.2v1.2h-1.2z"/><path d="M560.4 332.4h1.2v1.2h-1.2z"/><path d="M562.2 331.5h1.2v1.2h-1.2z"/><path d="M554.0 317.9h1.2v1.2h-1.2z"/><path d="M560.2 316.7h1.2v1.2h-1.2z"/><path d="M565.2 312.8h1.2v1.2h-1.2z"/><path d="M551.2 337.7h1.2v1.2h-1.2z"/><path d="M551.2 306.2h1.2v1.2h-1.2z"/><path d="M555.5 340.9h1.2v1.2h-1.2z"/><path d="M559.7 324.0h1.2v1.2h-1.2z"/><path d="M551.3 301.1h1.2v1.2h-1.2z"/><path d="M565.8 319.5h1.2v1.2h-1.2z"/><path d="M572.9 309.8h1.2v1.2h-1.2z"/><path d="M564.1 341.7h1.2v1.2h-1.2z"/><path d="M565.6 330.7h1.2v1.2h-1.2z"/><path d="M565.0 322.3h1.2v1.2h-1.2z"/><path d="M564.3 310.2h1.2v1.2h-1.2z"/><path d="M560.0 308.0h1.2v1.2h-1.2z"/><path d="M557.1 305.3h1.2v1.2h-1.2z"/><path d="M561.1 324.4h1.2v1.2h-1.2z"/><path d="M561.0 319.3h1.2v1.2h-1.2z"/><path d="M564.9 339.9h1.2v1.2h-1.2z"/><path d="M570.4 309.5h1.2v1.2h-1.2z"/><path d="M556.5 308.8h1.2v1.2h-1.2z"/><path d="M562.8 296.4h1.2v1.2h-1.2z"/><path d="M562.9 315.9h1.2v1.2h-1.2z"/><path d="M569.1 316.8h1.2v1.2h-1.2z"/><path d="M558.0 313.5h1.2v1.2h-1.2z"/><path d="M556.4 321.8h1.2v1.2h-1.2z"/><path d="M564.2 339.2h1.2v1.2h-1.2z"/><path d="M553.2 335.8h1.2v1.2h-1.2z"/><path d="M558.6 274.2h1.2v1.2h-1.2z"/><path d="M569.9 291.0h1.2v1.2h-1.2z"/><path d="M557.3 264.7h1.2v1.2h-1.2z"/><path d="M563.2 289.2h1.2v1.2h-1.2z"/><path d="M566.8 262.4h1.2v1.2h-1.2z"/><path d="M561.4 291.7h1.2v1.2h-1.2z"/><path d="M571.5 267.3h1.2v1.2h-1.2z"/><path d="M553.5 282.7h1.2v1.2h-1.2z"/><path d="M565.5 284.4h1.2v1.2h-1.2z"/><path d="M599.1 364.9h1.2v1.2h-1.2z"/><path d="M598.9 376.8h1.2v1.2h-1.2z"/><path d="M597.5 366.3h1.2v1.2h-1.2z"/><path d="M598.1 364.0h1.2v1.2h-1.2z"/><path d="M592.7 365.0h1.2v1.2h-1.2z"/><path d="M592.3 370.5h1.2v1.2h-1.2z"/><path d="M594.2 378.1h1.2v1.2h-1.2z"/><path d="M599.9 385.3h1.2v1.2h-1.2z"/><path d="M599.5 377.7h1.2v1.2h-1.2z"/><path d="M601.3 342.3h1.2v1.2h-1.2z"/><path d="M599.6 370.3h1.2v1.2h-1.2z"/><path d="M594.6 374.9h1.2v1.2h-1.2z"/><path d="M595.3 382.2h1.2v1.2h-1.2z"/><path d="M602.0 358.6h1.2v1.2h-1.2z"/><path d="M604.0 355.8h1.2v1.2h-1.2z"/><path d="M602.3 397.0h1.2v1.2h-1.2z"/><path d="M606.8 361.6h1.2v1.2h-1.2z"/><path d="M608.5 396.1h1.2v1.2h-1.2z"/><path d="M601.2 377.5h1.2v1.2h-1.2z"/><path d="M610.7 379.8h1.2v1.2h-1.2z"/><path d="M590.5 373.7h1.2v1.2h-1.2z"/><path d="M599.8 383.6h1.2v1.2h-1.2z"/><path d="M611.1 383.6h1.2v1.2h-1.2z"/><path d="M606.4 358.9h1.2v1.2h-1.2z"/><path d="M594.4 376.8h1.2v1.2h-1.2z"/><path d="M602.0 402.0h1.2v1.2h-1.2z"/><path d="M608.8 361.1h1.2v1.2h-1.2z"/><path d="M604.8 366.3h1.2v1.2h-1.2z"/><path d="M597.2 375.9h1.2v1.2h-1.2z"/><path d="M599.4 377.8h1.2v1.2h-1.2z"/><path d="M596.5 385.1h1.2v1.2h-1.2z"/><path d="M597.7 372.9h1.2v1.2h-1.2z"/><path d="M595.8 376.2h1.2v1.2h-1.2z"/><path d="M594.6 364.3h1.2v1.2h-1.2z"/><path d="M604.4 380.9h1.2v1.2h-1.2z"/><path d="M601.9 376.8h1.2v1.2h-1.2z"/><path d="M594.3 359.0h1.2v1.2h-1.2z"/><path d="M606.0 375.3h1.2v1.2h-1.2z"/><path d="M602.9 376.3h1.2v1.2h-1.2z"/><path d="M604.8 362.6h1.2v1.2h-1.2z"/><path d="M605.4 350.2h1.2v1.2h-1.2z"/><path d="M601.1 390.8h1.2v1.2h-1.2z"/><path d="M601.8 378.5h1.2v1.2h-1.2z"/><path d="M595.2 386.7h1.2v1.2h-1.2z"/><path d="M600.2 383.9h1.2v1.2h-1.2z"/><path d="M603.4 372.7h1.2v1.2h-1.2z"/><path d="M596.4 384.1h1.2v1.2h-1.2z"/><path d="M603.6 378.0h1.2v1.2h-1.2z"/><path d="M602.9 368.4h1.2v1.2h-1.2z"/><path d="M600.1 384.3h1.2v1.2h-1.2z"/><path d="M601.4 346.3h1.2v1.2h-1.2z"/><path d="M601.7 369.6h1.2v1.2h-1.2z"/><path d="M598.2 377.4h1.2v1.2h-1.2z"/><path d="M608.8 351.6h1.2v1.2h-1.2z"/><path d="M594.3 397.1h1.2v1.2h-1.2z"/><path d="M596.2 396.2h1.2v1.2h-1.2z"/><path d="M608.2 365.2h1.2v1.2h-1.2z"/><path d="M598.3 385.5h1.2v1.2h-1.2z"/><path d="M609.5 375.2h1.2v1.2h-1.2z"/><path d="M601.4 371.4h1.2v1.2h-1.2z"/><path d="M612.6 355.1h1.2v1.2h-1.2z"/><path d="M601.4 385.8h1.2v1.2h-1.2z"/><path d="M602.0 370.6h1.2v1.2h-1.2z"/><path d="M602.7 368.1h1.2v1.2h-1.2z"/><path d="M594.1 399.2h1.2v1.2h-1.2z"/><path d="M610.8 366.5h1.2v1.2h-1.2z"/><path d="M599.4 391.4h1.2v1.2h-1.2z"/><path d="M599.6 371.3h1.2v1.2h-1.2z"/><path d="M598.9 354.6h1.2v1.2h-1.2z"/><path d="M600.8 365.5h1.2v1.2h-1.2z"/><path d="M598.0 357.6h1.2v1.2h-1.2z"/><path d="M599.1 370.1h1.2v1.2h-1.2z"/><path d="M596.3 383.6h1.2v1.2h-1.2z"/><path d="M585.3 372.6h1.2v1.2h-1.2z"/><path d="M587.2 356.5h1.2v1.2h-1.2z"/><path d="M608.6 377.6h1.2v1.2h-1.2z"/><path d="M602.9 352.9h1.2v1.2h-1.2z"/><path d="M591.5 381.3h1.2v1.2h-1.2z"/><path d="M601.1 386.6h1.2v1.2h-1.2z"/><path d="M600.4 379.0h1.2v1.2h-1.2z"/><path d="M602.0 373.9h1.2v1.2h-1.2z"/><path d="M591.1 385.3h1.2v1.2h-1.2z"/><path d="M596.7 373.2h1.2v1.2h-1.2z"/><path d="M598.1 382.3h1.2v1.2h-1.2z"/><path d="M597.6 359.8h1.2v1.2h-1.2z"/><path d="M600.0 387.2h1.2v1.2h-1.2z"/><path d="M596.8 390.7h1.2v1.2h-1.2z"/><path d="M598.6 378.8h1.2v1.2h-1.2z"/><path d="M610.1 388.1h1.2v1.2h-1.2z"/><path d="M594.9 376.3h1.2v1.2h-1.2z"/><path d="M604.1 371.4h1.2v1.2h-1.2z"/><path d="M594.4 380.1h1.2v1.2h-1.2z"/><path d="M598.4 371.7h1.2v1.2h-1.2z"/><path d="M596.5 379.1h1.2v1.2h-1.2z"/><path d="M599.1 373.8h1.2v1.2h-1.2z"/><path d="M595.4 368.2h1.2v1.2h-1.2z"/><path d="M591.6 378.4h1.2v1.2h-1.2z"/><path d="M598.2 367.7h1.2v1.2h-1.2z"/><path d="M599.2 380.1h1.2v1.2h-1.2z"/><path d="M602.3 372.3h1.2v1.2h-1.2z"/><path d="M603.8 385.1h1.2v1.2h-1.2z"/><path d="M588.1 361.7h1.2v1.2h-1.2z"/><path d="M603.1 377.1h1.2v1.2h-1.2z"/><path d="M602.9 387.8h1.2v1.2h-1.2z"/><path d="M593.1 377.6h1.2v1.2h-1.2z"/><path d="M605.7 362.6h1.2v1.2h-1.2z"/><path d="M608.6 350.8h1.2v1.2h-1.2z"/><path d="M597.3 402.4h1.2v1.2h-1.2z"/><path d="M597.4 376.1h1.2v1.2h-1.2z"/><path d="M601.4 371.1h1.2v1.2h-1.2z"/><path d="M603.9 375.1h1.2v1.2h-1.2z"/><path d="M595.2 382.6h1.2v1.2h-1.2z"/><path d="M594.4 351.1h1.2v1.2h-1.2z"/><path d="M596.9 380.1h1.2v1.2h-1.2z"/><path d="M590.8 368.0h1.2v1.2h-1.2z"/><path d="M598.8 374.7h1.2v1.2h-1.2z"/><path d="M607.8 355.5h1.2v1.2h-1.2z"/><path d="M593.4 398.7h1.2v1.2h-1.2z"/><path d="M589.9 375.7h1.2v1.2h-1.2z"/><path d="M601.2 386.5h1.2v1.2h-1.2z"/><path d="M594.3 381.7h1.2v1.2h-1.2z"/><path d="M607.4 373.7h1.2v1.2h-1.2z"/><path d="M603.4 364.2h1.2v1.2h-1.2z"/><path d="M604.4 371.9h1.2v1.2h-1.2z"/><path d="M596.9 373.1h1.2v1.2h-1.2z"/><path d="M590.6 356.4h1.2v1.2h-1.2z"/><path d="M600.6 374.5h1.2v1.2h-1.2z"/><path d="M598.2 356.2h1.2v1.2h-1.2z"/><path d="M600.4 369.6h1.2v1.2h-1.2z"/><path d="M590.6 386.8h1.2v1.2h-1.2z"/><path d="M612.7 375.9h1.2v1.2h-1.2z"/><path d="M594.7 346.6h1.2v1.2h-1.2z"/><path d="M605.4 377.3h1.2v1.2h-1.2z"/><path d="M604.9 399.0h1.2v1.2h-1.2z"/><path d="M595.9 376.1h1.2v1.2h-1.2z"/><path d="M608.7 362.7h1.2v1.2h-1.2z"/><path d="M605.8 374.7h1.2v1.2h-1.2z"/><path d="M595.9 375.4h1.2v1.2h-1.2z"/><path d="M603.1 373.7h1.2v1.2h-1.2z"/><path d="M600.6 382.0h1.2v1.2h-1.2z"/><path d="M603.6 369.8h1.2v1.2h-1.2z"/><path d="M600.2 349.1h1.2v1.2h-1.2z"/><path d="M591.9 364.0h1.2v1.2h-1.2z"/><path d="M596.4 370.4h1.2v1.2h-1.2z"/><path d="M592.8 380.2h1.2v1.2h-1.2z"/><path d="M605.1 391.9h1.2v1.2h-1.2z"/><path d="M600.0 380.1h1.2v1.2h-1.2z"/><path d="M603.9 393.9h1.2v1.2h-1.2z"/><path d="M596.6 382.8h1.2v1.2h-1.2z"/><path d="M591.6 361.6h1.2v1.2h-1.2z"/><path d="M592.0 381.8h1.2v1.2h-1.2z"/><path d="M598.2 375.0h1.2v1.2h-1.2z"/><path d="M594.0 373.2h1.2v1.2h-1.2z"/><path d="M610.1 355.2h1.2v1.2h-1.2z"/><path d="M592.1 385.3h1.2v1.2h-1.2z"/><path d="M593.3 374.7h1.2v1.2h-1.2z"/><path d="M600.0 355.2h1.2v1.2h-1.2z"/><path d="M596.9 373.4h1.2v1.2h-1.2z"/><path d="M601.3 381.4h1.2v1.2h-1.2z"/><path d="M599.1 373.6h1.2v1.2h-1.2z"/><path d="M598.5 375.2h1.2v1.2h-1.2z"/><path d="M603.7 365.4h1.2v1.2h-1.2z"/><path d="M601.9 374.7h1.2v1.2h-1.2z"/><path d="M613.6 361.3h1.2v1.2h-1.2z"/><path d="M602.2 382.7h1.2v1.2h-1.2z"/><path d="M593.8 372.5h1.2v1.2h-1.2z"/><path d="M593.1 380.8h1.2v1.2h-1.2z"/><path d="M598.9 378.0h1.2v1.2h-1.2z"/><path d="M602.1 377.6h1.2v1.2h-1.2z"/><path d="M606.0 383.1h1.2v1.2h-1.2z"/><path d="M597.5 365.1h1.2v1.2h-1.2z"/><path d="M601.5 355.3h1.2v1.2h-1.2z"/><path d="M595.2 385.7h1.2v1.2h-1.2z"/><path d="M604.2 399.6h1.2v1.2h-1.2z"/><path d="M597.2 372.6h1.2v1.2h-1.2z"/><path d="M604.2 389.2h1.2v1.2h-1.2z"/><path d="M591.8 386.6h1.2v1.2h-1.2z"/><path d="M600.4 395.3h1.2v1.2h-1.2z"/><path d="M599.9 368.9h1.2v1.2h-1.2z"/><path d="M595.6 370.0h1.2v1.2h-1.2z"/><path d="M596.2 353.1h1.2v1.2h-1.2z"/><path d="M600.1 365.6h1.2v1.2h-1.2z"/><path d="M606.4 383.8h1.2v1.2h-1.2z"/><path d="M596.0 371.4h1.2v1.2h-1.2z"/><path d="M601.8 388.8h1.2v1.2h-1.2z"/><path d="M605.6 384.7h1.2v1.2h-1.2z"/><path d="M599.3 383.3h1.2v1.2h-1.2z"/><path d="M592.4 380.9h1.2v1.2h-1.2z"/><path d="M598.8 371.0h1.2v1.2h-1.2z"/><path d="M598.3 365.6h1.2v1.2h-1.2z"/><path d="M596.8 390.6h1.2v1.2h-1.2z"/><path d="M596.0 358.5h1.2v1.2h-1.2z"/><path d="M602.3 369.3h1.2v1.2h-1.2z"/><path d="M595.7 390.4h1.2v1.2h-1.2z"/><path d="M598.8 381.0h1.2v1.2h-1.2z"/><path d="M600.5 394.4h1.2v1.2h-1.2z"/><path d="M603.4 357.1h1.2v1.2h-1.2z"/><path d="M609.3 368.5h1.2v1.2h-1.2z"/><path d="M597.1 383.7h1.2v1.2h-1.2z"/><path d="M598.6 370.0h1.2v1.2h-1.2z"/><path d="M597.0 370.7h1.2v1.2h-1.2z"/><path d="M605.9 378.4h1.2v1.2h-1.2z"/><path d="M607.1 396.6h1.2v1.2h-1.2z"/><path d="M603.8 364.7h1.2v1.2h-1.2z"/><path d="M600.0 379.7h1.2v1.2h-1.2z"/><path d="M591.7 373.4h1.2v1.2h-1.2z"/><path d="M592.8 388.5h1.2v1.2h-1.2z"/><path d="M588.8 370.2h1.2v1.2h-1.2z"/><path d="M600.8 376.8h1.2v1.2h-1.2z"/><path d="M593.8 383.0h1.2v1.2h-1.2z"/><path d="M598.9 391.8h1.2v1.2h-1.2z"/><path d="M599.9 384.3h1.2v1.2h-1.2z"/><path d="M589.6 376.7h1.2v1.2h-1.2z"/><path d="M599.7 362.5h1.2v1.2h-1.2z"/><path d="M586.0 383.0h1.2v1.2h-1.2z"/><path d="M606.6 367.3h1.2v1.2h-1.2z"/><path d="M604.2 382.1h1.2v1.2h-1.2z"/><path d="M595.8 366.7h1.2v1.2h-1.2z"/><path d="M602.9 379.3h1.2v1.2h-1.2z"/><path d="M597.3 357.7h1.2v1.2h-1.2z"/><path d="M600.8 372.6h1.2v1.2h-1.2z"/><path d="M601.2 374.1h1.2v1.2h-1.2z"/><path d="M588.7 369.3h1.2v1.2h-1.2z"/><path d="M600.0 369.8h1.2v1.2h-1.2z"/><path d="M600.6 377.8h1.2v1.2h-1.2z"/><path d="M598.6 369.1h1.2v1.2h-1.2z"/><path d="M609.0 377.8h1.2v1.2h-1.2z"/><path d="M601.1 380.5h1.2v1.2h-1.2z"/><path d="M600.5 351.7h1.2v1.2h-1.2z"/><path d="M596.7 377.6h1.2v1.2h-1.2z"/><path d="M602.2 375.2h1.2v1.2h-1.2z"/><path d="M592.7 370.8h1.2v1.2h-1.2z"/><path d="M601.6 375.4h1.2v1.2h-1.2z"/><path d="M602.5 380.2h1.2v1.2h-1.2z"/><path d="M598.3 348.7h1.2v1.2h-1.2z"/><path d="M604.6 366.3h1.2v1.2h-1.2z"/><path d="M606.9 369.6h1.2v1.2h-1.2z"/><path d="M597.4 387.0h1.2v1.2h-1.2z"/><path d="M596.9 354.9h1.2v1.2h-1.2z"/><path d="M601.7 379.7h1.2v1.2h-1.2z"/><path d="M601.8 372.5h1.2v1.2h-1.2z"/><path d="M601.1 363.9h1.2v1.2h-1.2z"/><path d="M599.1 383.2h1.2v1.2h-1.2z"/><path d="M602.5 388.0h1.2v1.2h-1.2z"/><path d="M608.5 370.8h1.2v1.2h-1.2z"/><path d="M602.3 373.6h1.2v1.2h-1.2z"/><path d="M593.5 378.8h1.2v1.2h-1.2z"/><path d="M604.8 384.4h1.2v1.2h-1.2z"/><path d="M588.2 372.5h1.2v1.2h-1.2z"/><path d="M598.6 375.4h1.2v1.2h-1.2z"/><path d="M590.8 397.9h1.2v1.2h-1.2z"/><path d="M590.3 363.1h1.2v1.2h-1.2z"/><path d="M609.3 378.0h1.2v1.2h-1.2z"/><path d="M594.7 366.3h1.2v1.2h-1.2z"/><path d="M603.3 367.0h1.2v1.2h-1.2z"/><path d="M603.7 380.6h1.2v1.2h-1.2z"/><path d="M601.8 384.4h1.2v1.2h-1.2z"/><path d="M595.7 357.5h1.2v1.2h-1.2z"/><path d="M589.6 374.3h1.2v1.2h-1.2z"/><path d="M594.5 393.0h1.2v1.2h-1.2z"/><path d="M593.8 393.3h1.2v1.2h-1.2z"/><path d="M598.4 374.7h1.2v1.2h-1.2z"/><path d="M588.0 373.6h1.2v1.2h-1.2z"/><path d="M607.8 357.2h1.2v1.2h-1.2z"/><path d="M606.8 384.0h1.2v1.2h-1.2z"/><path d="M604.6 362.5h1.2v1.2h-1.2z"/><path d="M608.5 361.0h1.2v1.2h-1.2z"/><path d="M608.6 388.2h1.2v1.2h-1.2z"/><path d="M588.9 392.2h1.2v1.2h-1.2z"/><path d="M609.9 373.3h1.2v1.2h-1.2z"/><path d="M590.0 371.8h1.2v1.2h-1.2z"/><path d="M597.5 384.4h1.2v1.2h-1.2z"/><path d="M593.5 363.5h1.2v1.2h-1.2z"/><path d="M600.5 378.3h1.2v1.2h-1.2z"/><path d="M588.7 379.7h1.2v1.2h-1.2z"/><path d="M596.0 369.1h1.2v1.2h-1.2z"/><path d="M602.8 382.6h1.2v1.2h-1.2z"/><path d="M602.2 395.1h1.2v1.2h-1.2z"/><path d="M600.7 374.7h1.2v1.2h-1.2z"/><path d="M601.3 392.0h1.2v1.2h-1.2z"/><path d="M603.1 378.3h1.2v1.2h-1.2z"/><path d="M605.3 356.4h1.2v1.2h-1.2z"/><path d="M605.2 383.9h1.2v1.2h-1.2z"/><path d="M597.5 356.8h1.2v1.2h-1.2z"/><path d="M589.6 348.7h1.2v1.2h-1.2z"/><path d="M601.4 372.9h1.2v1.2h-1.2z"/><path d="M593.8 385.0h1.2v1.2h-1.2z"/><path d="M593.4 386.6h1.2v1.2h-1.2z"/><path d="M603.9 380.9h1.2v1.2h-1.2z"/><path d="M592.6 361.6h1.2v1.2h-1.2z"/><path d="M599.6 387.0h1.2v1.2h-1.2z"/><path d="M592.9 377.0h1.2v1.2h-1.2z"/><path d="M604.5 354.2h1.2v1.2h-1.2z"/><path d="M610.5 371.9h1.2v1.2h-1.2z"/><path d="M596.1 376.7h1.2v1.2h-1.2z"/><path d="M598.2 363.3h1.2v1.2h-1.2z"/><path d="M595.5 371.4h1.2v1.2h-1.2z"/><path d="M592.8 386.2h1.2v1.2h-1.2z"/><path d="M603.0 383.1h1.2v1.2h-1.2z"/><path d="M589.4 368.7h1.2v1.2h-1.2z"/><path d="M602.3 373.3h1.2v1.2h-1.2z"/><path d="M588.2 378.8h1.2v1.2h-1.2z"/><path d="M611.2 386.8h1.2v1.2h-1.2z"/><path d="M598.7 360.2h1.2v1.2h-1.2z"/><path d="M605.4 381.3h1.2v1.2h-1.2z"/><path d="M597.3 370.6h1.2v1.2h-1.2z"/><path d="M604.1 373.1h1.2v1.2h-1.2z"/><path d="M595.2 360.5h1.2v1.2h-1.2z"/><path d="M596.9 370.7h1.2v1.2h-1.2z"/><path d="M596.1 359.5h1.2v1.2h-1.2z"/><path d="M589.1 366.0h1.2v1.2h-1.2z"/><path d="M604.4 398.1h1.2v1.2h-1.2z"/><path d="M589.4 367.6h1.2v1.2h-1.2z"/><path d="M602.9 365.6h1.2v1.2h-1.2z"/><path d="M602.6 370.2h1.2v1.2h-1.2z"/><path d="M606.0 376.1h1.2v1.2h-1.2z"/><path d="M609.4 358.7h1.2v1.2h-1.2z"/><path d="M605.9 370.0h1.2v1.2h-1.2z"/><path d="M606.0 367.7h1.2v1.2h-1.2z"/><path d="M604.2 387.3h1.2v1.2h-1.2z"/><path d="M601.1 362.1h1.2v1.2h-1.2z"/><path d="M595.3 368.4h1.2v1.2h-1.2z"/><path d="M598.0 386.4h1.2v1.2h-1.2z"/><path d="M592.3 372.9h1.2v1.2h-1.2z"/><path d="M599.5 374.7h1.2v1.2h-1.2z"/><path d="M593.9 390.1h1.2v1.2h-1.2z"/><path d="M599.0 365.2h1.2v1.2h-1.2z"/><path d="M598.7 388.5h1.2v1.2h-1.2z"/><path d="M602.7 388.6h1.2v1.2h-1.2z"/><path d="M602.3 369.4h1.2v1.2h-1.2z"/><path d="M590.8 364.2h1.2v1.2h-1.2z"/><path d="M599.0 355.1h1.2v1.2h-1.2z"/><path d="M597.8 364.7h1.2v1.2h-1.2z"/><path d="M606.2 350.8h1.2v1.2h-1.2z"/><path d="M612.6 383.3h1.2v1.2h-1.2z"/><path d="M596.6 375.8h1.2v1.2h-1.2z"/><path d="M608.7 383.1h1.2v1.2h-1.2z"/><path d="M597.5 368.0h1.2v1.2h-1.2z"/><path d="M590.7 378.3h1.2v1.2h-1.2z"/><path d="M604.4 373.8h1.2v1.2h-1.2z"/><path d="M599.5 365.0h1.2v1.2h-1.2z"/><path d="M600.1 380.8h1.2v1.2h-1.2z"/><path d="M592.0 382.9h1.2v1.2h-1.2z"/><path d="M597.8 380.7h1.2v1.2h-1.2z"/><path d="M599.5 379.0h1.2v1.2h-1.2z"/><path d="M600.8 383.8h1.2v1.2h-1.2z"/><path d="M595.2 373.8h1.2v1.2h-1.2z"/><path d="M592.6 375.6h1.2v1.2h-1.2z"/><path d="M605.8 371.7h1.2v1.2h-1.2z"/><path d="M605.4 369.4h1.2v1.2h-1.2z"/><path d="M601.6 389.2h1.2v1.2h-1.2z"/><path d="M601.2 379.8h1.2v1.2h-1.2z"/><path d="M607.4 382.3h1.2v1.2h-1.2z"/><path d="M605.0 371.5h1.2v1.2h-1.2z"/><path d="M595.2 384.0h1.2v1.2h-1.2z"/><path d="M593.5 388.7h1.2v1.2h-1.2z"/><path d="M596.3 378.3h1.2v1.2h-1.2z"/><path d="M604.1 362.2h1.2v1.2h-1.2z"/><path d="M610.7 374.9h1.2v1.2h-1.2z"/><path d="M598.2 362.9h1.2v1.2h-1.2z"/><path d="M589.8 354.3h1.2v1.2h-1.2z"/><path d="M593.8 381.4h1.2v1.2h-1.2z"/><path d="M596.7 388.6h1.2v1.2h-1.2z"/><path d="M593.9 357.3h1.2v1.2h-1.2z"/><path d="M602.2 371.9h1.2v1.2h-1.2z"/><path d="M591.2 391.5h1.2v1.2h-1.2z"/><path d="M601.0 358.5h1.2v1.2h-1.2z"/><path d="M596.6 364.2h1.2v1.2h-1.2z"/><path d="M606.1 368.9h1.2v1.2h-1.2z"/><path d="M595.9 378.4h1.2v1.2h-1.2z"/><path d="M608.6 391.0h1.2v1.2h-1.2z"/><path d="M599.4 371.3h1.2v1.2h-1.2z"/><path d="M596.0 386.3h1.2v1.2h-1.2z"/><path d="M593.3 374.3h1.2v1.2h-1.2z"/><path d="M603.4 367.2h1.2v1.2h-1.2z"/><path d="M585.5 368.5h1.2v1.2h-1.2z"/><path d="M594.6 363.5h1.2v1.2h-1.2z"/><path d="M596.1 384.3h1.2v1.2h-1.2z"/><path d="M590.8 360.7h1.2v1.2h-1.2z"/><path d="M598.6 385.5h1.2v1.2h-1.2z"/><path d="M594.7 381.4h1.2v1.2h-1.2z"/><path d="M605.4 366.2h1.2v1.2h-1.2z"/><path d="M598.1 384.6h1.2v1.2h-1.2z"/><path d="M600.5 367.6h1.2v1.2h-1.2z"/><path d="M598.5 371.7h1.2v1.2h-1.2z"/><path d="M599.7 377.9h1.2v1.2h-1.2z"/><path d="M600.2 367.6h1.2v1.2h-1.2z"/><path d="M599.3 378.1h1.2v1.2h-1.2z"/><path d="M598.2 393.4h1.2v1.2h-1.2z"/><path d="M596.5 348.1h1.2v1.2h-1.2z"/><path d="M606.2 369.0h1.2v1.2h-1.2z"/><path d="M601.3 371.6h1.2v1.2h-1.2z"/><path d="M604.7 368.2h1.2v1.2h-1.2z"/><path d="M602.5 392.7h1.2v1.2h-1.2z"/><path d="M602.7 364.8h1.2v1.2h-1.2z"/><path d="M609.2 387.5h1.2v1.2h-1.2z"/><path d="M599.2 357.8h1.2v1.2h-1.2z"/><path d="M600.7 373.5h1.2v1.2h-1.2z"/><path d="M601.9 376.1h1.2v1.2h-1.2z"/><path d="M608.3 376.6h1.2v1.2h-1.2z"/><path d="M597.0 369.7h1.2v1.2h-1.2z"/><path d="M601.0 380.5h1.2v1.2h-1.2z"/><path d="M592.1 362.6h1.2v1.2h-1.2z"/><path d="M604.6 371.8h1.2v1.2h-1.2z"/><path d="M605.4 372.3h1.2v1.2h-1.2z"/><path d="M595.4 379.8h1.2v1.2h-1.2z"/><path d="M600.8 392.8h1.2v1.2h-1.2z"/><path d="M598.7 377.4h1.2v1.2h-1.2z"/><path d="M602.4 380.4h1.2v1.2h-1.2z"/><path d="M603.6 373.7h1.2v1.2h-1.2z"/><path d="M596.9 356.2h1.2v1.2h-1.2z"/><path d="M597.3 386.6h1.2v1.2h-1.2z"/><path d="M600.4 378.0h1.2v1.2h-1.2z"/><path d="M591.4 350.4h1.2v1.2h-1.2z"/><path d="M602.7 365.2h1.2v1.2h-1.2z"/><path d="M595.8 351.2h1.2v1.2h-1.2z"/><path d="M607.7 390.9h1.2v1.2h-1.2z"/><path d="M588.7 367.8h1.2v1.2h-1.2z"/><path d="M597.8 379.4h1.2v1.2h-1.2z"/><path d="M604.3 373.6h1.2v1.2h-1.2z"/><path d="M598.5 380.8h1.2v1.2h-1.2z"/><path d="M589.0 372.7h1.2v1.2h-1.2z"/><path d="M598.9 377.7h1.2v1.2h-1.2z"/><path d="M593.1 366.4h1.2v1.2h-1.2z"/><path d="M592.2 372.3h1.2v1.2h-1.2z"/><path d="M592.9 403.0h1.2v1.2h-1.2z"/><path d="M595.3 389.0h1.2v1.2h-1.2z"/><path d="M595.4 369.3h1.2v1.2h-1.2z"/><path d="M604.3 370.9h1.2v1.2h-1.2z"/><path d="M611.9 379.5h1.2v1.2h-1.2z"/><path d="M588.8 389.9h1.2v1.2h-1.2z"/><path d="M597.0 364.3h1.2v1.2h-1.2z"/><path d="M599.2 364.7h1.2v1.2h-1.2z"/><path d="M596.3 369.5h1.2v1.2h-1.2z"/><path d="M603.4 363.2h1.2v1.2h-1.2z"/><path d="M596.9 400.8h1.2v1.2h-1.2z"/><path d="M611.0 387.8h1.2v1.2h-1.2z"/><path d="M599.1 367.2h1.2v1.2h-1.2z"/><path d="M599.5 358.4h1.2v1.2h-1.2z"/><path d="M605.7 365.2h1.2v1.2h-1.2z"/><path d="M586.5 386.3h1.2v1.2h-1.2z"/><path d="M607.9 384.8h1.2v1.2h-1.2z"/><path d="M602.9 379.8h1.2v1.2h-1.2z"/><path d="M608.2 389.9h1.2v1.2h-1.2z"/><path d="M590.0 380.9h1.2v1.2h-1.2z"/><path d="M598.6 393.4h1.2v1.2h-1.2z"/><path d="M597.4 369.6h1.2v1.2h-1.2z"/><path d="M589.4 374.7h1.2v1.2h-1.2z"/><path d="M600.9 391.1h1.2v1.2h-1.2z"/><path d="M598.0 385.4h1.2v1.2h-1.2z"/><path d="M611.6 360.2h1.2v1.2h-1.2z"/><path d="M605.3 373.8h1.2v1.2h-1.2z"/><path d="M589.2 364.5h1.2v1.2h-1.2z"/><path d="M599.4 360.8h1.2v1.2h-1.2z"/><path d="M603.0 364.8h1.2v1.2h-1.2z"/><path d="M605.5 369.8h1.2v1.2h-1.2z"/><path d="M606.3 387.5h1.2v1.2h-1.2z"/><path d="M604.6 388.3h1.2v1.2h-1.2z"/><path d="M604.9 354.9h1.2v1.2h-1.2z"/><path d="M596.5 385.6h1.2v1.2h-1.2z"/><path d="M605.3 367.5h1.2v1.2h-1.2z"/><path d="M602.2 375.2h1.2v1.2h-1.2z"/><path d="M597.6 368.9h1.2v1.2h-1.2z"/><path d="M599.4 389.1h1.2v1.2h-1.2z"/><path d="M588.8 387.1h1.2v1.2h-1.2z"/><path d="M600.4 355.2h1.2v1.2h-1.2z"/><path d="M600.8 372.6h1.2v1.2h-1.2z"/><path d="M593.5 381.0h1.2v1.2h-1.2z"/><path d="M597.4 388.4h1.2v1.2h-1.2z"/><path d="M607.3 379.6h1.2v1.2h-1.2z"/><path d="M601.6 363.1h1.2v1.2h-1.2z"/><path d="M599.0 388.3h1.2v1.2h-1.2z"/><path d="M610.9 353.2h1.2v1.2h-1.2z"/><path d="M600.7 374.0h1.2v1.2h-1.2z"/><path d="M612.2 378.7h1.2v1.2h-1.2z"/><path d="M611.8 349.8h1.2v1.2h-1.2z"/><path d="M588.6 376.2h1.2v1.2h-1.2z"/><path d="M590.6 350.9h1.2v1.2h-1.2z"/><path d="M596.6 368.9h1.2v1.2h-1.2z"/><path d="M599.9 392.6h1.2v1.2h-1.2z"/><path d="M593.4 365.8h1.2v1.2h-1.2z"/><path d="M590.0 375.5h1.2v1.2h-1.2z"/><path d="M605.7 387.6h1.2v1.2h-1.2z"/><path d="M585.2 380.3h1.2v1.2h-1.2z"/><path d="M597.4 367.8h1.2v1.2h-1.2z"/><path d="M592.0 368.0h1.2v1.2h-1.2z"/><path d="M601.0 382.8h1.2v1.2h-1.2z"/><path d="M604.1 364.5h1.2v1.2h-1.2z"/><path d="M599.2 363.7h1.2v1.2h-1.2z"/><path d="M604.6 375.2h1.2v1.2h-1.2z"/><path d="M591.0 387.1h1.2v1.2h-1.2z"/><path d="M609.6 353.5h1.2v1.2h-1.2z"/><path d="M610.2 380.6h1.2v1.2h-1.2z"/><path d="M598.6 346.8h1.2v1.2h-1.2z"/><path d="M591.3 362.7h1.2v1.2h-1.2z"/><path d="M604.0 372.9h1.2v1.2h-1.2z"/><path d="M600.3 375.7h1.2v1.2h-1.2z"/><path d="M602.0 370.4h1.2v1.2h-1.2z"/><path d="M607.3 347.1h1.2v1.2h-1.2z"/><path d="M593.4 369.5h1.2v1.2h-1.2z"/><path d="M593.8 390.2h1.2v1.2h-1.2z"/><path d="M596.3 351.0h1.2v1.2h-1.2z"/><path d="M595.8 368.5h1.2v1.2h-1.2z"/><path d="M594.0 366.0h1.2v1.2h-1.2z"/><path d="M595.9 382.8h1.2v1.2h-1.2z"/><path d="M598.1 378.3h1.2v1.2h-1.2z"/><path d="M598.6 389.2h1.2v1.2h-1.2z"/><path d="M599.5 377.9h1.2v1.2h-1.2z"/><path d="M605.9 390.8h1.2v1.2h-1.2z"/><path d="M606.7 365.1h1.2v1.2h-1.2z"/><path d="M591.0 357.4h1.2v1.2h-1.2z"/><path d="M594.9 356.9h1.2v1.2h-1.2z"/><path d="M600.9 374.0h1.2v1.2h-1.2z"/><path d="M606.0 368.0h1.2v1.2h-1.2z"/><path d="M606.2 386.4h1.2v1.2h-1.2z"/><path d="M599.3 387.1h1.2v1.2h-1.2z"/><path d="M594.4 374.9h1.2v1.2h-1.2z"/><path d="M598.1 376.2h1.2v1.2h-1.2z"/><path d="M602.6 376.7h1.2v1.2h-1.2z"/><path d="M596.6 382.6h1.2v1.2h-1.2z"/><path d="M597.0 384.6h1.2v1.2h-1.2z"/><path d="M594.1 360.1h1.2v1.2h-1.2z"/><path d="M613.0 358.6h1.2v1.2h-1.2z"/><path d="M604.2 394.6h1.2v1.2h-1.2z"/><path d="M603.6 379.8h1.2v1.2h-1.2z"/><path d="M598.7 373.8h1.2v1.2h-1.2z"/><path d="M594.2 380.8h1.2v1.2h-1.2z"/><path d="M603.6 358.4h1.2v1.2h-1.2z"/><path d="M586.4 372.5h1.2v1.2h-1.2z"/><path d="M592.8 361.8h1.2v1.2h-1.2z"/><path d="M604.1 390.4h1.2v1.2h-1.2z"/><path d="M593.6 370.4h1.2v1.2h-1.2z"/><path d="M602.7 368.6h1.2v1.2h-1.2z"/><path d="M601.2 379.5h1.2v1.2h-1.2z"/><path d="M603.7 386.9h1.2v1.2h-1.2z"/><path d="M600.1 367.3h1.2v1.2h-1.2z"/><path d="M591.2 373.7h1.2v1.2h-1.2z"/><path d="M593.3 369.4h1.2v1.2h-1.2z"/><path d="M598.0 373.4h1.2v1.2h-1.2z"/><path d="M604.9 378.5h1.2v1.2h-1.2z"/><path d="M599.8 394.1h1.2v1.2h-1.2z"/><path d="M599.6 396.3h1.2v1.2h-1.2z"/><path d="M599.1 379.3h1.2v1.2h-1.2z"/><path d="M593.1 375.7h1.2v1.2h-1.2z"/><path d="M593.8 391.5h1.2v1.2h-1.2z"/><path d="M600.5 391.6h1.2v1.2h-1.2z"/><path d="M602.3 362.6h1.2v1.2h-1.2z"/><path d="M585.4 373.5h1.2v1.2h-1.2z"/><path d="M596.0 369.4h1.2v1.2h-1.2z"/><path d="M601.3 376.1h1.2v1.2h-1.2z"/><path d="M597.7 378.5h1.2v1.2h-1.2z"/><path d="M595.3 363.9h1.2v1.2h-1.2z"/><path d="M596.4 387.4h1.2v1.2h-1.2z"/><path d="M603.1 370.5h1.2v1.2h-1.2z"/><path d="M601.9 382.5h1.2v1.2h-1.2z"/><path d="M593.1 397.5h1.2v1.2h-1.2z"/><path d="M597.3 361.8h1.2v1.2h-1.2z"/><path d="M599.9 377.2h1.2v1.2h-1.2z"/><path d="M607.4 390.2h1.2v1.2h-1.2z"/><path d="M596.9 368.4h1.2v1.2h-1.2z"/><path d="M597.5 371.1h1.2v1.2h-1.2z"/><path d="M593.6 373.5h1.2v1.2h-1.2z"/><path d="M606.9 385.9h1.2v1.2h-1.2z"/><path d="M597.5 360.0h1.2v1.2h-1.2z"/><path d="M603.4 389.5h1.2v1.2h-1.2z"/><path d="M590.9 381.2h1.2v1.2h-1.2z"/><path d="M609.9 388.1h1.2v1.2h-1.2z"/><path d="M603.3 374.2h1.2v1.2h-1.2z"/><path d="M595.8 378.8h1.2v1.2h-1.2z"/><path d="M606.8 383.6h1.2v1.2h-1.2z"/><path d="M604.4 373.6h1.2v1.2h-1.2z"/><path d="M598.1 391.8h1.2v1.2h-1.2z"/><path d="M600.0 386.0h1.2v1.2h-1.2z"/><path d="M596.6 362.2h1.2v1.2h-1.2z"/><path d="M600.3 377.8h1.2v1.2h-1.2z"/><path d="M594.1 378.8h1.2v1.2h-1.2z"/><path d="M597.7 360.1h1.2v1.2h-1.2z"/><path d="M598.9 380.2h1.2v1.2h-1.2z"/><path d="M607.4 352.2h1.2v1.2h-1.2z"/><path d="M599.3 366.7h1.2v1.2h-1.2z"/><path d="M612.5 379.4h1.2v1.2h-1.2z"/><path d="M592.8 382.7h1.2v1.2h-1.2z"/><path d="M604.4 386.7h1.2v1.2h-1.2z"/><path d="M605.5 368.9h1.2v1.2h-1.2z"/><path d="M591.5 377.6h1.2v1.2h-1.2z"/><path d="M598.7 369.3h1.2v1.2h-1.2z"/><path d="M588.5 382.0h1.2v1.2h-1.2z"/><path d="M602.4 389.0h1.2v1.2h-1.2z"/><path d="M601.6 372.1h1.2v1.2h-1.2z"/><path d="M593.5 370.1h1.2v1.2h-1.2z"/><path d="M593.6 371.7h1.2v1.2h-1.2z"/><path d="M594.3 386.8h1.2v1.2h-1.2z"/><path d="M598.1 379.3h1.2v1.2h-1.2z"/><path d="M599.1 370.4h1.2v1.2h-1.2z"/><path d="M587.1 369.4h1.2v1.2h-1.2z"/><path d="M596.4 387.2h1.2v1.2h-1.2z"/><path d="M592.1 382.8h1.2v1.2h-1.2z"/><path d="M602.9 373.5h1.2v1.2h-1.2z"/><path d="M598.5 384.8h1.2v1.2h-1.2z"/><path d="M600.5 402.4h1.2v1.2h-1.2z"/><path d="M593.5 397.9h1.2v1.2h-1.2z"/><path d="M601.7 350.6h1.2v1.2h-1.2z"/><path d="M585.5 357.3h1.2v1.2h-1.2z"/><path d="M590.0 351.1h1.2v1.2h-1.2z"/><path d="M595.4 370.8h1.2v1.2h-1.2z"/><path d="M592.2 372.4h1.2v1.2h-1.2z"/><path d="M596.0 383.9h1.2v1.2h-1.2z"/><path d="M591.0 372.9h1.2v1.2h-1.2z"/><path d="M599.8 383.5h1.2v1.2h-1.2z"/><path d="M591.9 373.7h1.2v1.2h-1.2z"/><path d="M591.3 382.7h1.2v1.2h-1.2z"/><path d="M601.9 387.6h1.2v1.2h-1.2z"/><path d="M597.3 394.3h1.2v1.2h-1.2z"/><path d="M596.0 354.0h1.2v1.2h-1.2z"/><path d="M594.5 373.0h1.2v1.2h-1.2z"/><path d="M605.4 367.5h1.2v1.2h-1.2z"/><path d="M595.5 381.0h1.2v1.2h-1.2z"/><path d="M591.3 384.9h1.2v1.2h-1.2z"/><path d="M601.9 361.5h1.2v1.2h-1.2z"/><path d="M598.5 365.8h1.2v1.2h-1.2z"/><path d="M593.6 377.4h1.2v1.2h-1.2z"/><path d="M597.0 384.6h1.2v1.2h-1.2z"/><path d="M599.3 354.5h1.2v1.2h-1.2z"/><path d="M600.2 382.4h1.2v1.2h-1.2z"/><path d="M600.9 356.9h1.2v1.2h-1.2z"/><path d="M595.2 358.8h1.2v1.2h-1.2z"/><path d="M597.3 365.0h1.2v1.2h-1.2z"/><path d="M604.3 378.2h1.2v1.2h-1.2z"/><path d="M602.1 356.3h1.2v1.2h-1.2z"/><path d="M597.6 395.2h1.2v1.2h-1.2z"/><path d="M596.7 375.4h1.2v1.2h-1.2z"/><path d="M604.4 390.6h1.2v1.2h-1.2z"/><path d="M605.7 372.9h1.2v1.2h-1.2z"/><path d="M592.1 367.5h1.2v1.2h-1.2z"/><path d="M602.5 355.1h1.2v1.2h-1.2z"/><path d="M599.8 392.5h1.2v1.2h-1.2z"/><path d="M591.9 382.7h1.2v1.2h-1.2z"/><path d="M594.2 364.8h1.2v1.2h-1.2z"/><path d="M601.5 381.5h1.2v1.2h-1.2z"/><path d="M598.4 379.3h1.2v1.2h-1.2z"/><path d="M603.1 394.7h1.2v1.2h-1.2z"/><path d="M593.5 362.5h1.2v1.2h-1.2z"/><path d="M609.2 383.8h1.2v1.2h-1.2z"/><path d="M595.0 381.3h1.2v1.2h-1.2z"/><path d="M608.7 369.7h1.2v1.2h-1.2z"/><path d="M601.1 384.6h1.2v1.2h-1.2z"/><path d="M595.3 361.1h1.2v1.2h-1.2z"/><path d="M603.8 373.9h1.2v1.2h-1.2z"/><path d="M600.2 365.0h1.2v1.2h-1.2z"/><path d="M602.7 385.5h1.2v1.2h-1.2z"/><path d="M599.4 374.8h1.2v1.2h-1.2z"/><path d="M593.6 366.8h1.2v1.2h-1.2z"/><path d="M591.4 374.9h1.2v1.2h-1.2z"/><path d="M600.1 366.5h1.2v1.2h-1.2z"/><path d="M591.7 371.8h1.2v1.2h-1.2z"/><path d="M602.9 390.2h1.2v1.2h-1.2z"/><path d="M588.6 375.7h1.2v1.2h-1.2z"/><path d="M606.9 364.6h1.2v1.2h-1.2z"/><path d="M596.6 384.4h1.2v1.2h-1.2z"/><path d="M600.2 364.0h1.2v1.2h-1.2z"/><path d="M592.6 367.9h1.2v1.2h-1.2z"/><path d="M598.8 376.4h1.2v1.2h-1.2z"/><path d="M604.0 364.1h1.2v1.2h-1.2z"/><path d="M601.9 378.9h1.2v1.2h-1.2z"/><path d="M597.3 382.9h1.2v1.2h-1.2z"/><path d="M598.6 379.6h1.2v1.2h-1.2z"/><path d="M595.5 364.0h1.2v1.2h-1.2z"/><path d="M596.0 394.8h1.2v1.2h-1.2z"/><path d="M601.5 377.5h1.2v1.2h-1.2z"/><path d="M594.6 376.2h1.2v1.2h-1.2z"/><path d="M592.2 378.0h1.2v1.2h-1.2z"/><path d="M598.8 367.7h1.2v1.2h-1.2z"/><path d="M601.9 359.3h1.2v1.2h-1.2z"/><path d="M591.6 382.3h1.2v1.2h-1.2z"/><path d="M592.7 357.7h1.2v1.2h-1.2z"/><path d="M606.0 381.4h1.2v1.2h-1.2z"/><path d="M601.8 374.2h1.2v1.2h-1.2z"/><path d="M592.5 379.2h1.2v1.2h-1.2z"/><path d="M598.9 365.9h1.2v1.2h-1.2z"/><path d="M600.0 379.3h1.2v1.2h-1.2z"/><path d="M599.0 383.7h1.2v1.2h-1.2z"/><path d="M602.1 361.0h1.2v1.2h-1.2z"/><path d="M601.9 369.4h1.2v1.2h-1.2z"/><path d="M608.1 340.2h1.2v1.2h-1.2z"/><path d="M597.3 381.0h1.2v1.2h-1.2z"/><path d="M605.3 362.4h1.2v1.2h-1.2z"/><path d="M599.2 379.3h1.2v1.2h-1.2z"/><path d="M595.8 382.1h1.2v1.2h-1.2z"/><path d="M595.1 365.5h1.2v1.2h-1.2z"/><path d="M606.1 365.0h1.2v1.2h-1.2z"/><path d="M597.1 399.8h1.2v1.2h-1.2z"/><path d="M606.6 370.0h1.2v1.2h-1.2z"/><path d="M601.2 365.8h1.2v1.2h-1.2z"/><path d="M592.8 369.0h1.2v1.2h-1.2z"/><path d="M603.7 380.1h1.2v1.2h-1.2z"/><path d="M594.5 347.9h1.2v1.2h-1.2z"/><path d="M606.5 366.2h1.2v1.2h-1.2z"/><path d="M603.7 383.3h1.2v1.2h-1.2z"/><path d="M606.5 367.3h1.2v1.2h-1.2z"/><path d="M593.4 366.7h1.2v1.2h-1.2z"/><path d="M601.4 377.3h1.2v1.2h-1.2z"/><path d="M592.6 379.7h1.2v1.2h-1.2z"/><path d="M593.9 373.7h1.2v1.2h-1.2z"/><path d="M597.6 379.8h1.2v1.2h-1.2z"/><path d="M614.0 366.6h1.2v1.2h-1.2z"/><path d="M590.8 360.4h1.2v1.2h-1.2z"/><path d="M599.1 376.4h1.2v1.2h-1.2z"/><path d="M602.5 362.7h1.2v1.2h-1.2z"/><path d="M591.7 373.1h1.2v1.2h-1.2z"/><path d="M607.6 384.8h1.2v1.2h-1.2z"/><path d="M605.2 380.8h1.2v1.2h-1.2z"/><path d="M605.3 368.1h1.2v1.2h-1.2z"/><path d="M606.0 383.2h1.2v1.2h-1.2z"/><path d="M604.1 369.2h1.2v1.2h-1.2z"/><path d="M596.8 367.5h1.2v1.2h-1.2z"/><path d="M607.4 358.1h1.2v1.2h-1.2z"/><path d="M596.6 376.9h1.2v1.2h-1.2z"/><path d="M591.3 376.3h1.2v1.2h-1.2z"/><path d="M605.4 381.5h1.2v1.2h-1.2z"/><path d="M592.2 374.2h1.2v1.2h-1.2z"/><path d="M593.3 343.9h1.2v1.2h-1.2z"/><path d="M604.0 381.6h1.2v1.2h-1.2z"/><path d="M591.2 386.9h1.2v1.2h-1.2z"/><path d="M604.1 401.4h1.2v1.2h-1.2z"/><path d="M601.9 393.1h1.2v1.2h-1.2z"/><path d="M597.3 371.4h1.2v1.2h-1.2z"/><path d="M610.5 383.9h1.2v1.2h-1.2z"/><path d="M609.1 371.9h1.2v1.2h-1.2z"/><path d="M598.9 384.0h1.2v1.2h-1.2z"/><path d="M594.9 382.8h1.2v1.2h-1.2z"/><path d="M591.0 350.6h1.2v1.2h-1.2z"/><path d="M596.6 381.5h1.2v1.2h-1.2z"/><path d="M611.3 372.5h1.2v1.2h-1.2z"/><path d="M600.2 371.7h1.2v1.2h-1.2z"/><path d="M600.9 389.1h1.2v1.2h-1.2z"/><path d="M602.7 379.1h1.2v1.2h-1.2z"/><path d="M601.4 371.4h1.2v1.2h-1.2z"/><path d="M603.7 396.8h1.2v1.2h-1.2z"/><path d="M592.7 398.9h1.2v1.2h-1.2z"/><path d="M585.8 354.1h1.2v1.2h-1.2z"/><path d="M602.9 368.7h1.2v1.2h-1.2z"/><path d="M612.5 381.2h1.2v1.2h-1.2z"/><path d="M590.0 374.7h1.2v1.2h-1.2z"/><path d="M601.6 387.6h1.2v1.2h-1.2z"/><path d="M595.6 355.8h1.2v1.2h-1.2z"/><path d="M591.3 385.5h1.2v1.2h-1.2z"/><path d="M606.3 353.5h1.2v1.2h-1.2z"/><path d="M601.4 366.4h1.2v1.2h-1.2z"/><path d="M600.1 383.4h1.2v1.2h-1.2z"/><path d="M597.7 373.3h1.2v1.2h-1.2z"/><path d="M587.7 374.3h1.2v1.2h-1.2z"/><path d="M608.2 367.2h1.2v1.2h-1.2z"/><path d="M601.6 380.1h1.2v1.2h-1.2z"/><path d="M613.6 364.3h1.2v1.2h-1.2z"/><path d="M604.3 371.2h1.2v1.2h-1.2z"/><path d="M599.0 374.4h1.2v1.2h-1.2z"/><path d="M589.1 382.0h1.2v1.2h-1.2z"/><path d="M595.0 376.8h1.2v1.2h-1.2z"/><path d="M604.4 372.0h1.2v1.2h-1.2z"/><path d="M590.3 361.8h1.2v1.2h-1.2z"/><path d="M603.1 389.2h1.2v1.2h-1.2z"/><path d="M610.1 360.0h1.2v1.2h-1.2z"/><path d="M600.3 375.8h1.2v1.2h-1.2z"/><path d="M595.1 372.1h1.2v1.2h-1.2z"/><path d="M593.5 376.0h1.2v1.2h-1.2z"/><path d="M596.5 371.2h1.2v1.2h-1.2z"/><path d="M607.4 362.4h1.2v1.2h-1.2z"/><path d="M599.6 366.6h1.2v1.2h-1.2z"/><path d="M597.0 373.3h1.2v1.2h-1.2z"/><path d="M599.1 376.8h1.2v1.2h-1.2z"/><path d="M594.6 381.4h1.2v1.2h-1.2z"/><path d="M592.4 360.5h1.2v1.2h-1.2z"/><path d="M594.0 388.7h1.2v1.2h-1.2z"/><path d="M606.4 367.8h1.2v1.2h-1.2z"/><path d="M610.5 378.1h1.2v1.2h-1.2z"/><path d="M590.2 379.1h1.2v1.2h-1.2z"/><path d="M593.1 360.3h1.2v1.2h-1.2z"/><path d="M585.9 376.1h1.2v1.2h-1.2z"/><path d="M601.6 361.8h1.2v1.2h-1.2z"/><path d="M602.8 379.0h1.2v1.2h-1.2z"/><path d="M602.4 382.0h1.2v1.2h-1.2z"/><path d="M594.6 378.5h1.2v1.2h-1.2z"/><path d="M602.1 367.1h1.2v1.2h-1.2z"/><path d="M597.2 359.3h1.2v1.2h-1.2z"/><path d="M600.2 360.8h1.2v1.2h-1.2z"/><path d="M601.6 375.1h1.2v1.2h-1.2z"/><path d="M598.1 381.2h1.2v1.2h-1.2z"/><path d="M597.3 393.9h1.2v1.2h-1.2z"/><path d="M601.4 360.5h1.2v1.2h-1.2z"/><path d="M595.8 378.2h1.2v1.2h-1.2z"/><path d="M609.2 367.3h1.2v1.2h-1.2z"/><path d="M608.1 376.1h1.2v1.2h-1.2z"/><path d="M606.8 367.1h1.2v1.2h-1.2z"/><path d="M594.4 369.6h1.2v1.2h-1.2z"/><path d="M599.3 362.6h1.2v1.2h-1.2z"/><path d="M591.8 382.7h1.2v1.2h-1.2z"/><path d="M605.2 373.4h1.2v1.2h-1.2z"/><path d="M596.2 386.9h1.2v1.2h-1.2z"/><path d="M588.7 382.6h1.2v1.2h-1.2z"/><path d="M600.4 381.9h1.2v1.2h-1.2z"/><path d="M601.3 385.9h1.2v1.2h-1.2z"/><path d="M602.6 374.0h1.2v1.2h-1.2z"/><path d="M604.1 362.8h1.2v1.2h-1.2z"/><path d="M600.4 378.6h1.2v1.2h-1.2z"/><path d="M589.7 380.4h1.2v1.2h-1.2z"/><path d="M601.8 384.7h1.2v1.2h-1.2z"/><path d="M599.3 388.4h1.2v1.2h-1.2z"/><path d="M604.8 381.5h1.2v1.2h-1.2z"/><path d="M599.4 377.2h1.2v1.2h-1.2z"/><path d="M599.3 361.6h1.2v1.2h-1.2z"/><path d="M604.4 369.0h1.2v1.2h-1.2z"/><path d="M598.1 378.3h1.2v1.2h-1.2z"/><path d="M605.8 369.4h1.2v1.2h-1.2z"/><path d="M593.0 378.7h1.2v1.2h-1.2z"/><path d="M600.3 351.5h1.2v1.2h-1.2z"/><path d="M595.3 375.1h1.2v1.2h-1.2z"/><path d="M588.5 388.0h1.2v1.2h-1.2z"/><path d="M591.6 383.7h1.2v1.2h-1.2z"/><path d="M592.8 369.1h1.2v1.2h-1.2z"/><path d="M595.0 369.9h1.2v1.2h-1.2z"/><path d="M587.8 365.5h1.2v1.2h-1.2z"/><path d="M604.0 379.5h1.2v1.2h-1.2z"/><path d="M611.1 351.4h1.2v1.2h-1.2z"/><path d="M607.4 375.4h1.2v1.2h-1.2z"/><path d="M591.2 357.0h1.2v1.2h-1.2z"/><path d="M595.9 375.2h1.2v1.2h-1.2z"/><path d="M596.1 392.0h1.2v1.2h-1.2z"/><path d="M598.4 366.0h1.2v1.2h-1.2z"/><path d="M593.5 360.3h1.2v1.2h-1.2z"/><path d="M598.3 371.9h1.2v1.2h-1.2z"/><path d="M594.0 377.8h1.2v1.2h-1.2z"/><path d="M594.5 367.8h1.2v1.2h-1.2z"/><path d="M605.2 386.9h1.2v1.2h-1.2z"/><path d="M596.6 394.7h1.2v1.2h-1.2z"/><path d="M596.4 388.2h1.2v1.2h-1.2z"/><path d="M600.1 368.4h1.2v1.2h-1.2z"/><path d="M598.7 369.5h1.2v1.2h-1.2z"/><path d="M600.2 372.9h1.2v1.2h-1.2z"/><path d="M598.1 362.6h1.2v1.2h-1.2z"/><path d="M601.6 384.9h1.2v1.2h-1.2z"/><path d="M592.8 373.9h1.2v1.2h-1.2z"/><path d="M604.2 384.1h1.2v1.2h-1.2z"/><path d="M594.1 403.8h1.2v1.2h-1.2z"/><path d="M594.2 382.6h1.2v1.2h-1.2z"/><path d="M601.2 366.5h1.2v1.2h-1.2z"/><path d="M606.8 379.9h1.2v1.2h-1.2z"/><path d="M593.8 374.3h1.2v1.2h-1.2z"/><path d="M594.2 376.7h1.2v1.2h-1.2z"/><path d="M600.1 350.8h1.2v1.2h-1.2z"/><path d="M602.8 377.8h1.2v1.2h-1.2z"/><path d="M605.2 374.8h1.2v1.2h-1.2z"/><path d="M594.2 382.3h1.2v1.2h-1.2z"/><path d="M604.9 348.7h1.2v1.2h-1.2z"/><path d="M605.4 381.1h1.2v1.2h-1.2z"/><path d="M596.3 362.4h1.2v1.2h-1.2z"/><path d="M596.7 386.7h1.2v1.2h-1.2z"/><path d="M600.4 382.8h1.2v1.2h-1.2z"/><path d="M596.4 357.8h1.2v1.2h-1.2z"/><path d="M594.1 399.1h1.2v1.2h-1.2z"/><path d="M604.3 381.9h1.2v1.2h-1.2z"/><path d="M602.2 373.5h1.2v1.2h-1.2z"/><path d="M597.8 369.6h1.2v1.2h-1.2z"/><path d="M601.2 371.9h1.2v1.2h-1.2z"/><path d="M599.2 379.0h1.2v1.2h-1.2z"/><path d="M602.5 378.6h1.2v1.2h-1.2z"/><path d="M600.3 379.0h1.2v1.2h-1.2z"/><path d="M605.8 388.5h1.2v1.2h-1.2z"/><path d="M607.4 366.1h1.2v1.2h-1.2z"/><path d="M601.3 375.3h1.2v1.2h-1.2z"/><path d="M610.5 392.9h1.2v1.2h-1.2z"/><path d="M601.9 397.6h1.2v1.2h-1.2z"/><path d="M607.3 360.4h1.2v1.2h-1.2z"/><path d="M603.4 377.6h1.2v1.2h-1.2z"/><path d="M596.9 391.0h1.2v1.2h-1.2z"/><path d="M602.6 357.7h1.2v1.2h-1.2z"/><path d="M594.0 371.6h1.2v1.2h-1.2z"/><path d="M605.9 379.0h1.2v1.2h-1.2z"/><path d="M604.9 370.9h1.2v1.2h-1.2z"/><path d="M606.8 371.1h1.2v1.2h-1.2z"/><path d="M603.6 370.8h1.2v1.2h-1.2z"/><path d="M597.0 378.4h1.2v1.2h-1.2z"/><path d="M592.3 374.8h1.2v1.2h-1.2z"/><path d="M601.9 359.8h1.2v1.2h-1.2z"/><path d="M598.6 371.8h1.2v1.2h-1.2z"/><path d="M593.3 352.4h1.2v1.2h-1.2z"/><path d="M605.6 369.0h1.2v1.2h-1.2z"/><path d="M613.2 351.2h1.2v1.2h-1.2z"/><path d="M603.3 370.8h1.2v1.2h-1.2z"/><path d="M602.2 358.8h1.2v1.2h-1.2z"/><path d="M604.9 360.9h1.2v1.2h-1.2z"/><path d="M590.3 369.4h1.2v1.2h-1.2z"/><path d="M598.1 378.9h1.2v1.2h-1.2z"/><path d="M596.2 373.0h1.2v1.2h-1.2z"/><path d="M607.3 378.6h1.2v1.2h-1.2z"/><path d="M605.3 372.8h1.2v1.2h-1.2z"/><path d="M596.4 371.0h1.2v1.2h-1.2z"/><path d="M596.6 356.8h1.2v1.2h-1.2z"/><path d="M600.3 372.6h1.2v1.2h-1.2z"/><path d="M597.4 385.0h1.2v1.2h-1.2z"/><path d="M613.2 364.2h1.2v1.2h-1.2z"/><path d="M603.0 360.9h1.2v1.2h-1.2z"/><path d="M605.6 373.0h1.2v1.2h-1.2z"/><path d="M590.3 361.3h1.2v1.2h-1.2z"/><path d="M603.5 366.3h1.2v1.2h-1.2z"/><path d="M598.6 403.5h1.2v1.2h-1.2z"/><path d="M594.1 380.4h1.2v1.2h-1.2z"/><path d="M587.8 378.9h1.2v1.2h-1.2z"/><path d="M599.6 393.7h1.2v1.2h-1.2z"/><path d="M595.9 346.3h1.2v1.2h-1.2z"/><path d="M605.2 352.6h1.2v1.2h-1.2z"/><path d="M597.8 395.0h1.2v1.2h-1.2z"/><path d="M593.9 375.6h1.2v1.2h-1.2z"/><path d="M591.7 389.8h1.2v1.2h-1.2z"/><path d="M605.4 354.7h1.2v1.2h-1.2z"/><path d="M597.2 367.6h1.2v1.2h-1.2z"/><path d="M603.3 386.9h1.2v1.2h-1.2z"/><path d="M600.3 384.6h1.2v1.2h-1.2z"/><path d="M601.8 378.2h1.2v1.2h-1.2z"/><path d="M598.1 365.6h1.2v1.2h-1.2z"/><path d="M602.1 365.2h1.2v1.2h-1.2z"/><path d="M602.0 365.7h1.2v1.2h-1.2z"/><path d="M598.3 386.0h1.2v1.2h-1.2z"/><path d="M605.4 375.0h1.2v1.2h-1.2z"/><path d="M598.3 375.3h1.2v1.2h-1.2z"/><path d="M602.8 365.1h1.2v1.2h-1.2z"/><path d="M599.0 375.2h1.2v1.2h-1.2z"/><path d="M603.5 379.4h1.2v1.2h-1.2z"/><path d="M599.4 370.0h1.2v1.2h-1.2z"/><path d="M591.3 365.0h1.2v1.2h-1.2z"/><path d="M598.9 366.7h1.2v1.2h-1.2z"/><path d="M586.4 400.0h1.2v1.2h-1.2z"/><path d="M601.3 370.0h1.2v1.2h-1.2z"/><path d="M599.7 372.0h1.2v1.2h-1.2z"/><path d="M596.3 352.8h1.2v1.2h-1.2z"/><path d="M596.5 359.7h1.2v1.2h-1.2z"/><path d="M600.3 367.6h1.2v1.2h-1.2z"/><path d="M594.4 371.7h1.2v1.2h-1.2z"/><path d="M595.8 378.6h1.2v1.2h-1.2z"/><path d="M597.0 358.9h1.2v1.2h-1.2z"/><path d="M600.5 357.4h1.2v1.2h-1.2z"/><path d="M588.0 358.2h1.2v1.2h-1.2z"/><path d="M602.0 359.7h1.2v1.2h-1.2z"/><path d="M592.7 398.4h1.2v1.2h-1.2z"/><path d="M597.1 378.0h1.2v1.2h-1.2z"/><path d="M594.3 390.3h1.2v1.2h-1.2z"/><path d="M606.9 366.8h1.2v1.2h-1.2z"/><path d="M591.6 349.9h1.2v1.2h-1.2z"/><path d="M600.1 361.2h1.2v1.2h-1.2z"/><path d="M589.2 378.8h1.2v1.2h-1.2z"/><path d="M597.8 379.3h1.2v1.2h-1.2z"/><path d="M591.0 359.1h1.2v1.2h-1.2z"/><path d="M599.1 392.2h1.2v1.2h-1.2z"/><path d="M601.4 370.1h1.2v1.2h-1.2z"/><path d="M603.6 384.5h1.2v1.2h-1.2z"/><path d="M591.6 399.3h1.2v1.2h-1.2z"/><path d="M605.5 373.7h1.2v1.2h-1.2z"/><path d="M601.3 357.7h1.2v1.2h-1.2z"/><path d="M606.4 402.4h1.2v1.2h-1.2z"/><path d="M600.1 378.2h1.2v1.2h-1.2z"/><path d="M597.9 374.7h1.2v1.2h-1.2z"/><path d="M592.9 375.5h1.2v1.2h-1.2z"/><path d="M604.9 370.5h1.2v1.2h-1.2z"/><path d="M605.1 357.1h1.2v1.2h-1.2z"/><path d="M595.2 369.4h1.2v1.2h-1.2z"/><path d="M596.6 387.1h1.2v1.2h-1.2z"/><path d="M592.2 384.6h1.2v1.2h-1.2z"/><path d="M593.7 373.6h1.2v1.2h-1.2z"/><path d="M586.4 377.2h1.2v1.2h-1.2z"/><path d="M604.2 379.3h1.2v1.2h-1.2z"/><path d="M599.2 385.8h1.2v1.2h-1.2z"/><path d="M601.1 383.6h1.2v1.2h-1.2z"/><path d="M591.1 396.3h1.2v1.2h-1.2z"/><path d="M596.6 360.4h1.2v1.2h-1.2z"/><path d="M594.9 385.8h1.2v1.2h-1.2z"/><path d="M599.5 372.8h1.2v1.2h-1.2z"/><path d="M607.3 387.8h1.2v1.2h-1.2z"/><path d="M602.0 364.1h1.2v1.2h-1.2z"/><path d="M603.9 369.4h1.2v1.2h-1.2z"/><path d="M600.6 371.5h1.2v1.2h-1.2z"/><path d="M588.3 369.1h1.2v1.2h-1.2z"/><path d="M597.3 354.3h1.2v1.2h-1.2z"/><path d="M591.9 394.2h1.2v1.2h-1.2z"/><path d="M598.2 397.6h1.2v1.2h-1.2z"/><path d="M602.5 369.1h1.2v1.2h-1.2z"/><path d="M594.8 393.7h1.2v1.2h-1.2z"/><path d="M593.6 381.2h1.2v1.2h-1.2z"/><path d="M596.2 363.6h1.2v1.2h-1.2z"/><path d="M596.3 368.2h1.2v1.2h-1.2z"/><path d="M608.7 366.0h1.2v1.2h-1.2z"/><path d="M595.4 347.4h1.2v1.2h-1.2z"/><path d="M595.3 349.7h1.2v1.2h-1.2z"/><path d="M593.6 339.8h1.2v1.2h-1.2z"/><path d="M591.5 387.1h1.2v1.2h-1.2z"/><path d="M600.2 355.7h1.2v1.2h-1.2z"/><path d="M595.9 390.4h1.2v1.2h-1.2z"/><path d="M597.4 357.1h1.2v1.2h-1.2z"/><path d="M600.2 355.7h1.2v1.2h-1.2z"/><path d="M597.0 375.9h1.2v1.2h-1.2z"/><path d="M598.7 363.5h1.2v1.2h-1.2z"/><path d="M610.1 393.7h1.2v1.2h-1.2z"/><path d="M602.9 391.0h1.2v1.2h-1.2z"/><path d="M600.7 376.8h1.2v1.2h-1.2z"/><path d="M594.8 367.7h1.2v1.2h-1.2z"/><path d="M601.9 369.9h1.2v1.2h-1.2z"/><path d="M591.9 365.6h1.2v1.2h-1.2z"/><path d="M595.7 348.5h1.2v1.2h-1.2z"/><path d="M591.3 379.4h1.2v1.2h-1.2z"/><path d="M599.1 388.5h1.2v1.2h-1.2z"/><path d="M594.8 381.3h1.2v1.2h-1.2z"/><path d="M600.2 367.0h1.2v1.2h-1.2z"/><path d="M589.3 366.6h1.2v1.2h-1.2z"/><path d="M600.1 373.1h1.2v1.2h-1.2z"/><path d="M598.1 387.9h1.2v1.2h-1.2z"/><path d="M602.3 371.2h1.2v1.2h-1.2z"/><path d="M602.3 363.8h1.2v1.2h-1.2z"/><path d="M585.9 365.9h1.2v1.2h-1.2z"/><path d="M603.9 378.2h1.2v1.2h-1.2z"/><path d="M600.8 379.3h1.2v1.2h-1.2z"/><path d="M595.9 391.6h1.2v1.2h-1.2z"/><path d="M596.3 371.0h1.2v1.2h-1.2z"/><path d="M601.3 360.5h1.2v1.2h-1.2z"/><path d="M605.9 391.4h1.2v1.2h-1.2z"/><path d="M600.8 366.4h1.2v1.2h-1.2z"/><path d="M609.2 365.9h1.2v1.2h-1.2z"/><path d="M599.0 374.5h1.2v1.2h-1.2z"/><path d="M606.5 357.4h1.2v1.2h-1.2z"/><path d="M607.4 385.8h1.2v1.2h-1.2z"/><path d="M600.2 357.2h1.2v1.2h-1.2z"/><path d="M607.6 343.8h1.2v1.2h-1.2z"/><path d="M593.7 394.1h1.2v1.2h-1.2z"/><path d="M603.6 369.0h1.2v1.2h-1.2z"/><path d="M595.3 357.3h1.2v1.2h-1.2z"/><path d="M603.5 361.4h1.2v1.2h-1.2z"/><path d="M598.3 383.0h1.2v1.2h-1.2z"/><path d="M595.9 372.3h1.2v1.2h-1.2z"/><path d="M607.0 354.6h1.2v1.2h-1.2z"/><path d="M599.4 392.5h1.2v1.2h-1.2z"/><path d="M597.6 368.6h1.2v1.2h-1.2z"/><path d="M600.8 353.9h1.2v1.2h-1.2z"/><path d="M598.1 379.1h1.2v1.2h-1.2z"/><path d="M597.0 394.2h1.2v1.2h-1.2z"/><path d="M588.2 378.6h1.2v1.2h-1.2z"/><path d="M600.5 378.8h1.2v1.2h-1.2z"/><path d="M591.8 394.1h1.2v1.2h-1.2z"/><path d="M600.2 378.0h1.2v1.2h-1.2z"/><path d="M599.0 368.7h1.2v1.2h-1.2z"/><path d="M597.8 369.6h1.2v1.2h-1.2z"/><path d="M599.2 391.7h1.2v1.2h-1.2z"/><path d="M603.3 365.2h1.2v1.2h-1.2z"/><path d="M597.6 374.9h1.2v1.2h-1.2z"/><path d="M596.6 381.5h1.2v1.2h-1.2z"/><path d="M601.3 355.6h1.2v1.2h-1.2z"/><path d="M600.6 359.6h1.2v1.2h-1.2z"/><path d="M598.0 368.1h1.2v1.2h-1.2z"/><path d="M595.3 380.6h1.2v1.2h-1.2z"/><path d="M597.0 393.3h1.2v1.2h-1.2z"/><path d="M600.2 384.4h1.2v1.2h-1.2z"/><path d="M596.6 397.5h1.2v1.2h-1.2z"/><path d="M594.6 363.5h1.2v1.2h-1.2z"/><path d="M589.1 392.6h1.2v1.2h-1.2z"/><path d="M605.1 369.1h1.2v1.2h-1.2z"/><path d="M588.1 364.3h1.2v1.2h-1.2z"/><path d="M598.8 383.3h1.2v1.2h-1.2z"/><path d="M604.6 382.6h1.2v1.2h-1.2z"/><path d="M599.4 367.0h1.2v1.2h-1.2z"/><path d="M606.6 362.3h1.2v1.2h-1.2z"/><path d="M599.7 387.5h1.2v1.2h-1.2z"/><path d="M588.3 369.6h1.2v1.2h-1.2z"/><path d="M601.2 361.1h1.2v1.2h-1.2z"/><path d="M591.5 389.6h1.2v1.2h-1.2z"/><path d="M594.9 368.9h1.2v1.2h-1.2z"/><path d="M605.7 370.9h1.2v1.2h-1.2z"/><path d="M605.3 348.1h1.2v1.2h-1.2z"/><path d="M601.6 396.8h1.2v1.2h-1.2z"/><path d="M591.4 343.3h1.2v1.2h-1.2z"/><path d="M601.1 391.4h1.2v1.2h-1.2z"/><path d="M609.4 358.5h1.2v1.2h-1.2z"/><path d="M589.6 342.5h1.2v1.2h-1.2z"/><path d="M608.5 397.0h1.2v1.2h-1.2z"/><path d="M600.8 378.9h1.2v1.2h-1.2z"/><path d="M593.7 377.9h1.2v1.2h-1.2z"/><path d="M595.3 374.2h1.2v1.2h-1.2z"/><path d="M592.3 367.3h1.2v1.2h-1.2z"/><path d="M601.1 380.0h1.2v1.2h-1.2z"/><path d="M589.8 402.1h1.2v1.2h-1.2z"/><path d="M607.8 376.1h1.2v1.2h-1.2z"/><path d="M604.7 360.5h1.2v1.2h-1.2z"/><path d="M603.0 396.3h1.2v1.2h-1.2z"/><path d="M589.8 366.3h1.2v1.2h-1.2z"/><path d="M594.7 377.5h1.2v1.2h-1.2z"/><path d="M600.4 358.2h1.2v1.2h-1.2z"/><path d="M598.1 341.7h1.2v1.2h-1.2z"/><path d="M604.6 364.4h1.2v1.2h-1.2z"/><path d="M601.9 367.6h1.2v1.2h-1.2z"/><path d="M600.8 388.9h1.2v1.2h-1.2z"/><path d="M596.0 361.8h1.2v1.2h-1.2z"/><path d="M597.3 374.0h1.2v1.2h-1.2z"/><path d="M604.2 361.0h1.2v1.2h-1.2z"/><path d="M599.3 389.3h1.2v1.2h-1.2z"/><path d="M598.0 375.1h1.2v1.2h-1.2z"/><path d="M600.9 380.0h1.2v1.2h-1.2z"/><path d="M603.7 379.1h1.2v1.2h-1.2z"/><path d="M586.7 375.8h1.2v1.2h-1.2z"/><path d="M609.4 360.1h1.2v1.2h-1.2z"/><path d="M601.7 370.5h1.2v1.2h-1.2z"/><path d="M598.6 390.3h1.2v1.2h-1.2z"/><path d="M602.6 369.6h1.2v1.2h-1.2z"/><path d="M593.6 393.4h1.2v1.2h-1.2z"/><path d="M593.6 372.6h1.2v1.2h-1.2z"/><path d="M601.1 357.5h1.2v1.2h-1.2z"/><path d="M596.1 374.6h1.2v1.2h-1.2z"/><path d="M600.8 370.8h1.2v1.2h-1.2z"/><path d="M599.1 372.6h1.2v1.2h-1.2z"/><path d="M590.6 371.6h1.2v1.2h-1.2z"/><path d="M605.4 374.8h1.2v1.2h-1.2z"/><path d="M602.8 383.2h1.2v1.2h-1.2z"/><path d="M609.0 355.8h1.2v1.2h-1.2z"/><path d="M601.8 361.5h1.2v1.2h-1.2z"/><path d="M607.9 359.6h1.2v1.2h-1.2z"/><path d="M594.0 362.0h1.2v1.2h-1.2z"/><path d="M603.8 385.8h1.2v1.2h-1.2z"/><path d="M595.5 360.9h1.2v1.2h-1.2z"/><path d="M597.2 369.8h1.2v1.2h-1.2z"/><path d="M596.8 381.5h1.2v1.2h-1.2z"/><path d="M599.5 372.4h1.2v1.2h-1.2z"/><path d="M587.6 382.2h1.2v1.2h-1.2z"/><path d="M600.9 355.3h1.2v1.2h-1.2z"/><path d="M597.6 382.3h1.2v1.2h-1.2z"/><path d="M597.6 364.3h1.2v1.2h-1.2z"/><path d="M598.1 363.0h1.2v1.2h-1.2z"/><path d="M599.5 358.4h1.2v1.2h-1.2z"/><path d="M606.0 342.0h1.2v1.2h-1.2z"/><path d="M586.3 398.3h1.2v1.2h-1.2z"/><path d="M611.3 375.5h1.2v1.2h-1.2z"/><path d="M606.4 376.8h1.2v1.2h-1.2z"/><path d="M591.1 387.3h1.2v1.2h-1.2z"/><path d="M597.4 381.5h1.2v1.2h-1.2z"/><path d="M600.6 359.2h1.2v1.2h-1.2z"/><path d="M599.2 360.1h1.2v1.2h-1.2z"/><path d="M609.0 378.7h1.2v1.2h-1.2z"/><path d="M600.3 387.3h1.2v1.2h-1.2z"/><path d="M603.6 374.0h1.2v1.2h-1.2z"/><path d="M593.8 356.4h1.2v1.2h-1.2z"/><path d="M594.8 364.2h1.2v1.2h-1.2z"/><path d="M598.0 356.3h1.2v1.2h-1.2z"/><path d="M601.0 388.3h1.2v1.2h-1.2z"/><path d="M591.1 362.8h1.2v1.2h-1.2z"/><path d="M600.7 383.8h1.2v1.2h-1.2z"/><path d="M597.5 378.5h1.2v1.2h-1.2z"/><path d="M593.4 389.8h1.2v1.2h-1.2z"/><path d="M595.7 370.5h1.2v1.2h-1.2z"/><path d="M598.7 368.1h1.2v1.2h-1.2z"/><path d="M599.0 367.2h1.2v1.2h-1.2z"/><path d="M602.8 379.2h1.2v1.2h-1.2z"/><path d="M594.3 373.1h1.2v1.2h-1.2z"/><path d="M609.6 355.1h1.2v1.2h-1.2z"/><path d="M596.9 393.5h1.2v1.2h-1.2z"/><path d="M596.4 359.5h1.2v1.2h-1.2z"/><path d="M598.5 403.3h1.2v1.2h-1.2z"/><path d="M599.9 373.5h1.2v1.2h-1.2z"/><path d="M596.5 383.3h1.2v1.2h-1.2z"/><path d="M601.0 386.1h1.2v1.2h-1.2z"/><path d="M600.1 372.4h1.2v1.2h-1.2z"/><path d="M601.6 365.1h1.2v1.2h-1.2z"/><path d="M611.8 376.2h1.2v1.2h-1.2z"/><path d="M598.4 382.2h1.2v1.2h-1.2z"/><path d="M603.3 381.7h1.2v1.2h-1.2z"/><path d="M601.8 379.2h1.2v1.2h-1.2z"/><path d="M599.0 389.8h1.2v1.2h-1.2z"/><path d="M594.2 377.4h1.2v1.2h-1.2z"/><path d="M588.8 370.6h1.2v1.2h-1.2z"/><path d="M598.1 363.1h1.2v1.2h-1.2z"/><path d="M608.2 363.5h1.2v1.2h-1.2z"/><path d="M592.7 368.8h1.2v1.2h-1.2z"/><path d="M597.5 379.7h1.2v1.2h-1.2z"/><path d="M605.2 363.2h1.2v1.2h-1.2z"/><path d="M610.1 389.9h1.2v1.2h-1.2z"/><path d="M600.2 372.0h1.2v1.2h-1.2z"/><path d="M597.6 365.6h1.2v1.2h-1.2z"/><path d="M587.9 369.0h1.2v1.2h-1.2z"/><path d="M594.8 385.4h1.2v1.2h-1.2z"/><path d="M597.0 367.2h1.2v1.2h-1.2z"/><path d="M594.6 365.0h1.2v1.2h-1.2z"/><path d="M602.8 373.2h1.2v1.2h-1.2z"/><path d="M598.6 370.6h1.2v1.2h-1.2z"/><path d="M598.5 379.9h1.2v1.2h-1.2z"/><path d="M603.4 385.8h1.2v1.2h-1.2z"/><path d="M603.9 393.0h1.2v1.2h-1.2z"/><path d="M605.9 383.5h1.2v1.2h-1.2z"/><path d="M601.0 369.2h1.2v1.2h-1.2z"/><path d="M601.1 394.0h1.2v1.2h-1.2z"/><path d="M585.3 379.2h1.2v1.2h-1.2z"/><path d="M595.8 384.3h1.2v1.2h-1.2z"/><path d="M604.3 371.1h1.2v1.2h-1.2z"/><path d="M611.4 368.7h1.2v1.2h-1.2z"/><path d="M601.3 388.3h1.2v1.2h-1.2z"/><path d="M601.8 371.8h1.2v1.2h-1.2z"/><path d="M605.0 357.2h1.2v1.2h-1.2z"/><path d="M599.0 357.7h1.2v1.2h-1.2z"/><path d="M611.2 391.8h1.2v1.2h-1.2z"/><path d="M607.4 386.6h1.2v1.2h-1.2z"/><path d="M598.1 363.7h1.2v1.2h-1.2z"/><path d="M596.5 362.7h1.2v1.2h-1.2z"/><path d="M599.0 370.4h1.2v1.2h-1.2z"/><path d="M604.4 369.2h1.2v1.2h-1.2z"/><path d="M601.2 361.2h1.2v1.2h-1.2z"/><path d="M600.9 364.6h1.2v1.2h-1.2z"/><path d="M597.7 373.2h1.2v1.2h-1.2z"/><path d="M596.6 374.3h1.2v1.2h-1.2z"/><path d="M604.7 360.0h1.2v1.2h-1.2z"/><path d="M606.4 402.4h1.2v1.2h-1.2z"/><path d="M594.1 390.3h1.2v1.2h-1.2z"/><path d="M603.6 371.7h1.2v1.2h-1.2z"/><path d="M590.9 401.1h1.2v1.2h-1.2z"/><path d="M600.3 359.1h1.2v1.2h-1.2z"/><path d="M602.0 377.8h1.2v1.2h-1.2z"/><path d="M594.6 400.7h1.2v1.2h-1.2z"/><path d="M601.5 373.6h1.2v1.2h-1.2z"/><path d="M600.7 399.4h1.2v1.2h-1.2z"/><path d="M613.7 373.5h1.2v1.2h-1.2z"/><path d="M594.9 389.5h1.2v1.2h-1.2z"/><path d="M609.2 365.9h1.2v1.2h-1.2z"/><path d="M592.2 382.4h1.2v1.2h-1.2z"/><path d="M603.5 374.9h1.2v1.2h-1.2z"/><path d="M598.8 370.4h1.2v1.2h-1.2z"/><path d="M600.0 379.6h1.2v1.2h-1.2z"/><path d="M599.0 396.1h1.2v1.2h-1.2z"/><path d="M595.7 373.6h1.2v1.2h-1.2z"/><path d="M597.2 369.3h1.2v1.2h-1.2z"/><path d="M592.4 367.3h1.2v1.2h-1.2z"/><path d="M599.2 352.5h1.2v1.2h-1.2z"/><path d="M598.2 390.6h1.2v1.2h-1.2z"/><path d="M608.0 365.7h1.2v1.2h-1.2z"/><path d="M601.3 374.9h1.2v1.2h-1.2z"/><path d="M605.6 364.6h1.2v1.2h-1.2z"/><path d="M592.8 385.1h1.2v1.2h-1.2z"/><path d="M594.4 338.1h1.2v1.2h-1.2z"/><path d="M597.6 374.5h1.2v1.2h-1.2z"/><path d="M600.1 369.1h1.2v1.2h-1.2z"/><path d="M603.6 382.9h1.2v1.2h-1.2z"/><path d="M603.4 400.4h1.2v1.2h-1.2z"/><path d="M601.9 349.5h1.2v1.2h-1.2z"/><path d="M600.2 367.7h1.2v1.2h-1.2z"/><path d="M589.8 374.5h1.2v1.2h-1.2z"/><path d="M593.9 372.9h1.2v1.2h-1.2z"/><path d="M595.0 358.8h1.2v1.2h-1.2z"/><path d="M596.3 375.2h1.2v1.2h-1.2z"/><path d="M595.4 361.5h1.2v1.2h-1.2z"/><path d="M608.3 385.1h1.2v1.2h-1.2z"/><path d="M602.0 379.6h1.2v1.2h-1.2z"/><path d="M605.5 333.1h1.2v1.2h-1.2z"/><path d="M597.8 326.3h1.2v1.2h-1.2z"/><path d="M599.3 330.2h1.2v1.2h-1.2z"/><path d="M585.5 335.1h1.2v1.2h-1.2z"/><path d="M592.8 330.4h1.2v1.2h-1.2z"/><path d="M592.1 338.7h1.2v1.2h-1.2z"/><path d="M598.3 328.5h1.2v1.2h-1.2z"/><path d="M602.4 336.6h1.2v1.2h-1.2z"/><path d="M592.4 340.4h1.2v1.2h-1.2z"/><path d="M592.7 342.7h1.2v1.2h-1.2z"/><path d="M593.1 338.0h1.2v1.2h-1.2z"/><path d="M586.9 319.0h1.2v1.2h-1.2z"/><path d="M598.9 346.5h1.2v1.2h-1.2z"/><path d="M596.9 333.2h1.2v1.2h-1.2z"/><path d="M590.4 341.7h1.2v1.2h-1.2z"/><path d="M595.0 339.8h1.2v1.2h-1.2z"/><path d="M610.2 345.1h1.2v1.2h-1.2z"/><path d="M602.6 343.4h1.2v1.2h-1.2z"/><path d="M592.8 345.1h1.2v1.2h-1.2z"/><path d="M609.8 336.6h1.2v1.2h-1.2z"/><path d="M600.3 338.5h1.2v1.2h-1.2z"/><path d="M597.7 324.8h1.2v1.2h-1.2z"/><path d="M600.0 331.8h1.2v1.2h-1.2z"/><path d="M594.7 340.9h1.2v1.2h-1.2z"/><path d="M601.6 319.4h1.2v1.2h-1.2z"/><path d="M599.9 342.2h1.2v1.2h-1.2z"/><path d="M588.3 344.4h1.2v1.2h-1.2z"/><path d="M591.5 344.8h1.2v1.2h-1.2z"/><path d="M599.7 347.4h1.2v1.2h-1.2z"/><path d="M595.8 340.0h1.2v1.2h-1.2z"/><path d="M589.7 316.8h1.2v1.2h-1.2z"/><path d="M600.1 329.1h1.2v1.2h-1.2z"/><path d="M594.6 331.8h1.2v1.2h-1.2z"/><path d="M602.7 338.0h1.2v1.2h-1.2z"/><path d="M600.2 326.1h1.2v1.2h-1.2z"/><path d="M593.8 340.2h1.2v1.2h-1.2z"/><path d="M601.0 337.2h1.2v1.2h-1.2z"/><path d="M604.5 340.7h1.2v1.2h-1.2z"/><path d="M603.8 344.3h1.2v1.2h-1.2z"/><path d="M594.5 345.5h1.2v1.2h-1.2z"/><path d="M592.7 313.3h1.2v1.2h-1.2z"/><path d="M593.0 338.4h1.2v1.2h-1.2z"/><path d="M605.2 336.2h1.2v1.2h-1.2z"/><path d="M602.0 332.7h1.2v1.2h-1.2z"/><path d="M592.0 345.8h1.2v1.2h-1.2z"/><path d="M599.3 334.3h1.2v1.2h-1.2z"/><path d="M603.4 341.9h1.2v1.2h-1.2z"/><path d="M602.5 324.3h1.2v1.2h-1.2z"/><path d="M589.3 336.6h1.2v1.2h-1.2z"/><path d="M597.6 337.7h1.2v1.2h-1.2z"/><path d="M595.5 346.2h1.2v1.2h-1.2z"/><path d="M594.6 346.8h1.2v1.2h-1.2z"/><path d="M604.4 340.4h1.2v1.2h-1.2z"/><path d="M596.0 345.2h1.2v1.2h-1.2z"/><path d="M601.0 345.0h1.2v1.2h-1.2z"/><path d="M603.3 328.0h1.2v1.2h-1.2z"/><path d="M604.2 334.0h1.2v1.2h-1.2z"/><path d="M601.9 327.4h1.2v1.2h-1.2z"/><path d="M604.3 335.0h1.2v1.2h-1.2z"/><path d="M594.4 338.0h1.2v1.2h-1.2z"/><path d="M595.8 329.9h1.2v1.2h-1.2z"/><path d="M597.0 341.9h1.2v1.2h-1.2z"/><path d="M592.6 346.9h1.2v1.2h-1.2z"/><path d="M601.2 337.4h1.2v1.2h-1.2z"/><path d="M594.3 342.7h1.2v1.2h-1.2z"/><path d="M591.7 337.9h1.2v1.2h-1.2z"/><path d="M597.3 342.0h1.2v1.2h-1.2z"/><path d="M602.9 340.2h1.2v1.2h-1.2z"/><path d="M591.2 324.4h1.2v1.2h-1.2z"/><path d="M598.1 342.8h1.2v1.2h-1.2z"/><path d="M598.9 347.4h1.2v1.2h-1.2z"/><path d="M602.1 339.6h1.2v1.2h-1.2z"/><path d="M591.2 342.7h1.2v1.2h-1.2z"/><path d="M602.0 344.9h1.2v1.2h-1.2z"/><path d="M602.7 332.9h1.2v1.2h-1.2z"/><path d="M606.7 342.4h1.2v1.2h-1.2z"/><path d="M589.0 331.6h1.2v1.2h-1.2z"/><path d="M592.2 344.6h1.2v1.2h-1.2z"/><path d="M599.2 342.1h1.2v1.2h-1.2z"/><path d="M602.0 320.6h1.2v1.2h-1.2z"/><path d="M596.0 334.4h1.2v1.2h-1.2z"/><path d="M594.7 345.9h1.2v1.2h-1.2z"/><path d="M598.1 334.3h1.2v1.2h-1.2z"/><path d="M602.8 346.9h1.2v1.2h-1.2z"/><path d="M609.6 331.8h1.2v1.2h-1.2z"/><path d="M603.9 328.5h1.2v1.2h-1.2z"/><path d="M607.9 346.0h1.2v1.2h-1.2z"/><path d="M600.6 339.4h1.2v1.2h-1.2z"/><path d="M608.3 326.7h1.2v1.2h-1.2z"/><path d="M596.8 342.9h1.2v1.2h-1.2z"/><path d="M593.6 347.1h1.2v1.2h-1.2z"/><path d="M600.5 343.6h1.2v1.2h-1.2z"/><path d="M597.8 337.4h1.2v1.2h-1.2z"/><path d="M594.4 341.8h1.2v1.2h-1.2z"/><path d="M603.9 337.7h1.2v1.2h-1.2z"/><path d="M596.1 337.2h1.2v1.2h-1.2z"/><path d="M605.3 338.1h1.2v1.2h-1.2z"/><path d="M592.0 334.9h1.2v1.2h-1.2z"/><path d="M609.0 340.9h1.2v1.2h-1.2z"/><path d="M600.4 347.1h1.2v1.2h-1.2z"/><path d="M605.2 329.2h1.2v1.2h-1.2z"/><path d="M599.1 343.4h1.2v1.2h-1.2z"/><path d="M585.4 343.7h1.2v1.2h-1.2z"/><path d="M598.3 346.6h1.2v1.2h-1.2z"/><path d="M597.0 344.5h1.2v1.2h-1.2z"/><path d="M601.0 327.0h1.2v1.2h-1.2z"/><path d="M591.7 339.4h1.2v1.2h-1.2z"/><path d="M601.6 334.4h1.2v1.2h-1.2z"/><path d="M590.6 330.3h1.2v1.2h-1.2z"/><path d="M603.8 343.8h1.2v1.2h-1.2z"/><path d="M592.1 335.7h1.2v1.2h-1.2z"/><path d="M605.3 344.6h1.2v1.2h-1.2z"/><path d="M600.9 340.2h1.2v1.2h-1.2z"/><path d="M603.2 337.7h1.2v1.2h-1.2z"/><path d="M602.2 330.0h1.2v1.2h-1.2z"/><path d="M595.6 325.9h1.2v1.2h-1.2z"/><path d="M604.1 336.6h1.2v1.2h-1.2z"/><path d="M600.8 320.6h1.2v1.2h-1.2z"/><path d="M593.1 325.6h1.2v1.2h-1.2z"/><path d="M593.1 322.3h1.2v1.2h-1.2z"/><path d="M595.6 341.3h1.2v1.2h-1.2z"/><path d="M596.7 347.8h1.2v1.2h-1.2z"/><path d="M600.7 338.6h1.2v1.2h-1.2z"/><path d="M594.3 332.4h1.2v1.2h-1.2z"/><path d="M602.1 329.1h1.2v1.2h-1.2z"/><path d="M603.6 340.4h1.2v1.2h-1.2z"/><path d="M587.7 338.4h1.2v1.2h-1.2z"/><path d="M594.4 332.5h1.2v1.2h-1.2z"/><path d="M606.0 342.9h1.2v1.2h-1.2z"/><path d="M592.6 343.2h1.2v1.2h-1.2z"/><path d="M600.9 339.8h1.2v1.2h-1.2z"/><path d="M592.2 342.8h1.2v1.2h-1.2z"/><path d="M592.9 340.2h1.2v1.2h-1.2z"/><path d="M604.5 347.1h1.2v1.2h-1.2z"/><path d="M585.6 334.1h1.2v1.2h-1.2z"/><path d="M605.4 323.5h1.2v1.2h-1.2z"/><path d="M604.8 346.8h1.2v1.2h-1.2z"/><path d="M590.4 340.2h1.2v1.2h-1.2z"/><path d="M601.6 327.8h1.2v1.2h-1.2z"/><path d="M590.9 345.9h1.2v1.2h-1.2z"/><path d="M600.4 334.9h1.2v1.2h-1.2z"/><path d="M608.6 341.3h1.2v1.2h-1.2z"/><path d="M590.5 344.6h1.2v1.2h-1.2z"/><path d="M592.0 344.2h1.2v1.2h-1.2z"/><path d="M595.6 345.7h1.2v1.2h-1.2z"/><path d="M600.4 344.6h1.2v1.2h-1.2z"/><path d="M603.8 330.8h1.2v1.2h-1.2z"/><path d="M591.1 327.0h1.2v1.2h-1.2z"/><path d="M593.1 315.6h1.2v1.2h-1.2z"/><path d="M598.8 347.3h1.2v1.2h-1.2z"/><path d="M598.9 322.0h1.2v1.2h-1.2z"/><path d="M602.2 332.9h1.2v1.2h-1.2z"/><path d="M598.4 339.3h1.2v1.2h-1.2z"/><path d="M585.3 342.5h1.2v1.2h-1.2z"/><path d="M597.9 332.9h1.2v1.2h-1.2z"/><path d="M593.2 346.4h1.2v1.2h-1.2z"/><path d="M608.2 341.6h1.2v1.2h-1.2z"/><path d="M595.8 336.4h1.2v1.2h-1.2z"/><path d="M597.2 330.8h1.2v1.2h-1.2z"/><path d="M599.7 334.4h1.2v1.2h-1.2z"/><path d="M604.7 332.6h1.2v1.2h-1.2z"/><path d="M590.7 342.1h1.2v1.2h-1.2z"/><path d="M600.5 330.7h1.2v1.2h-1.2z"/><path d="M598.7 347.6h1.2v1.2h-1.2z"/><path d="M605.6 333.7h1.2v1.2h-1.2z"/><path d="M586.3 346.1h1.2v1.2h-1.2z"/><path d="M601.2 337.0h1.2v1.2h-1.2z"/><path d="M595.5 320.8h1.2v1.2h-1.2z"/><path d="M611.8 345.3h1.2v1.2h-1.2z"/><path d="M596.5 343.7h1.2v1.2h-1.2z"/><path d="M642.3 376.8h1.2v1.2h-1.2z"/><path d="M625.3 373.2h1.2v1.2h-1.2z"/><path d="M612.4 384.9h1.2v1.2h-1.2z"/><path d="M669.2 380.7h1.2v1.2h-1.2z"/><path d="M633.3 363.1h1.2v1.2h-1.2z"/><path d="M624.5 366.6h1.2v1.2h-1.2z"/><path d="M674.9 368.4h1.2v1.2h-1.2z"/><path d="M673.2 371.3h1.2v1.2h-1.2z"/><path d="M612.3 355.5h1.2v1.2h-1.2z"/><path d="M614.4 371.1h1.2v1.2h-1.2z"/><path d="M631.9 378.3h1.2v1.2h-1.2z"/><path d="M675.8 386.8h1.2v1.2h-1.2z"/><path d="M619.4 352.2h1.2v1.2h-1.2z"/><path d="M619.5 381.9h1.2v1.2h-1.2z"/><path d="M611.6 375.2h1.2v1.2h-1.2z"/><path d="M639.2 369.3h1.2v1.2h-1.2z"/><path d="M641.6 388.2h1.2v1.2h-1.2z"/><path d="M644.3 369.0h1.2v1.2h-1.2z"/><path d="M651.3 389.5h1.2v1.2h-1.2z"/><path d="M653.3 363.0h1.2v1.2h-1.2z"/><path d="M623.2 376.0h1.2v1.2h-1.2z"/><path d="M611.0 360.5h1.2v1.2h-1.2z"/><path d="M617.5 376.9h1.2v1.2h-1.2z"/><path d="M665.1 388.2h1.2v1.2h-1.2z"/><path d="M661.4 360.5h1.2v1.2h-1.2z"/><path d="M636.4 377.6h1.2v1.2h-1.2z"/><path d="M655.1 381.1h1.2v1.2h-1.2z"/><path d="M675.7 374.9h1.2v1.2h-1.2z"/><path d="M627.3 374.7h1.2v1.2h-1.2z"/><path d="M627.1 370.0h1.2v1.2h-1.2z"/><path d="M663.7 371.2h1.2v1.2h-1.2z"/><path d="M626.4 381.5h1.2v1.2h-1.2z"/><path d="M624.3 369.1h1.2v1.2h-1.2z"/><path d="M617.0 387.0h1.2v1.2h-1.2z"/><path d="M662.2 371.1h1.2v1.2h-1.2z"/><path d="M611.8 358.3h1.2v1.2h-1.2z"/><path d="M675.6 369.7h1.2v1.2h-1.2z"/><path d="M671.5 381.7h1.2v1.2h-1.2z"/><path d="M676.9 379.9h1.2v1.2h-1.2z"/><path d="M639.7 381.4h1.2v1.2h-1.2z"/><path d="M610.6 372.0h1.2v1.2h-1.2z"/><path d="M672.4 372.9h1.2v1.2h-1.2z"/><path d="M627.8 386.8h1.2v1.2h-1.2z"/><path d="M642.8 396.2h1.2v1.2h-1.2z"/><path d="M666.5 364.2h1.2v1.2h-1.2z"/><path d="M621.4 374.8h1.2v1.2h-1.2z"/><path d="M631.4 372.3h1.2v1.2h-1.2z"/><path d="M672.2 373.7h1.2v1.2h-1.2z"/><path d="M643.1 383.6h1.2v1.2h-1.2z"/><path d="M620.3 370.2h1.2v1.2h-1.2z"/><path d="M613.1 360.0h1.2v1.2h-1.2z"/><path d="M670.1 387.9h1.2v1.2h-1.2z"/><path d="M627.0 380.7h1.2v1.2h-1.2z"/><path d="M615.4 390.4h1.2v1.2h-1.2z"/><path d="M660.1 356.8h1.2v1.2h-1.2z"/><path d="M674.4 378.6h1.2v1.2h-1.2z"/><path d="M670.7 366.1h1.2v1.2h-1.2z"/><path d="M638.5 372.4h1.2v1.2h-1.2z"/><path d="M675.4 372.2h1.2v1.2h-1.2z"/><path d="M663.7 359.2h1.2v1.2h-1.2z"/><path d="M631.0 355.9h1.2v1.2h-1.2z"/><path d="M618.2 367.0h1.2v1.2h-1.2z"/><path d="M665.0 386.3h1.2v1.2h-1.2z"/><path d="M642.6 375.9h1.2v1.2h-1.2z"/><path d="M615.5 383.5h1.2v1.2h-1.2z"/><path d="M617.5 368.9h1.2v1.2h-1.2z"/><path d="M631.1 365.1h1.2v1.2h-1.2z"/><path d="M610.0 368.2h1.2v1.2h-1.2z"/><path d="M613.0 372.8h1.2v1.2h-1.2z"/><path d="M621.4 368.8h1.2v1.2h-1.2z"/><path d="M660.7 387.3h1.2v1.2h-1.2z"/><path d="M616.9 358.2h1.2v1.2h-1.2z"/><path d="M610.1 374.4h1.2v1.2h-1.2z"/><path d="M628.0 360.5h1.2v1.2h-1.2z"/><path d="M610.4 367.3h1.2v1.2h-1.2z"/><path d="M643.6 377.1h1.2v1.2h-1.2z"/><path d="M675.3 375.0h1.2v1.2h-1.2z"/><path d="M651.7 377.8h1.2v1.2h-1.2z"/><path d="M613.7 375.8h1.2v1.2h-1.2z"/><path d="M675.8 384.6h1.2v1.2h-1.2z"/><path d="M625.5 369.4h1.2v1.2h-1.2z"/><path d="M616.3 384.4h1.2v1.2h-1.2z"/><path d="M630.5 371.3h1.2v1.2h-1.2z"/><path d="M659.8 365.6h1.2v1.2h-1.2z"/><path d="M617.4 385.3h1.2v1.2h-1.2z"/><path d="M633.9 382.4h1.2v1.2h-1.2z"/><path d="M670.0 387.1h1.2v1.2h-1.2z"/><path d="M649.8 384.2h1.2v1.2h-1.2z"/><path d="M628.4 383.5h1.2v1.2h-1.2z"/><path d="M656.8 383.9h1.2v1.2h-1.2z"/><path d="M635.3 359.0h1.2v1.2h-1.2z"/><path d="M645.2 376.6h1.2v1.2h-1.2z"/><path d="M631.9 378.4h1.2v1.2h-1.2z"/><path d="M640.8 384.3h1.2v1.2h-1.2z"/><path d="M668.1 386.8h1.2v1.2h-1.2z"/><path d="M625.8 373.6h1.2v1.2h-1.2z"/><path d="M619.5 362.8h1.2v1.2h-1.2z"/><path d="M620.9 362.0h1.2v1.2h-1.2z"/><path d="M651.4 384.0h1.2v1.2h-1.2z"/><path d="M671.7 374.0h1.2v1.2h-1.2z"/><path d="M632.8 362.4h1.2v1.2h-1.2z"/><path d="M618.4 357.6h1.2v1.2h-1.2z"/><path d="M626.8 377.7h1.2v1.2h-1.2z"/><path d="M624.4 373.6h1.2v1.2h-1.2z"/><path d="M635.6 373.5h1.2v1.2h-1.2z"/><path d="M671.0 359.9h1.2v1.2h-1.2z"/><path d="M649.8 377.8h1.2v1.2h-1.2z"/><path d="M610.9 374.0h1.2v1.2h-1.2z"/><path d="M632.5 386.0h1.2v1.2h-1.2z"/><path d="M646.9 376.1h1.2v1.2h-1.2z"/><path d="M618.4 380.4h1.2v1.2h-1.2z"/><path d="M673.5 365.9h1.2v1.2h-1.2z"/><path d="M627.6 364.9h1.2v1.2h-1.2z"/><path d="M621.8 365.4h1.2v1.2h-1.2z"/><path d="M658.5 381.6h1.2v1.2h-1.2z"/><path d="M625.3 374.2h1.2v1.2h-1.2z"/><path d="M666.9 371.3h1.2v1.2h-1.2z"/><path d="M623.9 374.0h1.2v1.2h-1.2z"/><path d="M645.2 375.7h1.2v1.2h-1.2z"/><path d="M658.4 369.5h1.2v1.2h-1.2z"/><path d="M629.7 363.7h1.2v1.2h-1.2z"/><path d="M632.9 372.4h1.2v1.2h-1.2z"/><path d="M676.2 393.5h1.2v1.2h-1.2z"/><path d="M655.0 363.1h1.2v1.2h-1.2z"/><path d="M652.2 375.7h1.2v1.2h-1.2z"/><path d="M662.7 376.1h1.2v1.2h-1.2z"/><path d="M650.0 368.1h1.2v1.2h-1.2z"/><path d="M622.0 367.7h1.2v1.2h-1.2z"/><path d="M670.2 372.0h1.2v1.2h-1.2z"/><path d="M626.5 373.6h1.2v1.2h-1.2z"/><path d="M627.0 399.2h1.2v1.2h-1.2z"/><path d="M668.7 385.4h1.2v1.2h-1.2z"/><path d="M661.3 384.4h1.2v1.2h-1.2z"/><path d="M613.9 374.3h1.2v1.2h-1.2z"/><path d="M654.2 380.4h1.2v1.2h-1.2z"/><path d="M659.5 357.6h1.2v1.2h-1.2z"/><path d="M614.3 378.4h1.2v1.2h-1.2z"/><path d="M663.6 374.4h1.2v1.2h-1.2z"/><path d="M662.5 366.7h1.2v1.2h-1.2z"/><path d="M664.8 373.3h1.2v1.2h-1.2z"/><path d="M614.3 373.7h1.2v1.2h-1.2z"/><path d="M675.5 374.5h1.2v1.2h-1.2z"/><path d="M631.4 376.4h1.2v1.2h-1.2z"/><path d="M643.1 356.2h1.2v1.2h-1.2z"/><path d="M675.9 377.5h1.2v1.2h-1.2z"/><path d="M673.8 351.4h1.2v1.2h-1.2z"/><path d="M612.6 374.0h1.2v1.2h-1.2z"/><path d="M625.5 366.8h1.2v1.2h-1.2z"/><path d="M626.6 377.5h1.2v1.2h-1.2z"/><path d="M632.7 373.7h1.2v1.2h-1.2z"/><path d="M614.6 385.7h1.2v1.2h-1.2z"/><path d="M652.3 373.8h1.2v1.2h-1.2z"/><path d="M638.6 375.0h1.2v1.2h-1.2z"/><path d="M631.3 365.0h1.2v1.2h-1.2z"/><path d="M655.6 367.9h1.2v1.2h-1.2z"/><path d="M624.6 354.0h1.2v1.2h-1.2z"/><path d="M664.1 373.0h1.2v1.2h-1.2z"/><path d="M630.9 361.0h1.2v1.2h-1.2z"/><path d="M642.0 378.0h1.2v1.2h-1.2z"/><path d="M624.7 376.1h1.2v1.2h-1.2z"/><path d="M614.4 389.1h1.2v1.2h-1.2z"/><path d="M654.6 378.8h1.2v1.2h-1.2z"/><path d="M645.7 378.4h1.2v1.2h-1.2z"/><path d="M662.2 389.4h1.2v1.2h-1.2z"/><path d="M645.9 375.8h1.2v1.2h-1.2z"/><path d="M630.0 386.8h1.2v1.2h-1.2z"/><path d="M622.2 385.9h1.2v1.2h-1.2z"/><path d="M646.9 390.1h1.2v1.2h-1.2z"/><path d="M671.2 377.7h1.2v1.2h-1.2z"/><path d="M637.9 380.9h1.2v1.2h-1.2z"/><path d="M611.7 370.0h1.2v1.2h-1.2z"/><path d="M635.9 385.8h1.2v1.2h-1.2z"/><path d="M669.2 361.4h1.2v1.2h-1.2z"/><path d="M643.4 367.3h1.2v1.2h-1.2z"/><path d="M658.9 373.8h1.2v1.2h-1.2z"/><path d="M675.3 374.3h1.2v1.2h-1.2z"/><path d="M659.5 377.4h1.2v1.2h-1.2z"/><path d="M619.5 377.5h1.2v1.2h-1.2z"/><path d="M648.9 375.4h1.2v1.2h-1.2z"/><path d="M636.8 375.5h1.2v1.2h-1.2z"/><path d="M610.1 373.5h1.2v1.2h-1.2z"/><path d="M618.5 383.8h1.2v1.2h-1.2z"/><path d="M610.0 373.5h1.2v1.2h-1.2z"/><path d="M625.5 381.5h1.2v1.2h-1.2z"/><path d="M631.3 368.4h1.2v1.2h-1.2z"/><path d="M610.4 380.8h1.2v1.2h-1.2z"/><path d="M663.2 373.1h1.2v1.2h-1.2z"/><path d="M610.0 362.4h1.2v1.2h-1.2z"/><path d="M620.1 383.0h1.2v1.2h-1.2z"/><path d="M618.6 367.5h1.2v1.2h-1.2z"/><path d="M661.8 378.0h1.2v1.2h-1.2z"/><path d="M637.3 370.8h1.2v1.2h-1.2z"/><path d="M641.6 380.5h1.2v1.2h-1.2z"/><path d="M645.9 379.9h1.2v1.2h-1.2z"/><path d="M650.1 364.4h1.2v1.2h-1.2z"/><path d="M628.9 363.9h1.2v1.2h-1.2z"/><path d="M612.1 393.0h1.2v1.2h-1.2z"/><path d="M665.5 375.9h1.2v1.2h-1.2z"/><path d="M668.9 389.2h1.2v1.2h-1.2z"/><path d="M616.8 381.9h1.2v1.2h-1.2z"/><path d="M626.9 380.1h1.2v1.2h-1.2z"/><path d="M661.7 392.9h1.2v1.2h-1.2z"/><path d="M662.8 356.8h1.2v1.2h-1.2z"/><path d="M621.6 389.9h1.2v1.2h-1.2z"/><path d="M642.6 370.6h1.2v1.2h-1.2z"/><path d="M629.2 367.5h1.2v1.2h-1.2z"/><path d="M613.4 375.8h1.2v1.2h-1.2z"/><path d="M615.0 367.9h1.2v1.2h-1.2z"/><path d="M622.7 364.9h1.2v1.2h-1.2z"/><path d="M639.0 363.0h1.2v1.2h-1.2z"/><path d="M664.5 374.1h1.2v1.2h-1.2z"/><path d="M639.7 367.1h1.2v1.2h-1.2z"/><path d="M616.7 374.3h1.2v1.2h-1.2z"/><path d="M612.4 379.6h1.2v1.2h-1.2z"/><path d="M627.1 385.0h1.2v1.2h-1.2z"/><path d="M612.8 364.4h1.2v1.2h-1.2z"/><path d="M619.3 363.7h1.2v1.2h-1.2z"/><path d="M610.6 367.3h1.2v1.2h-1.2z"/><path d="M613.1 361.6h1.2v1.2h-1.2z"/><path d="M612.5 368.5h1.2v1.2h-1.2z"/><path d="M657.9 374.8h1.2v1.2h-1.2z"/><path d="M639.3 387.3h1.2v1.2h-1.2z"/><path d="M626.5 383.5h1.2v1.2h-1.2z"/><path d="M631.9 370.7h1.2v1.2h-1.2z"/><path d="M640.1 389.8h1.2v1.2h-1.2z"/><path d="M657.7 348.9h1.2v1.2h-1.2z"/><path d="M640.0 371.1h1.2v1.2h-1.2z"/><path d="M673.5 360.0h1.2v1.2h-1.2z"/><path d="M674.5 374.4h1.2v1.2h-1.2z"/><path d="M642.2 367.0h1.2v1.2h-1.2z"/><path d="M633.0 376.1h1.2v1.2h-1.2z"/><path d="M619.4 391.3h1.2v1.2h-1.2z"/><path d="M652.9 363.5h1.2v1.2h-1.2z"/><path d="M652.7 374.7h1.2v1.2h-1.2z"/><path d="M654.1 371.6h1.2v1.2h-1.2z"/><path d="M660.1 372.7h1.2v1.2h-1.2z"/><path d="M636.9 388.8h1.2v1.2h-1.2z"/><path d="M671.9 365.1h1.2v1.2h-1.2z"/><path d="M610.6 377.1h1.2v1.2h-1.2z"/><path d="M635.1 365.6h1.2v1.2h-1.2z"/><path d="M613.6 372.3h1.2v1.2h-1.2z"/><path d="M636.1 379.5h1.2v1.2h-1.2z"/><path d="M633.3 376.6h1.2v1.2h-1.2z"/><path d="M627.0 361.7h1.2v1.2h-1.2z"/><path d="M629.6 374.0h1.2v1.2h-1.2z"/><path d="M614.9 386.7h1.2v1.2h-1.2z"/><path d="M674.4 375.5h1.2v1.2h-1.2z"/><path d="M622.9 368.8h1.2v1.2h-1.2z"/><path d="M655.5 381.0h1.2v1.2h-1.2z"/><path d="M636.7 374.3h1.2v1.2h-1.2z"/><path d="M614.8 373.0h1.2v1.2h-1.2z"/><path d="M618.6 367.1h1.2v1.2h-1.2z"/><path d="M629.4 381.4h1.2v1.2h-1.2z"/><path d="M674.0 361.9h1.2v1.2h-1.2z"/><path d="M673.8 378.9h1.2v1.2h-1.2z"/><path d="M647.7 358.5h1.2v1.2h-1.2z"/><path d="M626.1 363.5h1.2v1.2h-1.2z"/><path d="M610.9 385.9h1.2v1.2h-1.2z"/><path d="M643.2 370.7h1.2v1.2h-1.2z"/><path d="M612.0 373.7h1.2v1.2h-1.2z"/><path d="M647.7 364.3h1.2v1.2h-1.2z"/><path d="M623.0 382.4h1.2v1.2h-1.2z"/><path d="M622.5 369.3h1.2v1.2h-1.2z"/><path d="M667.9 375.4h1.2v1.2h-1.2z"/><path d="M636.3 381.8h1.2v1.2h-1.2z"/><path d="M675.3 379.1h1.2v1.2h-1.2z"/><path d="M659.8 378.6h1.2v1.2h-1.2z"/><path d="M612.3 359.0h1.2v1.2h-1.2z"/><path d="M653.1 383.0h1.2v1.2h-1.2z"/><path d="M659.6 389.6h1.2v1.2h-1.2z"/><path d="M627.6 388.1h1.2v1.2h-1.2z"/><path d="M661.3 353.3h1.2v1.2h-1.2z"/><path d="M635.7 377.7h1.2v1.2h-1.2z"/><path d="M621.5 380.8h1.2v1.2h-1.2z"/><path d="M611.4 383.5h1.2v1.2h-1.2z"/><path d="M616.4 383.2h1.2v1.2h-1.2z"/><path d="M665.3 364.7h1.2v1.2h-1.2z"/><path d="M615.7 362.8h1.2v1.2h-1.2z"/><path d="M613.7 375.4h1.2v1.2h-1.2z"/><path d="M621.8 388.1h1.2v1.2h-1.2z"/><path d="M637.8 366.4h1.2v1.2h-1.2z"/><path d="M645.2 389.9h1.2v1.2h-1.2z"/><path d="M644.1 355.0h1.2v1.2h-1.2z"/><path d="M611.4 378.2h1.2v1.2h-1.2z"/><path d="M620.5 369.7h1.2v1.2h-1.2z"/><path d="M615.1 360.8h1.2v1.2h-1.2z"/><path d="M634.4 373.0h1.2v1.2h-1.2z"/><path d="M635.1 384.1h1.2v1.2h-1.2z"/><path d="M639.9 386.3h1.2v1.2h-1.2z"/><path d="M624.6 385.9h1.2v1.2h-1.2z"/><path d="M670.3 353.5h1.2v1.2h-1.2z"/><path d="M675.7 383.0h1.2v1.2h-1.2z"/><path d="M633.7 378.2h1.2v1.2h-1.2z"/><path d="M621.4 373.2h1.2v1.2h-1.2z"/><path d="M615.1 352.3h1.2v1.2h-1.2z"/><path d="M637.6 394.5h1.2v1.2h-1.2z"/><path d="M633.8 369.7h1.2v1.2h-1.2z"/><path d="M613.6 362.4h1.2v1.2h-1.2z"/><path d="M659.0 377.3h1.2v1.2h-1.2z"/><path d="M617.5 368.7h1.2v1.2h-1.2z"/><path d="M610.2 370.6h1.2v1.2h-1.2z"/><path d="M656.1 371.1h1.2v1.2h-1.2z"/><path d="M631.9 380.3h1.2v1.2h-1.2z"/><path d="M666.5 370.8h1.2v1.2h-1.2z"/><path d="M619.8 378.1h1.2v1.2h-1.2z"/><path d="M612.4 375.3h1.2v1.2h-1.2z"/><path d="M629.6 383.2h1.2v1.2h-1.2z"/><path d="M653.5 372.4h1.2v1.2h-1.2z"/><path d="M610.8 361.6h1.2v1.2h-1.2z"/><path d="M613.3 372.8h1.2v1.2h-1.2z"/><path d="M643.0 365.6h1.2v1.2h-1.2z"/><path d="M662.6 377.0h1.2v1.2h-1.2z"/><path d="M651.5 377.4h1.2v1.2h-1.2z"/><path d="M611.4 377.3h1.2v1.2h-1.2z"/><path d="M621.8 356.8h1.2v1.2h-1.2z"/><path d="M674.3 354.1h1.2v1.2h-1.2z"/><path d="M665.4 386.6h1.2v1.2h-1.2z"/><path d="M657.1 386.5h1.2v1.2h-1.2z"/><path d="M635.3 387.5h1.2v1.2h-1.2z"/><path d="M614.2 373.6h1.2v1.2h-1.2z"/><path d="M619.1 383.4h1.2v1.2h-1.2z"/><path d="M646.3 384.0h1.2v1.2h-1.2z"/><path d="M664.9 375.4h1.2v1.2h-1.2z"/><path d="M674.6 374.1h1.2v1.2h-1.2z"/><path d="M621.8 372.2h1.2v1.2h-1.2z"/><path d="M613.9 394.0h1.2v1.2h-1.2z"/><path d="M659.6 384.2h1.2v1.2h-1.2z"/><path d="M645.1 366.2h1.2v1.2h-1.2z"/><path d="M610.1 363.2h1.2v1.2h-1.2z"/><path d="M657.8 365.4h1.2v1.2h-1.2z"/><path d="M638.4 379.4h1.2v1.2h-1.2z"/><path d="M648.5 378.7h1.2v1.2h-1.2z"/><path d="M612.5 380.0h1.2v1.2h-1.2z"/><path d="M659.8 378.7h1.2v1.2h-1.2z"/><path d="M640.5 358.0h1.2v1.2h-1.2z"/><path d="M643.1 394.2h1.2v1.2h-1.2z"/><path d="M620.4 356.0h1.2v1.2h-1.2z"/><path d="M628.3 366.1h1.2v1.2h-1.2z"/><path d="M632.7 347.9h1.2v1.2h-1.2z"/><path d="M647.4 360.2h1.2v1.2h-1.2z"/><path d="M617.3 366.3h1.2v1.2h-1.2z"/><path d="M635.3 369.7h1.2v1.2h-1.2z"/><path d="M653.2 385.8h1.2v1.2h-1.2z"/><path d="M624.9 375.5h1.2v1.2h-1.2z"/><path d="M644.4 378.8h1.2v1.2h-1.2z"/><path d="M646.7 363.9h1.2v1.2h-1.2z"/><path d="M623.3 373.6h1.2v1.2h-1.2z"/><path d="M639.5 385.9h1.2v1.2h-1.2z"/><path d="M619.5 375.1h1.2v1.2h-1.2z"/><path d="M627.5 362.3h1.2v1.2h-1.2z"/><path d="M621.3 385.2h1.2v1.2h-1.2z"/><path d="M671.7 355.6h1.2v1.2h-1.2z"/><path d="M620.9 386.7h1.2v1.2h-1.2z"/><path d="M610.5 380.1h1.2v1.2h-1.2z"/><path d="M664.8 370.1h1.2v1.2h-1.2z"/><path d="M633.1 365.8h1.2v1.2h-1.2z"/><path d="M650.8 379.1h1.2v1.2h-1.2z"/><path d="M659.1 382.1h1.2v1.2h-1.2z"/><path d="M650.6 370.0h1.2v1.2h-1.2z"/><path d="M619.2 371.6h1.2v1.2h-1.2z"/><path d="M621.4 388.0h1.2v1.2h-1.2z"/><path d="M642.5 376.8h1.2v1.2h-1.2z"/><path d="M670.5 352.9h1.2v1.2h-1.2z"/><path d="M635.0 366.5h1.2v1.2h-1.2z"/><path d="M638.5 371.8h1.2v1.2h-1.2z"/><path d="M671.5 385.0h1.2v1.2h-1.2z"/><path d="M636.3 383.3h1.2v1.2h-1.2z"/><path d="M618.1 374.1h1.2v1.2h-1.2z"/><path d="M646.3 362.7h1.2v1.2h-1.2z"/><path d="M670.7 373.3h1.2v1.2h-1.2z"/><path d="M657.1 376.1h1.2v1.2h-1.2z"/><path d="M652.2 375.3h1.2v1.2h-1.2z"/><path d="M644.2 367.2h1.2v1.2h-1.2z"/><path d="M610.9 364.4h1.2v1.2h-1.2z"/><path d="M633.8 380.9h1.2v1.2h-1.2z"/><path d="M611.2 362.3h1.2v1.2h-1.2z"/><path d="M614.5 384.4h1.2v1.2h-1.2z"/><path d="M616.4 366.9h1.2v1.2h-1.2z"/><path d="M652.7 391.8h1.2v1.2h-1.2z"/><path d="M647.9 364.9h1.2v1.2h-1.2z"/><path d="M660.7 383.5h1.2v1.2h-1.2z"/><path d="M661.0 379.8h1.2v1.2h-1.2z"/><path d="M626.6 386.4h1.2v1.2h-1.2z"/><path d="M652.5 389.7h1.2v1.2h-1.2z"/><path d="M610.1 385.8h1.2v1.2h-1.2z"/><path d="M673.0 379.0h1.2v1.2h-1.2z"/><path d="M645.8 377.4h1.2v1.2h-1.2z"/><path d="M642.7 370.7h1.2v1.2h-1.2z"/><path d="M617.3 371.2h1.2v1.2h-1.2z"/><path d="M634.7 378.9h1.2v1.2h-1.2z"/><path d="M611.2 366.0h1.2v1.2h-1.2z"/><path d="M668.8 362.0h1.2v1.2h-1.2z"/><path d="M657.5 391.9h1.2v1.2h-1.2z"/><path d="M640.3 383.2h1.2v1.2h-1.2z"/><path d="M671.5 369.9h1.2v1.2h-1.2z"/><path d="M652.5 374.2h1.2v1.2h-1.2z"/><path d="M616.9 386.4h1.2v1.2h-1.2z"/><path d="M668.6 372.8h1.2v1.2h-1.2z"/><path d="M636.7 367.2h1.2v1.2h-1.2z"/><path d="M652.9 387.1h1.2v1.2h-1.2z"/><path d="M634.4 372.3h1.2v1.2h-1.2z"/><path d="M653.3 384.3h1.2v1.2h-1.2z"/><path d="M619.8 380.3h1.2v1.2h-1.2z"/><path d="M648.9 383.6h1.2v1.2h-1.2z"/><path d="M612.0 370.4h1.2v1.2h-1.2z"/><path d="M622.0 375.2h1.2v1.2h-1.2z"/><path d="M612.8 365.5h1.2v1.2h-1.2z"/><path d="M636.2 385.8h1.2v1.2h-1.2z"/><path d="M611.3 361.3h1.2v1.2h-1.2z"/><path d="M652.4 365.7h1.2v1.2h-1.2z"/><path d="M649.4 366.1h1.2v1.2h-1.2z"/><path d="M638.8 380.3h1.2v1.2h-1.2z"/><path d="M614.7 388.1h1.2v1.2h-1.2z"/><path d="M624.6 381.7h1.2v1.2h-1.2z"/><path d="M638.0 363.6h1.2v1.2h-1.2z"/><path d="M652.9 364.2h1.2v1.2h-1.2z"/><path d="M641.0 374.5h1.2v1.2h-1.2z"/><path d="M610.5 372.3h1.2v1.2h-1.2z"/><path d="M676.6 376.3h1.2v1.2h-1.2z"/><path d="M669.1 370.7h1.2v1.2h-1.2z"/><path d="M664.7 369.2h1.2v1.2h-1.2z"/><path d="M623.0 378.9h1.2v1.2h-1.2z"/><path d="M644.9 360.3h1.2v1.2h-1.2z"/><path d="M655.4 371.9h1.2v1.2h-1.2z"/><path d="M640.3 392.8h1.2v1.2h-1.2z"/><path d="M656.7 378.1h1.2v1.2h-1.2z"/><path d="M631.1 367.5h1.2v1.2h-1.2z"/><path d="M627.9 392.1h1.2v1.2h-1.2z"/><path d="M651.0 383.5h1.2v1.2h-1.2z"/><path d="M636.5 354.2h1.2v1.2h-1.2z"/><path d="M612.1 368.2h1.2v1.2h-1.2z"/><path d="M627.6 369.2h1.2v1.2h-1.2z"/><path d="M637.0 362.6h1.2v1.2h-1.2z"/><path d="M621.6 376.5h1.2v1.2h-1.2z"/><path d="M626.5 388.7h1.2v1.2h-1.2z"/><path d="M671.6 395.6h1.2v1.2h-1.2z"/><path d="M622.6 358.7h1.2v1.2h-1.2z"/><path d="M638.2 381.5h1.2v1.2h-1.2z"/><path d="M612.3 379.8h1.2v1.2h-1.2z"/><path d="M637.3 390.3h1.2v1.2h-1.2z"/><path d="M628.0 369.5h1.2v1.2h-1.2z"/><path d="M622.6 377.0h1.2v1.2h-1.2z"/><path d="M663.8 372.6h1.2v1.2h-1.2z"/><path d="M664.7 396.3h1.2v1.2h-1.2z"/><path d="M648.0 384.3h1.2v1.2h-1.2z"/><path d="M629.6 361.8h1.2v1.2h-1.2z"/><path d="M639.1 380.2h1.2v1.2h-1.2z"/><path d="M665.7 381.0h1.2v1.2h-1.2z"/><path d="M610.1 368.6h1.2v1.2h-1.2z"/><path d="M658.4 365.3h1.2v1.2h-1.2z"/><path d="M612.3 362.3h1.2v1.2h-1.2z"/><path d="M612.3 381.6h1.2v1.2h-1.2z"/><path d="M635.3 368.3h1.2v1.2h-1.2z"/><path d="M674.7 378.8h1.2v1.2h-1.2z"/><path d="M611.8 387.4h1.2v1.2h-1.2z"/><path d="M641.6 373.6h1.2v1.2h-1.2z"/><path d="M656.9 368.2h1.2v1.2h-1.2z"/><path d="M674.3 382.1h1.2v1.2h-1.2z"/><path d="M672.5 358.3h1.2v1.2h-1.2z"/><path d="M653.5 356.2h1.2v1.2h-1.2z"/><path d="M660.6 368.5h1.2v1.2h-1.2z"/><path d="M646.7 370.9h1.2v1.2h-1.2z"/><path d="M626.4 368.5h1.2v1.2h-1.2z"/><path d="M625.6 385.0h1.2v1.2h-1.2z"/><path d="M623.4 360.5h1.2v1.2h-1.2z"/><path d="M676.5 377.3h1.2v1.2h-1.2z"/><path d="M625.7 375.3h1.2v1.2h-1.2z"/><path d="M612.4 383.0h1.2v1.2h-1.2z"/><path d="M629.6 371.1h1.2v1.2h-1.2z"/><path d="M664.6 360.2h1.2v1.2h-1.2z"/><path d="M633.0 371.1h1.2v1.2h-1.2z"/><path d="M634.4 381.8h1.2v1.2h-1.2z"/><path d="M639.0 371.9h1.2v1.2h-1.2z"/><path d="M635.7 377.6h1.2v1.2h-1.2z"/><path d="M637.7 378.4h1.2v1.2h-1.2z"/><path d="M660.0 370.8h1.2v1.2h-1.2z"/><path d="M671.4 375.4h1.2v1.2h-1.2z"/><path d="M615.1 376.3h1.2v1.2h-1.2z"/><path d="M648.2 372.0h1.2v1.2h-1.2z"/><path d="M615.5 373.3h1.2v1.2h-1.2z"/><path d="M656.5 384.4h1.2v1.2h-1.2z"/><path d="M632.7 365.2h1.2v1.2h-1.2z"/><path d="M638.7 379.0h1.2v1.2h-1.2z"/><path d="M622.8 380.2h1.2v1.2h-1.2z"/><path d="M614.8 372.1h1.2v1.2h-1.2z"/><path d="M640.7 364.5h1.2v1.2h-1.2z"/><path d="M611.0 386.9h1.2v1.2h-1.2z"/><path d="M650.3 358.9h1.2v1.2h-1.2z"/><path d="M624.0 391.2h1.2v1.2h-1.2z"/><path d="M632.6 368.9h1.2v1.2h-1.2z"/><path d="M622.9 385.3h1.2v1.2h-1.2z"/><path d="M649.8 360.7h1.2v1.2h-1.2z"/><path d="M623.5 382.3h1.2v1.2h-1.2z"/><path d="M634.2 359.1h1.2v1.2h-1.2z"/><path d="M648.5 368.4h1.2v1.2h-1.2z"/><path d="M632.3 378.2h1.2v1.2h-1.2z"/><path d="M615.5 376.5h1.2v1.2h-1.2z"/><path d="M617.4 380.0h1.2v1.2h-1.2z"/><path d="M626.5 387.5h1.2v1.2h-1.2z"/><path d="M669.1 374.8h1.2v1.2h-1.2z"/><path d="M617.4 381.5h1.2v1.2h-1.2z"/><path d="M615.4 368.6h1.2v1.2h-1.2z"/><path d="M621.1 362.0h1.2v1.2h-1.2z"/><path d="M661.0 369.2h1.2v1.2h-1.2z"/><path d="M645.1 364.6h1.2v1.2h-1.2z"/><path d="M648.8 369.9h1.2v1.2h-1.2z"/><path d="M628.0 375.6h1.2v1.2h-1.2z"/><path d="M672.3 364.0h1.2v1.2h-1.2z"/><path d="M612.9 384.2h1.2v1.2h-1.2z"/><path d="M658.0 380.4h1.2v1.2h-1.2z"/><path d="M628.5 366.7h1.2v1.2h-1.2z"/><path d="M638.1 373.9h1.2v1.2h-1.2z"/><path d="M614.7 380.9h1.2v1.2h-1.2z"/><path d="M651.1 349.0h1.2v1.2h-1.2z"/><path d="M673.7 372.5h1.2v1.2h-1.2z"/><path d="M666.3 391.9h1.2v1.2h-1.2z"/><path d="M610.5 367.5h1.2v1.2h-1.2z"/><path d="M614.7 394.1h1.2v1.2h-1.2z"/><path d="M645.7 370.9h1.2v1.2h-1.2z"/><path d="M646.0 364.3h1.2v1.2h-1.2z"/><path d="M615.5 378.1h1.2v1.2h-1.2z"/><path d="M640.7 373.2h1.2v1.2h-1.2z"/><path d="M665.9 379.0h1.2v1.2h-1.2z"/><path d="M642.6 379.9h1.2v1.2h-1.2z"/><path d="M642.8 368.1h1.2v1.2h-1.2z"/><path d="M622.6 377.3h1.2v1.2h-1.2z"/><path d="M648.1 368.0h1.2v1.2h-1.2z"/><path d="M641.2 372.1h1.2v1.2h-1.2z"/><path d="M636.3 377.6h1.2v1.2h-1.2z"/><path d="M638.8 376.8h1.2v1.2h-1.2z"/><path d="M617.5 367.9h1.2v1.2h-1.2z"/><path d="M624.3 376.4h1.2v1.2h-1.2z"/><path d="M647.0 367.1h1.2v1.2h-1.2z"/><path d="M610.8 387.7h1.2v1.2h-1.2z"/><path d="M637.0 381.7h1.2v1.2h-1.2z"/><path d="M613.9 350.6h1.2v1.2h-1.2z"/><path d="M629.8 378.0h1.2v1.2h-1.2z"/><path d="M641.3 363.6h1.2v1.2h-1.2z"/><path d="M611.1 379.7h1.2v1.2h-1.2z"/><path d="M667.0 365.9h1.2v1.2h-1.2z"/><path d="M623.1 369.6h1.2v1.2h-1.2z"/><path d="M617.6 391.5h1.2v1.2h-1.2z"/><path d="M628.9 366.2h1.2v1.2h-1.2z"/><path d="M644.7 367.7h1.2v1.2h-1.2z"/><path d="M610.8 371.8h1.2v1.2h-1.2z"/><path d="M654.9 380.7h1.2v1.2h-1.2z"/><path d="M610.3 385.0h1.2v1.2h-1.2z"/><path d="M610.5 381.5h1.2v1.2h-1.2z"/><path d="M645.4 386.5h1.2v1.2h-1.2z"/><path d="M676.2 367.5h1.2v1.2h-1.2z"/><path d="M610.2 363.7h1.2v1.2h-1.2z"/><path d="M673.4 354.3h1.2v1.2h-1.2z"/><path d="M611.1 375.4h1.2v1.2h-1.2z"/><path d="M663.0 367.1h1.2v1.2h-1.2z"/><path d="M630.8 375.1h1.2v1.2h-1.2z"/><path d="M612.3 367.9h1.2v1.2h-1.2z"/><path d="M652.3 370.6h1.2v1.2h-1.2z"/><path d="M616.9 368.9h1.2v1.2h-1.2z"/><path d="M653.1 361.1h1.2v1.2h-1.2z"/><path d="M672.7 369.7h1.2v1.2h-1.2z"/><path d="M630.2 388.5h1.2v1.2h-1.2z"/><path d="M667.9 381.7h1.2v1.2h-1.2z"/><path d="M644.5 358.9h1.2v1.2h-1.2z"/><path d="M621.7 396.0h1.2v1.2h-1.2z"/><path d="M672.7 359.6h1.2v1.2h-1.2z"/><path d="M626.4 380.6h1.2v1.2h-1.2z"/><path d="M663.4 360.4h1.2v1.2h-1.2z"/><path d="M660.3 364.4h1.2v1.2h-1.2z"/><path d="M659.8 376.8h1.2v1.2h-1.2z"/><path d="M648.6 354.3h1.2v1.2h-1.2z"/><path d="M610.8 369.0h1.2v1.2h-1.2z"/><path d="M610.2 369.6h1.2v1.2h-1.2z"/><path d="M663.6 375.0h1.2v1.2h-1.2z"/><path d="M612.9 379.3h1.2v1.2h-1.2z"/><path d="M614.9 369.2h1.2v1.2h-1.2z"/><path d="M656.4 369.5h1.2v1.2h-1.2z"/><path d="M644.2 364.8h1.2v1.2h-1.2z"/><path d="M641.0 385.3h1.2v1.2h-1.2z"/><path d="M640.0 370.2h1.2v1.2h-1.2z"/><path d="M634.6 361.0h1.2v1.2h-1.2z"/><path d="M613.9 382.1h1.2v1.2h-1.2z"/><path d="M651.5 389.2h1.2v1.2h-1.2z"/><path d="M640.3 366.7h1.2v1.2h-1.2z"/><path d="M627.3 377.6h1.2v1.2h-1.2z"/><path d="M640.0 376.5h1.2v1.2h-1.2z"/><path d="M666.8 378.2h1.2v1.2h-1.2z"/><path d="M656.0 369.3h1.2v1.2h-1.2z"/><path d="M660.7 354.4h1.2v1.2h-1.2z"/><path d="M617.6 376.5h1.2v1.2h-1.2z"/><path d="M626.2 358.0h1.2v1.2h-1.2z"/><path d="M633.6 372.6h1.2v1.2h-1.2z"/><path d="M624.1 380.7h1.2v1.2h-1.2z"/><path d="M631.7 366.6h1.2v1.2h-1.2z"/><path d="M619.6 358.4h1.2v1.2h-1.2z"/><path d="M627.9 375.7h1.2v1.2h-1.2z"/><path d="M649.2 372.5h1.2v1.2h-1.2z"/><path d="M673.7 374.1h1.2v1.2h-1.2z"/><path d="M623.3 349.8h1.2v1.2h-1.2z"/><path d="M618.6 366.8h1.2v1.2h-1.2z"/><path d="M611.9 375.6h1.2v1.2h-1.2z"/><path d="M664.3 379.5h1.2v1.2h-1.2z"/><path d="M638.4 381.7h1.2v1.2h-1.2z"/><path d="M638.0 376.1h1.2v1.2h-1.2z"/><path d="M616.9 366.5h1.2v1.2h-1.2z"/><path d="M633.4 394.3h1.2v1.2h-1.2z"/><path d="M620.1 370.0h1.2v1.2h-1.2z"/><path d="M638.6 371.2h1.2v1.2h-1.2z"/><path d="M648.1 384.7h1.2v1.2h-1.2z"/><path d="M624.6 380.7h1.2v1.2h-1.2z"/><path d="M655.7 357.6h1.2v1.2h-1.2z"/><path d="M645.0 359.4h1.2v1.2h-1.2z"/><path d="M617.4 380.1h1.2v1.2h-1.2z"/><path d="M661.0 388.3h1.2v1.2h-1.2z"/><path d="M611.8 366.9h1.2v1.2h-1.2z"/><path d="M634.9 378.1h1.2v1.2h-1.2z"/><path d="M666.1 358.6h1.2v1.2h-1.2z"/><path d="M657.3 368.0h1.2v1.2h-1.2z"/><path d="M622.7 366.9h1.2v1.2h-1.2z"/><path d="M635.4 367.4h1.2v1.2h-1.2z"/><path d="M639.4 371.0h1.2v1.2h-1.2z"/><path d="M663.3 368.7h1.2v1.2h-1.2z"/><path d="M616.2 366.5h1.2v1.2h-1.2z"/><path d="M675.7 391.9h1.2v1.2h-1.2z"/><path d="M628.2 376.6h1.2v1.2h-1.2z"/><path d="M673.1 373.2h1.2v1.2h-1.2z"/><path d="M618.3 390.5h1.2v1.2h-1.2z"/><path d="M616.3 377.7h1.2v1.2h-1.2z"/><path d="M656.3 379.1h1.2v1.2h-1.2z"/><path d="M627.6 374.2h1.2v1.2h-1.2z"/><path d="M612.7 364.9h1.2v1.2h-1.2z"/><path d="M655.2 375.7h1.2v1.2h-1.2z"/><path d="M636.7 392.8h1.2v1.2h-1.2z"/><path d="M616.8 369.8h1.2v1.2h-1.2z"/><path d="M669.9 384.2h1.2v1.2h-1.2z"/><path d="M639.1 366.1h1.2v1.2h-1.2z"/><path d="M616.7 371.0h1.2v1.2h-1.2z"/><path d="M618.1 380.4h1.2v1.2h-1.2z"/><path d="M645.5 366.3h1.2v1.2h-1.2z"/><path d="M642.5 389.2h1.2v1.2h-1.2z"/><path d="M662.4 390.5h1.2v1.2h-1.2z"/><path d="M637.8 384.1h1.2v1.2h-1.2z"/><path d="M646.9 375.1h1.2v1.2h-1.2z"/><path d="M630.8 389.4h1.2v1.2h-1.2z"/><path d="M653.8 369.3h1.2v1.2h-1.2z"/><path d="M624.0 371.2h1.2v1.2h-1.2z"/><path d="M656.3 388.1h1.2v1.2h-1.2z"/><path d="M640.5 375.4h1.2v1.2h-1.2z"/><path d="M653.3 368.6h1.2v1.2h-1.2z"/><path d="M635.6 384.0h1.2v1.2h-1.2z"/><path d="M656.0 384.7h1.2v1.2h-1.2z"/><path d="M621.6 379.3h1.2v1.2h-1.2z"/><path d="M643.7 373.6h1.2v1.2h-1.2z"/><path d="M620.0 380.8h1.2v1.2h-1.2z"/><path d="M668.0 360.5h1.2v1.2h-1.2z"/><path d="M654.9 389.6h1.2v1.2h-1.2z"/><path d="M622.1 372.8h1.2v1.2h-1.2z"/><path d="M671.2 373.6h1.2v1.2h-1.2z"/><path d="M646.8 383.2h1.2v1.2h-1.2z"/><path d="M636.9 381.9h1.2v1.2h-1.2z"/><path d="M649.9 368.6h1.2v1.2h-1.2z"/><path d="M646.2 395.3h1.2v1.2h-1.2z"/><path d="M612.2 382.7h1.2v1.2h-1.2z"/><path d="M624.3 355.1h1.2v1.2h-1.2z"/><path d="M653.0 387.2h1.2v1.2h-1.2z"/><path d="M612.1 358.1h1.2v1.2h-1.2z"/><path d="M663.2 374.2h1.2v1.2h-1.2z"/><path d="M651.1 392.0h1.2v1.2h-1.2z"/><path d="M634.8 388.7h1.2v1.2h-1.2z"/><path d="M676.5 363.6h1.2v1.2h-1.2z"/><path d="M673.4 359.4h1.2v1.2h-1.2z"/><path d="M649.8 366.8h1.2v1.2h-1.2z"/><path d="M630.4 362.1h1.2v1.2h-1.2z"/><path d="M619.1 374.1h1.2v1.2h-1.2z"/><path d="M621.7 384.8h1.2v1.2h-1.2z"/><path d="M651.9 358.0h1.2v1.2h-1.2z"/><path d="M651.2 361.0h1.2v1.2h-1.2z"/><path d="M649.5 373.2h1.2v1.2h-1.2z"/><path d="M610.1 349.2h1.2v1.2h-1.2z"/><path d="M618.6 383.2h1.2v1.2h-1.2z"/><path d="M634.9 380.8h1.2v1.2h-1.2z"/><path d="M662.1 377.6h1.2v1.2h-1.2z"/><path d="M610.8 379.4h1.2v1.2h-1.2z"/><path d="M665.7 356.9h1.2v1.2h-1.2z"/><path d="M621.5 382.8h1.2v1.2h-1.2z"/><path d="M633.8 370.0h1.2v1.2h-1.2z"/><path d="M672.7 359.5h1.2v1.2h-1.2z"/><path d="M613.8 369.8h1.2v1.2h-1.2z"/><path d="M610.1 373.6h1.2v1.2h-1.2z"/><path d="M662.1 378.7h1.2v1.2h-1.2z"/><path d="M621.0 388.5h1.2v1.2h-1.2z"/><path d="M617.8 370.0h1.2v1.2h-1.2z"/><path d="M653.0 368.9h1.2v1.2h-1.2z"/><path d="M612.3 385.1h1.2v1.2h-1.2z"/><path d="M662.8 377.1h1.2v1.2h-1.2z"/><path d="M651.4 361.2h1.2v1.2h-1.2z"/><path d="M626.5 380.2h1.2v1.2h-1.2z"/><path d="M655.3 380.4h1.2v1.2h-1.2z"/><path d="M641.8 378.9h1.2v1.2h-1.2z"/><path d="M635.5 379.6h1.2v1.2h-1.2z"/><path d="M610.3 384.5h1.2v1.2h-1.2z"/><path d="M614.9 377.0h1.2v1.2h-1.2z"/><path d="M667.5 385.5h1.2v1.2h-1.2z"/><path d="M659.7 386.0h1.2v1.2h-1.2z"/><path d="M625.0 344.0h1.2v1.2h-1.2z"/><path d="M645.8 365.9h1.2v1.2h-1.2z"/><path d="M629.5 381.7h1.2v1.2h-1.2z"/><path d="M673.1 372.8h1.2v1.2h-1.2z"/><path d="M624.6 366.3h1.2v1.2h-1.2z"/><path d="M648.4 378.1h1.2v1.2h-1.2z"/><path d="M666.9 371.6h1.2v1.2h-1.2z"/><path d="M676.2 368.1h1.2v1.2h-1.2z"/><path d="M653.9 354.5h1.2v1.2h-1.2z"/><path d="M613.7 373.2h1.2v1.2h-1.2z"/><path d="M644.3 377.9h1.2v1.2h-1.2z"/><path d="M650.0 357.1h1.2v1.2h-1.2z"/><path d="M611.8 366.2h1.2v1.2h-1.2z"/><path d="M645.1 375.1h1.2v1.2h-1.2z"/><path d="M630.2 362.0h1.2v1.2h-1.2z"/><path d="M643.6 377.4h1.2v1.2h-1.2z"/><path d="M667.6 372.4h1.2v1.2h-1.2z"/><path d="M617.4 381.9h1.2v1.2h-1.2z"/><path d="M613.9 387.1h1.2v1.2h-1.2z"/><path d="M614.5 355.8h1.2v1.2h-1.2z"/><path d="M627.8 390.5h1.2v1.2h-1.2z"/><path d="M675.1 362.7h1.2v1.2h-1.2z"/><path d="M676.3 372.8h1.2v1.2h-1.2z"/><path d="M621.0 377.5h1.2v1.2h-1.2z"/><path d="M637.4 381.6h1.2v1.2h-1.2z"/><path d="M635.3 374.7h1.2v1.2h-1.2z"/><path d="M650.7 376.9h1.2v1.2h-1.2z"/><path d="M625.9 378.2h1.2v1.2h-1.2z"/><path d="M613.0 377.4h1.2v1.2h-1.2z"/><path d="M660.1 377.2h1.2v1.2h-1.2z"/><path d="M666.7 391.4h1.2v1.2h-1.2z"/><path d="M663.7 378.8h1.2v1.2h-1.2z"/><path d="M648.3 368.3h1.2v1.2h-1.2z"/><path d="M612.6 391.6h1.2v1.2h-1.2z"/><path d="M611.2 380.8h1.2v1.2h-1.2z"/><path d="M669.7 372.0h1.2v1.2h-1.2z"/><path d="M656.4 378.3h1.2v1.2h-1.2z"/><path d="M648.0 375.3h1.2v1.2h-1.2z"/><path d="M615.5 366.5h1.2v1.2h-1.2z"/><path d="M620.0 361.1h1.2v1.2h-1.2z"/><path d="M635.6 378.8h1.2v1.2h-1.2z"/><path d="M646.8 393.7h1.2v1.2h-1.2z"/><path d="M651.4 371.4h1.2v1.2h-1.2z"/><path d="M667.3 371.5h1.2v1.2h-1.2z"/><path d="M658.5 360.7h1.2v1.2h-1.2z"/><path d="M636.7 372.7h1.2v1.2h-1.2z"/><path d="M656.5 366.1h1.2v1.2h-1.2z"/><path d="M638.4 372.3h1.2v1.2h-1.2z"/><path d="M619.0 386.1h1.2v1.2h-1.2z"/><path d="M665.9 374.4h1.2v1.2h-1.2z"/><path d="M653.7 377.0h1.2v1.2h-1.2z"/><path d="M643.3 385.5h1.2v1.2h-1.2z"/><path d="M643.0 362.4h1.2v1.2h-1.2z"/><path d="M651.2 377.0h1.2v1.2h-1.2z"/><path d="M666.8 356.6h1.2v1.2h-1.2z"/><path d="M650.6 372.3h1.2v1.2h-1.2z"/><path d="M614.2 373.5h1.2v1.2h-1.2z"/><path d="M627.4 382.7h1.2v1.2h-1.2z"/><path d="M636.6 364.3h1.2v1.2h-1.2z"/><path d="M654.8 363.3h1.2v1.2h-1.2z"/><path d="M670.5 385.2h1.2v1.2h-1.2z"/><path d="M616.2 356.6h1.2v1.2h-1.2z"/><path d="M628.7 355.7h1.2v1.2h-1.2z"/><path d="M666.5 376.9h1.2v1.2h-1.2z"/><path d="M615.4 365.7h1.2v1.2h-1.2z"/><path d="M660.7 366.0h1.2v1.2h-1.2z"/><path d="M634.7 378.7h1.2v1.2h-1.2z"/><path d="M654.4 391.5h1.2v1.2h-1.2z"/><path d="M657.4 360.2h1.2v1.2h-1.2z"/><path d="M617.0 373.2h1.2v1.2h-1.2z"/><path d="M618.3 374.9h1.2v1.2h-1.2z"/><path d="M626.5 379.0h1.2v1.2h-1.2z"/><path d="M614.8 384.2h1.2v1.2h-1.2z"/><path d="M648.5 367.6h1.2v1.2h-1.2z"/><path d="M651.0 378.0h1.2v1.2h-1.2z"/><path d="M625.7 392.9h1.2v1.2h-1.2z"/><path d="M656.4 376.9h1.2v1.2h-1.2z"/><path d="M666.6 371.9h1.2v1.2h-1.2z"/><path d="M651.9 381.5h1.2v1.2h-1.2z"/><path d="M615.5 388.2h1.2v1.2h-1.2z"/><path d="M640.7 371.0h1.2v1.2h-1.2z"/><path d="M611.4 371.8h1.2v1.2h-1.2z"/><path d="M675.3 384.3h1.2v1.2h-1.2z"/><path d="M615.4 370.6h1.2v1.2h-1.2z"/><path d="M674.5 371.8h1.2v1.2h-1.2z"/><path d="M655.9 380.4h1.2v1.2h-1.2z"/><path d="M617.2 358.6h1.2v1.2h-1.2z"/><path d="M620.6 386.3h1.2v1.2h-1.2z"/><path d="M612.6 377.1h1.2v1.2h-1.2z"/><path d="M617.6 384.3h1.2v1.2h-1.2z"/><path d="M659.3 394.0h1.2v1.2h-1.2z"/><path d="M623.1 379.8h1.2v1.2h-1.2z"/><path d="M615.2 372.9h1.2v1.2h-1.2z"/><path d="M629.1 375.6h1.2v1.2h-1.2z"/><path d="M659.2 369.7h1.2v1.2h-1.2z"/><path d="M640.4 376.7h1.2v1.2h-1.2z"/><path d="M611.1 365.4h1.2v1.2h-1.2z"/><path d="M613.3 372.0h1.2v1.2h-1.2z"/><path d="M657.2 362.3h1.2v1.2h-1.2z"/><path d="M618.2 372.7h1.2v1.2h-1.2z"/><path d="M664.3 380.8h1.2v1.2h-1.2z"/><path d="M652.4 383.1h1.2v1.2h-1.2z"/><path d="M611.0 387.3h1.2v1.2h-1.2z"/><path d="M634.9 373.2h1.2v1.2h-1.2z"/><path d="M653.6 391.0h1.2v1.2h-1.2z"/><path d="M650.9 375.0h1.2v1.2h-1.2z"/><path d="M647.5 376.8h1.2v1.2h-1.2z"/><path d="M651.7 393.1h1.2v1.2h-1.2z"/><path d="M668.2 375.1h1.2v1.2h-1.2z"/><path d="M627.8 359.6h1.2v1.2h-1.2z"/><path d="M670.6 372.3h1.2v1.2h-1.2z"/><path d="M648.2 357.0h1.2v1.2h-1.2z"/><path d="M636.5 372.3h1.2v1.2h-1.2z"/><path d="M610.8 364.1h1.2v1.2h-1.2z"/><path d="M626.2 371.0h1.2v1.2h-1.2z"/><path d="M630.0 375.6h1.2v1.2h-1.2z"/><path d="M655.9 382.5h1.2v1.2h-1.2z"/><path d="M667.2 355.4h1.2v1.2h-1.2z"/><path d="M614.5 379.2h1.2v1.2h-1.2z"/><path d="M638.3 373.4h1.2v1.2h-1.2z"/><path d="M629.5 356.6h1.2v1.2h-1.2z"/><path d="M616.6 387.3h1.2v1.2h-1.2z"/><path d="M648.5 370.7h1.2v1.2h-1.2z"/><path d="M626.9 383.9h1.2v1.2h-1.2z"/><path d="M630.7 382.5h1.2v1.2h-1.2z"/><path d="M667.6 365.3h1.2v1.2h-1.2z"/><path d="M642.2 359.6h1.2v1.2h-1.2z"/><path d="M656.3 396.3h1.2v1.2h-1.2z"/><path d="M643.1 398.9h1.2v1.2h-1.2z"/><path d="M644.3 375.6h1.2v1.2h-1.2z"/><path d="M652.6 378.1h1.2v1.2h-1.2z"/><path d="M654.2 370.2h1.2v1.2h-1.2z"/><path d="M636.3 367.4h1.2v1.2h-1.2z"/><path d="M657.5 360.1h1.2v1.2h-1.2z"/><path d="M612.9 357.1h1.2v1.2h-1.2z"/><path d="M658.1 388.0h1.2v1.2h-1.2z"/><path d="M639.7 375.2h1.2v1.2h-1.2z"/><path d="M612.3 361.0h1.2v1.2h-1.2z"/><path d="M665.7 381.2h1.2v1.2h-1.2z"/><path d="M612.4 356.2h1.2v1.2h-1.2z"/><path d="M614.1 372.9h1.2v1.2h-1.2z"/><path d="M667.8 382.5h1.2v1.2h-1.2z"/><path d="M618.7 370.6h1.2v1.2h-1.2z"/><path d="M615.5 376.0h1.2v1.2h-1.2z"/><path d="M652.7 384.2h1.2v1.2h-1.2z"/><path d="M671.6 350.9h1.2v1.2h-1.2z"/><path d="M632.2 365.1h1.2v1.2h-1.2z"/><path d="M676.7 381.5h1.2v1.2h-1.2z"/><path d="M675.9 370.0h1.2v1.2h-1.2z"/><path d="M676.1 372.0h1.2v1.2h-1.2z"/><path d="M676.3 364.9h1.2v1.2h-1.2z"/><path d="M676.5 367.3h1.2v1.2h-1.2z"/><path d="M676.0 369.6h1.2v1.2h-1.2z"/><path d="M676.7 366.0h1.2v1.2h-1.2z"/><path d="M676.5 372.7h1.2v1.2h-1.2z"/><path d="M676.3 373.4h1.2v1.2h-1.2z"/><path d="M676.1 370.0h1.2v1.2h-1.2z"/><path d="M676.0 361.1h1.2v1.2h-1.2z"/><path d="M676.8 380.4h1.2v1.2h-1.2z"/><path d="M676.3 378.9h1.2v1.2h-1.2z"/><path d="M677.1 366.0h1.2v1.2h-1.2z"/><path d="M676.2 355.6h1.2v1.2h-1.2z"/><path d="M676.4 359.4h1.2v1.2h-1.2z"/><path d="M676.6 368.2h1.2v1.2h-1.2z"/><path d="M676.0 385.5h1.2v1.2h-1.2z"/><path d="M676.4 351.6h1.2v1.2h-1.2z"/><path d="M676.9 369.3h1.2v1.2h-1.2z"/><path d="M676.8 357.3h1.2v1.2h-1.2z"/><path d="M676.1 381.8h1.2v1.2h-1.2z"/><path d="M676.6 377.2h1.2v1.2h-1.2z"/><path d="M676.1 370.7h1.2v1.2h-1.2z"/><path d="M676.3 369.8h1.2v1.2h-1.2z"/><path d="M677.0 367.7h1.2v1.2h-1.2z"/><path d="M676.0 361.8h1.2v1.2h-1.2z"/><path d="M676.6 384.1h1.2v1.2h-1.2z"/><path d="M676.4 348.0h1.2v1.2h-1.2z"/><path d="M676.9 388.7h1.2v1.2h-1.2z"/><path d="M676.7 374.2h1.2v1.2h-1.2z"/><path d="M676.8 372.7h1.2v1.2h-1.2z"/><path d="M676.5 373.7h1.2v1.2h-1.2z"/><path d="M676.6 367.3h1.2v1.2h-1.2z"/><path d="M676.6 363.6h1.2v1.2h-1.2z"/><path d="M677.1 369.6h1.2v1.2h-1.2z"/><path d="M677.1 390.4h1.2v1.2h-1.2z"/><path d="M676.7 359.3h1.2v1.2h-1.2z"/><path d="M676.5 374.2h1.2v1.2h-1.2z"/><path d="M676.0 377.9h1.2v1.2h-1.2z"/><path d="M543.1 340.5h1.2v1.2h-1.2z"/><path d="M573.7 339.4h1.2v1.2h-1.2z"/><path d="M606.2 340.4h1.2v1.2h-1.2z"/><path d="M660.3 332.0h1.2v1.2h-1.2z"/><path d="M587.6 311.0h1.2v1.2h-1.2z"/><path d="M606.4 314.0h1.2v1.2h-1.2z"/><path d="M649.2 301.9h1.2v1.2h-1.2z"/><path d="M618.1 315.3h1.2v1.2h-1.2z"/><path d="M583.1 324.4h1.2v1.2h-1.2z"/><path d="M674.1 344.7h1.2v1.2h-1.2z"/><path d="M572.9 343.1h1.2v1.2h-1.2z"/><path d="M669.8 323.7h1.2v1.2h-1.2z"/><path d="M606.3 308.9h1.2v1.2h-1.2z"/><path d="M642.9 321.8h1.2v1.2h-1.2z"/><path d="M638.5 341.5h1.2v1.2h-1.2z"/><path d="M616.0 331.3h1.2v1.2h-1.2z"/><path d="M603.9 305.9h1.2v1.2h-1.2z"/><path d="M589.4 302.8h1.2v1.2h-1.2z"/><path d="M544.3 344.1h1.2v1.2h-1.2z"/><path d="M576.6 306.1h1.2v1.2h-1.2z"/><path d="M585.5 302.7h1.2v1.2h-1.2z"/><path d="M613.3 310.3h1.2v1.2h-1.2z"/><path d="M550.2 328.7h1.2v1.2h-1.2z"/><path d="M664.9 300.6h1.2v1.2h-1.2z"/><path d="M630.8 326.2h1.2v1.2h-1.2z"/><path d="M593.9 319.0h1.2v1.2h-1.2z"/><path d="M516.8 315.8h1.2v1.2h-1.2z"/><path d="M599.8 315.1h1.2v1.2h-1.2z"/><path d="M676.0 315.3h1.2v1.2h-1.2z"/><path d="M652.0 336.5h1.2v1.2h-1.2z"/><path d="M643.7 322.1h1.2v1.2h-1.2z"/><path d="M595.9 338.0h1.2v1.2h-1.2z"/><path d="M534.0 310.1h1.2v1.2h-1.2z"/><path d="M517.1 322.1h1.2v1.2h-1.2z"/><path d="M588.4 343.0h1.2v1.2h-1.2z"/></g>
<path d="M516.00,378.14 L517.34,376.89 L518.69,375.67 L520.03,374.47 L521.37,373.31 L522.71,372.19 L524.06,371.10 L525.40,370.04 L526.74,369.03 L528.09,368.05 L529.43,367.12 L530.77,366.14 L532.11,365.15 L533.46,364.20 L534.80,363.30 L536.14,362.45 L537.49,361.64 L538.83,360.89 L540.17,360.19 L541.51,359.54 L542.86,358.94 L544.20,358.41 L545.54,357.92 L546.89,357.50 L548.23,357.14 L549.57,356.84 L550.91,356.60 L552.26,356.43 L553.60,356.32 L554.94,356.28 L556.29,356.31 L557.63,356.39 L558.97,356.54 L560.31,356.73 L561.66,356.98 L563.00,357.28 L564.34,357.62 L565.69,358.00 L567.03,358.42 L568.37,358.87 L569.71,359.35 L571.06,359.86 L572.40,360.40 L573.74,360.95 L575.09,361.52 L576.43,362.11 L577.77,362.70 L579.11,363.30 L580.46,363.91 L581.80,364.51 L583.14,365.11 L584.49,365.71 L585.83,366.29 L587.17,366.86 L588.51,367.41 L589.86,367.95 L591.20,368.45 L592.54,368.93 L593.89,369.38 L595.23,369.80 L596.57,370.19 L597.91,370.55 L599.26,370.88 L600.60,371.18 L601.94,371.46 L603.29,371.72 L604.63,371.95 L605.97,372.17 L607.31,372.36 L608.66,372.53 L610.00,372.69 L611.34,372.82 L612.69,372.95 L614.03,373.06 L615.37,373.15 L616.71,373.24 L618.06,373.31 L619.40,373.38 L620.74,373.44 L622.09,373.49 L623.43,373.53 L624.77,373.57 L626.11,373.61 L627.46,373.65 L628.80,373.69 L630.14,373.72 L631.49,373.76 L632.83,373.80 L634.17,373.85 L635.51,373.90 L636.86,373.96 L638.20,374.03 L639.54,374.10 L640.89,374.19 L642.23,374.28 L643.57,374.39 L644.91,374.50 L646.26,374.63 L647.60,374.77 L648.94,374.92 L650.29,375.05 L651.63,375.13 L652.97,375.21 L654.31,375.31 L655.66,375.42 L657.00,375.55 L658.34,375.69 L659.69,375.85 L661.03,376.03 L662.37,376.22 L663.71,376.43 L665.06,376.66 L666.40,376.90 L667.74,377.17 L669.09,377.45 L670.43,377.76 L671.77,378.09 L673.11,378.43 L674.46,378.80 L675.80,379.19 L675.80,386.19 L674.46,385.59 L673.11,385.02 L671.77,384.46 L670.43,383.93 L669.09,383.41 L667.74,382.92 L666.40,382.45 L665.06,381.99 L663.71,381.56 L662.37,381.14 L661.03,380.74 L659.69,380.35 L658.34,379.99 L657.00,379.63 L655.66,379.30 L654.31,378.98 L652.97,378.67 L651.63,378.38 L650.29,378.10 L648.94,377.92 L647.60,377.77 L646.26,377.63 L644.91,377.50 L643.57,377.39 L642.23,377.28 L640.89,377.19 L639.54,377.10 L638.20,377.03 L636.86,376.96 L635.51,376.90 L634.17,376.85 L632.83,376.80 L631.49,376.76 L630.14,376.72 L628.80,376.69 L627.46,376.65 L626.11,376.61 L624.77,376.57 L623.43,376.53 L622.09,376.49 L620.74,376.44 L619.40,376.38 L618.06,376.31 L616.71,376.24 L615.37,376.15 L614.03,376.06 L612.69,375.95 L611.34,375.82 L610.00,375.69 L608.66,375.53 L607.31,375.36 L605.97,375.17 L604.63,374.95 L603.29,374.72 L601.94,374.46 L600.60,374.18 L599.26,373.88 L597.91,373.55 L596.57,373.19 L595.23,372.80 L593.89,372.38 L592.54,371.93 L591.20,371.45 L589.86,370.95 L588.51,370.41 L587.17,369.86 L585.83,369.29 L584.49,368.71 L583.14,368.11 L581.80,367.51 L580.46,366.91 L579.11,366.30 L577.77,365.70 L576.43,365.11 L575.09,364.52 L573.74,363.95 L572.40,363.40 L571.06,362.86 L569.71,362.35 L568.37,361.87 L567.03,361.42 L565.69,361.00 L564.34,360.62 L563.00,360.28 L561.66,359.98 L560.31,359.73 L558.97,359.54 L557.63,359.39 L556.29,359.31 L554.94,359.28 L553.60,359.32 L552.26,359.43 L550.91,359.60 L549.57,359.84 L548.23,360.14 L546.89,360.50 L545.54,360.92 L544.20,361.41 L542.86,361.94 L541.51,362.54 L540.17,363.19 L538.83,363.89 L537.49,364.64 L536.14,365.45 L534.80,366.30 L533.46,367.20 L532.11,368.15 L530.77,369.14 L529.43,370.24 L528.09,371.46 L526.74,372.73 L525.40,374.03 L524.06,375.37 L522.71,376.75 L521.37,378.16 L520.03,379.61 L518.69,381.09 L517.34,382.60 L516.00,384.14 Z" fill="#a9a9a9" opacity="0.8"/>
<path d="M516.00,381.14 L517.34,379.75 L518.69,378.38 L520.03,377.04 L521.37,375.74 L522.71,374.47 L524.06,373.23 L525.40,372.04 L526.74,370.88 L528.09,369.76 L529.43,368.68 L530.77,367.64 L532.11,366.65 L533.46,365.70 L534.80,364.80 L536.14,363.95 L537.49,363.14 L538.83,362.39 L540.17,361.69 L541.51,361.04 L542.86,360.44 L544.20,359.91 L545.54,359.42 L546.89,359.00 L548.23,358.64 L549.57,358.34 L550.91,358.10 L552.26,357.93 L553.60,357.82 L554.94,357.78 L556.29,357.81 L557.63,357.89 L558.97,358.04 L560.31,358.23 L561.66,358.48 L563.00,358.78 L564.34,359.12 L565.69,359.50 L567.03,359.92 L568.37,360.37 L569.71,360.85 L571.06,361.36 L572.40,361.90 L573.74,362.45 L575.09,363.02 L576.43,363.61 L577.77,364.20 L579.11,364.80 L580.46,365.41 L581.80,366.01 L583.14,366.61 L584.49,367.21 L585.83,367.79 L587.17,368.36 L588.51,368.91 L589.86,369.45 L591.20,369.95 L592.54,370.43 L593.89,370.88 L595.23,371.30 L596.57,371.69 L597.91,372.05 L599.26,372.38 L600.60,372.68 L601.94,372.96 L603.29,373.22 L604.63,373.45 L605.97,373.67 L607.31,373.86 L608.66,374.03 L610.00,374.19 L611.34,374.32 L612.69,374.45 L614.03,374.56 L615.37,374.65 L616.71,374.74 L618.06,374.81 L619.40,374.88 L620.74,374.94 L622.09,374.99 L623.43,375.03 L624.77,375.07 L626.11,375.11 L627.46,375.15 L628.80,375.19 L630.14,375.22 L631.49,375.26 L632.83,375.30 L634.17,375.35 L635.51,375.40 L636.86,375.46 L638.20,375.53 L639.54,375.60 L640.89,375.69 L642.23,375.78 L643.57,375.89 L644.91,376.00 L646.26,376.13 L647.60,376.27 L648.94,376.42 L650.29,376.58 L651.63,376.75 L652.97,376.94 L654.31,377.14 L655.66,377.36 L657.00,377.59 L658.34,377.84 L659.69,378.10 L661.03,378.38 L662.37,378.68 L663.71,378.99 L665.06,379.32 L666.40,379.68 L667.74,380.05 L669.09,380.43 L670.43,380.84 L671.77,381.27 L673.11,381.72 L674.46,382.20 L675.80,382.69" fill="none" stroke="#161616" stroke-width="2.0" stroke-linejoin="round" stroke-linecap="butt"/>
<line x1="512.7" y1="252.5" x2="512.7" y2="414.8" stroke="#b0b0b0" stroke-width="1.7"/>
<line x1="508.50000000000006" y1="263.5" x2="512.7" y2="263.5" stroke="#505050" stroke-width="1"/>
<text x="503.5" y="267.4" font-size="11" text-anchor="end" stroke="#231f20" stroke-width="0.22" fill="#231f20">20</text>
<line x1="508.50000000000006" y1="312.5" x2="512.7" y2="312.5" stroke="#505050" stroke-width="1"/>
<text x="503.5" y="316.4" font-size="11" text-anchor="end" stroke="#231f20" stroke-width="0.22" fill="#231f20">15</text>
<line x1="508.50000000000006" y1="361.5" x2="512.7" y2="361.5" stroke="#505050" stroke-width="1"/>
<text x="503.5" y="365.4" font-size="11" text-anchor="end" stroke="#231f20" stroke-width="0.22" fill="#231f20">10</text>
<line x1="508.50000000000006" y1="410.5" x2="512.7" y2="410.5" stroke="#505050" stroke-width="1"/>
<text x="503.5" y="414.4" font-size="11" text-anchor="end" stroke="#231f20" stroke-width="0.22" fill="#231f20">5</text>
<line x1="508.5" y1="410.6" x2="683.8" y2="410.6" stroke="#505050" stroke-width="1.1"/>
<text x="512.7" y="428.6" font-size="11" text-anchor="middle" stroke="#231f20" stroke-width="0.22" fill="#231f20">0</text>
<line x1="535.8931024229188" y1="410.6" x2="535.8931024229188" y2="414.8" stroke="#505050" stroke-width="1"/>
<text x="535.89" y="428.6" font-size="11" text-anchor="middle" stroke="#231f20" stroke-width="0.22" fill="#231f20">2</text>
<line x1="549.3715148309966" y1="410.6" x2="549.3715148309966" y2="414.8" stroke="#505050" stroke-width="1"/>
<text x="549.37" y="428.6" font-size="11" text-anchor="middle" stroke="#231f20" stroke-width="0.22" fill="#231f20">5</text>
<line x1="564.5613536267615" y1="410.6" x2="564.5613536267615" y2="414.8" stroke="#505050" stroke-width="1"/>
<text x="564.56" y="428.6" font-size="11" text-anchor="middle" stroke="#231f20" stroke-width="0.22" fill="#231f20">10</text>
<line x1="594.7" y1="410.6" x2="594.7" y2="414.8" stroke="#505050" stroke-width="1"/>
<text x="594.7" y="428.6" font-size="11" text-anchor="middle" stroke="#231f20" stroke-width="0.22" fill="#231f20">25</text>
<line x1="628.6655121145939" y1="410.6" x2="628.6655121145939" y2="414.8" stroke="#505050" stroke-width="1"/>
<text x="628.67" y="428.6" font-size="11" text-anchor="middle" stroke="#231f20" stroke-width="0.22" fill="#231f20">50</text>
<line x1="676.7" y1="410.6" x2="676.7" y2="414.8" stroke="#505050" stroke-width="1"/>
<text x="676.7" y="428.6" font-size="11" text-anchor="middle" stroke="#231f20" stroke-width="0.22" fill="#231f20">100</text>
<text x="598" y="447.6" font-size="11" text-anchor="middle" stroke="#231f20" stroke-width="0.22" fill="#231f20" textLength="54.5" lengthAdjust="spacingAndGlyphs">Age (years)</text>
<text x="482.3" y="331.5" font-size="11" text-anchor="middle" stroke="#231f20" stroke-width="0.22" fill="#231f20" transform="rotate(-90 482.3 331.5)" textLength="103" lengthAdjust="spacingAndGlyphs">Structural dispersion</text>
<text x="475.0" y="237.6" font-size="16" text-anchor="start" font-weight="bold" stroke="#000" stroke-width="0.35" fill="#231f20">f</text>
</svg></body></html>
